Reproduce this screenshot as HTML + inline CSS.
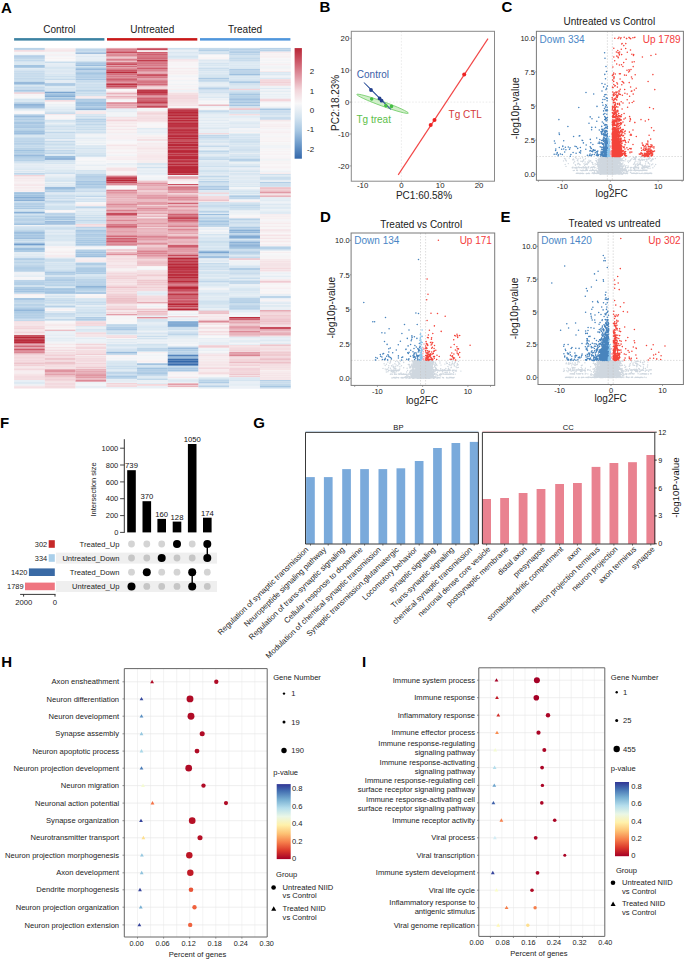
<!DOCTYPE html>
<html><head><meta charset="utf-8"><title>Figure</title>
<style>html,body{margin:0;padding:0;background:#fff;overflow:hidden;width:685px;height:960px;}svg{display:block;}text{font-family:"Liberation Sans",sans-serif;}</style></head><body>
<svg width="685" height="960" viewBox="0 0 685 960" font-family="Liberation Sans, sans-serif">
<rect width="685" height="960" fill="#fff"/>
<text x="1.00" y="12.90" font-size="15" text-anchor="start" fill="#000" font-weight="bold">A</text>
<text x="59.40" y="33.30" font-size="10" text-anchor="middle" fill="#1a1a1a">Control</text>
<text x="152.30" y="33.30" font-size="10" text-anchor="middle" fill="#1a1a1a">Untreated</text>
<text x="245.00" y="33.30" font-size="10" text-anchor="middle" fill="#1a1a1a">Treated</text>
<rect x="14.1" y="38.1" width="90.3" height="2.5" fill="#3c82a2"/>
<rect x="107" y="38.1" width="90.3" height="2.5" fill="#c81818"/>
<rect x="200" y="38.1" width="90.4" height="2.5" fill="#5096dc"/>
<style>.hm rect{width:30.78px}</style>
<g class="hm" transform="translate(14.10 0)"><rect y="47.9" height="2.1" fill="#bad3e8"/><rect y="49.9" height="0.5" fill="#e6edf4"/><rect y="50.3" height="1.4" fill="#f1d1d6"/><rect y="51.6" height="0.2" fill="#f2d4d9"/><rect y="51.7" height="1.1" fill="#f4f5f7"/><rect y="52.7" height="1.1" fill="#f4f5f7"/><rect y="53.7" height="1.6" fill="#f0f3f6"/><rect y="55.2" height="1.4" fill="#b3cee6"/><rect y="56.5" height="1.1" fill="#9abddd"/><rect y="57.5" height="1.4" fill="#b7d1e7"/><rect y="58.8" height="1.7" fill="#cde0ee"/><rect y="60.4" height="1.2" fill="#abcae4"/><rect y="61.5" height="1.1" fill="#dbe8f2"/><rect y="62.5" height="1.1" fill="#cee0ee"/><rect y="63.5" height="1.4" fill="#d6e5f0"/><rect y="64.8" height="0.3" fill="#e7eef4"/><rect y="65.0" height="2.1" fill="#a3c4e1"/><rect y="67.0" height="1.1" fill="#b1cde5"/><rect y="68.0" height="0.6" fill="#dbe8f2"/><rect y="68.5" height="2.1" fill="#dbe8f2"/><rect y="70.5" height="1.4" fill="#c2d8eb"/><rect y="71.8" height="1.1" fill="#cddfee"/><rect y="72.8" height="2.1" fill="#c6dbec"/><rect y="74.8" height="1.4" fill="#cadded"/><rect y="76.1" height="1.6" fill="#c3d9eb"/><rect y="77.6" height="1.4" fill="#c3d9eb"/><rect y="78.9" height="1.4" fill="#c9dded"/><rect y="80.2" height="2.1" fill="#c4daeb"/><rect y="82.2" height="1.7" fill="#83abd3"/><rect y="83.8" height="1.7" fill="#b5d0e7"/><rect y="85.4" height="1.4" fill="#d9e7f1"/><rect y="86.7" height="1.1" fill="#b2cee6"/><rect y="87.7" height="2.1" fill="#cadded"/><rect y="89.7" height="1.7" fill="#a9c8e3"/><rect y="91.3" height="1.1" fill="#afcce5"/><rect y="92.3" height="0.2" fill="#abc9e4"/><rect y="92.4" height="1.5" fill="#f0ced3"/><rect y="93.8" height="1.4" fill="#f5f5f7"/><rect y="95.1" height="1.4" fill="#f7f3f5"/><rect y="96.4" height="1.4" fill="#f4f5f7"/><rect y="97.7" height="1.1" fill="#f1f4f7"/><rect y="98.7" height="2.1" fill="#d5e5f0"/><rect y="100.7" height="1.1" fill="#d2e3f0"/><rect y="101.7" height="0.4" fill="#dee9f2"/><rect y="102.0" height="1.7" fill="#c2d8ea"/><rect y="103.6" height="2.1" fill="#8eb4d8"/><rect y="105.6" height="1.1" fill="#739fcd"/><rect y="106.6" height="1.1" fill="#a9c8e3"/><rect y="107.6" height="1.0" fill="#7ea7d1"/><rect y="108.5" height="2.1" fill="#dee9f2"/><rect y="110.5" height="0.9" fill="#e5edf4"/><rect y="111.3" height="1.4" fill="#f8f5f7"/><rect y="112.6" height="1.5" fill="#f7f6f8"/><rect y="114.0" height="1.4" fill="#c9dded"/><rect y="115.3" height="2.1" fill="#9bbddd"/><rect y="117.3" height="1.1" fill="#a5c5e2"/><rect y="118.3" height="2.1" fill="#b0cde5"/><rect y="120.3" height="1.4" fill="#b3cee6"/><rect y="121.6" height="1.7" fill="#a7c7e2"/><rect y="123.2" height="1.4" fill="#99bcdd"/><rect y="124.5" height="1.7" fill="#afcce5"/><rect y="126.1" height="1.1" fill="#a7c7e2"/><rect y="127.1" height="1.1" fill="#a2c3e0"/><rect y="128.1" height="2.1" fill="#bbd4e8"/><rect y="130.1" height="1.1" fill="#accae4"/><rect y="131.1" height="1.7" fill="#9abddd"/><rect y="132.7" height="2.1" fill="#9cbede"/><rect y="134.7" height="2.1" fill="#d8e6f1"/><rect y="136.7" height="1.1" fill="#c9dded"/><rect y="137.7" height="1.7" fill="#c0d7ea"/><rect y="139.3" height="1.4" fill="#b0cde5"/><rect y="140.6" height="2.1" fill="#bad3e8"/><rect y="142.6" height="1.7" fill="#b6d0e7"/><rect y="144.2" height="1.4" fill="#b0cce5"/><rect y="145.5" height="2.1" fill="#c3d9eb"/><rect y="147.5" height="2.1" fill="#b8d2e7"/><rect y="149.5" height="2.1" fill="#a0c2e0"/><rect y="151.5" height="1.4" fill="#a8c7e2"/><rect y="152.8" height="1.7" fill="#bbd4e8"/><rect y="154.4" height="1.7" fill="#97badc"/><rect y="156.0" height="1.1" fill="#abc9e3"/><rect y="157.0" height="1.4" fill="#b3cee6"/><rect y="158.3" height="1.4" fill="#a9c8e3"/><rect y="159.6" height="2.1" fill="#b6d1e7"/><rect y="161.6" height="1.5" fill="#d4e4f0"/><rect y="163.0" height="1.7" fill="#e0eaf3"/><rect y="164.6" height="1.7" fill="#e3ecf3"/><rect y="166.2" height="1.1" fill="#e0eaf3"/><rect y="167.2" height="1.4" fill="#dce8f2"/><rect y="168.5" height="1.4" fill="#d4e4f0"/><rect y="169.8" height="1.1" fill="#ecf0f5"/><rect y="170.8" height="1.7" fill="#d9e7f1"/><rect y="172.4" height="0.7" fill="#dce8f2"/><rect y="173.0" height="1.1" fill="#bfd6ea"/><rect y="174.0" height="1.1" fill="#cee0ee"/><rect y="175.0" height="1.7" fill="#f2d4d9"/><rect y="176.6" height="1.4" fill="#f6edef"/><rect y="177.9" height="1.4" fill="#f5e8eb"/><rect y="179.2" height="2.1" fill="#f6ecee"/><rect y="181.2" height="1.1" fill="#f6edef"/><rect y="182.2" height="1.7" fill="#f7f1f3"/><rect y="183.8" height="1.4" fill="#f6e9ec"/><rect y="185.1" height="1.1" fill="#f5e5e8"/><rect y="186.1" height="1.1" fill="#f7f1f3"/><rect y="187.1" height="1.7" fill="#f6e9eb"/><rect y="188.7" height="1.1" fill="#f7f0f2"/><rect y="189.7" height="2.1" fill="#f6edef"/><rect y="191.7" height="0.4" fill="#f7f2f3"/><rect y="192.0" height="1.1" fill="#abcae4"/><rect y="193.0" height="1.7" fill="#a2c3e0"/><rect y="194.6" height="2.1" fill="#a0c2e0"/><rect y="196.6" height="2.1" fill="#87aed5"/><rect y="198.6" height="1.1" fill="#98bbdc"/><rect y="199.6" height="1.7" fill="#8ab0d6"/><rect y="201.2" height="1.4" fill="#c7dbec"/><rect y="202.5" height="1.7" fill="#b5d0e7"/><rect y="204.1" height="1.4" fill="#aecbe4"/><rect y="205.4" height="1.7" fill="#aecbe5"/><rect y="207.0" height="1.1" fill="#bfd6ea"/><rect y="208.0" height="1.1" fill="#abc9e3"/><rect y="209.0" height="2.1" fill="#d4e4f0"/><rect y="211.0" height="1.1" fill="#c3d9eb"/><rect y="212.0" height="1.1" fill="#88afd6"/><rect y="213.0" height="1.1" fill="#b3cee6"/><rect y="214.0" height="1.4" fill="#d3e3f0"/><rect y="215.3" height="2.1" fill="#b6d1e7"/><rect y="217.3" height="2.1" fill="#bdd5e9"/><rect y="219.3" height="1.4" fill="#a4c5e1"/><rect y="220.6" height="1.1" fill="#b1cde5"/><rect y="221.6" height="1.7" fill="#bed5e9"/><rect y="223.2" height="1.9" fill="#a2c3e0"/><rect y="225.0" height="1.1" fill="#f0f3f6"/><rect y="226.0" height="0.6" fill="#eaf0f5"/><rect y="226.5" height="1.1" fill="#c2d8eb"/><rect y="227.5" height="1.4" fill="#cbdeed"/><rect y="228.8" height="1.4" fill="#ccdfed"/><rect y="230.1" height="1.4" fill="#bbd4e8"/><rect y="231.4" height="1.7" fill="#9dbfde"/><rect y="233.0" height="1.7" fill="#a2c3e0"/><rect y="234.6" height="1.4" fill="#a5c5e2"/><rect y="235.9" height="1.4" fill="#adcbe4"/><rect y="237.2" height="2.1" fill="#9ebfde"/><rect y="239.2" height="2.1" fill="#c4daeb"/><rect y="241.2" height="1.4" fill="#ccdfee"/><rect y="242.5" height="1.1" fill="#a4c4e1"/><rect y="243.5" height="1.7" fill="#719dcc"/><rect y="245.1" height="1.1" fill="#a9c8e3"/><rect y="246.1" height="1.7" fill="#c8dcec"/><rect y="247.7" height="1.4" fill="#9dbfde"/><rect y="249.0" height="1.1" fill="#9bbedd"/><rect y="250.0" height="2.1" fill="#adcbe4"/><rect y="252.0" height="1.4" fill="#e5edf4"/><rect y="253.3" height="1.7" fill="#dfeaf2"/><rect y="254.9" height="1.1" fill="#e6eef4"/><rect y="255.9" height="1.1" fill="#dce8f2"/><rect y="256.9" height="0.8" fill="#e9eff5"/><rect y="257.6" height="1.4" fill="#b9d3e8"/><rect y="258.9" height="1.1" fill="#aecbe5"/><rect y="259.9" height="2.1" fill="#c8dcec"/><rect y="261.9" height="1.4" fill="#bbd4e8"/><rect y="263.2" height="1.1" fill="#bfd6e9"/><rect y="264.2" height="2.1" fill="#bfd6e9"/><rect y="266.2" height="1.7" fill="#aecbe4"/><rect y="267.8" height="1.1" fill="#a9c8e3"/><rect y="268.8" height="2.1" fill="#b6d0e7"/><rect y="270.8" height="1.0" fill="#a6c6e2"/><rect y="271.7" height="2.1" fill="#eef1f6"/><rect y="273.7" height="1.7" fill="#edf1f6"/><rect y="275.3" height="1.7" fill="#e2ecf3"/><rect y="276.9" height="1.1" fill="#f8f5f7"/><rect y="277.9" height="1.7" fill="#f5f5f7"/><rect y="279.5" height="0.6" fill="#ebf0f5"/><rect y="280.0" height="2.1" fill="#bcd4e9"/><rect y="282.0" height="2.1" fill="#b5d0e7"/><rect y="284.0" height="1.1" fill="#b2cee6"/><rect y="285.0" height="2.1" fill="#d1e2ef"/><rect y="287.0" height="2.1" fill="#aecbe4"/><rect y="289.0" height="1.7" fill="#a1c2e0"/><rect y="290.6" height="2.1" fill="#a2c3e1"/><rect y="292.6" height="1.1" fill="#bdd5e9"/><rect y="293.6" height="0.5" fill="#c9dded"/><rect y="294.0" height="1.1" fill="#f7eef0"/><rect y="295.0" height="2.1" fill="#f8f6f7"/><rect y="297.0" height="1.1" fill="#f5f6f7"/><rect y="298.0" height="2.1" fill="#a7c6e2"/><rect y="300.0" height="2.1" fill="#bfd6ea"/><rect y="302.0" height="1.7" fill="#c5daeb"/><rect y="303.6" height="1.7" fill="#b8d2e7"/><rect y="305.2" height="1.1" fill="#aecbe4"/><rect y="306.2" height="1.1" fill="#bcd4e9"/><rect y="307.2" height="2.1" fill="#afcce5"/><rect y="309.2" height="2.1" fill="#92b7da"/><rect y="311.2" height="1.7" fill="#a4c5e1"/><rect y="312.8" height="2.1" fill="#b4cfe6"/><rect y="314.8" height="1.4" fill="#b3cfe6"/><rect y="316.1" height="2.1" fill="#b4cfe6"/><rect y="318.1" height="1.4" fill="#bbd4e9"/><rect y="319.4" height="1.9" fill="#c4d9eb"/><rect y="321.2" height="1.1" fill="#f3dadf"/><rect y="322.2" height="1.7" fill="#f4e0e4"/><rect y="323.8" height="2.1" fill="#f5e6e9"/><rect y="325.8" height="2.1" fill="#f3dade"/><rect y="327.8" height="1.4" fill="#f2d5da"/><rect y="329.1" height="1.4" fill="#f4e1e4"/><rect y="330.4" height="1.7" fill="#f4e1e5"/><rect y="332.0" height="1.7" fill="#f2d5da"/><rect y="333.6" height="1.4" fill="#f5e8eb"/><rect y="334.9" height="0.4" fill="#f2d7db"/><rect y="335.2" height="1.4" fill="#ba2c3c"/><rect y="336.5" height="2.1" fill="#b82636"/><rect y="338.5" height="1.4" fill="#bc3141"/><rect y="339.8" height="1.4" fill="#ba2c3c"/><rect y="341.1" height="2.0" fill="#ba2a3a"/><rect y="343.0" height="1.1" fill="#d77a88"/><rect y="344.0" height="1.4" fill="#e6abb5"/><rect y="345.3" height="2.1" fill="#d26a79"/><rect y="347.3" height="1.7" fill="#e29ca7"/><rect y="348.9" height="1.4" fill="#cc5868"/><rect y="350.2" height="1.1" fill="#d77a88"/><rect y="351.2" height="1.1" fill="#da8391"/><rect y="352.2" height="1.4" fill="#d57482"/><rect y="353.5" height="1.1" fill="#efcbd1"/><rect y="354.5" height="1.1" fill="#edc2c9"/><rect y="355.5" height="1.7" fill="#f4dde1"/><rect y="357.1" height="1.7" fill="#f2d4d9"/><rect y="358.7" height="1.1" fill="#f4dde1"/><rect y="359.7" height="1.7" fill="#f3d8dd"/><rect y="361.3" height="1.7" fill="#f2d5da"/><rect y="362.9" height="1.4" fill="#edc4cb"/><rect y="364.2" height="1.1" fill="#f1d2d7"/><rect y="365.2" height="0.9" fill="#efc9cf"/><rect y="366.0" height="1.7" fill="#f5e6e9"/><rect y="367.6" height="1.4" fill="#f4e2e5"/><rect y="368.9" height="1.7" fill="#f3d8dd"/><rect y="370.5" height="1.1" fill="#f6ebed"/><rect y="371.5" height="1.1" fill="#f5e8eb"/><rect y="372.5" height="1.1" fill="#f6ebee"/><rect y="373.5" height="1.1" fill="#f5e5e8"/><rect y="374.5" height="1.1" fill="#f3dce0"/><rect y="375.5" height="1.4" fill="#f3d9de"/><rect y="376.8" height="2.1" fill="#f3dce0"/><rect y="378.8" height="1.3" fill="#f4dde1"/><rect y="380.0" height="1.7" fill="#e9eff5"/><rect y="381.6" height="1.4" fill="#dde9f2"/><rect y="382.9" height="1.1" fill="#dee9f2"/><rect y="383.9" height="1.9" fill="#edf1f5"/><rect y="385.7" height="1.7" fill="#f5e5e8"/><rect y="387.3" height="1.1" fill="#f3d8dd"/><rect y="388.3" height="0.2" fill="#f6edef"/></g>
<g class="hm" transform="translate(44.83 0)"><rect y="47.9" height="1.1" fill="#f7f1f3"/><rect y="48.9" height="1.4" fill="#f6ebed"/><rect y="50.2" height="0.2" fill="#f6ecef"/><rect y="50.3" height="1.5" fill="#f4dfe3"/><rect y="51.7" height="1.1" fill="#f0f3f6"/><rect y="52.7" height="1.7" fill="#f4f5f7"/><rect y="54.3" height="1.4" fill="#f6edef"/><rect y="55.6" height="1.1" fill="#edf1f6"/><rect y="56.6" height="1.1" fill="#f8f6f7"/><rect y="57.6" height="1.7" fill="#f7f3f4"/><rect y="59.2" height="2.1" fill="#f8f7f8"/><rect y="61.2" height="0.4" fill="#f7f0f2"/><rect y="61.5" height="1.7" fill="#cadeed"/><rect y="63.1" height="2.1" fill="#e5edf4"/><rect y="65.1" height="2.1" fill="#e0eaf3"/><rect y="67.1" height="1.1" fill="#d2e3ef"/><rect y="68.1" height="1.1" fill="#d4e4f0"/><rect y="69.1" height="2.1" fill="#dde9f2"/><rect y="71.1" height="1.7" fill="#d7e5f1"/><rect y="72.7" height="1.4" fill="#e2ebf3"/><rect y="74.0" height="1.7" fill="#d8e6f1"/><rect y="75.6" height="2.1" fill="#cee0ee"/><rect y="77.6" height="1.4" fill="#d7e6f1"/><rect y="78.9" height="1.4" fill="#c6dbec"/><rect y="80.2" height="1.7" fill="#e3ecf3"/><rect y="81.8" height="1.4" fill="#e2ebf3"/><rect y="83.1" height="0.2" fill="#d5e5f0"/><rect y="83.2" height="1.7" fill="#a4c4e1"/><rect y="84.8" height="1.3" fill="#b4cfe6"/><rect y="86.0" height="1.7" fill="#dbe8f2"/><rect y="87.6" height="1.4" fill="#d6e5f0"/><rect y="88.9" height="2.1" fill="#d8e6f1"/><rect y="90.9" height="0.9" fill="#d2e3f0"/><rect y="91.7" height="1.7" fill="#7ba5d0"/><rect y="93.3" height="1.7" fill="#a1c2e0"/><rect y="94.9" height="1.1" fill="#9bbedd"/><rect y="95.9" height="1.1" fill="#81aad3"/><rect y="96.9" height="1.1" fill="#bdd5e9"/><rect y="97.9" height="2.1" fill="#a6c6e2"/><rect y="99.9" height="0.2" fill="#b1cde5"/><rect y="100.0" height="1.1" fill="#f3dce0"/><rect y="101.0" height="1.1" fill="#f5e5e8"/><rect y="102.0" height="2.1" fill="#f6f6f7"/><rect y="104.0" height="1.7" fill="#ecf1f5"/><rect y="105.6" height="1.1" fill="#edf1f6"/><rect y="106.6" height="1.1" fill="#dfeaf3"/><rect y="107.6" height="1.0" fill="#e2ecf3"/><rect y="108.5" height="2.1" fill="#dee9f2"/><rect y="110.5" height="1.1" fill="#d9e6f1"/><rect y="111.5" height="1.4" fill="#cee0ee"/><rect y="112.8" height="1.3" fill="#c8dcec"/><rect y="114.0" height="1.4" fill="#f5e7ea"/><rect y="115.3" height="2.1" fill="#f6f6f7"/><rect y="117.3" height="2.1" fill="#f8f4f6"/><rect y="119.3" height="0.5" fill="#f8f6f7"/><rect y="119.7" height="2.1" fill="#d0e2ef"/><rect y="121.7" height="1.1" fill="#d0e1ef"/><rect y="122.7" height="1.7" fill="#eaf0f5"/><rect y="124.3" height="1.1" fill="#d5e5f0"/><rect y="125.3" height="1.7" fill="#ccdeed"/><rect y="126.9" height="2.1" fill="#d9e6f1"/><rect y="128.9" height="1.7" fill="#d2e3ef"/><rect y="130.5" height="1.4" fill="#dde9f2"/><rect y="131.8" height="1.7" fill="#c0d7ea"/><rect y="133.4" height="1.4" fill="#d1e2ef"/><rect y="134.7" height="1.4" fill="#d5e4f0"/><rect y="136.0" height="1.4" fill="#d5e5f0"/><rect y="137.3" height="2.1" fill="#ccdfee"/><rect y="139.3" height="1.7" fill="#e5edf4"/><rect y="140.9" height="1.7" fill="#c5daeb"/><rect y="142.5" height="1.4" fill="#d4e4f0"/><rect y="143.8" height="1.1" fill="#c1d8ea"/><rect y="144.8" height="1.7" fill="#d3e3f0"/><rect y="146.4" height="1.1" fill="#d2e3ef"/><rect y="147.4" height="1.4" fill="#c1d8ea"/><rect y="148.7" height="1.4" fill="#dee9f2"/><rect y="150.0" height="1.1" fill="#c0d7ea"/><rect y="151.0" height="1.4" fill="#ccdfee"/><rect y="152.3" height="2.1" fill="#bdd5e9"/><rect y="154.3" height="1.1" fill="#dfeaf2"/><rect y="155.3" height="0.8" fill="#d2e3ef"/><rect y="156.0" height="2.1" fill="#9abddd"/><rect y="158.0" height="1.7" fill="#8db3d8"/><rect y="159.6" height="0.5" fill="#6c9aca"/><rect y="160.0" height="1.4" fill="#d2e2ef"/><rect y="161.3" height="1.1" fill="#cadded"/><rect y="162.3" height="2.1" fill="#d6e5f1"/><rect y="164.3" height="2.1" fill="#e7eef4"/><rect y="166.3" height="2.1" fill="#e4ecf4"/><rect y="168.3" height="1.1" fill="#e2ebf3"/><rect y="169.3" height="2.1" fill="#dbe8f1"/><rect y="171.3" height="1.1" fill="#d4e4f0"/><rect y="172.3" height="2.1" fill="#ccdfee"/><rect y="174.3" height="1.7" fill="#ebf0f5"/><rect y="175.9" height="1.4" fill="#e6eef4"/><rect y="177.2" height="2.1" fill="#dbe8f1"/><rect y="179.2" height="1.1" fill="#d4e4f0"/><rect y="180.2" height="1.7" fill="#cee0ee"/><rect y="181.8" height="1.1" fill="#f0f3f6"/><rect y="182.8" height="1.7" fill="#dde9f2"/><rect y="184.4" height="1.4" fill="#dfeaf2"/><rect y="185.7" height="1.1" fill="#cfe0ee"/><rect y="186.7" height="0.4" fill="#e0eaf3"/><rect y="187.0" height="2.1" fill="#9abddd"/><rect y="189.0" height="1.7" fill="#accae4"/><rect y="190.6" height="2.0" fill="#b2cee6"/><rect y="192.5" height="2.1" fill="#e0eaf3"/><rect y="194.5" height="1.4" fill="#c6dbec"/><rect y="195.8" height="1.7" fill="#cbdeed"/><rect y="197.4" height="2.1" fill="#c9dded"/><rect y="199.4" height="1.1" fill="#d9e6f1"/><rect y="200.4" height="1.7" fill="#bfd6e9"/><rect y="202.0" height="1.4" fill="#cadded"/><rect y="203.3" height="1.1" fill="#ccdfee"/><rect y="204.3" height="1.7" fill="#dbe8f2"/><rect y="205.9" height="2.1" fill="#d0e2ef"/><rect y="207.9" height="2.1" fill="#d0e1ef"/><rect y="209.9" height="0.2" fill="#d6e5f0"/><rect y="210.0" height="1.7" fill="#f8f5f6"/><rect y="211.6" height="1.3" fill="#f8f6f7"/><rect y="212.8" height="1.1" fill="#b9d2e8"/><rect y="213.8" height="1.7" fill="#bad3e8"/><rect y="215.4" height="1.4" fill="#b3cfe6"/><rect y="216.7" height="1.1" fill="#8fb4d8"/><rect y="217.7" height="1.1" fill="#abc9e3"/><rect y="218.7" height="1.7" fill="#a7c7e2"/><rect y="220.3" height="1.1" fill="#c1d8ea"/><rect y="221.3" height="1.4" fill="#7ba5d0"/><rect y="222.6" height="1.1" fill="#a9c8e3"/><rect y="223.6" height="1.1" fill="#74a0cd"/><rect y="224.6" height="0.9" fill="#dae7f1"/><rect y="225.4" height="1.1" fill="#dfeaf2"/><rect y="226.4" height="1.7" fill="#d0e1ef"/><rect y="228.0" height="1.1" fill="#cbdeed"/><rect y="229.0" height="1.4" fill="#d1e2ef"/><rect y="230.3" height="1.1" fill="#dde9f2"/><rect y="231.3" height="2.1" fill="#d9e6f1"/><rect y="233.3" height="1.4" fill="#dce8f2"/><rect y="234.6" height="2.1" fill="#d4e4f0"/><rect y="236.6" height="1.1" fill="#c7dcec"/><rect y="237.6" height="1.4" fill="#dce8f2"/><rect y="238.9" height="2.1" fill="#d7e6f1"/><rect y="240.9" height="1.7" fill="#e3ecf3"/><rect y="242.5" height="1.1" fill="#e4edf4"/><rect y="243.5" height="1.4" fill="#dee9f2"/><rect y="244.8" height="1.7" fill="#e3ecf3"/><rect y="246.4" height="1.7" fill="#f7f1f2"/><rect y="248.0" height="1.4" fill="#f8f6f7"/><rect y="249.3" height="2.1" fill="#f8f5f6"/><rect y="251.3" height="2.1" fill="#f6eef0"/><rect y="253.3" height="1.7" fill="#f7f4f5"/><rect y="254.9" height="1.1" fill="#f6edef"/><rect y="255.9" height="1.4" fill="#f6ecee"/><rect y="257.2" height="0.5" fill="#f6ebed"/><rect y="257.6" height="1.4" fill="#dce8f2"/><rect y="258.9" height="2.1" fill="#cadeed"/><rect y="260.9" height="1.1" fill="#ccdfee"/><rect y="261.9" height="1.4" fill="#dde9f2"/><rect y="263.2" height="1.4" fill="#ccdfee"/><rect y="264.5" height="1.4" fill="#cddfee"/><rect y="265.8" height="1.4" fill="#d6e5f0"/><rect y="267.1" height="1.1" fill="#d1e2ef"/><rect y="268.1" height="1.4" fill="#d6e5f1"/><rect y="269.4" height="1.4" fill="#c6dbec"/><rect y="270.7" height="1.1" fill="#c3d9eb"/><rect y="271.7" height="1.4" fill="#aac8e3"/><rect y="273.0" height="2.1" fill="#b7d1e7"/><rect y="275.0" height="2.1" fill="#d6e5f1"/><rect y="277.0" height="2.1" fill="#bcd4e9"/><rect y="279.0" height="1.1" fill="#b2cee6"/><rect y="280.0" height="1.7" fill="#adcae4"/><rect y="281.6" height="1.7" fill="#b9d2e8"/><rect y="283.2" height="1.4" fill="#b9d2e8"/><rect y="284.5" height="1.4" fill="#a8c8e3"/><rect y="285.8" height="1.4" fill="#d3e3f0"/><rect y="287.1" height="1.1" fill="#d7e6f1"/><rect y="288.1" height="2.1" fill="#a5c6e2"/><rect y="290.1" height="2.1" fill="#a8c7e3"/><rect y="292.1" height="1.1" fill="#9bbede"/><rect y="293.1" height="1.0" fill="#aac9e3"/><rect y="294.0" height="1.4" fill="#e8eef4"/><rect y="295.3" height="2.1" fill="#d7e5f1"/><rect y="297.3" height="0.8" fill="#deeaf2"/><rect y="298.0" height="2.1" fill="#cee0ee"/><rect y="300.0" height="1.7" fill="#c5daec"/><rect y="301.6" height="1.4" fill="#c8dcec"/><rect y="302.9" height="1.4" fill="#cfe1ee"/><rect y="304.2" height="1.4" fill="#d9e6f1"/><rect y="305.5" height="2.1" fill="#b7d1e7"/><rect y="307.5" height="0.6" fill="#d8e6f1"/><rect y="308.0" height="1.4" fill="#f2f4f7"/><rect y="309.3" height="1.1" fill="#f6ecee"/><rect y="310.3" height="0.8" fill="#f8f6f7"/><rect y="311.0" height="2.1" fill="#e0eaf3"/><rect y="313.0" height="2.1" fill="#c7dbec"/><rect y="315.0" height="2.1" fill="#cddfee"/><rect y="317.0" height="2.1" fill="#dde9f2"/><rect y="319.0" height="1.7" fill="#c2d8ea"/><rect y="320.6" height="0.7" fill="#d8e6f1"/><rect y="321.2" height="1.4" fill="#f7f6f8"/><rect y="322.5" height="1.7" fill="#f7f2f3"/><rect y="324.1" height="2.1" fill="#f6e9eb"/><rect y="326.1" height="2.1" fill="#f7f0f2"/><rect y="328.1" height="1.6" fill="#f8f5f6"/><rect y="329.6" height="1.5" fill="#ebbec5"/><rect y="331.0" height="1.7" fill="#e9eff5"/><rect y="332.6" height="1.7" fill="#ecf1f5"/><rect y="334.2" height="2.1" fill="#e6edf4"/><rect y="336.2" height="1.7" fill="#ebf0f5"/><rect y="337.8" height="1.4" fill="#e2ecf3"/><rect y="339.1" height="2.1" fill="#e6eef4"/><rect y="341.1" height="1.1" fill="#ebf0f5"/><rect y="342.1" height="1.7" fill="#f1f3f6"/><rect y="343.7" height="1.4" fill="#f6e9eb"/><rect y="345.0" height="2.1" fill="#f7f2f4"/><rect y="347.0" height="1.4" fill="#f5e3e6"/><rect y="348.3" height="1.7" fill="#f6eaec"/><rect y="349.9" height="1.1" fill="#f3dadf"/><rect y="350.9" height="1.1" fill="#f6eaec"/><rect y="351.9" height="0.2" fill="#f5e7ea"/><rect y="352.0" height="1.7" fill="#f3dce0"/><rect y="353.6" height="1.1" fill="#f2d6db"/><rect y="354.6" height="2.1" fill="#f1cfd5"/><rect y="356.6" height="1.4" fill="#f4e1e5"/><rect y="357.9" height="2.1" fill="#eec6cc"/><rect y="359.9" height="2.1" fill="#f3dde1"/><rect y="361.9" height="2.1" fill="#edc3ca"/><rect y="363.9" height="1.7" fill="#f2d4d9"/><rect y="365.5" height="1.4" fill="#f3d8dc"/><rect y="366.8" height="1.1" fill="#f4e0e3"/><rect y="367.8" height="1.3" fill="#f4e2e5"/><rect y="369.0" height="1.1" fill="#e8b0b9"/><rect y="370.0" height="2.1" fill="#df939f"/><rect y="372.0" height="2.1" fill="#e9b4bd"/><rect y="374.0" height="1.7" fill="#e3a1ac"/><rect y="375.6" height="1.7" fill="#edc4cb"/><rect y="377.2" height="1.4" fill="#f0ccd2"/><rect y="378.5" height="1.4" fill="#f0ced3"/><rect y="379.8" height="0.3" fill="#efc9d0"/><rect y="380.0" height="1.7" fill="#f2d7db"/><rect y="381.6" height="1.1" fill="#f4e0e4"/><rect y="382.6" height="1.4" fill="#f3dade"/><rect y="383.9" height="1.7" fill="#f3dadf"/><rect y="385.5" height="1.4" fill="#f2d7db"/><rect y="386.8" height="1.1" fill="#f2d6db"/><rect y="387.8" height="0.7" fill="#f4e0e3"/></g>
<g class="hm" transform="translate(75.57 0)"><rect y="47.9" height="1.1" fill="#dbe8f2"/><rect y="48.9" height="2.1" fill="#bfd6ea"/><rect y="50.9" height="0.2" fill="#cddfee"/><rect y="51.0" height="1.7" fill="#cadded"/><rect y="52.6" height="1.3" fill="#83abd4"/><rect y="53.8" height="2.1" fill="#e9eff5"/><rect y="55.8" height="1.7" fill="#e0eaf3"/><rect y="57.4" height="1.4" fill="#e3ecf3"/><rect y="58.7" height="1.7" fill="#e7eef4"/><rect y="60.3" height="1.3" fill="#dfeaf2"/><rect y="61.5" height="1.4" fill="#b4cfe6"/><rect y="62.8" height="1.7" fill="#abc9e4"/><rect y="64.4" height="1.7" fill="#9abddd"/><rect y="66.0" height="1.4" fill="#d0e2ef"/><rect y="67.3" height="1.7" fill="#accae4"/><rect y="68.9" height="1.7" fill="#97badc"/><rect y="70.5" height="1.4" fill="#bdd5e9"/><rect y="71.8" height="1.1" fill="#abc9e3"/><rect y="72.8" height="2.1" fill="#a4c5e1"/><rect y="74.8" height="1.7" fill="#b8d2e8"/><rect y="76.4" height="1.4" fill="#9ec0df"/><rect y="77.7" height="1.1" fill="#bad3e8"/><rect y="78.7" height="1.4" fill="#a8c7e3"/><rect y="80.0" height="0.5" fill="#b4cfe6"/><rect y="80.4" height="1.7" fill="#c6dbec"/><rect y="82.0" height="1.4" fill="#cee0ee"/><rect y="83.3" height="1.7" fill="#cddfee"/><rect y="84.9" height="2.1" fill="#d0e1ef"/><rect y="86.9" height="1.1" fill="#c9dded"/><rect y="87.9" height="2.1" fill="#d0e1ef"/><rect y="89.9" height="1.1" fill="#b8d2e7"/><rect y="90.9" height="1.7" fill="#c4d9eb"/><rect y="92.5" height="1.7" fill="#c7dcec"/><rect y="94.1" height="1.9" fill="#d0e1ef"/><rect y="95.9" height="1.7" fill="#f5e8ea"/><rect y="97.5" height="1.3" fill="#f5e8eb"/><rect y="98.7" height="1.4" fill="#adcbe4"/><rect y="100.0" height="1.4" fill="#b3cfe6"/><rect y="101.3" height="1.7" fill="#a0c2e0"/><rect y="102.9" height="1.1" fill="#9cbfde"/><rect y="103.9" height="1.1" fill="#a7c7e2"/><rect y="104.9" height="1.4" fill="#a1c2e0"/><rect y="106.2" height="1.1" fill="#aecbe4"/><rect y="107.2" height="1.7" fill="#a0c2e0"/><rect y="108.8" height="1.2" fill="#86add4"/><rect y="109.9" height="1.4" fill="#e3ecf3"/><rect y="111.2" height="0.2" fill="#eaf0f5"/><rect y="111.3" height="1.4" fill="#f5e6e9"/><rect y="112.6" height="1.1" fill="#f5e5e8"/><rect y="113.6" height="0.5" fill="#f4e1e4"/><rect y="114.0" height="1.7" fill="#d9e7f1"/><rect y="115.6" height="2.1" fill="#cddfee"/><rect y="117.6" height="1.1" fill="#d6e5f0"/><rect y="118.6" height="2.1" fill="#b5d0e7"/><rect y="120.6" height="2.1" fill="#bdd5e9"/><rect y="122.6" height="1.1" fill="#c9dded"/><rect y="123.6" height="2.1" fill="#bfd7ea"/><rect y="125.6" height="1.1" fill="#cbdeed"/><rect y="126.6" height="2.1" fill="#cadeed"/><rect y="128.6" height="1.7" fill="#c7dcec"/><rect y="130.2" height="2.1" fill="#d6e5f0"/><rect y="132.2" height="1.5" fill="#c6dbec"/><rect y="133.6" height="1.4" fill="#eff2f6"/><rect y="134.9" height="1.7" fill="#f1f3f6"/><rect y="136.5" height="1.1" fill="#e8eff5"/><rect y="137.5" height="1.7" fill="#e3ecf3"/><rect y="139.1" height="2.1" fill="#ebf0f5"/><rect y="141.1" height="1.4" fill="#f0f3f6"/><rect y="142.4" height="2.1" fill="#eaf0f5"/><rect y="144.4" height="0.7" fill="#f2f4f7"/><rect y="145.0" height="1.1" fill="#dfeaf2"/><rect y="146.0" height="1.7" fill="#dbe8f2"/><rect y="147.6" height="1.7" fill="#d3e3f0"/><rect y="149.2" height="1.7" fill="#d9e7f1"/><rect y="150.8" height="2.1" fill="#dce8f2"/><rect y="152.8" height="2.1" fill="#d4e4f0"/><rect y="154.8" height="1.3" fill="#cee0ee"/><rect y="156.0" height="1.4" fill="#d8e6f1"/><rect y="157.3" height="2.1" fill="#f6f6f8"/><rect y="159.3" height="1.7" fill="#f7f6f8"/><rect y="160.9" height="1.4" fill="#f0f3f6"/><rect y="162.2" height="1.4" fill="#f3f4f7"/><rect y="163.5" height="1.1" fill="#edf1f6"/><rect y="164.5" height="1.7" fill="#e7eef4"/><rect y="166.1" height="1.4" fill="#f1f3f6"/><rect y="167.4" height="1.4" fill="#edf1f5"/><rect y="168.7" height="1.4" fill="#f0f3f6"/><rect y="170.0" height="1.1" fill="#d4e4f0"/><rect y="171.0" height="2.1" fill="#d9e7f1"/><rect y="173.0" height="1.1" fill="#d6e5f1"/><rect y="174.0" height="2.1" fill="#bed6e9"/><rect y="176.0" height="1.7" fill="#b3cee6"/><rect y="177.6" height="1.1" fill="#9dbfde"/><rect y="178.6" height="2.1" fill="#bbd4e9"/><rect y="180.6" height="1.4" fill="#a5c5e2"/><rect y="181.9" height="2.1" fill="#b1cde5"/><rect y="183.9" height="1.7" fill="#a3c4e1"/><rect y="185.5" height="1.4" fill="#abcae4"/><rect y="186.8" height="1.7" fill="#b1cde5"/><rect y="188.4" height="1.1" fill="#b8d2e8"/><rect y="189.4" height="1.1" fill="#cee0ee"/><rect y="190.4" height="1.4" fill="#c2d8ea"/><rect y="191.7" height="0.4" fill="#bdd5e9"/><rect y="192.0" height="1.7" fill="#dfeaf3"/><rect y="193.6" height="1.1" fill="#d2e3f0"/><rect y="194.6" height="1.1" fill="#d2e3ef"/><rect y="195.6" height="1.7" fill="#bfd6ea"/><rect y="197.2" height="1.1" fill="#e6eef4"/><rect y="198.2" height="2.1" fill="#d3e3f0"/><rect y="200.2" height="1.1" fill="#d5e4f0"/><rect y="201.2" height="0.9" fill="#cbdeed"/><rect y="202.0" height="1.4" fill="#f6f6f8"/><rect y="203.3" height="2.1" fill="#f7f1f3"/><rect y="205.3" height="0.8" fill="#f5e6e9"/><rect y="206.0" height="1.1" fill="#d1e2ef"/><rect y="207.0" height="1.7" fill="#bcd4e9"/><rect y="208.6" height="2.1" fill="#e5edf4"/><rect y="210.6" height="2.1" fill="#dbe8f2"/><rect y="212.6" height="1.5" fill="#dde9f2"/><rect y="214.0" height="1.1" fill="#dfeaf2"/><rect y="215.0" height="1.1" fill="#cfe1ee"/><rect y="216.0" height="1.1" fill="#dce8f2"/><rect y="217.0" height="1.1" fill="#c9dded"/><rect y="218.0" height="1.7" fill="#d5e5f0"/><rect y="219.6" height="2.1" fill="#c0d7ea"/><rect y="221.6" height="2.1" fill="#d0e2ef"/><rect y="223.6" height="0.5" fill="#d3e3f0"/><rect y="224.0" height="1.4" fill="#f3d9dd"/><rect y="225.3" height="1.4" fill="#f3dce0"/><rect y="226.6" height="0.3" fill="#f3d7dc"/><rect y="226.8" height="1.4" fill="#b9d2e8"/><rect y="228.1" height="2.1" fill="#c5dbec"/><rect y="230.1" height="1.1" fill="#9fc0df"/><rect y="231.1" height="1.1" fill="#a9c8e3"/><rect y="232.1" height="1.4" fill="#b0cde5"/><rect y="233.4" height="2.1" fill="#accae4"/><rect y="235.4" height="1.4" fill="#9ec0de"/><rect y="236.7" height="1.1" fill="#b9d3e8"/><rect y="237.7" height="1.7" fill="#b1cde5"/><rect y="239.3" height="2.1" fill="#a8c8e3"/><rect y="241.3" height="1.7" fill="#a7c7e2"/><rect y="242.9" height="1.1" fill="#bcd4e9"/><rect y="243.9" height="1.7" fill="#a7c7e2"/><rect y="245.5" height="1.0" fill="#b2cee6"/><rect y="246.4" height="1.7" fill="#f3f4f7"/><rect y="248.0" height="1.3" fill="#f7f7f8"/><rect y="249.2" height="1.1" fill="#cbdeed"/><rect y="250.2" height="1.4" fill="#a6c6e2"/><rect y="251.5" height="1.7" fill="#a1c2e0"/><rect y="253.1" height="1.1" fill="#b4cfe6"/><rect y="254.1" height="1.7" fill="#a0c1df"/><rect y="255.7" height="1.7" fill="#9cbfde"/><rect y="257.3" height="0.4" fill="#bad3e8"/><rect y="257.6" height="1.1" fill="#f7eff1"/><rect y="258.6" height="1.1" fill="#f6ecee"/><rect y="259.6" height="1.7" fill="#f6edef"/><rect y="261.2" height="0.9" fill="#f5e8eb"/><rect y="262.0" height="1.1" fill="#d7e5f1"/><rect y="263.0" height="2.1" fill="#b0cde5"/><rect y="265.0" height="1.7" fill="#c4daeb"/><rect y="266.6" height="1.4" fill="#bad3e8"/><rect y="267.9" height="2.1" fill="#adcbe4"/><rect y="269.9" height="1.1" fill="#afcce5"/><rect y="270.9" height="1.4" fill="#accae4"/><rect y="272.2" height="2.1" fill="#b0cde5"/><rect y="274.2" height="1.1" fill="#d3e4f0"/><rect y="275.2" height="1.7" fill="#d2e3ef"/><rect y="276.8" height="1.1" fill="#c6dbec"/><rect y="277.8" height="1.1" fill="#ccdfee"/><rect y="278.8" height="2.1" fill="#bbd4e8"/><rect y="280.8" height="1.1" fill="#b5d0e7"/><rect y="281.8" height="2.1" fill="#b8d2e8"/><rect y="283.8" height="2.1" fill="#bad3e8"/><rect y="285.8" height="2.1" fill="#8fb5d8"/><rect y="287.8" height="2.1" fill="#adcbe4"/><rect y="289.8" height="1.4" fill="#bbd4e8"/><rect y="291.1" height="1.1" fill="#c2d8eb"/><rect y="292.1" height="1.7" fill="#a5c5e2"/><rect y="293.7" height="0.4" fill="#97badc"/><rect y="294.0" height="2.1" fill="#f8f6f7"/><rect y="296.0" height="2.1" fill="#f7f2f3"/><rect y="298.0" height="1.1" fill="#d9e7f1"/><rect y="299.0" height="1.7" fill="#d5e4f0"/><rect y="300.6" height="1.1" fill="#ccdfee"/><rect y="301.6" height="1.7" fill="#c6dbec"/><rect y="303.2" height="2.1" fill="#cddfee"/><rect y="305.2" height="1.4" fill="#e5edf4"/><rect y="306.5" height="2.1" fill="#d4e4f0"/><rect y="308.5" height="1.4" fill="#d1e2ef"/><rect y="309.8" height="1.7" fill="#d3e3f0"/><rect y="311.4" height="1.7" fill="#c9dded"/><rect y="313.0" height="1.7" fill="#cfe1ee"/><rect y="314.6" height="1.7" fill="#d5e4f0"/><rect y="316.2" height="0.9" fill="#d8e6f1"/><rect y="317.0" height="1.7" fill="#b0cce5"/><rect y="318.6" height="1.4" fill="#adcae4"/><rect y="319.9" height="0.2" fill="#b7d1e7"/><rect y="320.0" height="1.3" fill="#c2d8eb"/><rect y="321.2" height="1.7" fill="#f3d9de"/><rect y="322.8" height="1.4" fill="#f2d6da"/><rect y="324.1" height="1.7" fill="#f3d8dd"/><rect y="325.7" height="0.4" fill="#f1cfd5"/><rect y="326.0" height="1.7" fill="#dfeaf3"/><rect y="327.6" height="1.4" fill="#ebf0f5"/><rect y="328.9" height="1.4" fill="#d7e5f1"/><rect y="330.2" height="1.4" fill="#d5e5f0"/><rect y="331.5" height="1.0" fill="#dae7f1"/><rect y="332.4" height="1.7" fill="#f3dade"/><rect y="334.0" height="2.1" fill="#f5e6e9"/><rect y="336.0" height="0.7" fill="#f2d3d8"/><rect y="336.6" height="1.7" fill="#edf1f6"/><rect y="338.2" height="1.1" fill="#dce8f2"/><rect y="339.2" height="1.1" fill="#ecf1f5"/><rect y="340.2" height="1.1" fill="#ecf1f5"/><rect y="341.2" height="1.7" fill="#e9eff5"/><rect y="342.8" height="1.0" fill="#eff2f6"/><rect y="343.7" height="1.4" fill="#f2d5d9"/><rect y="345.0" height="1.1" fill="#f6e9ec"/><rect y="346.0" height="1.1" fill="#f5e3e6"/><rect y="347.0" height="2.1" fill="#f3d7dc"/><rect y="349.0" height="1.1" fill="#f6eaed"/><rect y="350.0" height="1.1" fill="#f4dfe2"/><rect y="351.0" height="1.1" fill="#f4dee2"/><rect y="352.0" height="1.7" fill="#f4dde1"/><rect y="353.6" height="1.4" fill="#f0ccd2"/><rect y="354.9" height="0.2" fill="#f3dade"/><rect y="355.0" height="1.1" fill="#f6edef"/><rect y="356.0" height="1.7" fill="#f4dfe3"/><rect y="357.6" height="1.4" fill="#f3dbdf"/><rect y="358.9" height="1.1" fill="#f4dde1"/><rect y="359.9" height="1.1" fill="#f3d9de"/><rect y="360.9" height="1.4" fill="#f3dce0"/><rect y="362.2" height="1.1" fill="#f4dfe3"/><rect y="363.2" height="1.4" fill="#f0ced4"/><rect y="364.5" height="2.1" fill="#f4dfe3"/><rect y="366.5" height="2.1" fill="#efcad0"/><rect y="368.5" height="0.6" fill="#f2d5da"/><rect y="369.0" height="1.7" fill="#e8b2bb"/><rect y="370.6" height="1.4" fill="#e5a8b2"/><rect y="371.9" height="1.4" fill="#e8b3bc"/><rect y="373.2" height="2.1" fill="#e29eaa"/><rect y="375.2" height="1.4" fill="#da8390"/><rect y="376.5" height="1.7" fill="#e29da8"/><rect y="378.1" height="1.1" fill="#ebbbc2"/><rect y="379.1" height="1.0" fill="#e8b2bb"/><rect y="380.0" height="1.4" fill="#dc8996"/><rect y="381.3" height="0.8" fill="#e29da8"/><rect y="382.0" height="1.4" fill="#eef2f6"/><rect y="383.3" height="1.4" fill="#ecf1f5"/><rect y="384.6" height="1.1" fill="#f7f6f8"/><rect y="385.6" height="1.4" fill="#e8eef4"/><rect y="386.9" height="1.4" fill="#e9eff5"/><rect y="388.2" height="0.3" fill="#f6f6f8"/></g>
<g class="hm" transform="translate(106.30 0)"><rect y="47.9" height="1.1" fill="#e7adb6"/><rect y="48.9" height="1.1" fill="#d87e8b"/><rect y="49.9" height="1.1" fill="#dc8a97"/><rect y="50.9" height="1.1" fill="#d77b89"/><rect y="51.9" height="1.4" fill="#c84d5d"/><rect y="53.2" height="1.4" fill="#dc8895"/><rect y="54.5" height="1.1" fill="#d06574"/><rect y="55.5" height="1.2" fill="#d46f7d"/><rect y="56.6" height="2.1" fill="#eec7ce"/><rect y="58.6" height="1.7" fill="#d97f8d"/><rect y="60.2" height="1.4" fill="#da8592"/><rect y="61.5" height="0.8" fill="#eec7ce"/><rect y="62.2" height="1.1" fill="#d06473"/><rect y="63.2" height="2.1" fill="#c95060"/><rect y="65.2" height="1.1" fill="#df94a0"/><rect y="66.2" height="1.1" fill="#ca5464"/><rect y="67.2" height="1.4" fill="#e097a3"/><rect y="68.5" height="1.1" fill="#cf6271"/><rect y="69.5" height="2.1" fill="#cb5464"/><rect y="71.5" height="2.1" fill="#ba2c3c"/><rect y="73.5" height="2.1" fill="#d36e7d"/><rect y="75.5" height="2.1" fill="#d87d8b"/><rect y="77.5" height="1.1" fill="#d57482"/><rect y="78.5" height="1.4" fill="#c64959"/><rect y="79.8" height="2.1" fill="#d57381"/><rect y="81.8" height="1.1" fill="#e29da8"/><rect y="82.8" height="1.1" fill="#d06373"/><rect y="83.8" height="1.7" fill="#be3444"/><rect y="85.4" height="1.7" fill="#c84e5e"/><rect y="87.0" height="1.7" fill="#db8794"/><rect y="88.6" height="0.3" fill="#d47180"/><rect y="88.8" height="1.7" fill="#f8f7f8"/><rect y="90.4" height="1.4" fill="#f7f3f4"/><rect y="91.7" height="1.4" fill="#f3d8dd"/><rect y="93.0" height="1.7" fill="#e8b2bb"/><rect y="94.6" height="1.7" fill="#f3dbdf"/><rect y="96.2" height="1.4" fill="#e4a4ae"/><rect y="97.5" height="1.1" fill="#efc9cf"/><rect y="98.5" height="1.0" fill="#eec5cb"/><rect y="99.4" height="2.1" fill="#f4f5f7"/><rect y="101.4" height="0.9" fill="#f7f6f8"/><rect y="102.2" height="2.1" fill="#dd8d9a"/><rect y="104.2" height="2.1" fill="#e4a4ae"/><rect y="106.2" height="1.1" fill="#e7adb6"/><rect y="107.2" height="1.1" fill="#e19aa6"/><rect y="108.2" height="0.4" fill="#e5a6b0"/><rect y="108.5" height="1.1" fill="#e4ecf3"/><rect y="109.5" height="1.1" fill="#e0eaf3"/><rect y="110.5" height="1.7" fill="#e5edf4"/><rect y="112.1" height="1.7" fill="#eff2f6"/><rect y="113.7" height="2.1" fill="#f2f4f7"/><rect y="115.7" height="1.3" fill="#ecf1f5"/><rect y="116.9" height="1.7" fill="#f5e4e7"/><rect y="118.5" height="1.4" fill="#f5e3e7"/><rect y="119.8" height="1.4" fill="#f2d3d8"/><rect y="121.1" height="1.5" fill="#f5e6e9"/><rect y="122.5" height="2.1" fill="#f6eaec"/><rect y="124.5" height="1.1" fill="#f7eff1"/><rect y="125.5" height="1.7" fill="#f5e6e9"/><rect y="127.1" height="1.7" fill="#f7f2f3"/><rect y="128.7" height="1.7" fill="#f5e8eb"/><rect y="130.3" height="1.4" fill="#f7f2f3"/><rect y="131.6" height="2.1" fill="#f6edef"/><rect y="133.6" height="1.1" fill="#eef2f6"/><rect y="134.6" height="2.1" fill="#f7f1f3"/><rect y="136.6" height="1.1" fill="#f6ecef"/><rect y="137.6" height="1.4" fill="#f7f0f2"/><rect y="138.9" height="1.1" fill="#f7f2f4"/><rect y="139.9" height="1.7" fill="#f3f4f7"/><rect y="141.5" height="1.1" fill="#f8f6f7"/><rect y="142.5" height="1.1" fill="#f5f6f7"/><rect y="143.5" height="1.1" fill="#f7f3f4"/><rect y="144.5" height="1.7" fill="#f5e5e8"/><rect y="146.1" height="1.7" fill="#f7eff1"/><rect y="147.7" height="2.1" fill="#f7eff1"/><rect y="149.7" height="1.1" fill="#f4f5f7"/><rect y="150.7" height="1.4" fill="#f8f4f6"/><rect y="152.0" height="1.7" fill="#f7eff1"/><rect y="153.6" height="1.1" fill="#f7f6f8"/><rect y="154.6" height="1.7" fill="#f1f3f6"/><rect y="156.2" height="2.1" fill="#f7eff1"/><rect y="158.2" height="2.1" fill="#f6edef"/><rect y="160.2" height="2.1" fill="#f5f5f7"/><rect y="162.2" height="0.9" fill="#f8f6f7"/><rect y="163.0" height="1.1" fill="#eaeff5"/><rect y="164.0" height="1.1" fill="#eaf0f5"/><rect y="165.0" height="1.7" fill="#f0f3f6"/><rect y="166.6" height="0.5" fill="#eff2f6"/><rect y="167.0" height="1.1" fill="#f6edef"/><rect y="168.0" height="2.1" fill="#f5e3e6"/><rect y="170.0" height="1.4" fill="#f5e4e7"/><rect y="171.3" height="1.1" fill="#f7f0f2"/><rect y="172.3" height="2.1" fill="#f7f1f2"/><rect y="174.3" height="1.4" fill="#f6eaec"/><rect y="175.6" height="1.4" fill="#d9818e"/><rect y="176.9" height="1.2" fill="#c84e5e"/><rect y="178.0" height="1.4" fill="#bf3747"/><rect y="179.3" height="2.1" fill="#b82636"/><rect y="181.3" height="1.8" fill="#c54757"/><rect y="183.0" height="1.4" fill="#dd8d99"/><rect y="184.3" height="1.3" fill="#d57281"/><rect y="185.5" height="1.1" fill="#f7f7f8"/><rect y="186.5" height="2.1" fill="#f7f6f8"/><rect y="188.5" height="1.3" fill="#f7f7f8"/><rect y="189.7" height="1.7" fill="#d9818f"/><rect y="191.3" height="2.1" fill="#e096a2"/><rect y="193.3" height="1.4" fill="#de909c"/><rect y="194.6" height="1.7" fill="#e9b3bc"/><rect y="196.2" height="2.1" fill="#e7b0b9"/><rect y="198.2" height="2.1" fill="#eabac2"/><rect y="200.2" height="2.1" fill="#e9b5be"/><rect y="202.2" height="1.4" fill="#e6aab4"/><rect y="203.5" height="2.1" fill="#dc8a97"/><rect y="205.5" height="1.4" fill="#e096a2"/><rect y="206.8" height="1.7" fill="#e7afb8"/><rect y="208.4" height="1.7" fill="#e7afb8"/><rect y="210.0" height="1.1" fill="#d9818e"/><rect y="211.0" height="2.1" fill="#e4a5af"/><rect y="213.0" height="2.1" fill="#c74c5c"/><rect y="215.0" height="1.4" fill="#d9808e"/><rect y="216.3" height="1.7" fill="#e5a7b1"/><rect y="217.9" height="1.7" fill="#e9b4bc"/><rect y="219.5" height="2.1" fill="#db8794"/><rect y="221.5" height="1.4" fill="#e5a6b0"/><rect y="222.8" height="1.1" fill="#e9b5be"/><rect y="223.8" height="2.1" fill="#d87b89"/><rect y="225.8" height="2.1" fill="#d06373"/><rect y="227.8" height="2.1" fill="#e4a5b0"/><rect y="229.8" height="1.1" fill="#e5a7b1"/><rect y="230.8" height="2.1" fill="#e39faa"/><rect y="232.8" height="1.7" fill="#e7afb8"/><rect y="234.4" height="1.1" fill="#df929f"/><rect y="235.4" height="1.7" fill="#d26877"/><rect y="237.0" height="1.1" fill="#e39faa"/><rect y="238.0" height="1.1" fill="#ce5e6d"/><rect y="239.0" height="2.1" fill="#d67785"/><rect y="241.0" height="1.4" fill="#ce5e6e"/><rect y="242.3" height="1.1" fill="#d46f7e"/><rect y="243.3" height="1.4" fill="#d77b89"/><rect y="244.6" height="1.1" fill="#cb5666"/><rect y="245.6" height="0.2" fill="#db8794"/><rect y="245.7" height="1.7" fill="#f0f3f6"/><rect y="247.3" height="1.4" fill="#f7f2f4"/><rect y="248.6" height="0.7" fill="#ecf1f5"/><rect y="249.2" height="1.7" fill="#edc4cb"/><rect y="250.8" height="1.4" fill="#f4dfe2"/><rect y="252.1" height="1.7" fill="#e8b1ba"/><rect y="253.7" height="1.7" fill="#de8f9b"/><rect y="255.3" height="1.4" fill="#f2d3d8"/><rect y="256.6" height="1.1" fill="#f4e0e4"/><rect y="257.6" height="1.7" fill="#f4dde1"/><rect y="259.2" height="1.4" fill="#f3d9de"/><rect y="260.5" height="2.1" fill="#f4e1e4"/><rect y="262.5" height="1.1" fill="#f4e1e5"/><rect y="263.5" height="1.1" fill="#f5e6e9"/><rect y="264.5" height="1.7" fill="#f4dfe3"/><rect y="266.1" height="2.0" fill="#f5e3e7"/><rect y="268.0" height="1.1" fill="#f6eef0"/><rect y="269.0" height="1.7" fill="#f7f2f3"/><rect y="270.6" height="0.5" fill="#f6ebed"/><rect y="271.0" height="1.4" fill="#f6e9ec"/><rect y="272.3" height="0.8" fill="#f3dbdf"/><rect y="273.0" height="1.7" fill="#f3d8dd"/><rect y="274.6" height="1.7" fill="#f3dade"/><rect y="276.2" height="1.4" fill="#efcad0"/><rect y="277.5" height="2.1" fill="#f1d1d6"/><rect y="279.5" height="2.1" fill="#f4dee2"/><rect y="281.5" height="2.1" fill="#f4dde1"/><rect y="283.5" height="1.7" fill="#f5e4e7"/><rect y="285.1" height="1.4" fill="#f3d8dc"/><rect y="286.4" height="2.1" fill="#edc1c8"/><rect y="288.4" height="2.1" fill="#f2d7dc"/><rect y="290.4" height="2.1" fill="#f3d8dc"/><rect y="292.4" height="2.1" fill="#f3dce0"/><rect y="294.4" height="1.4" fill="#ecbec6"/><rect y="295.7" height="0.4" fill="#f4e1e5"/><rect y="296.0" height="1.7" fill="#efc9cf"/><rect y="297.6" height="1.7" fill="#ecc0c7"/><rect y="299.2" height="1.7" fill="#ebbcc3"/><rect y="300.8" height="1.1" fill="#ebbdc5"/><rect y="301.8" height="2.1" fill="#eec6cc"/><rect y="303.8" height="2.1" fill="#f5e5e8"/><rect y="305.8" height="2.1" fill="#f3d8dd"/><rect y="307.8" height="1.1" fill="#f2d3d8"/><rect y="308.8" height="1.3" fill="#eec8ce"/><rect y="310.0" height="2.1" fill="#f5e7ea"/><rect y="312.0" height="1.7" fill="#f2d6db"/><rect y="313.6" height="0.5" fill="#f4dee2"/><rect y="314.0" height="1.4" fill="#e29ea9"/><rect y="315.3" height="0.4" fill="#e8b2bb"/><rect y="315.6" height="1.1" fill="#f2f4f7"/><rect y="316.6" height="1.4" fill="#f5f6f7"/><rect y="317.9" height="1.4" fill="#f5f5f7"/><rect y="319.2" height="1.4" fill="#f3f5f7"/><rect y="320.5" height="1.4" fill="#f8f5f6"/><rect y="321.8" height="1.7" fill="#f7f7f8"/><rect y="323.4" height="0.7" fill="#f2f4f7"/><rect y="324.0" height="1.1" fill="#c8dcec"/><rect y="325.0" height="1.7" fill="#bfd7ea"/><rect y="326.6" height="1.7" fill="#b3cee6"/><rect y="328.2" height="2.1" fill="#a8c7e3"/><rect y="330.2" height="1.4" fill="#c4d9eb"/><rect y="331.5" height="1.4" fill="#cee0ee"/><rect y="332.8" height="1.4" fill="#cbdeed"/><rect y="334.1" height="1.1" fill="#dfeaf3"/><rect y="335.1" height="0.2" fill="#d4e4f0"/><rect y="335.2" height="1.1" fill="#f3dce0"/><rect y="336.2" height="1.9" fill="#f3dce0"/><rect y="338.0" height="1.1" fill="#f7f4f5"/><rect y="339.0" height="1.7" fill="#e1ebf3"/><rect y="340.6" height="1.4" fill="#ebf0f5"/><rect y="341.9" height="1.4" fill="#e1ebf3"/><rect y="343.2" height="0.6" fill="#f5f6f7"/><rect y="343.7" height="1.1" fill="#d2e2ef"/><rect y="344.7" height="1.4" fill="#d4e4f0"/><rect y="346.0" height="1.4" fill="#dde9f2"/><rect y="347.3" height="1.1" fill="#dee9f2"/><rect y="348.3" height="1.7" fill="#d3e3f0"/><rect y="349.9" height="1.1" fill="#d3e3f0"/><rect y="350.9" height="1.2" fill="#c9dded"/><rect y="352.0" height="1.7" fill="#99bcdd"/><rect y="353.6" height="1.1" fill="#c0d7ea"/><rect y="354.6" height="0.5" fill="#b7d1e7"/><rect y="355.0" height="1.4" fill="#f7f1f3"/><rect y="356.3" height="1.1" fill="#f7f4f5"/><rect y="357.3" height="2.1" fill="#f2f4f7"/><rect y="359.3" height="1.1" fill="#f2f4f7"/><rect y="360.3" height="0.3" fill="#f8f6f7"/><rect y="360.5" height="1.7" fill="#dbe8f2"/><rect y="362.1" height="2.1" fill="#d6e5f0"/><rect y="364.1" height="1.4" fill="#d5e5f0"/><rect y="365.4" height="1.7" fill="#cadded"/><rect y="367.0" height="1.1" fill="#d5e5f0"/><rect y="368.0" height="1.4" fill="#ccdfee"/><rect y="369.3" height="1.4" fill="#d7e5f1"/><rect y="370.6" height="1.2" fill="#dfeaf2"/><rect y="371.7" height="1.1" fill="#aecbe4"/><rect y="372.7" height="1.7" fill="#bfd6ea"/><rect y="374.3" height="1.7" fill="#c6dbec"/><rect y="375.9" height="1.7" fill="#abc9e4"/><rect y="377.5" height="1.3" fill="#a4c5e1"/><rect y="378.7" height="1.1" fill="#e1ebf3"/><rect y="379.7" height="1.4" fill="#e4ecf3"/><rect y="381.0" height="1.4" fill="#e5edf4"/><rect y="382.3" height="0.8" fill="#e5edf4"/><rect y="383.0" height="1.4" fill="#f2d3d8"/><rect y="384.3" height="2.1" fill="#f3dce0"/><rect y="386.3" height="0.8" fill="#f1cfd4"/><rect y="387.0" height="1.5" fill="#eaf0f5"/></g>
<g class="hm" transform="translate(137.03 0)"><rect y="47.9" height="1.1" fill="#d47180"/><rect y="48.9" height="1.4" fill="#c74c5c"/><rect y="50.2" height="0.2" fill="#d16877"/><rect y="50.3" height="1.8" fill="#f6eaec"/><rect y="52.0" height="1.4" fill="#cf5f6f"/><rect y="53.3" height="2.0" fill="#cf5f6f"/><rect y="55.2" height="1.4" fill="#d06473"/><rect y="56.5" height="1.1" fill="#ca5262"/><rect y="57.5" height="1.4" fill="#c95060"/><rect y="58.8" height="1.1" fill="#db8794"/><rect y="59.8" height="1.4" fill="#c13c4c"/><rect y="61.1" height="1.7" fill="#d06372"/><rect y="62.7" height="1.7" fill="#d57281"/><rect y="64.3" height="1.1" fill="#d26a79"/><rect y="65.3" height="1.2" fill="#cd5b6b"/><rect y="66.4" height="1.7" fill="#da8390"/><rect y="68.0" height="1.7" fill="#cd5a6a"/><rect y="69.6" height="1.7" fill="#da8390"/><rect y="71.2" height="1.4" fill="#dd8d9a"/><rect y="72.5" height="1.7" fill="#e4a3ae"/><rect y="74.1" height="2.1" fill="#c95060"/><rect y="76.1" height="2.1" fill="#d67785"/><rect y="78.1" height="1.4" fill="#e29ca7"/><rect y="79.4" height="1.4" fill="#da8492"/><rect y="80.7" height="1.1" fill="#cc5868"/><rect y="81.7" height="1.7" fill="#d67583"/><rect y="83.3" height="2.1" fill="#d26978"/><rect y="85.3" height="0.8" fill="#dd8c99"/><rect y="86.0" height="1.7" fill="#efc9cf"/><rect y="87.6" height="2.0" fill="#f2d6db"/><rect y="89.5" height="1.4" fill="#ba2a3a"/><rect y="90.8" height="1.1" fill="#bb2d3d"/><rect y="91.8" height="1.3" fill="#bd3242"/><rect y="93.0" height="1.1" fill="#c84e5e"/><rect y="94.0" height="1.4" fill="#ca5262"/><rect y="95.3" height="1.1" fill="#d67684"/><rect y="96.3" height="1.7" fill="#dc8996"/><rect y="97.9" height="1.1" fill="#cf6070"/><rect y="98.9" height="1.4" fill="#d36c7a"/><rect y="100.2" height="1.1" fill="#c54757"/><rect y="101.2" height="2.1" fill="#c23e4e"/><rect y="103.2" height="1.4" fill="#c95161"/><rect y="104.5" height="1.4" fill="#d87c8a"/><rect y="105.8" height="2.1" fill="#c64a5a"/><rect y="107.8" height="1.1" fill="#f8f5f7"/><rect y="108.8" height="2.1" fill="#f4f5f7"/><rect y="110.8" height="0.6" fill="#f1f3f6"/><rect y="111.3" height="1.1" fill="#f4dde1"/><rect y="112.3" height="1.7" fill="#f2d4d9"/><rect y="113.9" height="1.7" fill="#f3dbdf"/><rect y="115.5" height="1.7" fill="#f4e0e3"/><rect y="117.1" height="2.1" fill="#f3dce0"/><rect y="119.1" height="1.4" fill="#f4dde1"/><rect y="120.4" height="1.1" fill="#f2d6db"/><rect y="121.4" height="1.2" fill="#f5e3e6"/><rect y="122.5" height="1.7" fill="#f8f5f6"/><rect y="124.1" height="1.4" fill="#f6f6f8"/><rect y="125.4" height="1.4" fill="#f7f3f5"/><rect y="126.7" height="1.4" fill="#f7f3f4"/><rect y="128.0" height="1.7" fill="#dfeaf2"/><rect y="129.6" height="1.1" fill="#e6edf4"/><rect y="130.6" height="1.7" fill="#eaeff5"/><rect y="132.2" height="1.4" fill="#e2ebf3"/><rect y="133.5" height="1.1" fill="#f0f3f6"/><rect y="134.5" height="0.6" fill="#e7eef4"/><rect y="135.0" height="1.7" fill="#f7f3f4"/><rect y="136.6" height="1.4" fill="#f6eaec"/><rect y="137.9" height="1.1" fill="#f7f2f3"/><rect y="138.9" height="2.1" fill="#f4e0e3"/><rect y="140.9" height="1.7" fill="#f4f5f7"/><rect y="142.5" height="1.7" fill="#f6ecee"/><rect y="144.1" height="1.7" fill="#f6edef"/><rect y="145.7" height="1.7" fill="#f6ecee"/><rect y="147.3" height="2.1" fill="#f5e4e7"/><rect y="149.3" height="1.1" fill="#f5e5e8"/><rect y="150.3" height="2.1" fill="#f6ebed"/><rect y="152.3" height="2.1" fill="#f6ecee"/><rect y="154.3" height="1.4" fill="#f5e5e8"/><rect y="155.6" height="1.1" fill="#f4e2e5"/><rect y="156.6" height="1.1" fill="#f5e3e6"/><rect y="157.6" height="1.1" fill="#f5e3e7"/><rect y="158.6" height="1.7" fill="#f6e9ec"/><rect y="160.2" height="1.7" fill="#f6ebed"/><rect y="161.8" height="1.1" fill="#f6eef0"/><rect y="162.8" height="0.3" fill="#f5e5e8"/><rect y="163.0" height="2.1" fill="#d9e7f1"/><rect y="165.0" height="2.1" fill="#e7eef4"/><rect y="167.0" height="1.1" fill="#d1e2ef"/><rect y="168.0" height="1.7" fill="#e7eef4"/><rect y="169.6" height="1.4" fill="#e6eef4"/><rect y="170.9" height="1.7" fill="#e7eef4"/><rect y="172.5" height="2.1" fill="#e2ebf3"/><rect y="174.5" height="1.1" fill="#e1ebf3"/><rect y="175.5" height="0.2" fill="#f3f4f7"/><rect y="175.6" height="1.4" fill="#f7f6f8"/><rect y="176.9" height="1.4" fill="#f2f4f7"/><rect y="178.2" height="1.1" fill="#eef2f6"/><rect y="179.2" height="1.4" fill="#edf1f6"/><rect y="180.5" height="0.2" fill="#edf1f6"/><rect y="180.6" height="2.1" fill="#eec7cd"/><rect y="182.6" height="2.1" fill="#df919e"/><rect y="184.6" height="2.1" fill="#e4a5af"/><rect y="186.6" height="1.1" fill="#e9b5bd"/><rect y="187.6" height="1.1" fill="#e3a2ad"/><rect y="188.6" height="1.4" fill="#e6aab4"/><rect y="189.9" height="1.7" fill="#f0ced4"/><rect y="191.5" height="1.7" fill="#ecbfc6"/><rect y="193.1" height="2.1" fill="#ebbac2"/><rect y="195.1" height="1.7" fill="#df93a0"/><rect y="196.7" height="1.4" fill="#e199a5"/><rect y="198.0" height="1.7" fill="#e29ea9"/><rect y="199.6" height="2.1" fill="#ebbcc4"/><rect y="201.6" height="1.7" fill="#e29ca7"/><rect y="203.2" height="1.7" fill="#dc8a96"/><rect y="204.8" height="1.1" fill="#f2d7db"/><rect y="205.8" height="2.1" fill="#e8b0b9"/><rect y="207.8" height="1.7" fill="#dd8c99"/><rect y="209.4" height="0.7" fill="#de909c"/><rect y="210.0" height="1.1" fill="#e3a0ab"/><rect y="211.0" height="1.9" fill="#ebbbc3"/><rect y="212.8" height="1.7" fill="#e3a2ac"/><rect y="214.4" height="1.1" fill="#f2d4d9"/><rect y="215.4" height="1.7" fill="#e9b4bd"/><rect y="217.0" height="1.7" fill="#f4e2e5"/><rect y="218.6" height="1.1" fill="#da8491"/><rect y="219.6" height="1.4" fill="#e8b0b9"/><rect y="220.9" height="2.1" fill="#e9b5bd"/><rect y="222.9" height="1.7" fill="#e19aa5"/><rect y="224.5" height="1.0" fill="#e5a8b2"/><rect y="225.4" height="1.7" fill="#e5a7b1"/><rect y="227.0" height="1.1" fill="#f1d1d6"/><rect y="228.0" height="1.1" fill="#e8b2bb"/><rect y="229.0" height="1.7" fill="#eab8c0"/><rect y="230.6" height="1.1" fill="#e4a4ae"/><rect y="231.6" height="1.7" fill="#e9b4bd"/><rect y="233.2" height="1.7" fill="#e7adb7"/><rect y="234.8" height="1.1" fill="#e5a8b2"/><rect y="235.8" height="2.1" fill="#da8492"/><rect y="237.8" height="1.1" fill="#e4a2ad"/><rect y="238.8" height="1.1" fill="#de909d"/><rect y="239.8" height="1.1" fill="#e5a8b2"/><rect y="240.8" height="1.1" fill="#eabac2"/><rect y="241.8" height="1.1" fill="#e9b3bc"/><rect y="242.8" height="2.1" fill="#dd8e9a"/><rect y="244.8" height="1.7" fill="#f0ccd2"/><rect y="246.4" height="1.4" fill="#eabac2"/><rect y="247.7" height="1.1" fill="#e3a1ab"/><rect y="248.7" height="1.1" fill="#e8b1ba"/><rect y="249.7" height="1.1" fill="#e19aa6"/><rect y="250.7" height="1.7" fill="#da828f"/><rect y="252.3" height="2.1" fill="#db8592"/><rect y="254.3" height="2.1" fill="#e095a1"/><rect y="256.3" height="1.4" fill="#e095a1"/><rect y="257.6" height="1.7" fill="#edc1c8"/><rect y="259.2" height="2.1" fill="#f1d1d6"/><rect y="261.2" height="1.1" fill="#ebbbc3"/><rect y="262.2" height="1.7" fill="#eab8c0"/><rect y="263.8" height="2.1" fill="#efc8ce"/><rect y="265.8" height="0.3" fill="#eab7bf"/><rect y="266.0" height="1.1" fill="#f7f2f4"/><rect y="267.0" height="2.1" fill="#f7f7f8"/><rect y="269.0" height="1.4" fill="#f2f4f7"/><rect y="270.3" height="1.4" fill="#f3dade"/><rect y="271.6" height="2.1" fill="#f4dee1"/><rect y="273.6" height="1.7" fill="#f2d5da"/><rect y="275.2" height="1.1" fill="#edc2c9"/><rect y="276.2" height="1.1" fill="#f3d9de"/><rect y="277.2" height="1.1" fill="#f4dee2"/><rect y="278.2" height="1.7" fill="#f4dee2"/><rect y="279.8" height="1.7" fill="#eec7cd"/><rect y="281.4" height="2.1" fill="#efc8ce"/><rect y="283.4" height="1.7" fill="#efcbd1"/><rect y="285.0" height="1.7" fill="#f3d9dd"/><rect y="286.6" height="1.7" fill="#f1d0d5"/><rect y="288.2" height="1.4" fill="#f3d8dd"/><rect y="289.5" height="1.1" fill="#efcbd1"/><rect y="290.5" height="0.9" fill="#f3d9dd"/><rect y="291.3" height="1.1" fill="#e2ebf3"/><rect y="292.3" height="2.1" fill="#e0eaf3"/><rect y="294.3" height="1.3" fill="#dde9f2"/><rect y="295.5" height="1.7" fill="#f3dde1"/><rect y="297.1" height="1.0" fill="#f3dadf"/><rect y="298.0" height="2.1" fill="#f3d9dd"/><rect y="300.0" height="2.1" fill="#f4dde1"/><rect y="302.0" height="1.1" fill="#e6abb4"/><rect y="303.0" height="1.4" fill="#f2d6db"/><rect y="304.3" height="0.2" fill="#f3d8dd"/><rect y="304.4" height="1.4" fill="#f7f6f8"/><rect y="305.7" height="1.4" fill="#eef2f6"/><rect y="307.0" height="1.7" fill="#f7f3f4"/><rect y="308.6" height="1.7" fill="#efc8cf"/><rect y="310.2" height="1.1" fill="#f2d7dc"/><rect y="311.2" height="1.1" fill="#e6abb5"/><rect y="312.2" height="2.1" fill="#eec5cc"/><rect y="314.2" height="1.4" fill="#ecbfc6"/><rect y="315.5" height="0.2" fill="#e5a8b2"/><rect y="315.6" height="1.5" fill="#e9eff5"/><rect y="317.0" height="1.4" fill="#de909d"/><rect y="318.3" height="0.8" fill="#eec7ce"/><rect y="319.0" height="2.1" fill="#d4e4f0"/><rect y="321.0" height="1.7" fill="#d8e6f1"/><rect y="322.6" height="1.7" fill="#e7eef4"/><rect y="324.2" height="1.1" fill="#dee9f2"/><rect y="325.2" height="1.1" fill="#dae7f1"/><rect y="326.2" height="1.7" fill="#d3e3f0"/><rect y="327.8" height="1.4" fill="#dde9f2"/><rect y="329.1" height="1.7" fill="#d7e6f1"/><rect y="330.7" height="1.7" fill="#edf1f6"/><rect y="332.3" height="1.7" fill="#d7e5f1"/><rect y="333.9" height="2.1" fill="#e3ecf3"/><rect y="335.9" height="1.4" fill="#cadded"/><rect y="337.2" height="0.9" fill="#e2ebf3"/><rect y="338.0" height="1.1" fill="#d2e3ef"/><rect y="339.0" height="1.4" fill="#e6edf4"/><rect y="340.3" height="2.1" fill="#e8eff5"/><rect y="342.3" height="1.5" fill="#ecf0f5"/><rect y="343.7" height="2.1" fill="#d0e2ef"/><rect y="345.7" height="1.1" fill="#d2e3ef"/><rect y="346.7" height="1.7" fill="#d8e6f1"/><rect y="348.3" height="1.4" fill="#aac9e3"/><rect y="349.6" height="1.7" fill="#bdd5e9"/><rect y="351.2" height="0.9" fill="#d8e6f1"/><rect y="352.0" height="1.4" fill="#f6eef0"/><rect y="353.3" height="1.1" fill="#f5f5f7"/><rect y="354.3" height="2.1" fill="#f1f4f7"/><rect y="356.3" height="2.1" fill="#f6f6f8"/><rect y="358.3" height="1.1" fill="#f3f4f7"/><rect y="359.3" height="1.1" fill="#f7f4f5"/><rect y="360.3" height="2.1" fill="#f7eff1"/><rect y="362.3" height="1.1" fill="#f7f3f5"/><rect y="363.3" height="1.7" fill="#9dbfde"/><rect y="364.9" height="1.7" fill="#d4e4f0"/><rect y="366.5" height="1.7" fill="#c3d9eb"/><rect y="368.1" height="1.1" fill="#9abddd"/><rect y="369.1" height="2.1" fill="#b2cee6"/><rect y="371.1" height="1.1" fill="#b4cfe6"/><rect y="372.1" height="2.1" fill="#aac9e3"/><rect y="374.1" height="1.4" fill="#b7d1e7"/><rect y="375.4" height="1.1" fill="#b8d2e8"/><rect y="376.4" height="2.1" fill="#dfeaf2"/><rect y="378.4" height="1.7" fill="#c1d8ea"/><rect y="380.0" height="2.1" fill="#eaf0f5"/><rect y="382.0" height="1.1" fill="#edf1f6"/><rect y="383.0" height="1.1" fill="#dfeaf2"/><rect y="384.0" height="1.4" fill="#f3d8dc"/><rect y="385.3" height="0.8" fill="#f2d6db"/><rect y="386.0" height="2.1" fill="#e9eff5"/><rect y="388.0" height="0.5" fill="#eaf0f5"/></g>
<g class="hm" transform="translate(167.77 0)"><rect y="47.9" height="1.1" fill="#cddfee"/><rect y="48.9" height="1.1" fill="#d8e6f1"/><rect y="49.9" height="2.1" fill="#e8eff5"/><rect y="51.9" height="1.4" fill="#dae7f1"/><rect y="53.2" height="1.1" fill="#dce8f2"/><rect y="54.2" height="1.7" fill="#dfeaf3"/><rect y="55.8" height="2.1" fill="#d4e4f0"/><rect y="57.8" height="1.7" fill="#e1ebf3"/><rect y="59.4" height="1.2" fill="#f3dbdf"/><rect y="60.5" height="1.4" fill="#f6ecee"/><rect y="61.8" height="1.4" fill="#f8f5f6"/><rect y="63.1" height="1.7" fill="#f7f3f5"/><rect y="64.7" height="1.1" fill="#f7f1f3"/><rect y="65.7" height="2.1" fill="#f7f7f8"/><rect y="67.7" height="1.4" fill="#f6ecee"/><rect y="69.0" height="1.4" fill="#f7f4f5"/><rect y="70.3" height="2.1" fill="#f7eef0"/><rect y="72.3" height="2.1" fill="#f7eef0"/><rect y="74.3" height="1.1" fill="#f7f2f3"/><rect y="75.3" height="1.7" fill="#f1f3f6"/><rect y="76.9" height="1.4" fill="#f7f6f8"/><rect y="78.2" height="2.1" fill="#f8f4f6"/><rect y="80.2" height="1.4" fill="#eff2f6"/><rect y="81.5" height="2.1" fill="#f8f6f7"/><rect y="83.5" height="2.1" fill="#f1f3f6"/><rect y="85.5" height="1.4" fill="#f7f1f3"/><rect y="86.8" height="2.1" fill="#f4f5f7"/><rect y="88.8" height="1.4" fill="#f7eff1"/><rect y="90.1" height="1.7" fill="#edf1f6"/><rect y="91.7" height="1.4" fill="#f6eef0"/><rect y="93.0" height="1.4" fill="#f4e0e3"/><rect y="94.3" height="1.7" fill="#f3d8dc"/><rect y="95.9" height="2.1" fill="#f3d9de"/><rect y="97.9" height="1.1" fill="#f2d6db"/><rect y="98.9" height="2.1" fill="#f4dee2"/><rect y="100.9" height="1.1" fill="#f4dee2"/><rect y="101.9" height="1.1" fill="#f4e2e5"/><rect y="102.9" height="1.4" fill="#f5e4e7"/><rect y="104.2" height="2.1" fill="#f5e3e7"/><rect y="106.2" height="1.1" fill="#f7f3f4"/><rect y="107.2" height="1.4" fill="#f6eef0"/><rect y="108.5" height="1.1" fill="#bd3141"/><rect y="109.5" height="1.4" fill="#b92939"/><rect y="110.8" height="1.1" fill="#ba2c3c"/><rect y="111.8" height="2.1" fill="#b92737"/><rect y="113.8" height="1.1" fill="#bc3040"/><rect y="114.8" height="1.7" fill="#b92939"/><rect y="116.4" height="1.4" fill="#b92838"/><rect y="117.7" height="1.7" fill="#ba2b3b"/><rect y="119.3" height="0.8" fill="#bc3141"/><rect y="120.0" height="1.7" fill="#b92838"/><rect y="121.6" height="1.1" fill="#b82636"/><rect y="122.6" height="1.4" fill="#ba2b3b"/><rect y="123.9" height="2.1" fill="#be3444"/><rect y="125.9" height="1.4" fill="#bd3242"/><rect y="127.2" height="1.4" fill="#bb2e3e"/><rect y="128.5" height="1.4" fill="#b82737"/><rect y="129.8" height="1.4" fill="#bb2e3e"/><rect y="131.1" height="2.1" fill="#bd3141"/><rect y="133.1" height="1.7" fill="#bd3242"/><rect y="134.7" height="1.4" fill="#bc3040"/><rect y="136.0" height="1.7" fill="#b92939"/><rect y="137.6" height="2.1" fill="#ba2a3a"/><rect y="139.6" height="1.1" fill="#b82636"/><rect y="140.6" height="1.1" fill="#bd3242"/><rect y="141.6" height="2.1" fill="#bc3040"/><rect y="143.6" height="1.4" fill="#ba2a3a"/><rect y="144.9" height="1.7" fill="#b82737"/><rect y="146.5" height="1.7" fill="#bc3040"/><rect y="148.1" height="1.4" fill="#bc3040"/><rect y="149.4" height="1.7" fill="#ba2c3c"/><rect y="151.0" height="1.1" fill="#b82636"/><rect y="152.0" height="1.4" fill="#bc2f3f"/><rect y="153.3" height="2.1" fill="#bd3242"/><rect y="155.3" height="1.7" fill="#bb2d3d"/><rect y="156.9" height="1.1" fill="#ba2b3b"/><rect y="157.9" height="1.7" fill="#b92838"/><rect y="159.5" height="1.4" fill="#ba2b3b"/><rect y="160.8" height="1.7" fill="#bc2f3f"/><rect y="162.4" height="1.1" fill="#b92939"/><rect y="163.4" height="2.1" fill="#b92939"/><rect y="165.4" height="1.7" fill="#bb2e3e"/><rect y="167.0" height="2.1" fill="#b82737"/><rect y="169.0" height="2.1" fill="#ba2b3b"/><rect y="171.0" height="1.1" fill="#b92939"/><rect y="172.0" height="1.7" fill="#b82737"/><rect y="173.6" height="1.5" fill="#be3444"/><rect y="175.0" height="1.5" fill="#f2f4f7"/><rect y="176.4" height="1.4" fill="#de8f9c"/><rect y="177.7" height="1.7" fill="#e9b4bd"/><rect y="179.3" height="0.8" fill="#f4e2e5"/><rect y="180.0" height="1.7" fill="#f6e9ec"/><rect y="181.6" height="2.1" fill="#f7f3f4"/><rect y="183.6" height="0.5" fill="#f1f4f7"/><rect y="184.0" height="1.4" fill="#ca5363"/><rect y="185.3" height="1.1" fill="#f0ced4"/><rect y="186.3" height="1.7" fill="#d67684"/><rect y="187.9" height="2.1" fill="#d9808d"/><rect y="189.9" height="1.4" fill="#e29ea9"/><rect y="191.2" height="2.1" fill="#e29ba7"/><rect y="193.2" height="1.4" fill="#f2d3d8"/><rect y="194.5" height="1.4" fill="#e7b0b9"/><rect y="195.8" height="1.1" fill="#e6abb5"/><rect y="196.8" height="1.4" fill="#dc8895"/><rect y="198.1" height="2.1" fill="#df939f"/><rect y="200.1" height="1.1" fill="#e4a3ae"/><rect y="201.1" height="1.7" fill="#ecc0c7"/><rect y="202.7" height="1.4" fill="#d06473"/><rect y="204.0" height="1.7" fill="#ebbbc3"/><rect y="205.6" height="1.7" fill="#de8e9b"/><rect y="207.2" height="1.4" fill="#e6aab4"/><rect y="208.5" height="1.1" fill="#ebbdc4"/><rect y="209.5" height="0.6" fill="#df94a0"/><rect y="210.0" height="1.1" fill="#e4a2ad"/><rect y="211.0" height="2.1" fill="#e7afb9"/><rect y="213.0" height="0.6" fill="#edc2c9"/><rect y="213.5" height="2.1" fill="#d06272"/><rect y="215.5" height="1.1" fill="#cd5b6b"/><rect y="216.5" height="1.4" fill="#c54757"/><rect y="217.8" height="1.7" fill="#c44353"/><rect y="219.4" height="2.1" fill="#cf6070"/><rect y="221.4" height="1.3" fill="#cd5b6a"/><rect y="222.6" height="1.7" fill="#e6abb5"/><rect y="224.2" height="1.7" fill="#e097a3"/><rect y="225.8" height="1.7" fill="#d9808d"/><rect y="227.4" height="1.4" fill="#e9b6be"/><rect y="228.7" height="2.1" fill="#db8693"/><rect y="230.7" height="2.1" fill="#e7aeb7"/><rect y="232.7" height="1.7" fill="#e5a7b1"/><rect y="234.3" height="2.1" fill="#eec5cb"/><rect y="236.3" height="1.8" fill="#db8592"/><rect y="238.0" height="1.7" fill="#df94a0"/><rect y="239.6" height="1.1" fill="#edc1c9"/><rect y="240.6" height="1.1" fill="#e095a1"/><rect y="241.6" height="1.7" fill="#e7b0b9"/><rect y="243.2" height="1.9" fill="#e9b5bd"/><rect y="245.0" height="2.1" fill="#ce5d6d"/><rect y="247.0" height="1.4" fill="#d77a88"/><rect y="248.3" height="1.4" fill="#dc8996"/><rect y="249.6" height="1.1" fill="#d77987"/><rect y="250.6" height="2.1" fill="#e29ca7"/><rect y="252.6" height="2.1" fill="#e29da8"/><rect y="254.6" height="1.7" fill="#c64959"/><rect y="256.2" height="1.4" fill="#d9808e"/><rect y="257.5" height="0.2" fill="#d16776"/><rect y="257.6" height="2.1" fill="#b82636"/><rect y="259.6" height="1.1" fill="#ba2b3b"/><rect y="260.6" height="1.7" fill="#be3646"/><rect y="262.2" height="1.1" fill="#be3545"/><rect y="263.2" height="2.1" fill="#ba2a3a"/><rect y="265.2" height="1.7" fill="#ba2b3b"/><rect y="266.8" height="2.1" fill="#b92838"/><rect y="268.8" height="1.4" fill="#bd3343"/><rect y="270.1" height="1.1" fill="#bf3747"/><rect y="271.1" height="1.1" fill="#b92939"/><rect y="272.1" height="1.4" fill="#b82636"/><rect y="273.4" height="1.7" fill="#bb2c3c"/><rect y="275.0" height="1.4" fill="#bd3141"/><rect y="276.3" height="2.1" fill="#b82737"/><rect y="278.3" height="1.1" fill="#b92939"/><rect y="279.3" height="1.1" fill="#bd3242"/><rect y="280.3" height="2.1" fill="#ba2c3c"/><rect y="282.3" height="0.8" fill="#bb2e3e"/><rect y="283.0" height="1.7" fill="#d26a79"/><rect y="284.6" height="1.1" fill="#d06272"/><rect y="285.6" height="1.4" fill="#cb5565"/><rect y="286.9" height="2.1" fill="#b82636"/><rect y="288.9" height="2.1" fill="#c74c5c"/><rect y="290.9" height="1.7" fill="#d16675"/><rect y="292.5" height="1.7" fill="#cf5f6f"/><rect y="294.1" height="1.4" fill="#b82636"/><rect y="295.4" height="1.4" fill="#c24050"/><rect y="296.7" height="1.4" fill="#d06473"/><rect y="298.0" height="1.7" fill="#cd5a6a"/><rect y="299.6" height="1.4" fill="#d06272"/><rect y="300.9" height="1.7" fill="#cb5464"/><rect y="302.5" height="1.4" fill="#c13d4d"/><rect y="303.8" height="1.7" fill="#b82636"/><rect y="305.4" height="2.1" fill="#c23f4f"/><rect y="307.4" height="1.1" fill="#d16776"/><rect y="308.4" height="1.7" fill="#b82636"/><rect y="310.0" height="0.8" fill="#cc5868"/><rect y="310.7" height="1.1" fill="#eef2f6"/><rect y="311.7" height="1.7" fill="#f8f5f6"/><rect y="313.3" height="2.1" fill="#edf1f6"/><rect y="315.3" height="0.8" fill="#f7f7f8"/><rect y="316.0" height="1.6" fill="#f0cdd2"/><rect y="317.5" height="1.1" fill="#e7eef4"/><rect y="318.5" height="2.1" fill="#e6edf4"/><rect y="320.5" height="0.8" fill="#ebf0f5"/><rect y="321.2" height="2.1" fill="#84acd4"/><rect y="323.2" height="1.7" fill="#76a1ce"/><rect y="324.8" height="1.4" fill="#81aad3"/><rect y="326.1" height="0.8" fill="#6997c8"/><rect y="326.8" height="2.1" fill="#cddfee"/><rect y="328.8" height="1.7" fill="#cee0ee"/><rect y="330.4" height="1.1" fill="#e2ebf3"/><rect y="331.4" height="1.1" fill="#c9dded"/><rect y="332.4" height="1.4" fill="#c4d9eb"/><rect y="333.7" height="1.7" fill="#bdd5e9"/><rect y="335.3" height="1.4" fill="#cfe1ee"/><rect y="336.6" height="1.4" fill="#e4ecf3"/><rect y="337.9" height="1.1" fill="#e6eef4"/><rect y="338.9" height="2.1" fill="#edf1f5"/><rect y="340.9" height="1.7" fill="#ebf0f5"/><rect y="342.5" height="2.1" fill="#eef2f6"/><rect y="344.5" height="1.1" fill="#f6f6f7"/><rect y="345.5" height="1.1" fill="#ebf0f5"/><rect y="346.5" height="1.1" fill="#c2d8ea"/><rect y="347.5" height="2.1" fill="#9bbddd"/><rect y="349.5" height="2.1" fill="#b0cde5"/><rect y="351.5" height="2.1" fill="#bcd4e9"/><rect y="353.5" height="1.1" fill="#a8c8e3"/><rect y="354.5" height="0.6" fill="#75a0cd"/><rect y="355.0" height="1.7" fill="#5383bc"/><rect y="356.6" height="2.1" fill="#9bbddd"/><rect y="358.6" height="2.1" fill="#3b6eae"/><rect y="360.6" height="1.7" fill="#3468aa"/><rect y="362.2" height="1.4" fill="#3b6eae"/><rect y="363.5" height="2.1" fill="#3a6dae"/><rect y="365.5" height="0.6" fill="#6594c6"/><rect y="366.0" height="1.4" fill="#c9dded"/><rect y="367.3" height="2.1" fill="#abc9e3"/><rect y="369.3" height="2.1" fill="#a8c7e3"/><rect y="371.3" height="0.5" fill="#a7c7e2"/><rect y="371.7" height="2.1" fill="#f7f1f3"/><rect y="373.7" height="2.1" fill="#f7f4f5"/><rect y="375.7" height="1.1" fill="#f7f6f8"/><rect y="376.7" height="1.4" fill="#f6e9ec"/><rect y="378.0" height="0.8" fill="#f6f6f8"/><rect y="378.7" height="1.1" fill="#dfeaf2"/><rect y="379.7" height="1.7" fill="#dde9f2"/><rect y="381.3" height="1.1" fill="#d9e6f1"/><rect y="382.3" height="0.8" fill="#e6eef4"/><rect y="383.0" height="1.1" fill="#ecbfc6"/><rect y="384.0" height="1.1" fill="#e29da8"/><rect y="385.0" height="1.1" fill="#f0ccd2"/><rect y="386.0" height="1.1" fill="#e9b5bd"/><rect y="387.0" height="1.4" fill="#f7f3f4"/><rect y="388.3" height="0.2" fill="#ecf1f5"/></g>
<g class="hm" transform="translate(198.50 0)"><rect y="47.9" height="2.1" fill="#c4daeb"/><rect y="49.9" height="1.7" fill="#b3cfe6"/><rect y="51.5" height="1.4" fill="#d5e4f0"/><rect y="52.8" height="1.8" fill="#cfe1ee"/><rect y="54.5" height="1.1" fill="#f7f1f3"/><rect y="55.5" height="1.1" fill="#f8f7f8"/><rect y="56.5" height="2.1" fill="#f8f5f6"/><rect y="58.5" height="1.0" fill="#f7f0f2"/><rect y="59.4" height="1.7" fill="#dee9f2"/><rect y="61.0" height="1.7" fill="#e5edf4"/><rect y="62.6" height="1.7" fill="#d5e4f0"/><rect y="64.2" height="2.1" fill="#d9e7f1"/><rect y="66.2" height="1.4" fill="#e0ebf3"/><rect y="67.5" height="2.1" fill="#cbdeed"/><rect y="69.5" height="1.7" fill="#d4e4f0"/><rect y="71.1" height="1.1" fill="#dee9f2"/><rect y="72.1" height="1.4" fill="#d8e6f1"/><rect y="73.4" height="1.7" fill="#dae7f1"/><rect y="75.0" height="2.1" fill="#d5e5f0"/><rect y="77.0" height="0.7" fill="#e5edf4"/><rect y="77.6" height="1.4" fill="#a7c7e2"/><rect y="78.9" height="1.1" fill="#c9dded"/><rect y="79.9" height="1.1" fill="#c2d8eb"/><rect y="80.9" height="1.0" fill="#c0d7ea"/><rect y="81.8" height="2.1" fill="#e2ecf3"/><rect y="83.8" height="1.7" fill="#e8eff4"/><rect y="85.4" height="1.7" fill="#dee9f2"/><rect y="87.0" height="0.5" fill="#d8e6f1"/><rect y="87.4" height="1.7" fill="#b6d0e7"/><rect y="89.0" height="1.4" fill="#cadded"/><rect y="90.3" height="1.4" fill="#cddfee"/><rect y="91.6" height="2.1" fill="#d1e2ef"/><rect y="93.6" height="2.1" fill="#e3ecf3"/><rect y="95.6" height="1.1" fill="#e2ebf3"/><rect y="96.6" height="1.7" fill="#dce8f2"/><rect y="98.2" height="0.6" fill="#ebf0f5"/><rect y="98.7" height="2.1" fill="#ebf0f5"/><rect y="100.7" height="1.7" fill="#f8f6f7"/><rect y="102.3" height="1.1" fill="#f1f3f7"/><rect y="103.3" height="1.1" fill="#f5f6f7"/><rect y="104.3" height="0.3" fill="#f0f3f6"/><rect y="104.5" height="1.4" fill="#eab8c0"/><rect y="105.8" height="0.3" fill="#e7afb8"/><rect y="106.0" height="1.1" fill="#eef2f6"/><rect y="107.0" height="1.4" fill="#f3f4f7"/><rect y="108.3" height="1.7" fill="#f8f5f6"/><rect y="109.9" height="1.1" fill="#d2e3ef"/><rect y="110.9" height="1.1" fill="#c3d9eb"/><rect y="111.9" height="1.4" fill="#d5e5f0"/><rect y="113.2" height="0.9" fill="#d7e6f1"/><rect y="114.0" height="1.4" fill="#e6edf4"/><rect y="115.3" height="1.1" fill="#e1ebf3"/><rect y="116.3" height="1.1" fill="#e2ecf3"/><rect y="117.3" height="1.1" fill="#d9e7f1"/><rect y="118.3" height="1.4" fill="#e7eef4"/><rect y="119.6" height="1.7" fill="#e2ebf3"/><rect y="121.2" height="1.4" fill="#eaf0f5"/><rect y="122.5" height="2.1" fill="#e1ebf3"/><rect y="124.5" height="2.1" fill="#e5edf4"/><rect y="126.5" height="1.1" fill="#e3ecf3"/><rect y="127.5" height="1.4" fill="#d5e5f0"/><rect y="128.8" height="2.1" fill="#e9eff5"/><rect y="130.8" height="2.1" fill="#e8eff4"/><rect y="132.8" height="0.3" fill="#e2ecf3"/><rect y="133.0" height="1.4" fill="#f3dade"/><rect y="134.3" height="0.3" fill="#f3dce0"/><rect y="134.5" height="0.6" fill="#d6e5f0"/><rect y="135.0" height="1.7" fill="#c0d7ea"/><rect y="136.6" height="1.4" fill="#c4daeb"/><rect y="137.9" height="0.7" fill="#bcd4e9"/><rect y="138.5" height="1.4" fill="#cee0ee"/><rect y="139.8" height="1.1" fill="#dee9f2"/><rect y="140.8" height="1.4" fill="#d7e6f1"/><rect y="142.1" height="1.4" fill="#d5e4f0"/><rect y="143.4" height="2.1" fill="#e4ecf3"/><rect y="145.4" height="2.1" fill="#c5daeb"/><rect y="147.4" height="2.1" fill="#e5edf4"/><rect y="149.4" height="1.1" fill="#e5edf4"/><rect y="150.4" height="1.7" fill="#bed6e9"/><rect y="152.0" height="2.1" fill="#d3e3f0"/><rect y="154.0" height="1.7" fill="#e3ecf3"/><rect y="155.6" height="1.1" fill="#d8e6f1"/><rect y="156.6" height="1.7" fill="#cbdeed"/><rect y="158.2" height="2.1" fill="#c3d9eb"/><rect y="160.2" height="2.1" fill="#e1ebf3"/><rect y="162.2" height="1.7" fill="#d6e5f1"/><rect y="163.8" height="1.7" fill="#dae7f1"/><rect y="165.4" height="2.1" fill="#cee0ee"/><rect y="167.4" height="2.1" fill="#e0eaf3"/><rect y="169.4" height="1.7" fill="#d2e3ef"/><rect y="171.0" height="1.7" fill="#d0e2ef"/><rect y="172.6" height="1.4" fill="#dce8f2"/><rect y="173.9" height="1.8" fill="#e3ecf3"/><rect y="175.6" height="2.1" fill="#c1d8ea"/><rect y="177.6" height="1.1" fill="#e1ebf3"/><rect y="178.6" height="2.1" fill="#cee0ee"/><rect y="180.6" height="0.5" fill="#e1ebf3"/><rect y="181.0" height="1.4" fill="#b8d2e8"/><rect y="182.3" height="1.1" fill="#bfd6ea"/><rect y="183.3" height="1.4" fill="#c8dcec"/><rect y="184.6" height="1.7" fill="#ccdfee"/><rect y="186.2" height="1.4" fill="#9ec0df"/><rect y="187.5" height="1.1" fill="#b5d0e7"/><rect y="188.5" height="1.7" fill="#aac8e3"/><rect y="190.1" height="1.7" fill="#dee9f2"/><rect y="191.7" height="0.9" fill="#cee0ee"/><rect y="192.5" height="1.6" fill="#f2d6da"/><rect y="194.0" height="2.1" fill="#e6edf4"/><rect y="196.0" height="1.1" fill="#f3dbdf"/><rect y="197.0" height="1.7" fill="#f3dade"/><rect y="198.6" height="1.1" fill="#efc9d0"/><rect y="199.6" height="1.7" fill="#edc2c9"/><rect y="201.2" height="1.1" fill="#f5e5e8"/><rect y="202.2" height="0.2" fill="#f7f2f3"/><rect y="202.3" height="1.1" fill="#bcd4e9"/><rect y="203.3" height="1.1" fill="#ccdfee"/><rect y="204.3" height="1.7" fill="#c8dcec"/><rect y="205.9" height="1.1" fill="#c7dbec"/><rect y="206.9" height="1.7" fill="#d2e3ef"/><rect y="208.5" height="1.1" fill="#c9dded"/><rect y="209.5" height="1.4" fill="#d9e7f1"/><rect y="210.8" height="1.4" fill="#b8d2e7"/><rect y="212.1" height="1.4" fill="#c4d9eb"/><rect y="213.4" height="0.7" fill="#dce8f2"/><rect y="214.0" height="1.4" fill="#9bbede"/><rect y="215.3" height="1.1" fill="#cfe1ef"/><rect y="216.3" height="1.1" fill="#c6dbec"/><rect y="217.3" height="1.1" fill="#b0cce5"/><rect y="218.3" height="1.1" fill="#a9c8e3"/><rect y="219.3" height="1.1" fill="#bed6e9"/><rect y="220.3" height="1.7" fill="#a2c3e1"/><rect y="221.9" height="2.1" fill="#bad3e8"/><rect y="223.9" height="1.7" fill="#accae4"/><rect y="225.5" height="1.4" fill="#b1cde5"/><rect y="226.8" height="1.4" fill="#f1f3f6"/><rect y="228.1" height="2.1" fill="#e9eff5"/><rect y="230.1" height="1.4" fill="#f4f5f7"/><rect y="231.4" height="1.7" fill="#e9eff5"/><rect y="233.0" height="0.9" fill="#f3f5f7"/><rect y="233.8" height="1.7" fill="#d4e4f0"/><rect y="235.4" height="1.1" fill="#dae7f1"/><rect y="236.4" height="1.1" fill="#dfeaf2"/><rect y="237.4" height="1.4" fill="#cee0ee"/><rect y="238.7" height="1.1" fill="#d4e4f0"/><rect y="239.7" height="1.7" fill="#d8e6f1"/><rect y="241.3" height="1.4" fill="#bbd4e8"/><rect y="242.6" height="1.1" fill="#c7dcec"/><rect y="243.6" height="1.4" fill="#d5e5f0"/><rect y="244.9" height="1.7" fill="#d4e4f0"/><rect y="246.5" height="1.4" fill="#d7e6f1"/><rect y="247.8" height="1.7" fill="#d3e3f0"/><rect y="249.4" height="1.3" fill="#d0e1ef"/><rect y="250.6" height="1.4" fill="#9cbede"/><rect y="251.9" height="1.7" fill="#7aa5d0"/><rect y="253.5" height="1.4" fill="#b7d1e7"/><rect y="254.8" height="1.1" fill="#ccdfee"/><rect y="255.8" height="1.4" fill="#a2c3e1"/><rect y="257.1" height="1.1" fill="#98bbdc"/><rect y="258.1" height="0.4" fill="#a6c6e2"/><rect y="258.4" height="1.7" fill="#e7eef4"/><rect y="260.0" height="2.1" fill="#e0eaf3"/><rect y="262.0" height="1.1" fill="#eaf0f5"/><rect y="263.0" height="1.4" fill="#c6dbec"/><rect y="264.3" height="1.1" fill="#c9dded"/><rect y="265.3" height="2.1" fill="#cbdeed"/><rect y="267.3" height="1.1" fill="#c8dcec"/><rect y="268.3" height="1.7" fill="#ccdfee"/><rect y="269.9" height="1.4" fill="#e4ecf3"/><rect y="271.2" height="1.7" fill="#cfe1ef"/><rect y="272.8" height="1.7" fill="#d2e3ef"/><rect y="274.4" height="1.7" fill="#dae7f1"/><rect y="276.0" height="1.4" fill="#d9e7f1"/><rect y="277.3" height="1.7" fill="#dfeaf2"/><rect y="278.9" height="2.1" fill="#d3e4f0"/><rect y="280.9" height="1.7" fill="#bfd6ea"/><rect y="282.5" height="1.1" fill="#d4e4f0"/><rect y="283.5" height="1.7" fill="#d9e7f1"/><rect y="285.1" height="0.7" fill="#c8dcec"/><rect y="285.7" height="1.7" fill="#e4edf4"/><rect y="287.3" height="1.1" fill="#e4edf4"/><rect y="288.3" height="2.1" fill="#f1f3f6"/><rect y="290.3" height="1.1" fill="#dde9f2"/><rect y="291.3" height="2.1" fill="#e0eaf3"/><rect y="293.3" height="1.4" fill="#c9dded"/><rect y="294.6" height="2.1" fill="#dfeaf3"/><rect y="296.6" height="1.5" fill="#e0eaf3"/><rect y="298.0" height="1.4" fill="#e2ebf3"/><rect y="299.3" height="1.1" fill="#d9e7f1"/><rect y="300.3" height="1.7" fill="#cfe1ef"/><rect y="301.9" height="2.1" fill="#d1e2ef"/><rect y="303.9" height="1.1" fill="#d5e5f0"/><rect y="304.9" height="2.1" fill="#dee9f2"/><rect y="306.9" height="1.7" fill="#d8e6f1"/><rect y="308.5" height="1.4" fill="#e8eff5"/><rect y="309.8" height="1.0" fill="#d9e7f1"/><rect y="310.7" height="1.1" fill="#e9b7bf"/><rect y="311.7" height="1.7" fill="#eec5cc"/><rect y="313.3" height="1.0" fill="#e8b2ba"/><rect y="314.2" height="2.1" fill="#f6edef"/><rect y="316.2" height="1.1" fill="#f5e3e7"/><rect y="317.2" height="1.7" fill="#f6eaed"/><rect y="318.8" height="1.4" fill="#f5e5e8"/><rect y="320.1" height="0.5" fill="#f6edef"/><rect y="320.5" height="1.7" fill="#dc8a97"/><rect y="322.1" height="0.6" fill="#ce5c6c"/><rect y="322.6" height="1.7" fill="#f6e9eb"/><rect y="324.2" height="1.1" fill="#f4dee2"/><rect y="325.2" height="1.7" fill="#f8f4f6"/><rect y="326.8" height="1.1" fill="#f4dfe3"/><rect y="327.8" height="1.4" fill="#f4e2e6"/><rect y="329.1" height="2.1" fill="#f7f0f2"/><rect y="331.1" height="1.7" fill="#f3d9dd"/><rect y="332.7" height="1.4" fill="#f7eef0"/><rect y="334.0" height="1.1" fill="#f4e2e6"/><rect y="335.0" height="0.3" fill="#f5e4e8"/><rect y="335.2" height="1.1" fill="#eff2f6"/><rect y="336.2" height="2.1" fill="#f7f7f8"/><rect y="338.2" height="1.4" fill="#e3ecf3"/><rect y="339.5" height="2.1" fill="#edf1f6"/><rect y="341.5" height="1.4" fill="#e5edf4"/><rect y="342.8" height="1.1" fill="#e7eef4"/><rect y="343.8" height="1.1" fill="#e1ebf3"/><rect y="344.8" height="0.3" fill="#f2f4f7"/><rect y="345.0" height="1.4" fill="#f3d7dc"/><rect y="346.3" height="1.1" fill="#ecbfc6"/><rect y="347.3" height="0.8" fill="#f2d6db"/><rect y="348.0" height="1.4" fill="#f0f3f6"/><rect y="349.3" height="2.1" fill="#eaf0f5"/><rect y="351.3" height="1.7" fill="#f4f5f7"/><rect y="352.9" height="0.7" fill="#e2ecf3"/><rect y="353.5" height="1.1" fill="#f4e2e6"/><rect y="354.5" height="2.1" fill="#f4e2e5"/><rect y="356.5" height="2.1" fill="#f6ecef"/><rect y="358.5" height="1.7" fill="#f6eaec"/><rect y="360.1" height="1.4" fill="#f6edef"/><rect y="361.4" height="1.1" fill="#f4e2e5"/><rect y="362.4" height="1.1" fill="#f4e1e4"/><rect y="363.4" height="1.7" fill="#f5e5e8"/><rect y="365.0" height="1.4" fill="#f5e7e9"/><rect y="366.3" height="1.1" fill="#f6e9eb"/><rect y="367.3" height="2.1" fill="#f3d8dd"/><rect y="369.3" height="2.1" fill="#f6ebee"/><rect y="371.3" height="1.1" fill="#f5e4e7"/><rect y="372.3" height="1.4" fill="#f3d8dc"/><rect y="373.6" height="1.0" fill="#f2d3d8"/><rect y="374.5" height="1.7" fill="#f8f4f6"/><rect y="376.1" height="1.3" fill="#f5f5f7"/><rect y="377.3" height="1.4" fill="#dae7f1"/><rect y="378.6" height="1.1" fill="#c8dcec"/><rect y="379.6" height="2.1" fill="#bbd4e9"/><rect y="381.6" height="2.1" fill="#afcce5"/><rect y="383.6" height="1.1" fill="#e3ecf3"/><rect y="384.6" height="1.1" fill="#c6dbec"/><rect y="385.6" height="1.7" fill="#b9d2e8"/><rect y="387.2" height="1.3" fill="#dde9f2"/></g>
<g class="hm" transform="translate(229.23 0)"><rect y="47.9" height="1.1" fill="#c8dcec"/><rect y="48.9" height="1.7" fill="#b6d1e7"/><rect y="50.5" height="1.4" fill="#b6d0e7"/><rect y="51.8" height="1.7" fill="#b1cde5"/><rect y="53.4" height="2.1" fill="#bfd6ea"/><rect y="55.4" height="1.4" fill="#cbdeed"/><rect y="56.7" height="1.7" fill="#cfe0ee"/><rect y="58.3" height="1.1" fill="#b4cfe6"/><rect y="59.3" height="2.1" fill="#c8dcec"/><rect y="61.3" height="1.0" fill="#d1e2ef"/><rect y="62.2" height="1.1" fill="#d9e6f1"/><rect y="63.2" height="1.4" fill="#d8e6f1"/><rect y="64.5" height="2.1" fill="#dbe8f2"/><rect y="66.5" height="0.7" fill="#d6e5f1"/><rect y="67.1" height="2.1" fill="#d9e7f1"/><rect y="69.1" height="1.4" fill="#a8c7e3"/><rect y="70.4" height="1.4" fill="#b1cde5"/><rect y="71.7" height="2.1" fill="#bcd5e9"/><rect y="73.7" height="1.4" fill="#9ec0df"/><rect y="75.0" height="1.3" fill="#c7dcec"/><rect y="76.2" height="2.1" fill="#d9e7f1"/><rect y="78.2" height="2.1" fill="#d7e6f1"/><rect y="80.2" height="1.1" fill="#ccdfee"/><rect y="81.2" height="2.1" fill="#accae4"/><rect y="83.2" height="1.7" fill="#ccdfee"/><rect y="84.8" height="2.1" fill="#dae7f1"/><rect y="86.8" height="1.4" fill="#dee9f2"/><rect y="88.1" height="0.8" fill="#d0e1ef"/><rect y="88.8" height="1.6" fill="#f2d4d9"/><rect y="90.3" height="1.1" fill="#cde0ee"/><rect y="91.3" height="1.1" fill="#c6dbec"/><rect y="92.3" height="1.4" fill="#bad3e8"/><rect y="93.6" height="2.1" fill="#a7c7e2"/><rect y="95.6" height="1.7" fill="#b8d2e7"/><rect y="97.2" height="1.7" fill="#adcbe4"/><rect y="98.8" height="1.1" fill="#97badc"/><rect y="99.8" height="1.7" fill="#b2cee6"/><rect y="101.4" height="1.7" fill="#a5c5e1"/><rect y="103.0" height="1.7" fill="#c0d7ea"/><rect y="104.6" height="1.4" fill="#a1c2e0"/><rect y="105.9" height="2.0" fill="#d4e4f0"/><rect y="107.8" height="2.1" fill="#f0cfd4"/><rect y="109.8" height="0.2" fill="#df94a0"/><rect y="109.9" height="2.1" fill="#d8e6f1"/><rect y="111.9" height="1.1" fill="#d1e2ef"/><rect y="112.9" height="1.2" fill="#d9e6f1"/><rect y="114.0" height="1.6" fill="#f4dde1"/><rect y="115.5" height="2.1" fill="#e2ecf3"/><rect y="117.5" height="1.1" fill="#dae7f1"/><rect y="118.5" height="2.1" fill="#edf1f6"/><rect y="120.5" height="1.1" fill="#e8eff4"/><rect y="121.5" height="1.1" fill="#dce8f2"/><rect y="122.5" height="1.4" fill="#d7e6f1"/><rect y="123.8" height="2.1" fill="#e4edf4"/><rect y="125.8" height="1.7" fill="#e3ecf3"/><rect y="127.4" height="0.7" fill="#d2e2ef"/><rect y="128.0" height="2.1" fill="#f3f4f7"/><rect y="130.0" height="2.1" fill="#eff2f6"/><rect y="132.0" height="1.1" fill="#f7f2f3"/><rect y="133.0" height="0.7" fill="#edf1f6"/><rect y="133.6" height="1.4" fill="#d5e5f0"/><rect y="134.9" height="1.7" fill="#d6e5f1"/><rect y="136.5" height="2.1" fill="#d6e5f1"/><rect y="138.5" height="1.7" fill="#d2e2ef"/><rect y="140.1" height="1.1" fill="#d0e1ef"/><rect y="141.1" height="1.4" fill="#c8dcec"/><rect y="142.4" height="1.1" fill="#c5daec"/><rect y="143.4" height="2.1" fill="#d7e6f1"/><rect y="145.4" height="1.7" fill="#dae7f1"/><rect y="147.0" height="2.1" fill="#d5e4f0"/><rect y="149.0" height="2.1" fill="#cfe0ee"/><rect y="151.0" height="1.1" fill="#d8e6f1"/><rect y="152.0" height="1.1" fill="#dae7f1"/><rect y="153.0" height="1.1" fill="#e7eef4"/><rect y="154.0" height="2.1" fill="#d9e6f1"/><rect y="156.0" height="1.7" fill="#d0e2ef"/><rect y="157.6" height="1.4" fill="#d1e2ef"/><rect y="158.9" height="2.1" fill="#b5d0e7"/><rect y="160.9" height="1.1" fill="#d1e2ef"/><rect y="161.9" height="1.7" fill="#ecf1f5"/><rect y="163.5" height="2.1" fill="#dde9f2"/><rect y="165.5" height="2.1" fill="#cbdeed"/><rect y="167.5" height="1.1" fill="#e3ecf3"/><rect y="168.5" height="1.4" fill="#e4ecf3"/><rect y="169.8" height="1.1" fill="#dfeaf2"/><rect y="170.8" height="1.1" fill="#cbdeed"/><rect y="171.8" height="1.1" fill="#e7eef4"/><rect y="172.8" height="2.1" fill="#d9e6f1"/><rect y="174.8" height="0.9" fill="#d2e3ef"/><rect y="175.6" height="1.4" fill="#e7eef4"/><rect y="176.9" height="2.1" fill="#dfeaf2"/><rect y="178.9" height="1.7" fill="#e4edf4"/><rect y="180.5" height="1.1" fill="#cfe1ef"/><rect y="181.5" height="2.1" fill="#dce8f2"/><rect y="183.5" height="2.1" fill="#dfeaf2"/><rect y="185.5" height="1.7" fill="#d9e7f1"/><rect y="187.1" height="1.4" fill="#f2f4f7"/><rect y="188.4" height="1.1" fill="#eef2f6"/><rect y="189.4" height="1.4" fill="#d9e7f1"/><rect y="190.7" height="1.7" fill="#d4e4f0"/><rect y="192.3" height="2.1" fill="#d5e5f0"/><rect y="194.3" height="0.8" fill="#e1ebf3"/><rect y="195.0" height="1.1" fill="#c3d9eb"/><rect y="196.0" height="1.7" fill="#aecbe4"/><rect y="197.6" height="1.4" fill="#bfd6ea"/><rect y="198.9" height="0.7" fill="#bfd7ea"/><rect y="199.5" height="1.4" fill="#f5f6f7"/><rect y="200.8" height="1.6" fill="#f6edf0"/><rect y="202.3" height="2.1" fill="#d1e2ef"/><rect y="204.3" height="2.1" fill="#bed6e9"/><rect y="206.3" height="1.7" fill="#c5daeb"/><rect y="207.9" height="1.1" fill="#cfe1ee"/><rect y="208.9" height="1.1" fill="#cee0ee"/><rect y="209.9" height="0.2" fill="#dee9f2"/><rect y="210.0" height="1.7" fill="#e7eef4"/><rect y="211.6" height="1.7" fill="#ebf0f5"/><rect y="213.2" height="0.4" fill="#d5e5f0"/><rect y="213.5" height="2.1" fill="#f1f3f6"/><rect y="215.5" height="1.7" fill="#f8f6f7"/><rect y="217.1" height="1.4" fill="#f7f0f2"/><rect y="218.4" height="1.7" fill="#b7d1e7"/><rect y="220.0" height="1.7" fill="#cee0ee"/><rect y="221.6" height="2.1" fill="#c7dbec"/><rect y="223.6" height="1.1" fill="#c3d9eb"/><rect y="224.6" height="1.4" fill="#d8e6f1"/><rect y="225.9" height="1.0" fill="#d0e1ef"/><rect y="226.8" height="1.7" fill="#adcae4"/><rect y="228.4" height="1.7" fill="#accae4"/><rect y="230.0" height="1.4" fill="#89b0d6"/><rect y="231.3" height="2.1" fill="#94b8da"/><rect y="233.3" height="2.1" fill="#bfd6ea"/><rect y="235.3" height="1.7" fill="#82aad3"/><rect y="236.9" height="1.4" fill="#83abd3"/><rect y="238.2" height="1.1" fill="#9ec0df"/><rect y="239.2" height="1.1" fill="#d6e5f0"/><rect y="240.2" height="1.4" fill="#bbd4e9"/><rect y="241.5" height="2.1" fill="#8cb2d7"/><rect y="243.5" height="1.4" fill="#95b9db"/><rect y="244.8" height="2.1" fill="#8fb4d8"/><rect y="246.8" height="1.1" fill="#98bbdc"/><rect y="247.8" height="1.1" fill="#a6c6e2"/><rect y="248.8" height="0.5" fill="#a7c7e2"/><rect y="249.2" height="1.4" fill="#c6dbec"/><rect y="250.5" height="1.4" fill="#bcd4e9"/><rect y="251.8" height="2.1" fill="#b4cfe6"/><rect y="253.8" height="1.4" fill="#cadeed"/><rect y="255.1" height="1.4" fill="#dce8f2"/><rect y="256.4" height="2.1" fill="#c5daeb"/><rect y="258.4" height="1.5" fill="#ebbcc3"/><rect y="259.8" height="1.1" fill="#f4f5f7"/><rect y="260.8" height="1.1" fill="#edf1f6"/><rect y="261.8" height="1.4" fill="#eef2f6"/><rect y="263.1" height="2.1" fill="#edf1f5"/><rect y="265.1" height="1.0" fill="#dfeaf3"/><rect y="266.0" height="2.1" fill="#d7e5f1"/><rect y="268.0" height="2.1" fill="#b1cde5"/><rect y="270.0" height="2.1" fill="#d1e2ef"/><rect y="272.0" height="1.1" fill="#cee0ee"/><rect y="273.0" height="1.6" fill="#c7dbec"/><rect y="274.5" height="1.1" fill="#c7dbec"/><rect y="275.5" height="1.1" fill="#dce8f2"/><rect y="276.5" height="1.7" fill="#d6e5f0"/><rect y="278.1" height="1.4" fill="#c4daeb"/><rect y="279.4" height="1.1" fill="#e1ebf3"/><rect y="280.4" height="1.7" fill="#bed6e9"/><rect y="282.0" height="2.1" fill="#c4d9eb"/><rect y="284.0" height="1.4" fill="#e9eff5"/><rect y="285.3" height="2.1" fill="#e6eef4"/><rect y="287.3" height="1.7" fill="#dbe8f2"/><rect y="288.9" height="2.1" fill="#d7e6f1"/><rect y="290.9" height="1.7" fill="#e2ebf3"/><rect y="292.5" height="1.1" fill="#cee0ee"/><rect y="293.5" height="2.1" fill="#e4edf4"/><rect y="295.5" height="1.4" fill="#e0eaf3"/><rect y="296.8" height="1.3" fill="#d5e5f0"/><rect y="298.0" height="2.1" fill="#bcd4e9"/><rect y="300.0" height="2.1" fill="#bad3e8"/><rect y="302.0" height="1.7" fill="#b3cfe6"/><rect y="303.6" height="1.7" fill="#cbdeed"/><rect y="305.2" height="1.7" fill="#b6d0e7"/><rect y="306.8" height="1.1" fill="#b8d2e7"/><rect y="307.8" height="1.4" fill="#b8d2e8"/><rect y="309.1" height="1.0" fill="#c3d9eb"/><rect y="310.0" height="2.1" fill="#e1ebf3"/><rect y="312.0" height="1.4" fill="#ebf0f5"/><rect y="313.3" height="2.1" fill="#eff2f6"/><rect y="315.3" height="1.1" fill="#f8f7f8"/><rect y="316.3" height="0.8" fill="#ecf1f5"/><rect y="317.0" height="1.7" fill="#bb2f3f"/><rect y="318.6" height="2.0" fill="#cf6170"/><rect y="320.5" height="1.1" fill="#eab8c0"/><rect y="321.5" height="1.4" fill="#e097a3"/><rect y="322.8" height="1.4" fill="#ebbcc4"/><rect y="324.1" height="1.1" fill="#efc8cf"/><rect y="325.1" height="1.1" fill="#ecbfc6"/><rect y="326.1" height="2.1" fill="#e29ba7"/><rect y="328.1" height="1.7" fill="#e4a3ae"/><rect y="329.7" height="1.4" fill="#ebbcc4"/><rect y="331.0" height="1.4" fill="#dc8996"/><rect y="332.3" height="1.4" fill="#e19aa5"/><rect y="333.6" height="1.4" fill="#e8b1ba"/><rect y="334.9" height="1.7" fill="#edc1c9"/><rect y="336.5" height="0.2" fill="#dc8a97"/><rect y="336.6" height="2.1" fill="#e3ecf3"/><rect y="338.6" height="1.7" fill="#eef1f6"/><rect y="340.2" height="1.7" fill="#dee9f2"/><rect y="341.8" height="1.7" fill="#eaeff5"/><rect y="343.4" height="1.1" fill="#f2f4f7"/><rect y="344.4" height="0.7" fill="#dbe8f2"/><rect y="345.0" height="1.7" fill="#f4dee2"/><rect y="346.6" height="1.4" fill="#f4dfe2"/><rect y="347.9" height="2.1" fill="#f3dade"/><rect y="349.9" height="1.1" fill="#f2d4d9"/><rect y="350.9" height="1.2" fill="#f3dbdf"/><rect y="352.0" height="1.7" fill="#e29ba7"/><rect y="353.6" height="1.1" fill="#dc8b97"/><rect y="354.6" height="1.7" fill="#da8491"/><rect y="356.2" height="0.2" fill="#df939f"/><rect y="356.3" height="1.4" fill="#f0cdd3"/><rect y="357.6" height="1.4" fill="#f4dfe3"/><rect y="358.9" height="1.1" fill="#f2d6da"/><rect y="359.9" height="2.1" fill="#f2d5da"/><rect y="361.9" height="1.4" fill="#ebbcc4"/><rect y="363.2" height="1.1" fill="#f3d9dd"/><rect y="364.2" height="2.1" fill="#f2d2d8"/><rect y="366.2" height="1.7" fill="#f5e4e7"/><rect y="367.8" height="1.4" fill="#f2d2d8"/><rect y="369.1" height="1.1" fill="#f1cfd5"/><rect y="370.1" height="1.7" fill="#f2d3d8"/><rect y="371.7" height="2.1" fill="#f2d5da"/><rect y="373.7" height="1.4" fill="#eec6cd"/><rect y="375.0" height="1.1" fill="#f4e2e5"/><rect y="376.0" height="1.4" fill="#f0cfd4"/><rect y="377.3" height="2.1" fill="#dde9f2"/><rect y="379.3" height="2.1" fill="#d5e4f0"/><rect y="381.3" height="1.4" fill="#e6edf4"/><rect y="382.6" height="1.1" fill="#e4ecf4"/><rect y="383.6" height="1.7" fill="#e4edf4"/><rect y="385.2" height="1.4" fill="#e1ebf3"/><rect y="386.5" height="1.7" fill="#edf1f6"/><rect y="388.1" height="0.4" fill="#dee9f2"/></g>
<g class="hm" transform="translate(259.97 0)"><rect y="47.9" height="1.7" fill="#b9d2e8"/><rect y="49.5" height="2.1" fill="#b7d1e7"/><rect y="51.5" height="0.3" fill="#d6e5f1"/><rect y="51.7" height="1.7" fill="#f6e9ec"/><rect y="53.3" height="2.1" fill="#f7f2f3"/><rect y="55.3" height="1.7" fill="#f7f0f1"/><rect y="56.9" height="1.4" fill="#f7f1f3"/><rect y="58.2" height="1.7" fill="#f5f5f7"/><rect y="59.8" height="1.7" fill="#f4f5f7"/><rect y="61.4" height="0.9" fill="#f8f5f6"/><rect y="62.2" height="1.4" fill="#f1f3f6"/><rect y="63.5" height="2.1" fill="#f7eff1"/><rect y="65.5" height="1.4" fill="#f2f4f7"/><rect y="66.8" height="2.1" fill="#f1f3f6"/><rect y="68.8" height="1.1" fill="#f8f5f6"/><rect y="69.8" height="1.4" fill="#f8f6f7"/><rect y="71.1" height="1.0" fill="#f5e8ea"/><rect y="72.0" height="1.4" fill="#dbe8f2"/><rect y="73.3" height="2.1" fill="#dbe8f2"/><rect y="75.3" height="1.1" fill="#e6eef4"/><rect y="76.3" height="1.7" fill="#edf1f6"/><rect y="77.9" height="1.2" fill="#dbe8f2"/><rect y="79.0" height="1.1" fill="#f3dde1"/><rect y="80.0" height="1.4" fill="#f3d7dc"/><rect y="81.3" height="2.1" fill="#f1d0d5"/><rect y="83.3" height="1.7" fill="#f3d8dd"/><rect y="84.9" height="1.1" fill="#f4e1e4"/><rect y="85.9" height="0.2" fill="#f4dde1"/><rect y="86.0" height="2.1" fill="#eef2f6"/><rect y="88.0" height="1.4" fill="#dee9f2"/><rect y="89.3" height="1.7" fill="#eff2f6"/><rect y="90.9" height="1.1" fill="#e3ecf3"/><rect y="91.9" height="1.7" fill="#f1f3f6"/><rect y="93.5" height="2.1" fill="#e8eff5"/><rect y="95.5" height="2.1" fill="#ecf1f5"/><rect y="97.5" height="1.3" fill="#e9eff5"/><rect y="98.7" height="1.7" fill="#f3d7dc"/><rect y="100.3" height="1.3" fill="#efcbd1"/><rect y="101.5" height="2.1" fill="#f3f4f7"/><rect y="103.5" height="2.1" fill="#f7f7f8"/><rect y="105.5" height="1.4" fill="#f3f5f7"/><rect y="106.8" height="1.1" fill="#e9eff5"/><rect y="107.8" height="0.8" fill="#dae7f1"/><rect y="108.5" height="1.7" fill="#a7c7e2"/><rect y="110.1" height="1.4" fill="#cadded"/><rect y="111.4" height="1.4" fill="#b8d2e8"/><rect y="112.7" height="1.4" fill="#d3e3f0"/><rect y="114.0" height="1.1" fill="#d0e1ef"/><rect y="115.0" height="2.1" fill="#dbe8f2"/><rect y="117.0" height="1.4" fill="#c9dded"/><rect y="118.3" height="1.5" fill="#bad3e8"/><rect y="119.7" height="2.1" fill="#f5e8ea"/><rect y="121.7" height="1.1" fill="#f7f3f4"/><rect y="122.7" height="1.1" fill="#f7f3f4"/><rect y="123.7" height="1.7" fill="#f7eff1"/><rect y="125.3" height="2.1" fill="#f6edef"/><rect y="127.3" height="1.7" fill="#f7f1f3"/><rect y="128.9" height="1.4" fill="#f6f6f8"/><rect y="130.2" height="1.7" fill="#f7f2f4"/><rect y="131.8" height="1.4" fill="#f7eff1"/><rect y="133.1" height="1.1" fill="#f7f3f5"/><rect y="134.1" height="1.7" fill="#f7f4f5"/><rect y="135.7" height="1.4" fill="#f5f5f7"/><rect y="137.0" height="1.7" fill="#f7f4f5"/><rect y="138.6" height="1.1" fill="#f7eff1"/><rect y="139.6" height="1.1" fill="#f8f5f6"/><rect y="140.6" height="1.7" fill="#f7f1f2"/><rect y="142.2" height="1.7" fill="#f5f6f7"/><rect y="143.8" height="1.1" fill="#f8f4f5"/><rect y="144.8" height="1.7" fill="#f1f3f6"/><rect y="146.4" height="1.4" fill="#ebf0f5"/><rect y="147.7" height="1.4" fill="#f5f5f7"/><rect y="149.0" height="1.1" fill="#f7f4f5"/><rect y="150.0" height="1.1" fill="#f7f7f8"/><rect y="151.0" height="1.4" fill="#f7f3f5"/><rect y="152.3" height="1.1" fill="#f8f4f5"/><rect y="153.3" height="1.7" fill="#f7f1f3"/><rect y="154.9" height="1.4" fill="#f8f7f8"/><rect y="156.2" height="1.1" fill="#f7f3f5"/><rect y="157.2" height="1.7" fill="#f7f2f4"/><rect y="158.8" height="2.1" fill="#f0f3f6"/><rect y="160.8" height="2.1" fill="#f7f3f4"/><rect y="162.8" height="1.4" fill="#f7f2f3"/><rect y="164.1" height="1.7" fill="#f8f6f7"/><rect y="165.7" height="1.4" fill="#f7f3f4"/><rect y="167.0" height="1.7" fill="#f7f1f3"/><rect y="168.6" height="2.1" fill="#f7f6f8"/><rect y="170.6" height="2.1" fill="#eef2f6"/><rect y="172.6" height="1.4" fill="#f6ebed"/><rect y="173.9" height="0.2" fill="#f2f4f7"/><rect y="174.0" height="1.4" fill="#cee0ee"/><rect y="175.3" height="1.7" fill="#dde9f2"/><rect y="176.9" height="2.1" fill="#cbdeed"/><rect y="178.9" height="1.7" fill="#cfe1ef"/><rect y="180.5" height="1.6" fill="#e7eef4"/><rect y="182.0" height="1.4" fill="#b2cee6"/><rect y="183.3" height="0.8" fill="#c7dcec"/><rect y="184.0" height="2.1" fill="#cddfee"/><rect y="186.0" height="1.1" fill="#d3e4f0"/><rect y="187.0" height="1.4" fill="#efc9cf"/><rect y="188.3" height="1.1" fill="#e8b1ba"/><rect y="189.3" height="1.7" fill="#efc9cf"/><rect y="190.9" height="0.7" fill="#f1d1d6"/><rect y="191.5" height="1.4" fill="#df939f"/><rect y="192.8" height="0.8" fill="#dd8e9a"/><rect y="193.5" height="2.1" fill="#f4e2e5"/><rect y="195.5" height="1.4" fill="#e3a1ac"/><rect y="196.8" height="0.7" fill="#f2d5da"/><rect y="197.4" height="1.4" fill="#e2ebf3"/><rect y="198.7" height="1.1" fill="#e1ebf3"/><rect y="199.7" height="1.7" fill="#e1ebf3"/><rect y="201.3" height="1.1" fill="#e7eef4"/><rect y="202.3" height="1.4" fill="#ebf0f5"/><rect y="203.6" height="2.1" fill="#dce8f2"/><rect y="205.6" height="1.7" fill="#e6eef4"/><rect y="207.2" height="1.1" fill="#d8e6f1"/><rect y="208.2" height="1.1" fill="#dbe8f2"/><rect y="209.2" height="2.1" fill="#eaf0f5"/><rect y="211.2" height="2.1" fill="#dfeaf3"/><rect y="213.2" height="0.9" fill="#dce8f2"/><rect y="214.0" height="1.7" fill="#f6edef"/><rect y="215.6" height="2.1" fill="#f6eef0"/><rect y="217.6" height="2.1" fill="#f7eff1"/><rect y="219.6" height="1.1" fill="#f2f4f7"/><rect y="220.6" height="2.1" fill="#f7f2f4"/><rect y="222.6" height="1.4" fill="#f6eaec"/><rect y="223.9" height="1.7" fill="#f7f4f5"/><rect y="225.5" height="2.1" fill="#f6edef"/><rect y="227.5" height="1.7" fill="#f8f5f6"/><rect y="229.1" height="2.1" fill="#f5e6e9"/><rect y="231.1" height="1.1" fill="#f6ebee"/><rect y="232.1" height="1.1" fill="#f7eff1"/><rect y="233.1" height="1.4" fill="#f8f6f7"/><rect y="234.4" height="2.1" fill="#f5e3e6"/><rect y="236.4" height="1.4" fill="#f7eff1"/><rect y="237.7" height="1.7" fill="#f5e4e7"/><rect y="239.3" height="1.4" fill="#f7f2f4"/><rect y="240.6" height="2.1" fill="#f6eaec"/><rect y="242.6" height="1.4" fill="#f8f7f8"/><rect y="243.9" height="2.1" fill="#f7eff1"/><rect y="245.9" height="0.6" fill="#f7f4f5"/><rect y="246.4" height="1.7" fill="#b8d2e7"/><rect y="248.0" height="1.1" fill="#b8d2e8"/><rect y="249.0" height="1.4" fill="#cde0ee"/><rect y="250.3" height="0.4" fill="#b3cee6"/><rect y="250.6" height="1.7" fill="#f8f6f7"/><rect y="252.2" height="1.1" fill="#f6ecee"/><rect y="253.2" height="1.7" fill="#f7f7f8"/><rect y="254.8" height="1.1" fill="#f3f4f7"/><rect y="255.8" height="2.1" fill="#f7f3f5"/><rect y="257.8" height="1.1" fill="#f8f5f6"/><rect y="258.8" height="0.3" fill="#f7f1f3"/><rect y="259.0" height="1.7" fill="#f6e9eb"/><rect y="260.6" height="2.1" fill="#f5e3e6"/><rect y="262.6" height="1.4" fill="#f5e4e7"/><rect y="263.9" height="2.1" fill="#f4e3e6"/><rect y="265.9" height="1.7" fill="#f5e5e8"/><rect y="267.5" height="1.7" fill="#f3dade"/><rect y="269.1" height="1.1" fill="#f5e4e7"/><rect y="270.1" height="1.1" fill="#f3dbe0"/><rect y="271.1" height="0.7" fill="#f5e4e7"/><rect y="271.7" height="1.7" fill="#eff2f6"/><rect y="273.3" height="1.1" fill="#e6edf4"/><rect y="274.3" height="1.4" fill="#f1f3f6"/><rect y="275.6" height="1.7" fill="#e4edf4"/><rect y="277.2" height="1.4" fill="#eff2f6"/><rect y="278.5" height="1.0" fill="#ebf0f5"/><rect y="279.4" height="1.7" fill="#f5e5e8"/><rect y="281.0" height="1.4" fill="#efcad1"/><rect y="282.3" height="0.8" fill="#f1d1d7"/><rect y="283.0" height="2.1" fill="#f7f4f5"/><rect y="285.0" height="1.4" fill="#f8f7f8"/><rect y="286.3" height="1.1" fill="#f7f3f5"/><rect y="287.3" height="1.7" fill="#f7eff1"/><rect y="288.9" height="2.1" fill="#f7f6f8"/><rect y="290.9" height="1.7" fill="#f8f4f5"/><rect y="292.5" height="1.6" fill="#f7f3f4"/><rect y="294.0" height="2.1" fill="#e9eff5"/><rect y="296.0" height="2.1" fill="#bdd5e9"/><rect y="298.0" height="1.7" fill="#eaeff5"/><rect y="299.6" height="2.1" fill="#f7f3f4"/><rect y="301.6" height="1.1" fill="#dee9f2"/><rect y="302.6" height="1.4" fill="#dde9f2"/><rect y="303.9" height="1.1" fill="#eff2f6"/><rect y="304.9" height="2.1" fill="#dfeaf2"/><rect y="306.9" height="2.1" fill="#ebf0f5"/><rect y="308.9" height="1.2" fill="#e8eef4"/><rect y="310.0" height="1.7" fill="#e6abb4"/><rect y="311.6" height="1.1" fill="#ecbec5"/><rect y="312.6" height="2.1" fill="#f3d8dc"/><rect y="314.6" height="2.1" fill="#efcad0"/><rect y="316.6" height="1.1" fill="#edc2c9"/><rect y="317.6" height="1.4" fill="#f1cfd5"/><rect y="318.9" height="1.1" fill="#eec7cd"/><rect y="319.9" height="1.4" fill="#eec7ce"/><rect y="321.2" height="1.1" fill="#e9b6be"/><rect y="322.2" height="1.9" fill="#efcad0"/><rect y="324.0" height="1.4" fill="#f2d5da"/><rect y="325.3" height="1.8" fill="#f3dce0"/><rect y="327.0" height="1.1" fill="#c74c5c"/><rect y="328.0" height="1.1" fill="#c74c5c"/><rect y="329.0" height="1.4" fill="#e4a4ae"/><rect y="330.3" height="1.1" fill="#e29faa"/><rect y="331.3" height="1.4" fill="#ecc1c8"/><rect y="332.6" height="1.1" fill="#df929e"/><rect y="333.6" height="2.1" fill="#e6abb5"/><rect y="335.6" height="1.1" fill="#f3d9dd"/><rect y="336.6" height="1.7" fill="#e2ecf3"/><rect y="338.2" height="1.7" fill="#e5edf4"/><rect y="339.8" height="1.4" fill="#dee9f2"/><rect y="341.1" height="1.1" fill="#e7eef4"/><rect y="342.1" height="1.1" fill="#ebf0f5"/><rect y="343.1" height="1.4" fill="#dee9f2"/><rect y="344.4" height="1.7" fill="#eec5cc"/><rect y="346.0" height="2.1" fill="#f4e2e5"/><rect y="348.0" height="2.1" fill="#f4dde1"/><rect y="350.0" height="1.7" fill="#f5e4e8"/><rect y="351.6" height="1.1" fill="#ebbcc4"/><rect y="352.6" height="1.1" fill="#edc3ca"/><rect y="353.6" height="1.4" fill="#efcad0"/><rect y="354.9" height="1.7" fill="#efcad0"/><rect y="356.5" height="1.1" fill="#f2d6db"/><rect y="357.5" height="0.3" fill="#f0ccd2"/><rect y="357.7" height="1.4" fill="#efc8cf"/><rect y="359.0" height="1.7" fill="#ecbfc7"/><rect y="360.6" height="1.1" fill="#f3d8dd"/><rect y="361.6" height="1.7" fill="#edc1c8"/><rect y="363.2" height="1.4" fill="#efcad1"/><rect y="364.5" height="1.7" fill="#f4dee2"/><rect y="366.1" height="2.1" fill="#f4dfe3"/><rect y="368.1" height="1.7" fill="#f4e1e4"/><rect y="369.7" height="0.7" fill="#f3dade"/><rect y="370.3" height="1.1" fill="#f7eff1"/><rect y="371.3" height="1.1" fill="#f5e5e8"/><rect y="372.3" height="2.1" fill="#f5e6e9"/><rect y="374.3" height="2.1" fill="#f5e5e8"/><rect y="376.3" height="2.1" fill="#f5e5e8"/><rect y="378.3" height="1.1" fill="#f4e1e5"/><rect y="379.3" height="0.8" fill="#f4e0e4"/><rect y="380.0" height="1.4" fill="#b6d0e7"/><rect y="381.3" height="1.7" fill="#c8dcec"/><rect y="382.9" height="1.1" fill="#d2e3ef"/><rect y="383.9" height="1.7" fill="#c3d9eb"/><rect y="385.5" height="1.7" fill="#a7c7e2"/><rect y="387.1" height="1.4" fill="#c4daeb"/></g>
<defs><linearGradient id="hmg" x1="0" y1="0" x2="0" y2="1"><stop offset="0" stop-color="#b82636"/><stop offset="0.125" stop-color="#cd5a6a"/><stop offset="0.25" stop-color="#e096a2"/><stop offset="0.375" stop-color="#f2d4d9"/><stop offset="0.5" stop-color="#f8f7f8"/><stop offset="0.625" stop-color="#d4e4f0"/><stop offset="0.75" stop-color="#a6c6e2"/><stop offset="0.875" stop-color="#6a98c9"/><stop offset="1" stop-color="#3468aa"/></linearGradient></defs>
<rect x="294.6" y="48.1" width="7.3" height="110.6" fill="url(#hmg)"/>
<text x="314.20" y="74.00" font-size="8" text-anchor="end" fill="#1a1a1a">2</text>
<text x="314.20" y="93.60" font-size="8" text-anchor="end" fill="#1a1a1a">1</text>
<text x="314.20" y="113.10" font-size="8" text-anchor="end" fill="#1a1a1a">0</text>
<text x="314.20" y="132.00" font-size="8" text-anchor="end" fill="#1a1a1a">-1</text>
<text x="314.20" y="151.90" font-size="8" text-anchor="end" fill="#1a1a1a">-2</text>
<text x="319.50" y="12.40" font-size="15" text-anchor="start" fill="#000" font-weight="bold">B</text>
<line x1="401.4" y1="31.3" x2="401.4" y2="181.2" stroke="#dedede" stroke-width="0.6" stroke-dasharray="1.6,1.6"/>
<line x1="351.3" y1="102.1" x2="494.5" y2="102.1" stroke="#dedede" stroke-width="0.6" stroke-dasharray="1.6,1.6"/>
<rect x="351.3" y="31.3" width="143.2" height="149.89999999999998" fill="none" stroke="#8a8a8a" stroke-width="1"/>
<line x1="349.7" y1="38.3" x2="351.3" y2="38.3" stroke="#8a8a8a" stroke-width="0.8"/>
<text x="349.30" y="41.10" font-size="7.8" text-anchor="end" fill="#222">20</text>
<line x1="349.7" y1="70.2" x2="351.3" y2="70.2" stroke="#8a8a8a" stroke-width="0.8"/>
<text x="349.30" y="73.00" font-size="7.8" text-anchor="end" fill="#222">10</text>
<line x1="349.7" y1="102.1" x2="351.3" y2="102.1" stroke="#8a8a8a" stroke-width="0.8"/>
<text x="349.30" y="104.90" font-size="7.8" text-anchor="end" fill="#222">0</text>
<line x1="349.7" y1="134.0" x2="351.3" y2="134.0" stroke="#8a8a8a" stroke-width="0.8"/>
<text x="349.30" y="136.80" font-size="7.8" text-anchor="end" fill="#222">-10</text>
<line x1="349.7" y1="165.9" x2="351.3" y2="165.9" stroke="#8a8a8a" stroke-width="0.8"/>
<text x="349.30" y="168.70" font-size="7.8" text-anchor="end" fill="#222">-20</text>
<line x1="362.6" y1="181.2" x2="362.6" y2="182.79999999999998" stroke="#8a8a8a" stroke-width="0.8"/>
<text x="362.60" y="188.10" font-size="7.8" text-anchor="middle" fill="#222">-10</text>
<line x1="401.4" y1="181.2" x2="401.4" y2="182.79999999999998" stroke="#8a8a8a" stroke-width="0.8"/>
<text x="401.40" y="188.10" font-size="7.8" text-anchor="middle" fill="#222">0</text>
<line x1="440.2" y1="181.2" x2="440.2" y2="182.79999999999998" stroke="#8a8a8a" stroke-width="0.8"/>
<text x="440.20" y="188.10" font-size="7.8" text-anchor="middle" fill="#222">10</text>
<line x1="479.0" y1="181.2" x2="479.0" y2="182.79999999999998" stroke="#8a8a8a" stroke-width="0.8"/>
<text x="479.00" y="188.10" font-size="7.8" text-anchor="middle" fill="#222">20</text>
<text x="424.00" y="198.60" font-size="10" text-anchor="middle" fill="#222">PC1:60.58%</text>
<text x="338.60" y="102.80" font-size="10" text-anchor="middle" fill="#222" transform="rotate(-90 338.60 102.80)">PC2:18.23%</text>
<line x1="398.2" y1="174.9" x2="488" y2="38.6" stroke="#f24646" stroke-width="1.15"/>
<circle cx="464.2" cy="74.6" r="2.0" fill="#ee2222"/>
<circle cx="434.5" cy="120.0" r="2.0" fill="#ee2222"/>
<circle cx="430.7" cy="125.0" r="2.0" fill="#ee2222"/>
<ellipse cx="382.6" cy="103.8" rx="27.4" ry="2.3" transform="rotate(20.0 382.6 103.8)" fill="#c2eab8" fill-opacity="0.75" stroke="#66c95c" stroke-width="0.7"/>
<ellipse cx="377.4" cy="96.0" rx="19" ry="0.4" transform="rotate(45.0 377.4 96.0)" fill="#35579f" stroke="#35579f" stroke-width="0.6"/>
<circle cx="371" cy="90" r="1.9" fill="#233f8c"/>
<circle cx="379.6" cy="98.4" r="1.9" fill="#233f8c"/>
<circle cx="381.6" cy="100.7" r="1.9" fill="#233f8c"/>
<circle cx="371.7" cy="99" r="1.8" fill="#44bd44"/>
<circle cx="385.8" cy="105.6" r="1.8" fill="#44bd44"/>
<circle cx="391.5" cy="106.4" r="1.8" fill="#44bd44"/>
<text x="356.80" y="78.30" font-size="10" text-anchor="start" fill="#3a60a8">Control</text>
<text x="356.50" y="123.20" font-size="10" text-anchor="start" fill="#5cc04a">Tg treat</text>
<text x="448.60" y="117.80" font-size="10" text-anchor="start" fill="#d43a3a">Tg CTL</text>
<text x="501.40" y="11.60" font-size="15" text-anchor="start" fill="#000" font-weight="bold">C</text>
<text x="609.30" y="24.60" font-size="10" text-anchor="middle" fill="#1a1a1a">Untreated vs Control</text>
<path d="M563.5 160.9h0m1-2.4h0m.7 5.9h0m.4-5.4h0m.2 1.2h0m.2 6.2h0m.4-5.5h0m1.9 2.7h0m1-5.5h0m2.9 9.6h0m.2-.3h0m.3-7.6h0m.3 7.3h0m.1 .6h0m.1 2.9h0m.1-11.7h0m.3 4.1h0m.4-3.1h0m.3 10.5h0m.4-8.7h0m0 6h0m.6-3h0m.1-7.4h0m.1 8h0m.1 2.3h0m0 .5h0m.2-.7h0m.4-9.2h0m.1 9.4h0m-0 5.8h0m.3-3.1h0m.1-.1h0m.1-3h0m-0 1h0m.2 5h0m-0 .1h0m.2-5.6h0m.1-7.5h0m-0 10.3h0m-0 2.7h0m-0 .1h0m.1-9.2h0m-0 9.3h0m.2-3.2h0m.3-9.3h0m.2-1.9h0m.1 4.3h0m.2 9.9h0m.1-6.2h0m.2 .3h0m.1 .1h0m.1-3.7h0m.3 4h0m.2-3.2h0m.2 2.9h0m.1 6.1h0m.2-.2h0m.2-8.6h0m.1 5.4h0m.1-11.9h0m.5 9.4h0m-0 5.9h0m.1-12.3h0m.1 12.1h0m.2 .1h0m.1-5.7h0m-0 2.9h0m.3-2.9h0m.6-6.1h0m-0 8.9h0m.1-8.7h0m-0 8.4h0m.1 3h0m-0 .4h0m.1-3h0m.1-12.8h0m-0 9.8h0m-0 2.9h0m.3-9.5h0m.1 6.7h0m.1 2.8h0m-0 2.9h0m.1-6.6h0m.1 .9h0m.2 2.5h0m.1-9.4h0m.2-1.4h0m-0 14.2h0m.2-9.9h0m.2 4.2h0m.1 2.7h0m.1-3h0m.2-2.3h0m.2 2.1h0m.3-5.4h0m.3-5.4h0m.1 2.1h0m-0 8.3h0m.1-2.8h0m-0 6.3h0m.1-2.7h0m.1-.1h0m.2 1.4h0m.2 1h0m-0 3.4h0m.2-5.8h0m-0 1.4h0m-0 1h0m.2-6.1h0m-0 3.5h0m-0 2.8h0m.2-0h0m-0-0h0m.1 3.2h0m.1-6.2h0m-0 1.7h0m.3-4.5h0m-0 5.7h0m.2 .2h0m.3-7.4h0m.2-1.2h0m.1 11.7h0m.1-16.7h0m.2 10.9h0m.3-5h0m-0 4h0m-0 6.4h0m.3-12.8h0m.3 13.1h0m.2-2.8h0m.1 3h0m.2-12.1h0m.5 6.4h0m.4-7.2h0m-0 9.6h0m.1 .3h0m.5-3.3h0m.5-5h0m-0 8.3h0m.1-.2h0m.1-3h0m.1 5.9h0m.2-5.8h0m-0 2.8h0m.2-7.2h0m-0 6h0m.1-6.3h0m.2 1.5h0m.1 2.9h0m-0 5.4h0m.2-8h0m-0 5.7h0m.1-.2h0m.2 3.1h0m.1-6.6h0m-0 7h0m.1-.1h0m.2-3.1h0m.2 .2h0m.1-3.8h0m.2 6.8h0m.1-6.2h0m.1 .4h0m-0 2.7h0m-0 1.5h0m-0 .7h0m.3 .7h0m.3-8.5h0m.1-1.3h0m-0 4h0m.6-7h0m-0 9.6h0m.1 3.2h0m.1-.2h0m.1-14.6h0m-0 11.7h0m-0 .3h0m.1-.2h0m.1 3.1h0m.2-12.8h0m.2 3.7h0m-0 9h0m-0-0h0m.1-11.6h0m-0 9.1h0m.1-.5h0m.1-2.3h0m.3-5.1h0m-0 9h0m.1-9.7h0m.1 8.9h0m-0 1.6h0m.1-6.8h0m-0 5.7h0m.2-7.9h0m-0 .7h0m.1-4.7h0m-0 3h0m-0 9.3h0m.1 1.4h0m.1-13.4h0m-0 3.5h0m-0 8.2h0m-0 1.1h0m-0 .5h0m.1-16.5h0m-0 9.7h0m-0 2h0m-0-0h0m.1-4.4h0m-0 9.2h0m.1-13.9h0m-0 2.8h0m-0 3.1h0m-0 7.5h0m.1-.3h0m.1-11.6h0m-0 6.7h0m-0 5.6h0m.1-12.1h0m-0 8.7h0m.1-11h0m-0 10.1h0m-0 4.3h0m.1-3.1h0m-0 .3h0m.1-6.1h0m-0 1.6h0m-0 .8h0m-0 3.4h0m-0 2.1h0m.1-3.2h0m-0 1.3h0m.1-8.6h0m-0 3.1h0m-0 5.3h0m-0 1.5h0m-0 1.9h0m.1-13.6h0m-0 2.3h0m-0 1.4h0m.1 5.6h0m.1-7.2h0m.1-2.6h0m-0 5.7h0m.1 3.6h0m.1-10.4h0m-0 7.1h0m-0 4.9h0m-0 3h0m-0 .6h0m.1-11.3h0m-0 1.1h0m-0 3h0m-0 .6h0m.2-1.2h0m-0 3h0m-0 1.5h0m-0 1h0m.1-13.7h0m-0 2.2h0m-0 .7h0m-0 .2h0m-0 3.9h0m-0 1.4h0m-0 4h0m-0 3.8h0m.1-11.1h0m-0 9.7h0m.1-12.8h0m-0 1.1h0m-0 2.3h0m-0 9h0m.1-2.2h0m-0-0h0m-0 2.5h0m-0 .7h0m.1-16.6h0m-0 2.4h0m-0 9h0m-0 .8h0m-0 .9h0m.1-8h0m-0 .8h0m-0 7.5h0m.1-10.7h0m-0 .6h0m-0 6.6h0m-0 3.9h0m-0 2.6h0m.1-8.4h0m-0 1.7h0m-0 .3h0m-0 6.3h0m.1-13.6h0m-0-0h0m-0 .7h0m-0 8.5h0m-0 .4h0m-0 3.1h0m.1-11h0m-0 6.5h0m-0 1.1h0m-0 .1h0m-0 2.9h0m-0 .9h0m.1-10.2h0m-0 .3h0m-0 .1h0m-0 2.9h0m-0 2.8h0m-0 1.6h0m-0 1h0m-0 .5h0m-0 1h0m-0 1.5h0m.1-17.3h0m-0 13.5h0m-0 .5h0m-0 2.5h0m.1-14.7h0m-0 .4h0m-0 1.1h0m-0 .1h0m-0 1.1h0m-0 1.2h0m-0 5h0m-0-0h0m-0 .6h0m-0 .6h0m-0 3.2h0m-0 2h0m.1-16h0m-0 .2h0m-0 .9h0m-0 3.5h0m-0 4.4h0m-0 .2h0m-0 3.7h0m-0 2.7h0m.1-11.6h0m-0 3.7h0m-0 1.6h0m-0 .2h0m-0 1.1h0m-0 .5h0m-0 .3h0m-0 1.3h0m-0 .1h0m-0 1.2h0m.1-14.9h0m-0 3.1h0m-0 .9h0m-0 4.4h0m-0 1.6h0m-0 1.7h0m-0 .7h0m-0 1.1h0m-0 1.2h0m-0 1h0m-0 .5h0m-0 .1h0m.1-11.6h0m-0 2.2h0m-0 2.4h0m-0 1.1h0m-0 3.3h0m-0 1h0m-0 .1h0m.1-14h0m-0 4.2h0m-0 2.6h0m-0 3.2h0m-0 5.6h0m-0 .2h0m-0 .2h0m.1-17h0m-0 4.3h0m-0 3h0m-0 4.1h0m-0 1.8h0m-0 1.2h0m.1-13.6h0m-0 2.1h0m-0 2h0m-0 3.3h0m-0 1.9h0m-0 3.9h0m-0 2.2h0m.1-15.7h0m-0 4h0m-0 9h0m-0 0h0m-0 .2h0m.1-12.2h0m-0 .5h0m-0 1.8h0m-0 .2h0m-0 .4h0m-0 1.8h0m-0 .9h0m-0 1.7h0m-0 3h0m-0 1.2h0m-0 1.6h0m.1-8.6h0m-0 .7h0m-0 .3h0m-0 2.2h0m-0 .7h0m.1-6.5h0m-0 .1h0m-0 6.4h0m-0 .3h0m-0 3.1h0m-0 .2h0m-0 .7h0m-0 .5h0m-0 2.4h0m.1-15.7h0m-0 4.9h0m-0 1.5h0m-0 3.3h0m-0 .4h0m-0 .6h0m-0 2.9h0m-0 .2h0m-0 .8h0m.1-16.1h0m-0 .6h0m-0 1.9h0m-0 .2h0m-0 2.1h0m-0 .1h0m-0 .8h0m-0 3.2h0m-0 .6h0m-0 .7h0m-0 .2h0m-0 1.9h0m-0 1.3h0m.1-13.4h0m-0 6.2h0m-0 1.1h0m-0 4.2h0m-0 .5h0m-0 2.3h0m-0 2.1h0m.1-15h0m-0 6.2h0m-0 1.2h0m-0 .6h0m-0 1.5h0m-0 0h0m.1-4.5h0m-0 .4h0m-0 3.5h0m-0 .4h0m-0 .4h0m-0 1.8h0m-0 .6h0m-0 .9h0m-0 1.3h0m-0 .6h0m.1-16.4h0m-0 2.2h0m-0 4.6h0m-0 3.6h0m-0 .6h0m-0 1.8h0m-0 2.4h0m-0 .4h0m-0 .8h0m.1-15h0m-0 .6h0m-0 .6h0m-0 1.2h0m-0 1.9h0m-0 .3h0m-0 .9h0m-0 2.5h0m-0 .2h0m-0 2.4h0m-0 0h0m-0 .5h0m-0 .4h0m-0 .4h0m-0 .2h0m-0 1.1h0m-0 2.6h0m.1-15.7h0m-0 1.2h0m-0 .4h0m-0 .9h0m-0 .3h0m-0 4.9h0m-0 .8h0m-0 1.6h0m-0 4.8h0m.1-15.2h0m-0 1h0m-0 4h0m-0 1h0m-0 1.1h0m-0 3.5h0m-0 .3h0m-0 1.1h0m-0 .5h0m-0 .3h0m-0 .5h0m-0 .2h0m.1-13.7h0m-0 1.6h0m-0 3.4h0m-0 2.2h0m-0 3.3h0m-0 .2h0m-0 1.8h0m-0 2.5h0m-0 .3h0m.1-14.6h0m-0 .3h0m-0 2.8h0m-0-0h0m-0 2.2h0m-0 .5h0m-0 3h0m-0 .9h0m-0 .4h0m-0 5.3h0m.1-16.7h0m-0 1.5h0m-0 1.1h0m-0 .5h0m-0 4.4h0m-0 .7h0m-0 1.2h0m-0 .9h0m-0 .4h0m-0 .3h0m-0 1.2h0m-0 .7h0m-0 .1h0m-0 .4h0m-0 .3h0m-0 .8h0m-0 .7h0m.1-15.8h0m-0 2.2h0m-0 0h0m-0 .2h0m-0 1.6h0m-0 .2h0m-0 .4h0m-0 1.5h0m-0 1.7h0m-0 .8h0m-0 2.3h0m-0 3h0m-0 .1h0m-0 .9h0m-0 1.6h0m-0 .1h0m-0 .3h0m.1-16.4h0m-0 2.4h0m-0 2.5h0m-0 .8h0m-0 .8h0m-0 1.6h0m-0 .4h0m-0 .2h0m-0 1.1h0m-0 3.4h0m-0 1.8h0m-0 1h0m.1-16h0m-0 .6h0m-0 4.8h0m-0 .2h0m-0 0h0m-0 .1h0m-0 .6h0m-0 2h0m-0 .7h0m-0 1.9h0m-0 1.2h0m-0 0h0m-0 .1h0m-0 1.5h0m-0 1.6h0m-0 1.3h0m-0 .2h0m.1-16.9h0m-0 2.4h0m-0 3.3h0m-0 1.1h0m-0 .7h0m-0 1.3h0m-0 1.4h0m-0 2.1h0m-0 2.4h0m-0 1h0m-0 .1h0m-0 0h0m.1-10.8h0m-0 1.7h0m-0 2.1h0m-0 2.6h0m-0 2.2h0m-0 .6h0m-0 2.1h0m.1-8.4h0m-0 3h0m-0 1.2h0m-0 .5h0m-0 .8h0m-0 .1h0m.1-12.9h0m-0 0h0m-0 2.2h0m-0 2.4h0m-0 1.1h0m-0 1.9h0m-0 .7h0m-0 .3h0m-0 .3h0m-0 1.1h0m-0 2.2h0m-0 .7h0m-0 2.9h0m-0 0h0m-0 .3h0m.1-12.3h0m-0 1.1h0m-0 .1h0m-0 .3h0m-0 1.1h0m-0 .3h0m-0 .4h0m-0 .5h0m-0 3h0m-0 .2h0m-0 3.8h0m-0 .8h0m-0 1h0m.1-14.8h0m-0 1h0m-0 4.5h0m-0 3.5h0m-0 .3h0m-0 .1h0m-0 .7h0m-0 1.3h0m-0 .8h0m.1-12.9h0m-0 4.8h0m-0 2.5h0m-0 0h0m-0 1.3h0m-0 2h0m-0 .8h0m-0 3.1h0m-0 .5h0m.1-14.4h0m-0 .3h0m-0 1h0m-0 1.1h0m-0 1.3h0m-0 .4h0m-0 3.1h0m-0 .5h0m-0 1.2h0m-0 1.1h0m-0 .1h0m-0 1h0m-0 2.2h0m.1-15.8h0m-0 2.4h0m-0 .6h0m-0 .1h0m-0 .2h0m-0 .7h0m-0 .2h0m-0 .1h0m-0 5.6h0m-0 .1h0m-0 .4h0m-0 2.5h0m-0 2.4h0m-0 .6h0m.1-15.8h0m-0 1.2h0m-0 .1h0m-0 .3h0m-0 0h0m-0 1.3h0m-0 2.2h0m-0 .9h0m-0 .3h0m-0 0h0m-0 5.3h0m-0 .1h0m-0 .4h0m-0 .1h0m-0 .2h0m-0 .8h0m-0 3.1h0m-0 .9h0m.1-16.4h0m-0 .2h0m-0 2.2h0m-0 2.8h0m-0 .4h0m-0 .4h0m-0 1.5h0m-0 1.8h0m-0 .8h0m-0 1h0m-0 .3h0m-0 .7h0m-0 0h0m-0 3.3h0m.1-12.7h0m-0 .1h0m-0 1.7h0m-0 .1h0m-0 .6h0m-0 .8h0m-0 .2h0m-0 1.7h0m-0 0h0m-0 1h0m-0 .2h0m-0 .6h0m-0 .4h0m-0 0h0m-0 1h0m-0 1h0m-0 1.6h0m-0 .8h0m-0 1.5h0m.1-15.9h0m-0 .1h0m-0 .4h0m-0 .5h0m-0 .7h0m-0 .7h0m-0 1.4h0m-0 1.1h0m-0 1.6h0m-0 .5h0m-0 .4h0m-0 .6h0m-0 .4h0m-0 1.6h0m-0 1.5h0m-0 0h0m-0 .1h0m-0 0h0m-0 .7h0m-0 1.8h0m-0 1.2h0m.1-16h0m-0 1.7h0m-0 .5h0m-0 .4h0m-0 2.3h0m-0 3.2h0m-0 .2h0m-0 .1h0m-0 .2h0m-0 .2h0m-0 1h0m-0 1.1h0m-0 .6h0m-0 .1h0m-0 2.1h0m-0 1h0m-0 .7h0m.1-13.6h0m-0 1h0m-0 .5h0m-0 3.7h0m-0 1.3h0m-0 .5h0m-0 .5h0m-0 .3h0m-0 .9h0m-0 .6h0m-0 .3h0m-0 .4h0m-0 1.2h0m-0 .8h0m-0 1.5h0m-0 1.3h0m-0 .4h0m.1-16.6h0m-0 .7h0m-0 2.6h0m-0 .1h0m-0 1.5h0m-0 .5h0m-0 .4h0m-0 .2h0m-0 4h0m-0 1.4h0m-0 .1h0m-0 1.3h0m-0 1.4h0m-0 1.1h0m-0 .7h0m.1-15.1h0m-0 .4h0m-0 .3h0m-0 2.2h0m-0 1.1h0m-0 .4h0m-0 .9h0m-0 .2h0m-0 .2h0m-0 1.8h0m-0 1h0m-0 3.1h0m-0 0h0m-0 .6h0m-0 .5h0m-0 1.4h0m-0 .6h0m-0 .2h0m-0 .2h0m-0 0h0m-0 .1h0m-0 .6h0m.1-17.3h0m-0 .3h0m-0 .9h0m-0 .6h0m-0 .5h0m-0 1.5h0m-0 1.1h0m-0 .2h0m-0 .4h0m-0 2.3h0m-0 0h0m-0 .3h0m-0 .6h0m-0 0h0m-0 .3h0m-0 .7h0m-0 .1h0m-0 2h0m-0 1.3h0m-0 1.4h0m.1-12.9h0m-0 .2h0m-0 .8h0m-0 1h0m-0 .3h0m-0 .9h0m-0 2.7h0m-0 1h0m-0 1.3h0m-0 0h0m-0 .2h0m-0 1h0m-0 .3h0m-0 1.3h0m-0 2.2h0m-0 1.8h0m.1-16h0m-0 .8h0m-0 .2h0m-0 1h0m-0 1.6h0m-0 1.3h0m-0 1.6h0m-0 .6h0m-0 1.7h0m-0 2.8h0m-0 .2h0m-0 1.1h0m-0 3.7h0m.1-16.6h0m-0 .4h0m-0 .1h0m-0 1.8h0m-0 .1h0m-0 .1h0m-0 .5h0m-0 1.6h0m-0 .1h0m-0 1h0m-0 .4h0m-0 1.1h0m-0 .3h0m-0 .8h0m-0 .2h0m-0 3.7h0m-0 1.5h0m-0 1.5h0m.1-14.8h0m-0 1.5h0m-0 1h0m-0 0h0m-0 .5h0m-0 .1h0m-0 .5h0m-0 1.6h0m-0 .5h0m-0 0h0m-0 2.5h0m-0 .2h0m-0 .3h0m-0 .5h0m-0 .7h0m-0 .1h0m-0 .1h0m-0 .5h0m-0 .9h0m-0 .4h0m-0 .1h0m-0 1.5h0m-0 .3h0m-0 .6h0m-0 .5h0m-0 .5h0m-0 .3h0m.1-16.3h0m-0 1.2h0m-0 .1h0m-0 .2h0m-0 .2h0m-0 0h0m-0 1.3h0m-0 .3h0m-0 .5h0m-0 1.8h0m-0 1h0m-0 .8h0m-0 2.2h0m-0 .3h0m-0 .5h0m-0 .3h0m-0 .3h0m-0 1.7h0m-0 .4h0m-0 2.8h0m-0 .7h0m-0 .1h0m.1-16h0m-0 .2h0m-0 .2h0m-0 .1h0m-0 .1h0m-0 1h0m-0 0h0m-0 2.6h0m-0 .7h0m-0 1.3h0m-0 3.6h0m-0 2.2h0m-0 1.5h0m-0 1.2h0m.1-15.8h0m-0 .2h0m-0 1.8h0m-0 .3h0m-0 .4h0m-0 .3h0m-0 .6h0m-0 .5h0m-0 1.1h0m-0 1.3h0m-0 .2h0m-0 .1h0m-0 .1h0m-0 1.6h0m-0 .3h0m-0 .1h0m-0 .6h0m-0 .9h0m-0 2.8h0m-0 1h0m-0 .6h0m-0 .5h0m-0 .1h0m.1-15.1h0m-0 .3h0m-0 .3h0m-0 .8h0m-0 .4h0m-0 .4h0m-0 1.2h0m-0 .9h0m-0 1h0m-0 .8h0m-0 0h0m-0 .2h0m-0 .5h0m-0 1.3h0m-0 .5h0m-0 .8h0m-0 .9h0m-0 2h0m-0 .2h0m-0 .6h0m-0 .1h0m-0 .3h0m-0 .6h0m-0 .9h0m-0 .5h0m.1-14.8h0m-0 .4h0m-0 1.4h0m-0 1.6h0m-0 .1h0m-0 1.6h0m-0 1.7h0m-0 .5h0m-0 1h0m-0 .2h0m-0 1.2h0m-0 .6h0m-0 .7h0m-0 1.8h0m-0 .5h0m-0 1.2h0m-0 .8h0m-0 .1h0m-0 .3h0m.1-16.7h0m-0 .6h0m-0 1.2h0m-0 .3h0m-0 1h0m-0 .1h0m-0 1.3h0m-0 1.7h0m-0 1.1h0m-0 .7h0m-0 2.2h0m-0 .1h0m-0 .1h0m-0 .1h0m-0 .8h0m-0 2.6h0m-0 1.1h0m-0 .7h0m-0 .1h0m-0 .9h0m-0 .5h0m.1-17.1h0m-0 .1h0m-0 1.1h0m-0 .2h0m-0 .1h0m-0 .2h0m-0 .2h0m-0 1.3h0m-0 .8h0m-0 1.9h0m-0 .1h0m-0 .4h0m-0 1.6h0m-0 2.7h0m-0 .3h0m-0 .2h0m-0 3.2h0m-0 .6h0m-0 .4h0m-0 .6h0m-0 .8h0m-0 .1h0m-0 .2h0m-0 .1h0m.1-17.4h0m-0 1.5h0m-0 .3h0m-0 1h0m-0 .2h0m-0 .3h0m-0 .1h0m-0 2.6h0m-0 .3h0m-0 .9h0m-0 .1h0m-0 .3h0m-0 .8h0m-0 .2h0m-0 .4h0m-0 1h0m-0 1h0m-0 .2h0m-0 2.9h0m-0 .9h0m-0 2.3h0m.1-16.6h0m-0 1.8h0m-0 .1h0m-0 .6h0m-0 .5h0m-0 .6h0m-0 1.2h0m-0 .7h0m-0 .2h0m-0 2.2h0m-0 .9h0m-0 1.2h0m-0 .3h0m-0 2.6h0m-0 2.6h0m.1-16h0m-0 .4h0m-0 .8h0m-0 .1h0m-0 1.8h0m-0 .4h0m-0 .1h0m-0 .5h0m-0 1.1h0m-0 1h0m-0 .1h0m-0 .9h0m-0 .6h0m-0 .4h0m-0 .6h0m-0 2.7h0m-0 .6h0m-0 .3h0m-0 .2h0m-0 .2h0m-0 .7h0m-0 2h0m-0 .6h0m.1-16.4h0m-0 .3h0m-0 0h0m-0 .2h0m-0 .1h0m-0 .4h0m-0 .5h0m-0 .4h0m-0 .3h0m-0 .3h0m-0 3.1h0m-0 .6h0m-0 .4h0m-0 4.2h0m-0 .1h0m-0 1.9h0m-0 1.8h0m-0 1.4h0m-0 .8h0m.1-15.9h0m-0 1.4h0m-0 .7h0m-0 .2h0m-0 .2h0m-0 .4h0m-0 .5h0m-0 .5h0m-0 0h0m-0 4.7h0m-0 1.1h0m-0 .1h0m-0 .9h0m-0 1.3h0m-0 .4h0m.1-12.6h0m-0 .5h0m-0 .5h0m-0 3.1h0m-0 .3h0m-0 .9h0m-0 .9h0m-0 1.8h0m-0 .1h0m-0 1.4h0m-0 0h0m-0 .1h0m-0 .3h0m-0 .7h0m-0 2.5h0m-0 .5h0m-0 1.6h0m-0 .8h0m.1-16.5h0m-0 .1h0m-0 .5h0m-0 .7h0m-0 .8h0m-0 .5h0m-0 1.5h0m-0 .3h0m-0 .2h0m-0 1.9h0m-0 2.8h0m-0 .8h0m-0 .9h0m-0 .1h0m-0 1.3h0m-0 .2h0m-0 .3h0m-0 .2h0m-0 .5h0m-0 1.4h0m-0 1.4h0m.1-16.4h0m-0 .3h0m-0 .4h0m-0 .3h0m-0 .8h0m-0 .7h0m-0 .1h0m-0 .5h0m-0 .3h0m-0 .3h0m-0 .6h0m-0 2.8h0m-0 0h0m-0 .2h0m-0 .1h0m-0 1.7h0m-0 .2h0m-0 .7h0m-0 .8h0m-0 1h0m-0 1.6h0m-0 1h0m-0 .1h0m-0 0h0m-0 1h0m-0 .9h0m.1-14.9h0m-0 .2h0m-0 .7h0m-0 3.2h0m-0 .3h0m-0 1.3h0m-0 .2h0m-0 .2h0m-0 .3h0m-0 .3h0m-0 .8h0m-0 0h0m-0 .2h0m-0 .7h0m-0 .6h0m-0 .4h0m-0 2h0m-0 .5h0m-0 .9h0m-0 .1h0m-0 .8h0m.1-14.8h0m-0 .9h0m-0 1.2h0m-0 .2h0m-0 .7h0m-0 .5h0m-0 .2h0m-0 .2h0m-0 .4h0m-0 2.3h0m-0 1.6h0m-0 2.2h0m-0 .3h0m-0 1.8h0m-0 .1h0m-0 .2h0m-0 2.2h0m-0 0h0m-0 1.1h0m-0 .3h0m-0 .2h0m-0 .3h0m.1-16.8h0m-0 .4h0m-0 1.3h0m-0 1.2h0m-0 1h0m-0 .9h0m-0 1.1h0m-0 1.4h0m-0 .2h0m-0 1.2h0m-0 .5h0m-0 2.9h0m-0 .8h0m-0 .1h0m-0 .3h0m-0 .1h0m-0 .3h0m-0 .3h0m.1-14.6h0m-0 0h0m-0 .3h0m-0 .5h0m-0 .3h0m-0 .4h0m-0 .4h0m-0 .4h0m-0 .4h0m-0 1.7h0m-0 1.5h0m-0 1h0m-0 .2h0m-0 .1h0m-0 .7h0m-0 .6h0m-0 .3h0m-0 .9h0m-0 0h0m-0 .1h0m-0 .5h0m-0 .4h0m-0 .2h0m-0 .4h0m-0 1.1h0m-0 0h0m-0 .1h0m-0 .2h0m-0 .7h0m-0 .1h0m-0 .5h0m-0 .4h0m-0 1.2h0m-0 .8h0m-0 .2h0m-0 .4h0m.1-16.3h0m-0 .7h0m-0 .2h0m-0 0h0m-0 0h0m-0 0h0m-0 .3h0m-0 .1h0m-0 .4h0m-0 .7h0m-0 0h0m-0 .4h0m-0 .1h0m-0 1.2h0m-0 .2h0m-0 .3h0m-0 .5h0m-0 .2h0m-0 .9h0m-0 .2h0m-0 .6h0m-0 2h0m-0 0h0m-0 .4h0m-0 .1h0m-0 1.1h0m-0 0h0m-0 .1h0m-0 0h0m-0 .2h0m-0 .3h0m-0 .3h0m-0 .2h0m-0 1.9h0m-0 2.5h0m.1-16.7h0m-0 1.4h0m-0 1.4h0m-0 .1h0m-0 .7h0m-0 .1h0m-0 .5h0m-0 1h0m-0 0h0m-0 1.5h0m-0 .7h0m-0 .6h0m-0 .1h0m-0 .1h0m-0 .2h0m-0 .1h0m-0 .4h0m-0 .8h0m-0 .2h0m-0 1.6h0m-0 .3h0m-0 .3h0m-0 .4h0m-0 1.2h0m-0 .2h0m-0 .5h0m-0 2.3h0m-0 .1h0m.1-16.3h0m-0 1.1h0m-0 .4h0m-0 .1h0m-0 .1h0m-0 2h0m-0 .4h0m-0 .1h0m-0 2.5h0m-0 .3h0m-0 .2h0m-0 1.3h0m-0 0h0m-0 0h0m-0 .3h0m-0 .2h0m-0 .6h0m-0 .1h0m-0 .8h0m-0 .2h0m-0 1.9h0m-0 1h0m-0 .1h0m-0 .3h0m-0 1.3h0m.1-15.2h0m-0 .1h0m-0 4.2h0m-0 .1h0m-0 .3h0m-0 3.2h0m-0 .1h0m-0 .5h0m-0 .6h0m-0 .3h0m-0 .2h0m-0 .1h0m-0 .5h0m-0 2.5h0m-0 1h0m-0 .2h0m-0 .6h0m-0 .5h0m-0 1.3h0m.1-17h0m-0 1.2h0m-0 .5h0m-0 .8h0m-0 1h0m-0 .4h0m-0 .9h0m-0 .8h0m-0 .3h0m-0 .5h0m-0 .2h0m-0 1h0m-0 .5h0m-0 0h0m-0 .6h0m-0 .1h0m-0 1.8h0m-0 2.2h0m-0 1.7h0m-0 1.3h0m-0 .6h0m-0 1h0m.1-17.3h0m-0 .8h0m-0 .2h0m-0 .2h0m-0 .1h0m-0 0h0m-0 2h0m-0 .7h0m-0 .4h0m-0 2h0m-0 2.2h0m-0 .1h0m-0 .3h0m-0 .8h0m-0 2.4h0m-0 .3h0m-0 .3h0m-0 .2h0m-0 .5h0m-0 .5h0m-0 .9h0m-0 1.6h0m-0 .5h0m-0 .4h0m.1-17h0m-0 .1h0m-0 .3h0m-0 .2h0m-0 .1h0m-0 .1h0m-0 .1h0m-0 .4h0m-0 1.2h0m-0 .3h0m-0 1.4h0m-0 1.1h0m-0 .5h0m-0 .2h0m-0 .9h0m-0 .2h0m-0 1h0m-0 1.1h0m-0 .3h0m-0 .7h0m-0 3.3h0m-0 .1h0m-0 1.7h0m-0 1h0m-0 .6h0m.1-15.6h0m-0 .3h0m-0 2.3h0m-0 .3h0m-0 .8h0m-0 .4h0m-0 .1h0m-0 .1h0m-0 .4h0m-0 .4h0m-0 .2h0m-0 2.1h0m-0 0h0m-0 .7h0m-0 0h0m-0 .1h0m-0 1.5h0m-0 .4h0m-0 .8h0m-0 .9h0m-0 .7h0m-0 .3h0m-0 .5h0m-0 2.4h0m-0 0h0m.1-17h0m-0 3.9h0m-0 1.3h0m-0 .3h0m-0 .1h0m-0 1h0m-0 2.7h0m-0 0h0m-0 .1h0m-0 .2h0m-0 2.1h0m-0 .8h0m-0 .7h0m-0 0h0m-0 .4h0m-0 .4h0m-0 1.5h0m-0 .4h0m-0 0h0m-0 .8h0m.1-16.7h0m-0 0h0m-0 .6h0m-0 .4h0m-0 0h0m-0 7.1h0m-0 .5h0m-0 .1h0m-0 .4h0m-0 1.6h0m-0 .2h0m-0 1.5h0m-0 .3h0m-0 0h0m-0 .2h0m-0 .7h0m-0 1.1h0m-0 .7h0m-0 .2h0m-0 .3h0m.1-15.3h0m-0 1.1h0m-0 .8h0m-0 2h0m-0 0h0m-0 .4h0m-0 .2h0m-0 .8h0m-0 .9h0m-0 .4h0m-0 .4h0m-0 1.8h0m-0 .4h0m-0 .8h0m-0 .4h0m-0 1.7h0m-0 .2h0m-0 1.3h0m.1-14.7h0m-0 .1h0m-0 .1h0m-0 0h0m-0 .4h0m-0 .3h0m-0 1.8h0m-0 .4h0m-0 .4h0m-0 .8h0m-0 .5h0m-0 .3h0m-0 .3h0m-0 1.1h0m-0 1h0m-0 .1h0m-0 .9h0m-0 .2h0m-0 1h0m-0 .7h0m-0 .2h0m-0 1.1h0m-0 .4h0m-0 .3h0m-0 1.7h0m-0 .6h0m-0 .9h0m.1-14.6h0m-0 .2h0m-0 1.2h0m-0 .4h0m-0 .2h0m-0 1.3h0m-0 .1h0m-0 1.2h0m-0 0h0m-0 1.3h0m-0 .3h0m-0 .3h0m-0 .9h0m-0 .5h0m-0 .3h0m-0 .3h0m-0 .4h0m-0 .4h0m-0 .6h0m-0 .1h0m-0 .8h0m-0 1h0m-0 .5h0m-0 .4h0m-0 .8h0m-0 1.4h0m-0 .1h0m-0 .3h0m-0 .4h0m.1-16.2h0m-0 .1h0m-0 0h0m-0 .1h0m-0 1.1h0m-0 .2h0m-0 .4h0m-0 2.6h0m-0 .1h0m-0 .2h0m-0 .1h0m-0 0h0m-0 1.5h0m-0 .3h0m-0 .9h0m-0 .5h0m-0 1h0m-0 1.3h0m-0 .9h0m-0 .8h0m-0 .1h0m-0 .3h0m-0 2.6h0m-0 .3h0m.1-16h0m-0 .5h0m-0 .3h0m-0 .2h0m-0 0h0m-0 .2h0m-0 .6h0m-0 .1h0m-0 0h0m-0 .2h0m-0 .5h0m-0 1.6h0m-0 .1h0m-0 0h0m-0 1.7h0m-0 .2h0m-0 1.1h0m-0 .2h0m-0 .4h0m-0 .3h0m-0 1.1h0m-0 .3h0m-0 .2h0m-0 .2h0m-0 .7h0m-0 .7h0m-0 1.2h0m-0 .3h0m-0 1.2h0m-0 .8h0m-0 .5h0m-0 .3h0m-0 .5h0m-0 .2h0m-0 .1h0m-0 .1h0m.1-15.8h0m-0 .1h0m-0 .6h0m-0 .2h0m-0 .2h0m-0 1.7h0m-0 .4h0m-0 1h0m-0 .9h0m-0 .4h0m-0 .9h0m-0 .4h0m-0 .9h0m-0 .2h0m-0 .1h0m-0 .6h0m-0 .3h0m-0 .4h0m-0 .7h0m-0 .8h0m-0 .1h0m-0 1.4h0m-0 .7h0m-0 .6h0m-0 2.1h0m-0 .2h0m-0 .7h0m.1-16.9h0m-0 .1h0m-0 .5h0m-0 .2h0m-0 .5h0m-0 1h0m-0 .1h0m-0 1.5h0m-0 .9h0m-0 .4h0m-0 1.9h0m-0 0h0m-0 1.2h0m-0 1.1h0m-0 .8h0m-0 .5h0m-0 .3h0m-0 .7h0m-0 .8h0m-0 .2h0m-0 .9h0m-0 .6h0m-0 1.1h0m-0 0h0m-0 .9h0m-0 .1h0m.1-16.4h0m-0 0h0m-0 .6h0m-0 .3h0m-0 .4h0m-0 .4h0m-0 .3h0m-0 .1h0m-0 1.4h0m-0 .5h0m-0 .1h0m-0 .8h0m-0 0h0m-0 .7h0m-0 .1h0m-0 .4h0m-0 .8h0m-0 1h0m-0 0h0m-0 .1h0m-0 .4h0m-0 .9h0m-0 3.1h0m-0 .3h0m-0 .6h0m-0 .6h0m-0 0h0m-0 .7h0m-0 .4h0m-0 .6h0m-0 .5h0m-0 .5h0m-0 0h0m.1-16.5h0m-0 0h0m-0 .2h0m-0 .4h0m-0 1.4h0m-0 1.5h0m-0 .1h0m-0 .3h0m-0 .8h0m-0 .1h0m-0 1h0m-0 .5h0m-0 .6h0m-0 .2h0m-0 .4h0m-0 .7h0m-0 .1h0m-0 .2h0m-0 .9h0m-0 .3h0m-0 .2h0m-0 .2h0m-0 1.5h0m-0 .1h0m-0 .4h0m-0 .4h0m-0 .3h0m-0 .4h0m-0 .3h0m-0 .6h0m-0 .5h0m-0 .1h0m-0 0h0m-0 .2h0m-0 .7h0m-0 .6h0m.1-16.5h0m-0 .4h0m-0 2.6h0m-0 1.2h0m-0 .3h0m-0 .2h0m-0 .5h0m-0 .7h0m-0 2.2h0m-0 .3h0m-0 .1h0m-0 .7h0m-0 1.4h0m-0 .1h0m-0 3.3h0m-0 .1h0m-0 .2h0m-0 1.1h0m-0 .5h0m-0 .4h0m-0 .8h0m-0 .1h0m.1-15.9h0m-0 1h0m-0 .7h0m-0 .1h0m-0 1h0m-0 .9h0m-0 .2h0m-0 1.1h0m-0 .5h0m-0 1h0m-0 2.2h0m-0 1.7h0m-0 1.2h0m-0 1h0m-0 1.3h0m-0 .2h0m-0 .2h0m-0 .4h0m-0 0h0m-0 0h0m-0 .1h0m-0 .1h0m-0 .5h0m.1-15.6h0m-0 .5h0m-0 .1h0m-0 .7h0m-0 1.6h0m-0 .5h0m-0 1.2h0m-0 .5h0m-0 2.4h0m-0 1.5h0m-0 .5h0m-0 1.2h0m-0 .3h0m-0 1.1h0m-0 .6h0m-0 .5h0m-0 .4h0m-0 .4h0m-0 0h0m-0 .4h0m-0 .1h0m-0 .7h0m-0 .1h0m-0 .2h0m.1-16.6h0m-0 .5h0m-0 1.3h0m-0 .1h0m-0 .2h0m-0 .1h0m-0 0h0m-0 .3h0m-0 1.2h0m-0 .3h0m-0 .6h0m-0 0h0m-0 .1h0m-0 .2h0m-0 .2h0m-0 .4h0m-0 .1h0m-0 .5h0m-0 .5h0m-0 1.5h0m-0 1.7h0m-0 1h0m-0 .5h0m-0 1.9h0m-0 1.1h0m-0 1h0m-0 .4h0m-0 1.3h0m-0 0h0m-0 .3h0m-0 .1h0m.1-16.6h0m-0 3h0m-0 .2h0m-0 1.3h0m-0 .7h0m-0 .6h0m-0 0h0m-0 .9h0m-0 .2h0m-0 .4h0m-0 .1h0m-0 .3h0m-0 .5h0m-0 .2h0m-0 1h0m-0 .6h0m-0 .4h0m-0 1h0m-0 0h0m-0 1.6h0m-0 3.2h0m.1-17.1h0m-0 .5h0m-0 1.5h0m-0 .3h0m-0 .1h0m-0 .2h0m-0 .2h0m-0 1.3h0m-0 3.1h0m-0 .3h0m-0 .6h0m-0 .1h0m-0 .2h0m-0 .6h0m-0 .4h0m-0 .7h0m-0 .1h0m-0 1.4h0m-0 .9h0m-0 1.7h0m-0 0h0m-0 .8h0m-0 1.7h0m.1-16.6h0m-0 .2h0m-0 .2h0m-0 .2h0m-0 1.3h0m-0 2.2h0m-0 1.9h0m-0 1.2h0m-0 2.8h0m-0 .6h0m-0 2.1h0m-0 .3h0m-0 .4h0m-0 .1h0m-0 0h0m-0 .5h0m-0 2h0m-0 .5h0m-0 .5h0m.1-15.2h0m-0 .1h0m-0 .2h0m-0 1.2h0m-0 .2h0m-0 1.2h0m-0 .3h0m-0 1.7h0m-0 .4h0m-0 1.9h0m-0 .2h0m-0 .2h0m-0 1h0m-0 1.1h0m-0 .1h0m-0 .1h0m-0 .1h0m-0 .2h0m-0 .6h0m-0 .3h0m-0 .6h0m-0 2.5h0m-0 .4h0m-0 .3h0m-0 .3h0m.1-16.8h0m-0 .7h0m-0 .1h0m-0 .4h0m-0 .6h0m-0 .3h0m-0 0h0m-0 1h0m-0 .9h0m-0 .1h0m-0 .2h0m-0 0h0m-0 .3h0m-0 0h0m-0 .4h0m-0 .2h0m-0 .9h0m-0 2.2h0m-0 .8h0m-0 .5h0m-0 .1h0m-0 .4h0m-0 2.9h0m-0 .8h0m-0 .2h0m-0 .2h0m-0 .3h0m-0 .7h0m-0 0h0m-0 1.1h0m.1-16.1h0m-0 .4h0m-0 1.6h0m-0 .1h0m-0 3h0m-0 1h0m-0 1.8h0m-0 .3h0m-0 2.6h0m-0 .6h0m-0 .7h0m-0 1.3h0m-0 .8h0m-0 .1h0m-0 .2h0m-0 .1h0m-0 .2h0m-0 .2h0m-0 .3h0m-0 1.3h0m.1-16.5h0m-0 .6h0m-0 .1h0m-0 .4h0m-0 1.1h0m-0 0h0m-0 .1h0m-0 1h0m-0 0h0m-0 .3h0m-0 0h0m-0 .7h0m-0 1.2h0m-0 .4h0m-0 1.5h0m-0 .5h0m-0 1.1h0m-0 2.5h0m-0 0h0m-0 .5h0m-0 .3h0m-0 1.4h0m-0 1.5h0m-0 .5h0m-0 1h0m.1-17.2h0m-0 .2h0m-0 .9h0m-0 1.2h0m-0 2.2h0m-0 .4h0m-0 .6h0m-0 .6h0m-0 1.5h0m-0 .3h0m-0 .1h0m-0 .7h0m-0 .1h0m-0 0h0m-0 .1h0m-0 .2h0m-0 .4h0m-0 1.3h0m-0 .3h0m-0 .8h0m-0 0h0m-0 .7h0m-0 .2h0m-0 1.1h0m-0 .5h0m-0 .4h0m-0 .6h0m-0 .3h0m-0 1h0m-0 .2h0m-0 .3h0m.1-16.7h0m-0 .1h0m-0 .1h0m-0 0h0m-0 .9h0m-0 1h0m-0 2.6h0m-0 1.5h0m-0 1.2h0m-0 .1h0m-0 .8h0m-0 .9h0m-0 1h0m-0 .8h0m-0 .1h0m-0 .2h0m-0 .1h0m-0 .7h0m-0 .7h0m-0 .1h0m-0 3.9h0m.1-16.1h0m-0 .1h0m-0 1h0m-0 1.6h0m-0 .6h0m-0 .1h0m-0 2h0m-0 .1h0m-0 2.2h0m-0 2h0m-0 2.3h0m-0 1.4h0m-0 .1h0m-0 .2h0m-0 .2h0m-0 .5h0m-0 .2h0m-0 .2h0m-0 0h0m-0 1h0m-0 .1h0m.1-17.1h0m-0 1.4h0m-0 1.1h0m-0 .2h0m-0 .7h0m-0 1.5h0m-0 1.7h0m-0 .4h0m-0 0h0m-0 .6h0m-0 .2h0m-0 .1h0m-0 2.2h0m-0 .7h0m-0 .1h0m-0 1.2h0m-0 .7h0m-0 1.4h0m-0 .5h0m-0 .8h0m-0 1h0m.1-16.4h0m-0 .1h0m-0 .1h0m-0 1h0m-0 .3h0m-0 .5h0m-0 1.2h0m-0 .2h0m-0 .3h0m-0 1.9h0m-0 1.8h0m-0 1.2h0m-0 .5h0m-0 .1h0m-0 .8h0m-0 0h0m-0 1.4h0m-0 .3h0m-0 .2h0m-0 .2h0m-0 .1h0m-0 .2h0m-0 1.1h0m-0 1.7h0m-0 .5h0m.1-15.9h0m-0 1.7h0m-0 .2h0m-0 .1h0m-0 1.6h0m-0 2.4h0m-0 0h0m-0 .1h0m-0 .1h0m-0 .5h0m-0 .7h0m-0 0h0m-0 .7h0m-0 .2h0m-0 2.3h0m-0 .9h0m-0 .1h0m-0 .1h0m-0 .1h0m-0 .3h0m-0 1.1h0m-0 .2h0m-0 .3h0m-0 .7h0m.1-13.2h0m-0 .6h0m-0 .1h0m-0 .1h0m-0 1.2h0m-0 .7h0m-0 .2h0m-0 .3h0m-0 .2h0m-0 .5h0m-0 .3h0m-0 .7h0m-0 .6h0m-0 1.2h0m-0 .1h0m-0 1.3h0m-0 .1h0m-0 1.9h0m-0 .8h0m-0 .3h0m-0 0h0m-0 .2h0m-0 1.3h0m-0 1.4h0m-0 .8h0m-0 .5h0m.1-16.3h0m-0 .2h0m-0 0h0m-0 1.1h0m-0 .2h0m-0 .9h0m-0 .2h0m-0 .3h0m-0 .1h0m-0 .5h0m-0 1.3h0m-0 .6h0m-0 .1h0m-0 .1h0m-0 1h0m-0 .3h0m-0 2.7h0m-0 .3h0m-0 .7h0m-0 .4h0m-0 .9h0m-0 .5h0m-0 1.2h0m-0 0h0m-0 .3h0m-0 2.2h0m.1-16.1h0m-0 .5h0m-0 .6h0m-0 1.4h0m-0 .4h0m-0 .9h0m-0 .1h0m-0 .1h0m-0 .6h0m-0 .5h0m-0 1h0m-0 .9h0m-0 .1h0m-0 .1h0m-0 3h0m-0 .4h0m-0 .6h0m-0 .3h0m-0 .2h0m-0 2.9h0m-0 2.1h0m-0 .5h0m.1-17.5h0m-0 .6h0m-0 .4h0m-0 2.2h0m-0 1.1h0m-0 .1h0m-0 1h0m-0 .2h0m-0 1.6h0m-0 1.5h0m-0 2.6h0m-0 .2h0m-0 .4h0m-0 .1h0m-0 .5h0m-0 .4h0m-0 .8h0m-0 .2h0m-0 2h0m-0 .6h0m-0 1h0m.1-17.4h0m-0 .3h0m-0 .7h0m-0 .6h0m-0 .1h0m-0 .3h0m-0 .3h0m-0 1.1h0m-0 .1h0m-0 .7h0m-0 .7h0m-0 .1h0m-0 1.5h0m-0 1h0m-0 1h0m-0 .7h0m-0 .7h0m-0 .5h0m-0 .1h0m-0 .7h0m-0 1.6h0m-0 .7h0m-0 0h0m-0 .3h0m-0 .1h0m-0 1h0m-0 .9h0m-0 .3h0m-0 .3h0m-0 .1h0m.1-16.4h0m-0 0h0m-0 .9h0m-0 .7h0m-0 .1h0m-0 .4h0m-0 .8h0m-0 1h0m-0 .1h0m-0 .8h0m-0 0h0m-0 2.8h0m-0 .8h0m-0 0h0m-0 1.6h0m-0 .5h0m-0 .8h0m-0 .8h0m-0 .6h0m-0 .3h0m-0 .4h0m-0 1h0m-0 .7h0m-0 .5h0m-0 0h0m-0 1h0m-0 .1h0m.1-15.1h0m-0 .8h0m-0 .1h0m-0 .1h0m-0 .2h0m-0 .4h0m-0 .5h0m-0 1h0m-0 .2h0m-0 .6h0m-0 .4h0m-0 .3h0m-0 .3h0m-0 0h0m-0 1.8h0m-0 .7h0m-0 .1h0m-0 1.1h0m-0 2.2h0m-0 .2h0m-0 1.8h0m-0 1h0m-0 .5h0m-0 .3h0m-0 .1h0m.1-15.9h0m-0 1.4h0m-0 .2h0m-0 .2h0m-0 .1h0m-0 .3h0m-0 .7h0m-0 .7h0m-0 1h0m-0 .8h0m-0 .6h0m-0 .3h0m-0 2.9h0m-0 .1h0m-0 .4h0m-0 .7h0m-0 .3h0m-0 .3h0m-0 .1h0m-0 1.3h0m-0 1h0m-0 .2h0m-0 1.6h0m-0 .2h0m-0 .1h0m-0 .2h0m-0 .1h0m-0 .8h0m.1-16.7h0m-0 2.1h0m-0 .5h0m-0 1.2h0m-0 .6h0m-0 1.2h0m-0 1.1h0m-0 .2h0m-0 0h0m-0 1.3h0m-0 .5h0m-0 .4h0m-0 .4h0m-0 0h0m-0 .3h0m-0 .2h0m-0 .1h0m-0 .2h0m-0 .4h0m-0 4.3h0m-0 .3h0m-0 .7h0m-0 .3h0m.1-16.3h0m-0 1h0m-0 .4h0m-0 .3h0m-0 .6h0m-0 1.1h0m-0 .5h0m-0 .1h0m-0 .3h0m-0 .1h0m-0 .9h0m-0 .4h0m-0 .2h0m-0 1.3h0m-0 .2h0m-0 .1h0m-0 1h0m-0 1.3h0m-0 .7h0m-0 .7h0m-0 .2h0m-0 .2h0m-0 .1h0m-0 0h0m-0 .9h0m-0 0h0m-0 .1h0m-0 .6h0m-0 .4h0m-0 .2h0m-0 .1h0m-0 .4h0m-0 .4h0m-0 .2h0m-0 0h0m-0 .7h0m.1-16.2h0m-0 .2h0m-0 .9h0m-0 .2h0m-0 .2h0m-0 1h0m-0 1.8h0m-0 .3h0m-0 .6h0m-0 1.5h0m-0 3h0m-0 1.8h0m-0 .2h0m-0 .2h0m-0 .5h0m-0 1.7h0m-0 1.8h0m-0 0h0m-0 .1h0m-0 .1h0m-0 .5h0m-0 0h0m.1-16.2h0m-0 .2h0m-0 .4h0m-0 .2h0m-0 2.2h0m-0 .6h0m-0 .6h0m-0 .1h0m-0 2.8h0m-0 .7h0m-0 .7h0m-0 .3h0m-0 .3h0m-0 .6h0m-0 2.7h0m-0 .6h0m-0 .2h0m-0 2.2h0m-0 .8h0m-0 .6h0m.1-17h0m-0 .1h0m-0 .3h0m-0 .2h0m-0 1.5h0m-0 0h0m-0 .3h0m-0 .7h0m-0 .2h0m-0 .6h0m-0 1h0m-0 .2h0m-0 .6h0m-0 1.3h0m-0 1.6h0m-0 .2h0m-0 2.2h0m-0 .4h0m-0 .1h0m-0 .2h0m-0 .8h0m-0 .1h0m-0 1h0m-0 0h0m-0 .4h0m-0 .9h0m-0 1.7h0m-0 .7h0m.1-16.4h0m-0 0h0m-0 2.1h0m-0 1.8h0m-0 1.9h0m-0 1.6h0m-0 .8h0m-0 .2h0m-0 1h0m-0 .1h0m-0 .5h0m-0 .6h0m-0 .1h0m-0 .3h0m-0 .3h0m-0 .3h0m-0 .1h0m.1-12.8h0m-0 .7h0m-0 .4h0m-0 0h0m-0 .4h0m-0 .2h0m-0 .1h0m-0 .9h0m-0 .3h0m-0 .4h0m-0 .9h0m-0 .2h0m-0 2.4h0m-0 .8h0m-0 2h0m-0 .3h0m-0 .7h0m-0 .7h0m-0 1.1h0m-0 0h0m-0 0h0m-0 2.7h0m-0 .3h0m-0 1h0m.1-16.4h0m-0 .2h0m-0 1.5h0m-0 .4h0m-0 .1h0m-0 .1h0m-0 .8h0m-0 .5h0m-0 1.8h0m-0 .4h0m-0 .5h0m-0 1.6h0m-0 .4h0m-0 .4h0m-0 .8h0m-0 .4h0m-0 .1h0m-0 .6h0m-0 .8h0m-0 1h0m-0 1.5h0m-0 1h0m-0 1.9h0m-0 .4h0m-0 .2h0m.1-16.7h0m-0 .6h0m-0 1h0m-0 .4h0m-0 2.8h0m-0 .2h0m-0 .3h0m-0 1.2h0m-0 .2h0m-0 .1h0m-0 .3h0m-0 2.2h0m-0 .2h0m-0 .7h0m-0 1.2h0m-0 1.1h0m-0 2.2h0m-0 .5h0m-0 .1h0m-0 .3h0m-0 .5h0m-0 .1h0m.1-15.9h0m-0 .1h0m-0 .9h0m-0 .6h0m-0 1.1h0m-0 .5h0m-0 0h0m-0 .3h0m-0 .1h0m-0 .6h0m-0 .5h0m-0 .1h0m-0 .3h0m-0 .8h0m-0 .2h0m-0 .3h0m-0 .1h0m-0 .1h0m-0 .8h0m-0 .8h0m-0 1.2h0m-0 1.7h0m-0 .4h0m-0 .4h0m-0 .9h0m-0 .1h0m-0 .2h0m-0 .1h0m-0 1.1h0m-0 1.8h0m.1-16.9h0m-0 .1h0m-0 2.1h0m-0 2.2h0m-0 .4h0m-0 1.4h0m-0 1.1h0m-0 .7h0m-0 .1h0m-0 .1h0m-0 .9h0m-0 0h0m-0 .2h0m-0 .3h0m-0 .2h0m-0 .6h0m-0 1.7h0m-0 1.7h0m-0 1.2h0m-0 .7h0m-0 .1h0m-0 .4h0m-0 .1h0m.1-16.4h0m-0 .8h0m-0 2.1h0m-0 2.1h0m-0 2.4h0m-0 0h0m-0 1.6h0m-0 5.3h0m-0 .1h0m-0 1.4h0m-0 .3h0m-0 1.1h0m.1-16.9h0m-0 .3h0m-0 .5h0m-0 .1h0m-0 .3h0m-0 .8h0m-0 .5h0m-0 .4h0m-0 .8h0m-0 1.6h0m-0 1h0m-0 0h0m-0 .3h0m-0 .1h0m-0 0h0m-0 1h0m-0 .4h0m-0 .1h0m-0 2.2h0m-0 3h0m-0 .2h0m-0 .5h0m-0 1.7h0m-0 .5h0m-0 .5h0m-0 .1h0m.1-16.9h0m-0 .2h0m-0 .4h0m-0 1.3h0m-0 .2h0m-0 .4h0m-0 .9h0m-0 .9h0m-0 .8h0m-0 2.5h0m-0 .6h0m-0 1h0m-0 .4h0m-0 1.7h0m-0 1.3h0m-0 .4h0m-0 .1h0m-0 .4h0m-0 0h0m-0 .5h0m-0 .9h0m-0 .3h0m-0 .5h0m-0 .1h0m-0 1.1h0m.1-17.3h0m-0 1.1h0m-0 .3h0m-0 .8h0m-0 1.5h0m-0 1.1h0m-0 .3h0m-0 1.8h0m-0 .1h0m-0 .8h0m-0 .8h0m-0 0h0m-0 1h0m-0 1.2h0m-0 1.2h0m-0 .1h0m-0 2.3h0m-0 .1h0m-0 1.1h0m-0 .2h0m-0 1h0m-0 .4h0m.1-14.7h0m-0 1.3h0m-0 .4h0m-0 1.3h0m-0 1.6h0m-0 .8h0m-0 .5h0m-0 0h0m-0 .3h0m-0 1.5h0m-0 2.6h0m-0 .5h0m-0 .6h0m-0 2.7h0m.1-14.9h0m-0 0h0m-0 1.7h0m-0 .9h0m-0 .6h0m-0 .4h0m-0 7.1h0m-0 3.6h0m-0 1h0m.1-16.3h0m-0 .1h0m-0 1.2h0m-0 .1h0m-0 .4h0m-0 2.3h0m-0 .3h0m-0 .1h0m-0 .3h0m-0 0h0m-0 .3h0m-0 .3h0m-0 .5h0m-0 .9h0m-0 .9h0m-0 0h0m-0 .1h0m-0 1.1h0m-0 .3h0m-0 .7h0m-0 4h0m-0 1.8h0m.1-15.6h0m-0 .1h0m-0 .5h0m-0 .9h0m-0 .5h0m-0 .2h0m-0 3h0m-0 2h0m-0 0h0m-0 .2h0m-0 .7h0m-0 1.5h0m-0 .3h0m-0 1.3h0m-0 .7h0m-0 1.9h0m-0 2h0m-0 .2h0m.1-16.6h0m-0 1.4h0m-0 1.3h0m-0 .4h0m-0 .9h0m-0 .8h0m-0 .1h0m-0 .8h0m-0 1.4h0m-0 .3h0m-0 .1h0m-0 .4h0m-0 .6h0m-0 .5h0m-0 2.1h0m-0 .3h0m-0 .9h0m-0 .5h0m-0 .6h0m-0 .6h0m-0 .1h0m-0 .8h0m-0 1.3h0m-0 .6h0m.1-17.2h0m-0 1.7h0m-0 .1h0m-0 .6h0m-0 .4h0m-0 .8h0m-0 .2h0m-0 1.4h0m-0 .8h0m-0 .4h0m-0 .3h0m-0 .3h0m-0 .2h0m-0 .5h0m-0 .4h0m-0 .1h0m-0 .6h0m-0 1h0m-0 .5h0m-0 0h0m-0 .6h0m-0 1.4h0m-0 .4h0m-0 .5h0m-0 .5h0m-0 .1h0m-0 .6h0m-0 .5h0m-0 .1h0m-0 .9h0m-0 .2h0m-0 .6h0m-0 .2h0m-0 .6h0m.1-15.7h0m-0 .1h0m-0 .2h0m-0 .1h0m-0 .3h0m-0 2.4h0m-0 .3h0m-0 1.1h0m-0 1.3h0m-0 0h0m-0 2.6h0m-0 .8h0m-0 .1h0m-0 1.3h0m-0 .2h0m-0 .3h0m-0 .5h0m-0 .5h0m-0 .2h0m-0 .8h0m-0 0h0m-0 1h0m-0 .2h0m-0 .4h0m-0 .9h0m-0 .1h0m.1-16.6h0m-0 .5h0m-0 .4h0m-0 3.2h0m-0 .7h0m-0 0h0m-0 .1h0m-0 .4h0m-0 .3h0m-0 .2h0m-0 0h0m-0 .3h0m-0 1h0m-0 .8h0m-0 1.2h0m-0 1.8h0m-0 .3h0m-0 .5h0m-0 .5h0m-0 .2h0m-0 1.3h0m-0 2.9h0m.1-17.4h0m-0 .6h0m-0 .4h0m-0 1.7h0m-0 0h0m-0 2.3h0m-0 1.5h0m-0 .3h0m-0 .1h0m-0 .7h0m-0 1h0m-0 2.9h0m-0 .9h0m-0 .6h0m-0 .6h0m-0 .3h0m-0 1.3h0m-0 .2h0m-0 1.3h0m.1-16.7h0m-0 .7h0m-0 .1h0m-0 .4h0m-0 1.2h0m-0 .4h0m-0 1.2h0m-0 1.2h0m-0 5h0m-0 .1h0m-0 1.3h0m-0 .2h0m-0 .9h0m-0 .9h0m-0 .2h0m-0 .5h0m-0 1.3h0m.1-15.4h0m-0 0h0m-0 1.5h0m-0 .4h0m-0 .1h0m-0 .4h0m-0 .1h0m-0 .2h0m-0 .3h0m-0 .2h0m-0 .5h0m-0 1.1h0m-0 0h0m-0 .2h0m-0 .3h0m-0 2.5h0m-0 .3h0m-0 1.2h0m-0 1.1h0m-0 .3h0m-0 1h0m-0 .1h0m.1-9.7h0m-0 0h0m-0 2.1h0m-0 3.1h0m-0 .8h0m-0 4.6h0m-0 .1h0m-0 2.4h0m-0 .3h0m-0 1.2h0m-0 .3h0m.1-15.9h0m-0 2h0m-0 1.7h0m-0 1.8h0m-0 .6h0m-0 1.5h0m-0 .7h0m-0 .6h0m-0 .1h0m-0 3h0m-0 1h0m-0 1h0m-0 1h0m-0 .4h0m-0 .6h0m.1-17.2h0m-0 .5h0m-0 .4h0m-0 .1h0m-0 .5h0m-0 .1h0m-0 .9h0m-0 .5h0m-0 .1h0m-0 .5h0m-0 .9h0m-0 .4h0m-0 3.7h0m-0 .1h0m-0 3.2h0m-0 1.9h0m-0 .5h0m-0 .1h0m-0 1.4h0m-0 .2h0m-0 .5h0m-0 .1h0m.1-15.9h0m-0 0h0m-0 .1h0m-0 .4h0m-0 .8h0m-0 2.6h0m-0 2.4h0m-0 .7h0m-0 2.9h0m-0 .7h0m-0 0h0m-0 0h0m-0 .5h0m-0 .1h0m-0 .4h0m-0 2.5h0m-0 .6h0m-0 .7h0m-0 .1h0m-0 .3h0m.1-15h0m-0 1.4h0m-0 1h0m-0 0h0m-0 0h0m-0 .4h0m-0 1.8h0m-0 4.2h0m-0 .5h0m-0 0h0m-0 2.9h0m-0 0h0m-0 1.2h0m-0 2.1h0m-0 0h0m-0 .3h0m.1-16.7h0m-0 .4h0m-0 .3h0m-0 1.2h0m-0 1.3h0m-0 .5h0m-0 1.8h0m-0 1.2h0m-0 .6h0m-0 1.9h0m-0 1.2h0m-0 1.5h0m-0 .6h0m-0 .4h0m-0 .2h0m-0 .4h0m-0 1.8h0m-0 .6h0m-0 .1h0m-0 .5h0m.1-16.8h0m-0 3.2h0m-0 .6h0m-0 .4h0m-0 .2h0m-0 .5h0m-0 2.1h0m-0 .3h0m-0 .2h0m-0 .9h0m-0 2h0m-0 .1h0m-0 .5h0m-0 1.1h0m-0 .1h0m-0 .9h0m-0 1h0m-0 .4h0m-0 .4h0m-0 .1h0m-0 1.8h0m.1-13.1h0m-0 .7h0m-0 1.2h0m-0 1.3h0m-0 1.3h0m-0 3.2h0m-0 5.6h0m.1-14.3h0m-0 1.9h0m-0 1.3h0m-0 1.2h0m-0 2.1h0m-0 1.3h0m-0 .3h0m-0 .2h0m-0 1.5h0m-0 .6h0m-0 3.4h0m.1-16h0m-0 .9h0m-0 .2h0m-0 2.4h0m-0 .3h0m-0 .7h0m-0 .3h0m-0 1.9h0m-0 .1h0m-0 2.4h0m-0 .5h0m-0 5h0m-0 .5h0m.1-13h0m-0 1.8h0m-0 1.1h0m-0 .1h0m-0 .3h0m-0 .3h0m-0 .4h0m-0 3.6h0m-0 .1h0m-0 .6h0m-0 2.9h0m-0 .7h0m-0 2.2h0m.1-9.6h0m-0 3.6h0m-0 2.5h0m-0 .4h0m.1-13.8h0m-0 .7h0m-0 .6h0m-0 .5h0m-0 2.8h0m-0 1.4h0m-0 .6h0m-0 .6h0m-0 1.9h0m-0 1.9h0m-0 .1h0m-0 1.1h0m-0 .8h0m-0 3.3h0m.1-16.1h0m-0 0h0m-0 .4h0m-0 2h0m-0 1.8h0m-0 .4h0m-0 .2h0m-0 3.9h0m-0 1.5h0m-0 2.2h0m-0 2.2h0m.1-14.9h0m-0 .9h0m-0 1.8h0m-0 .8h0m-0 1.7h0m-0 1.9h0m-0 .3h0m-0 3.3h0m-0 .5h0m-0 1.7h0m.1-13.2h0m-0 .4h0m-0 2.7h0m-0 .3h0m-0 .3h0m-0 .7h0m-0 .9h0m-0 1.3h0m-0 1.4h0m-0 .1h0m-0 .8h0m-0 .2h0m-0 .1h0m-0 2.2h0m-0 .1h0m-0 1.2h0m-0 4.3h0m-0 .2h0m.1-15.7h0m-0 2.5h0m-0 2.1h0m-0 2h0m-0 1.2h0m-0 .2h0m-0 .3h0m-0 .4h0m-0 2.7h0m-0 1.5h0m-0 .8h0m-0 1.8h0m.1-15.4h0m-0 2.7h0m-0 0h0m-0 1.4h0m-0 .7h0m-0 .9h0m-0 2.5h0m-0 0h0m.1-9.7h0m-0 1h0m-0 .1h0m-0 3.3h0m-0 6h0m-0 .1h0m-0 .6h0m-0 1h0m-0 0h0m-0 .5h0m-0 1h0m-0 .7h0m-0 1.1h0m-0 .8h0m-0 .1h0m.1-12.3h0m-0 1.3h0m-0 .2h0m-0 .9h0m-0 .9h0m-0 .9h0m-0 0h0m-0 1.5h0m-0 1.2h0m-0 3.1h0m-0 .5h0m-0 1.9h0m-0 .1h0m.1-13.5h0m-0 3.4h0m-0 .3h0m-0 5.6h0m-0 .2h0m-0 .2h0m-0 1h0m-0 1.5h0m-0 .5h0m.1-15.3h0m-0 0h0m-0 .1h0m-0 2.2h0m-0 .1h0m-0 .1h0m-0 .1h0m-0 .2h0m-0 .5h0m-0 2.5h0m-0 .3h0m-0 .2h0m-0 2.6h0m-0 .9h0m-0 .5h0m-0 2.4h0m-0 1.7h0m-0 1h0m-0 .5h0m.1-16.3h0m-0 4.5h0m-0 1.2h0m-0 4.5h0m-0 2.1h0m-0 2.5h0m-0 2.1h0m-0 .1h0m.1-16h0m-0 2.7h0m-0 1.2h0m-0 4.1h0m-0 1.7h0m-0 1.1h0m-0 1.6h0m.1-13.5h0m-0 7.3h0m-0 1.1h0m-0 1.4h0m-0 1.1h0m-0 1.7h0m-0 1.2h0m-0 1h0m-0 .4h0m.1-15h0m-0 .6h0m-0 1.7h0m-0 .9h0m-0 .4h0m-0 .1h0m-0 3h0m-0 3.3h0m-0 .6h0m-0 2.9h0m-0 .3h0m-0 .4h0m-0 .1h0m-0 1h0m-0 .2h0m-0 1.2h0m.1-12.2h0m-0 3.7h0m-0 1.2h0m-0 1.4h0m-0 0h0m-0 1.2h0m-0 .2h0m-0 .5h0m-0 0h0m-0 .8h0m-0 1.1h0m.1-7.4h0m-0 3.8h0m-0 1.3h0m-0 .2h0m-0 2.3h0m-0 .3h0m.1-13.8h0m-0 2.1h0m-0 2.7h0m-0 3.3h0m-0 1.9h0m-0 2.4h0m-0 .1h0m-0 1.3h0m-0 .5h0m.1-14.7h0m-0 5.9h0m-0 2.8h0m-0 .2h0m-0 3.5h0m.1-12.2h0m-0 1.1h0m-0 3h0m-0 .8h0m-0 7.1h0m-0 .6h0m-0 .3h0m-0 2h0m-0 0h0m-0 .9h0m.1-11.3h0m-0 1h0m-0 5.7h0m.1-6.1h0m-0 0h0m-0 2h0m-0 3.6h0m-0 1.6h0m-0 1.7h0m-0 1.6h0m-0 0h0m.1-13h0m-0 1.5h0m-0 .8h0m-0 5.4h0m-0 .2h0m-0 3.3h0m-0 2.3h0m.1-14h0m-0 9.6h0m-0 .8h0m-0 .8h0m-0 .4h0m-0 1h0m-0 .9h0m-0 .1h0m.1-14.2h0m-0 .1h0m-0 .2h0m-0 2.1h0m-0 9.8h0m.1-5.7h0m-0 2.8h0m-0 2.1h0m-0 2.9h0m.1-14.7h0m-0 7.7h0m-0 .9h0m-0 2.2h0m-0 3.5h0m.1-16.5h0m-0 2.5h0m-0 11h0m-0 2.1h0m.1-15.5h0m-0 .7h0m-0 3.3h0m-0 2h0m.1-5.4h0m-0 6.1h0m-0 2.2h0m-0 2.5h0m-0 2.1h0m-0 1.9h0m.1-12h0m-0 6.1h0m-0 .1h0m-0 5.6h0m.1-12.1h0m-0 3.7h0m-0 4.1h0m-0 .5h0m-0 3.9h0m-0 1.3h0m-0 .6h0m.1-8.5h0m-0 .7h0m-0 2.5h0m-0 4.7h0m.1-15.5h0m-0 2.1h0m-0 1.9h0m-0 .9h0m-0 2.8h0m-0 .8h0m-0 .6h0m-0 .8h0m-0 5.6h0m-0 .4h0m.1-10.2h0m-0 3h0m-0 .6h0m.1-7.2h0m-0 3.3h0m-0 1.3h0m-0 1.3h0m-0 2h0m-0 3.1h0m-0 1.5h0m-0 .7h0m-0 .3h0m-0 .4h0m.1-15.8h0m-0 7.3h0m-0 2.2h0m-0 .5h0m-0 2.8h0m-0 .6h0m-0 .4h0m-0 1.3h0m.1-15.8h0m-0 1.3h0m-0 5.3h0m-0 0h0m-0 9.1h0m-0 .5h0m.1-16.7h0m-0 5.3h0m-0 6.7h0m-0 2.7h0m-0 .5h0m.1-4h0m-0 2.4h0m-0 .7h0m-0 1.2h0m.1-13.2h0m-0 .8h0m-0 5.2h0m-0 5.8h0m-0 .9h0m.1-11.2h0m-0 1.9h0m-0 4.1h0m-0 3.2h0m-0 3.1h0m.1-7.4h0m-0 .5h0m-0 3h0m.1 1.1h0m-0 .2h0m-0 .2h0m-0 .8h0m-0 1.3h0m-0 .9h0m.1-1.1h0m-0 1.1h0m.1-14.6h0m-0 4.8h0m-0 2.2h0m-0 4.2h0m-0 3.1h0m-0 .3h0m.1-15.3h0m-0 5h0m-0 .7h0m-0 8.5h0m.1-12.6h0m-0 8.9h0m-0 4.6h0m-0 .1h0m.1-13.2h0m-0 6h0m-0 7.7h0m.1-13.7h0m-0 11.7h0m-0 .8h0m.1-8.6h0m-0 .5h0m-0 1.1h0m.1-6.3h0m-0 5.2h0m-0 4.1h0m.2 3.5h0m.1-8.3h0m-0 3.9h0m-0 2.4h0m.1-6.6h0m-0 9.2h0m-0 1.1h0m.1-13.1h0m-0 8h0m-0 .5h0m-0 1.4h0m.1-.8h0m.1-10.2h0m-0 .7h0m-0 13h0m.1-7h0m-0 .5h0m.1-8.3h0m-0 9.9h0m.1-.7h0m.1 .9h0m-0 2.1h0m.1 3.2h0m.1-9.2h0m-0 6.5h0m-0 2.5h0m.1-7.5h0m-0 .4h0m-0 2.1h0m.1-6h0m-0 7.2h0m-0 .3h0m.4-9.8h0m-0 5.5h0m.1 0h0m-0 2.9h0m-0 .7h0m-0 .3h0m.1 .1h0m.1-9.6h0m-0 12.4h0m.1-2.7h0m-0 2.2h0m.2-14.8h0m.1 15.7h0m.1-3.7h0m-0 2.8h0m.1-1.9h0m.1-1.7h0m.1-3.9h0m.1 5.4h0m.4-1.9h0m.1-7.6h0m-0 10h0m.2-2.6h0m-0 1.2h0m.1-3h0m-0 4h0m-0 .1h0m-0 2.9h0m.3-6.1h0m-0 6.2h0m.1-14.3h0m-0 8.1h0m-0 5.9h0m.1-2.7h0m.2-1.5h0m-0 4.2h0m.1-7.7h0m.3 5.6h0m.1-.2h0m.1-.8h0m.1 1h0m.3 1h0m-0 1.4h0m.3-5.9h0m.2-6.6h0m-0 6.5h0m.1 6h0m.3-1.8h0m.2-5.9h0m.1 1.4h0m.3-4.7h0m-0 7.7h0m.4-9.4h0m.1-3.8h0m.8 4.1h0m.1 9h0m.5-9.8h0m-0 7.1h0m-0 .2h0m-0 4.6h0m.3-1.9h0m.1-10.6h0m.1 9.3h0m.3 1.1h0m-0 .2h0m.1 0h0m-0 2.7h0m.2-2.5h0m.1-3h0m.1-.1h0m.1 5.7h0m.1-14.5h0m-0 14.7h0m.1 0h0m1.1-3.1h0m-0 3h0m.2-5.8h0m-0 5.9h0m.1-16h0m.1 6.9h0m.1 4.1h0m.1 4.7h0m.1-13.7h0m.6-.6h0m-0 11.4h0m.1-12.3h0m-0 9.8h0m-0 5.5h0m.1-3.9h0m.1-7h0m-0 1.5h0m.2 2.5h0m-0 .9h0m-0 3.2h0m.2-3.4h0m.1 3.7h0m.1-11h0m-0 10.8h0m.1-2.7h0m.1-10.8h0m-0 .9h0m-0 15.6h0m.1-14.6h0m-0 7.1h0m.2-1.2h0m.1-3.5h0m-0 9.2h0m.1-3h0m-0 2.8h0m.2-12.9h0m.1-.8h0m-0 11h0m.3-.3h0m-0 5.9h0m-0 .3h0m.2-.2h0m.1-5.6h0m.1-.4h0m-0 2.9h0m.1-6.3h0m-0 3.6h0m-0 .2h0m.1-4h0m-0 4h0m.3 5.6h0m.1-7.8h0m-0 4.9h0m.4-8.5h0m.2 2.6h0m.1 .6h0m.1-5.4h0m-0 8h0m-0 2.9h0m.1-2.2h0m-0 .4h0m.2-9.3h0m-0 7.8h0m.3 5.9h0m.1-8.8h0m.1-.5h0m.2 6.6h0m.1-11.3h0m.3 1.6h0m.3 9.7h0m-0 3.1h0m.1-11.5h0m-0 .6h0m-0 .8h0m.3 1.1h0m.1-7.6h0m.1 7.4h0m-0 6h0m.1-9.9h0m.1-3.8h0m.1 13.6h0m.2-11.2h0m.2 14.3h0m.2-2.8h0m.2 0h0m.1-5.4h0m-0 2.5h0m-0 .7h0m.1-11.6h0m.1 2.3h0m-0 6.7h0m.1-6.3h0m.1 13.8h0m.1-13.1h0m.1 5.1h0m.1 4.9h0m-0 .4h0m.3-4h0m.1 1.1h0m-0 1.1h0m.2-1.4h0m.1 2.8h0m.4-13.3h0m-0 2.9h0m.1 13.8h0m.1-6.2h0m-0 2.9h0m.2-10.2h0m-0 5.8h0m.1 .9h0m-0 .3h0m-0 6.4h0m.1-3.3h0m-0 3.1h0m.1-5.9h0m-0 2.8h0m.2-12.6h0m-0 2.1h0m.1 7.9h0m-0 .4h0m.3 5.1h0m.1-7.5h0m-0 .1h0m.3 4.4h0m-0 .3h0m-0 2.8h0m.1-9.3h0m.2-2.1h0m.1 5.6h0m-0 6.1h0m.2-3.1h0m.1-11.3h0m-0 7.7h0m-0 6.4h0m-0 .2h0m.1-7.1h0m.4 1.1h0m.1-7.6h0m.1 7.8h0m.1 2.6h0m-0 .3h0m-0 2.8h0m.1-12.3h0m-0 9.2h0m.1-10.9h0m.2 6.8h0m-0 7.2h0m-0 .3h0m.2-6h0m.6 .6h0m.1-2h0m.1-3.8h0m-0 .8h0m.1-4.2h0m-0 7.7h0m-0 6.8h0m.3-15.5h0m-0 15.4h0m.3-14.3h0m.2 14.2h0m.3-6.9h0m.2-9.2h0m-0 6.8h0m.1 1.9h0m.1 7.5h0m-0 0h0m.1-5.1h0m.1-9.8h0m-0 14.8h0m.1-.1h0m.2-12.3h0m.1 12.4h0m-0 0h0m1-12.4h0m.1 12.2h0m.1-8.3h0m-0 8.8h0m.2-13.5h0m.1-.6h0m.8-.7h0m-0 5.1h0m.1 3.8h0m.3-8.5h0m1.2 6.9h0m1-7.6h0m.3 6h0" stroke="#cfd7df" stroke-width="1.4" stroke-linecap="round" fill="none"/>
<line x1="536.4" y1="156.5" x2="683.4" y2="156.5" stroke="#c4c4c4" stroke-width="0.6" stroke-dasharray="1.5,1.5"/>
<line x1="607.4" y1="31.3" x2="607.4" y2="180.3" stroke="#c4c4c4" stroke-width="0.6" stroke-dasharray="1.5,1.5"/>
<line x1="612.3" y1="31.3" x2="612.3" y2="180.3" stroke="#c4c4c4" stroke-width="0.6" stroke-dasharray="1.5,1.5"/>
<path d="M554.2 154.3h0m.2-13.4h0m.7 2.3h0m.5 7.2h0m.2-1.3h0m.4 5.2h0m1-1.8h0m.1 .6h0m.9 2.7h0m.1-1h0m.6-35.2h0m.2 13.4h0m.2 14.4h0m.1-13h0m1 19.5h0m1.3-4.7h0m.6 5.2h0m.5-8.3h0m-0 .3h0m.9-5.7h0m-0 8.3h0m1 3h0m.7-4.7h0m.5 2.4h0m2-23.2h0m.4 20.4h0m1.2 2.4h0m.6-1.5h0m.2 8.4h0m.6-1.6h0m2.2-2h0m.5-16h0m1.4 9.6h0m1.1 7.1h0m.3-6.6h0m1.3 1.7h0m1.1-40.9h0m.4 28.6h0m.3 16.2h0m.3-16.6h0m.6 11.9h0m.1 5.5h0m.2-2.2h0m1.4-10.6h0m.5 .2h0m.8 2.4h0m2.4 6.3h0m.2-56.7h0m.2 52.5h0m1.2 10.2h0m1.6-32h0m.4 32.2h0m.5-4.3h0m-0 4.5h0m.2-1.5h0m.1-37.2h0m-0 29.8h0m.1-7.3h0m-0 11.1h0m.5-7.7h0m-0 5.1h0m.6 .6h0m-0 7.2h0m.1-4.5h0m.1-21.5h0m.2-2.3h0m.2-8.6h0m-0 35.9h0m.2-.1h0m.4-2.8h0m.3-7.2h0m-0 6.3h0m.3-1h0m.2 0h0m.3-55.9h0m.6 60.6h0m.2-4.2h0m.7-.1h0m.1 2.4h0m.2-25.4h0m.9 24.5h0m-0 3.5h0m.3-17.2h0m.1-16.9h0m.2-14.8h0m.2 47h0m-0 1h0m.3-2.7h0m.3-.7h0m-0 4.8h0m.4-12.6h0m.1 12.2h0m.5-38.2h0m.1 37.3h0m.3-12.4h0m.1-12.1h0m.5 9.5h0m-0 3.9h0m.4 3.4h0m.4 7.7h0m.1 .1h0m-0 1.5h0m.2-24.3h0m.1 20.9h0m.1-1.4h0m.1-8.6h0m.1 11.8h0m.1 .2h0m.1-21.3h0m-0 7.2h0m-0 6.7h0m.1-14.2h0m-0 16.1h0m-0 4.9h0m.1-27.7h0m.1 2.8h0m-0 14.1h0m.1-8.7h0m.1-51h0m-0 7.4h0m-0 40.4h0m-0 17.9h0m.1 3.3h0m.1 3h0m.1-33.6h0m-0 31.3h0m-0 .5h0m.1-51.3h0m-0 40.8h0m-0 9.4h0m-0 3.3h0m.1-4.7h0m-0 1.3h0m-0 .5h0m-0 1h0m-0 1.2h0m.1-23.6h0m-0 12.6h0m-0 7.7h0m.1-22.7h0m.2-29.7h0m-0 30.8h0m-0 10.1h0m-0 6.9h0m-0 7.6h0m.1-49.7h0m-0 33.9h0m-0 12.3h0m.2-17.6h0m-0 15.5h0m.1-19.4h0m-0 9.2h0m-0 4.7h0m.1 .1h0m-0 3.6h0m-0 2.4h0m-0 1.3h0m-0 1.3h0m-0 3.7h0m.1-9.3h0m-0 8.6h0m.1-68.7h0m-0 24h0m-0 3.5h0m-0 8.8h0m-0 14.5h0m-0 3.8h0m-0 7.2h0m-0 .3h0m-0 6h0m-0 1.1h0m.1-10.9h0m-0 6.8h0m.1-17.3h0m-0 9.4h0m.1-10h0m-0 1.7h0m-0 .1h0m-0 12.5h0m-0 4.4h0m.1-6.3h0m-0 6.7h0m.1-56.7h0m-0 37.4h0m.1 7.1h0m-0 6.1h0m-0 7.6h0m.1-22.7h0m-0 6h0m-0 0h0m-0 13.2h0m-0 1.5h0m.1-27.6h0m-0 3.7h0m-0 11.5h0m-0 8.9h0m-0 1.1h0m-0 4.3h0m.1-46h0m-0 46.1h0m-0 1.3h0m-0 .2h0m.1-103.4h0m-0 78.1h0m-0 7.2h0m-0 11.9h0m-0 .5h0m-0 3.2h0m-0 .7h0m-0 .4h0m.1-38.3h0m-0 3h0m-0 18.8h0m-0 2.5h0m-0 9.4h0m-0 3.9h0m.1-79.7h0m-0 20.4h0m-0 30.2h0m-0 6.1h0m-0 .6h0m-0 8.9h0m-0 1.9h0m-0 .2h0m-0 6.6h0m-0 .2h0m-0 2h0m.1-51.9h0m-0 14h0m-0 21.9h0m-0 20.6h0m.1-97.8h0m-0 25.9h0m-0 70.4h0m-0 1.1h0m-0 .3h0m.1-23.2h0m-0 2.2h0m-0 .2h0m-0 3.3h0m-0 9.2h0m-0 2.3h0m-0 .8h0m-0 1.1h0m-0 .4h0m-0 2h0m-0 1.1h0m.1-16.4h0m-0 9.2h0m-0 .1h0m-0 .3h0m-0 1.9h0m-0 1.2h0m-0 .4h0m-0 .2h0m-0 .1h0m-0 .7h0m-0 2.3h0m-0 1h0m.1-28.4h0m-0 4.4h0m-0 0h0m-0 1.9h0m-0 1.6h0m-0 6.5h0m-0 3.3h0m-0 1.7h0m-0 5.8h0m.1-46.2h0m-0 10.6h0m-0 16.3h0m-0 10.2h0m-0 .2h0m-0 9.3h0m-0 1h0m-0 .3h0m.1-76.2h0m-0 28.2h0m-0 31.8h0m-0 1.8h0m-0 1.6h0m-0 2.4h0m-0 1.6h0m-0 6.3h0m-0 3.1h0m.1-35.7h0m-0 5.1h0m-0 2.4h0m-0 12.9h0m-0 2.6h0m-0 .5h0m-0 6.8h0m-0 .8h0m-0 1.3h0m-0 1.9h0m.1-35.1h0m-0 16.5h0m-0 5.7h0m-0 .1h0m-0 .2h0m-0 .5h0m-0 2.4h0m-0 2.6h0m-0 .9h0m-0 .2h0m-0 2.8h0m-0 2.5h0m-0 1.1h0m.1-49.8h0m-0 5.2h0m-0 .8h0m-0 13.7h0m-0 6.2h0m-0 3.9h0m-0 6.9h0m-0 4.6h0m-0 5.4h0m.1-19.3h0m-0 13.7h0m-0 3.1h0m-0 4.9h0m.1-87.4h0m-0 23.2h0m-0 4.8h0m-0 36h0m-0 1.5h0m-0 9.1h0m-0 9.9h0m-0 1.2h0m-0 .5h0m-0 2.2h0m.1-15.2h0m-0 1.2h0m-0 .5h0m-0 2h0m-0 5.7h0m-0 .2h0m-0 1.4h0m-0 1.8h0m-0 2.6h0m.1-57.2h0m-0 23.2h0m-0 3.8h0m-0 15.2h0m-0 5.9h0m-0 2.5h0m-0 3.9h0m-0 .1h0m-0 3.9h0m.1-18h0m-0 3.2h0m-0 2.1h0m-0 3.9h0m-0 2.5h0m-0 4.7h0m.1-49.1h0m-0 37.2h0m-0 1.7h0m-0 1.2h0m-0 2.8h0m-0 4.9h0m-0 1.7h0m-0 1.2h0m.1-84.8h0m-0 16.7h0m-0 30.1h0m-0 23.8h0m-0 2.1h0m-0 3.3h0m-0 5.5h0m.1-25.5h0m-0 7.3h0m-0 3.8h0m-0 3.6h0m-0 .7h0m-0 .8h0m-0 1.1h0m-0 2.7h0m-0 5.9h0m-0 0h0m-0 .3h0m-0 2.3h0m.1-25h0m-0 4.9h0m-0 2.2h0m-0 10.7h0m-0 1.3h0m-0 1.9h0m-0 1.2h0m-0 3.2h0m.1-45.6h0m-0 14.3h0m-0 16.2h0m-0 3.8h0m-0 .9h0m-0 3.5h0m-0 .5h0m-0 .1h0m-0 5.2h0m-0 .4h0m-0 .1h0m-0 .4h0m.1-42h0m-0 25.7h0m-0 7.7h0m-0 4.1h0m-0 .6h0m-0 2.8h0m-0 .1h0m-0 .4h0m.1-37.9h0m-0 16.9h0m-0 3.3h0m-0 2.4h0m-0 .8h0m-0 4.3h0m-0 .1h0m-0 4.4h0m-0 .5h0m-0 .4h0m-0 1h0m-0 .2h0m-0 .6h0m.1-51.9h0m-0 8.8h0m-0 29.1h0m-0 4.8h0m-0 2.7h0m-0 1.9h0m-0 1.2h0m-0 .7h0m-0 .1h0m-0 2h0m-0 1.6h0m-0 .6h0m-0 .7h0m.1-56.5h0m-0 8.8h0m-0 21h0m-0 .3h0m-0 2.8h0m-0 3.7h0m-0 11.1h0m-0 3h0m-0 1.6h0m-0 1.6h0m-0 3.5h0m-0 .6h0m.1-36.5h0m-0 21.2h0m-0 6.4h0m-0 1.2h0m-0 .3h0m-0 .9h0m-0 .3h0m-0 .3h0m-0 .2h0m-0 2.6h0m-0 .1h0m-0 1.2h0m-0 1.8h0m.1-70.5h0m-0 31.6h0m-0 9.1h0m-0 1.7h0m-0 4.9h0m-0 .2h0m-0 3.5h0m-0 4h0m-0 2h0m-0 7.8h0m-0 2.9h0m.1-42.9h0m-0 25.8h0m-0 4.6h0m-0 4.8h0m-0 .2h0m-0 2.6h0m-0 .5h0m-0 .3h0m-0 .3h0m-0 .8h0m.1-10.9h0m-0 .6h0m-0 .4h0m-0 2.7h0m-0 5.6h0m-0 1.5h0m-0 2.4h0m-0 .6h0m.1-14.7h0m-0 3.4h0m-0 2.7h0m-0 2.6h0m-0 .1h0m-0 3.4h0m-0 4.2h0m-0 .7h0" stroke="#4884bd" stroke-width="1.55" stroke-linecap="round" fill="none"/>
<path d="M607.5 151.8h0m0 1.7h0m0 2.6h0m.1-11.1h0m.1 1h0m0 3.8h0m0 6.6h0m.1-6.5h0m-0 5h0m-0 .6h0m-0 .6h0m.1-18.3h0m.1 1.3h0m-0 7.3h0m-0 7.9h0m-0 .8h0m.1-16.5h0m-0 1.1h0m.1 12.1h0m-0 4.3h0m.1-11.7h0m-0 6.9h0m-0 1.8h0m-0 1.5h0m.1-13.5h0m-0 9.5h0m-0 2.6h0m-0 .9h0m-0 1.5h0m.1-11h0m-0 1.2h0m-0 6.8h0m-0 1.5h0m-0 1.2h0m.1-6.4h0m-0 2.8h0m-0 4.5h0m.1-4.7h0m-0 2.8h0m-0 .9h0m.1-16.4h0m-0 7.8h0m-0 1.9h0m.1 2.3h0m.1 1.8h0m-0 .1h0m-0 .2h0m-0 2.1h0m.1-5.8h0m-0 .8h0m-0 1.1h0m-0 1.5h0m-0 1.2h0m.1 1h0m-0 .1h0m.1-12.6h0m-0 11.5h0m-0 .2h0m-0 .9h0m.1-9.2h0m-0 2.2h0m-0 3h0m-0 4.5h0m.1-19h0m-0 7.3h0m-0 2.2h0m-0 2.7h0m-0-0h0m-0 3.5h0m-0 .3h0m-0 .7h0m-0 .3h0m-0 2.7h0m.1-16.1h0m-0 9.8h0m-0 3.5h0m.1-1.6h0m-0 2.2h0m-0 .2h0m-0 1.1h0m.1-13.4h0m-0 8.5h0m-0 1.4h0m-0 4.4h0m.1-2.6h0" stroke="#8cc6ec" stroke-width="1.55" stroke-linecap="round" fill="none"/>
<path d="M610.3 153.5h0m0 1.1h0m.1-8.4h0m0 .9h0m0 4.3h0m.2-5.3h0m0 7h0m.1 .5h0m.1 .2h0m.3-.6h0m0 1.2h0m.1-.6h0m.1-.2h0m.1 .8h0m.1-3.2h0m-0 1h0m-0 4.2h0m.1-5.8h0m.1-10.5h0m-0 14.4h0m-0 .8h0m-0 1.1h0m.1-16.4h0m.1 12.8h0m-0 2.5h0" stroke="#f6a6b0" stroke-width="1.55" stroke-linecap="round" fill="none"/>
<path d="M612.2 97.6h0m0 35.9h0m0 1.3h0m0 .2h0m0 4.5h0m0 11.6h0m0 .6h0m0 2.8h0m.1-55.3h0m-0 10.7h0m-0 12.7h0m-0 10.4h0m-0 1.1h0m-0 .8h0m-0 .3h0m-0 4.1h0m-0 .2h0m-0 3h0m-0 0h0m-0 .5h0m-0 0h0m-0 .3h0m-0 2.7h0m-0 .6h0m-0 .2h0m-0 .9h0m-0 .5h0m-0 .1h0m-0 3.3h0m-0 .7h0m-0 .8h0m-0 .5h0m-0 .1h0m-0 .4h0m-0 1.2h0m-0 .1h0m-0 .5h0m-0 0h0m-0 .2h0m.1-80.6h0m-0 37.2h0m-0 8.2h0m-0 1.4h0m-0 .7h0m-0 1.4h0m-0 5.1h0m-0 0h0m-0 3.4h0m-0 2.1h0m-0 1.3h0m-0 1h0m-0 1.8h0m-0 1.6h0m-0 .4h0m-0 1.4h0m-0 .8h0m-0 .4h0m-0 1.1h0m-0 .1h0m-0 .5h0m-0 .3h0m-0 1.4h0m-0 .3h0m-0 .1h0m-0 .3h0m-0 .5h0m-0 .4h0m-0 1.8h0m-0 3.8h0m-0 .1h0m-0 .6h0m-0 .1h0m-0 .2h0m-0-0h0m-0-0h0m-0 .2h0m-0 .2h0m-0 .1h0m.1-68.5h0m-0 18.9h0m-0 1.8h0m-0 4.4h0m-0 4.1h0m-0 5.8h0m-0 .8h0m-0 5.7h0m-0 .7h0m-0 4.1h0m-0 5.5h0m-0 .9h0m-0 .1h0m-0 1.5h0m-0 1.6h0m-0 2.1h0m-0 1.4h0m-0 1.2h0m-0 2.7h0m-0 1.3h0m-0 .8h0m-0 .3h0m-0 .2h0m-0 .1h0m-0 0h0m-0 .1h0m-0 .3h0m-0 1.8h0m-0-0h0m-0 .7h0m-0-0h0m-0 .3h0m.1-76.5h0m-0 28.7h0m-0 16.9h0m-0 6.5h0m-0 2.5h0m-0 2.4h0m-0 .8h0m-0 .3h0m-0 1h0m-0 4.8h0m-0 3.4h0m-0 .3h0m-0-0h0m-0 1.6h0m-0 3.2h0m-0 .7h0m-0 .2h0m-0 1.7h0m-0-0h0m-0 .4h0m-0 1h0m.1-40.7h0m-0 1.7h0m-0 8.6h0m-0 2.3h0m-0 .4h0m-0 1.6h0m-0 2.7h0m-0 2.1h0m-0-0h0m-0 .2h0m-0 2.2h0m-0 .1h0m-0 .5h0m-0 1.3h0m-0 .6h0m-0 .1h0m-0 1.3h0m-0 .1h0m-0 0h0m-0 6.3h0m-0 1h0m-0 .1h0m-0 1.3h0m-0 .5h0m-0 .2h0m-0 2.5h0m-0 .2h0m-0 1.7h0m.1-63.4h0m-0 15.2h0m-0 15.4h0m-0 .8h0m-0 1.7h0m-0 4.1h0m-0 2.7h0m-0 2.2h0m-0 4h0m-0 .5h0m-0 .9h0m-0 1h0m-0 .8h0m-0 2.4h0m-0 3h0m-0 .8h0m-0 3.7h0m-0 3.5h0m-0 0h0m-0 .1h0m-0 .4h0m-0 .1h0m.1-88.3h0m-0 52.8h0m-0 2.2h0m-0 5h0m-0 1.6h0m-0 .9h0m-0 .2h0m-0 2.4h0m-0 .4h0m-0 2.2h0m-0 3.6h0m-0 .8h0m-0 .1h0m-0 2.4h0m-0 .4h0m-0 .9h0m-0 1.3h0m-0 1.9h0m-0 .1h0m-0 .2h0m-0 2.7h0m-0 .3h0m-0 .5h0m-0 3.9h0m-0 .2h0m-0 .2h0m-0 .2h0m-0 .3h0m-0 1.6h0m.1-30.3h0m-0 2h0m-0 3h0m-0 1.6h0m-0 3.1h0m-0 3.2h0m-0 2.9h0m-0 1.1h0m-0 3.9h0m-0 .4h0m-0 2h0m-0 2h0m-0 .5h0m-0 1.2h0m-0 .3h0m-0 .2h0m-0 .1h0m-0 .5h0m-0 1.2h0m-0 .4h0m-0 .3h0m-0 .6h0m.1-68.8h0m-0 26h0m-0 10.5h0m-0 .1h0m-0 4.4h0m-0 3h0m-0 12.5h0m-0 .2h0m-0 .9h0m-0 4.1h0m-0 0h0m-0 1.6h0m-0 1.3h0m-0 .5h0m-0 .1h0m-0 .1h0m-0 .9h0m.1-59.6h0m-0 8.5h0m-0 12.2h0m-0 1.2h0m-0 16.5h0m-0 2.2h0m-0 1.1h0m-0 1.7h0m-0 4.5h0m-0 1.8h0m-0 3.2h0m-0 .1h0m-0 .3h0m-0 .5h0m-0 1.6h0m-0 .9h0m-0 .6h0m-0 .9h0m-0 .3h0m-0 0h0m-0 .3h0m-0 1.1h0m-0 1.8h0m-0 .1h0m.1-81h0m-0 46.7h0m-0 1.7h0m-0 .7h0m-0 5.9h0m-0 2.1h0m-0 2.3h0m-0 1.3h0m-0 3.1h0m-0 4.4h0m-0 .3h0m-0 1.5h0m-0 1.5h0m-0 .5h0m-0 4.8h0m-0 .4h0m-0 1.6h0m-0 1.4h0m-0 1.1h0m.1-60.1h0m-0 4.9h0m-0 21.5h0m-0 2.7h0m-0 7h0m-0 6.7h0m-0 .8h0m-0 2.9h0m-0 3.7h0m-0 .6h0m-0 2.4h0m-0 .5h0m-0 .2h0m-0 1h0m-0 .2h0m-0 .5h0m-0 2.8h0m-0 .2h0m-0 1.4h0m-0 .1h0m.1-41.5h0m-0 13.1h0m-0 4h0m-0 3.5h0m-0 .2h0m-0 4.1h0m-0 4.1h0m-0 1.7h0m-0 .8h0m-0 2.2h0m-0 .1h0m-0 .5h0m-0 .2h0m-0 .9h0m-0 .6h0m-0 2.3h0m-0 1.6h0m-0 .4h0m.1-73.3h0m-0 35.9h0m-0 7.9h0m-0 4h0m-0 3.9h0m-0 1.5h0m-0 .2h0m-0 1.7h0m-0 1.9h0m-0 0h0m-0 .5h0m-0 .7h0m-0 .3h0m-0 1h0m-0 4.1h0m-0 .5h0m-0 3.6h0m-0 .6h0m-0 2.6h0m-0 .5h0m-0 .3h0m-0 .3h0m-0 1.6h0m-0 0h0m-0 .8h0m.1-82.9h0m-0 4.2h0m-0 16.9h0m-0 8.6h0m-0 7.8h0m-0 6.1h0m-0 11.4h0m-0 .2h0m-0 7.9h0m-0 .4h0m-0 .7h0m-0 1.1h0m-0 4.5h0m-0 1.1h0m-0 .2h0m-0 3.9h0m-0 1.1h0m-0 1.4h0m-0 .2h0m-0 .4h0m-0 .8h0m-0 .8h0m-0 .2h0m-0 .4h0m-0 1.6h0m-0 1.5h0m.1-108.1h0m-0 8.7h0m-0 24.4h0m-0 3.2h0m-0 29.4h0m-0 .4h0m-0 6.4h0m-0 2.9h0m-0 .3h0m-0 1.3h0m-0 3.5h0m-0 6.8h0m-0 .1h0m-0 3.5h0m-0 .6h0m-0 3h0m-0 .5h0m-0 1h0m-0 .3h0m-0 2h0m-0 .5h0m-0 2.1h0m-0 1.3h0m-0 .7h0m-0 .1h0m-0 0h0m-0 .1h0m-0 .5h0m-0 1h0m-0 0h0m-0 .3h0m-0 .2h0m-0 1.7h0m.1-76.4h0m-0 28.6h0m-0 4.1h0m-0 3.6h0m-0 2.4h0m-0 .3h0m-0 11.3h0m-0 2.7h0m-0 2.9h0m-0 .9h0m-0 8.6h0m-0 .7h0m-0 .3h0m-0 .8h0m-0 3h0m-0 .4h0m-0 .2h0m-0 2.8h0m-0 2.5h0m-0 0h0m-0 .3h0m-0 .5h0m-0 .2h0m-0 .1h0m.1-56.9h0m-0 13.2h0m-0 .1h0m-0 9.6h0m-0 .3h0m-0 3h0m-0 4.1h0m-0 2.5h0m-0 6.2h0m-0 3.4h0m-0 .1h0m-0 .6h0m-0 .7h0m-0 .2h0m-0 3.2h0m-0 .3h0m-0 .2h0m-0 0h0m-0 3.9h0m-0 .3h0m-0 .5h0m-0 4.1h0m-0 .1h0m.1-62.5h0m-0 6.6h0m-0 22.8h0m-0 11.1h0m-0 2.6h0m-0 .1h0m-0 .1h0m-0 .4h0m-0 8h0m-0 .5h0m-0 .4h0m-0 .4h0m-0 2.1h0m-0 .4h0m-0 1.7h0m-0 .4h0m-0 .5h0m-0 .5h0m-0 .1h0m-0 0h0m-0 0h0m-0 1.2h0m-0 0h0m-0 .1h0m-0 .5h0m-0 .6h0m-0 .7h0m-0 .9h0m-0 .3h0m.1-49.5h0m-0 1h0m-0 3h0m-0 1.2h0m-0 1.3h0m-0 1.8h0m-0 10.5h0m-0 15.1h0m-0 4.1h0m-0 .4h0m-0 2.1h0m-0 2.9h0m-0 .6h0m-0 0h0m-0 1.3h0m-0 1.9h0m-0 .1h0m-0 1.4h0m-0 .7h0m-0 .4h0m-0 .1h0m.1-79.3h0m-0 18h0m-0 9.8h0m-0 4.5h0m-0 22.3h0m-0 3.4h0m-0 1.6h0m-0 3.8h0m-0 1h0m-0 .4h0m-0 .1h0m-0 1.5h0m-0 0h0m-0 1h0m-0 .5h0m-0 2h0m-0 .5h0m-0 .1h0m-0 0h0m-0 1.9h0m-0 .3h0m-0 1.6h0m-0 2.3h0m-0 .6h0m-0 .1h0m-0 0h0m-0 .8h0m-0 1h0m-0 .2h0m-0 0h0m.1-63.5h0m-0 20.4h0m-0 .6h0m-0 2.9h0m-0 3.1h0m-0 10.9h0m-0 3.5h0m-0 .7h0m-0 3.4h0m-0 .9h0m-0 .7h0m-0 1h0m-0 2.9h0m-0 2.2h0m-0 2.3h0m-0 0h0m-0 2.8h0m-0 .5h0m-0 .2h0m-0 1.8h0m-0 .1h0m-0 .1h0m-0 .1h0m-0 1h0m-0 .2h0m-0 .1h0m-0 .6h0m-0 .2h0m-0 .2h0m.1-48.2h0m-0 4.2h0m-0 .7h0m-0 7.8h0m-0 1.7h0m-0 2h0m-0 4.2h0m-0 1h0m-0 4.9h0m-0 1.7h0m-0 5.4h0m-0 5h0m-0 .6h0m-0 1.9h0m-0 2.7h0m-0 .2h0m-0 .1h0m-0 2.5h0m-0 .9h0m.1-56h0m-0 13.6h0m-0 7.9h0m-0 2.4h0m-0 1.9h0m-0 4.4h0m-0 9.8h0m-0 3.9h0m-0 2.1h0m-0 1.8h0m-0 .1h0m-0 3.4h0m-0 .3h0m-0 .3h0m-0 .3h0m-0 .6h0m-0 1.8h0m-0 .1h0m-0 1.4h0m-0 .1h0m-0 .4h0m-0 .1h0m-0 .1h0m.1-95.7h0m-0 25.2h0m-0 46.9h0m-0 3.8h0m-0 2.1h0m-0 3h0m-0 .2h0m-0 .5h0m-0 3.3h0m-0 .4h0m-0 .8h0m-0 3.2h0m-0 .7h0m-0 .7h0m-0 .4h0m-0 .7h0m-0 2.9h0m-0 .4h0m-0 .4h0m.1-118h0m-0 64h0m-0 31.2h0m-0 3.2h0m-0 .7h0m-0 2.1h0m-0 1.4h0m-0 .2h0m-0 1.1h0m-0 .1h0m-0 .8h0m-0 .9h0m-0 .9h0m-0 .2h0m-0 2.6h0m-0 1.3h0m-0 .5h0m-0 1.7h0m-0 1h0m-0 .4h0m-0 .7h0m-0 .4h0m-0 .1h0m-0 .4h0m-0 .4h0m-0 1.2h0m.1-41.8h0m-0 13.5h0m-0 4.2h0m-0 4.7h0m-0 1.5h0m-0 5.7h0m-0 .7h0m-0 .1h0m-0 .9h0m-0 .3h0m-0 1.9h0m-0 1.8h0m-0 1.6h0m-0 1.3h0m-0 1h0m-0 1.2h0m-0 1.4h0m-0 .5h0m.1-53.5h0m-0 18.3h0m-0 10.7h0m-0 0h0m-0 4.6h0m-0 6.5h0m-0 .1h0m-0 3.5h0m-0 .8h0m-0 .1h0m-0 1.1h0m-0 1.8h0m-0 0h0m-0 4.2h0m-0 1.2h0m.1-53h0m-0 2.9h0m-0 11.4h0m-0 .6h0m-0 3.6h0m-0 7h0m-0 .2h0m-0 .3h0m-0 6.2h0m-0 .7h0m-0 0h0m-0 3.5h0m-0 1h0m-0 2.2h0m-0 3.6h0m-0 2.4h0m-0 .9h0m-0 2h0m-0 1.2h0m-0 .5h0m-0 1h0m-0 1.4h0m-0 .1h0m-0 .3h0m-0 .1h0m.1-57.5h0m-0 6.8h0m-0 4h0m-0 24.8h0m-0 3h0m-0 5.7h0m-0 1.6h0m-0 2.1h0m-0 2.7h0m-0 .5h0m-0 1.5h0m-0 .2h0m-0 .9h0m-0 .3h0m-0 3.2h0m-0 .8h0m.1-82.4h0m-0 11.7h0m-0 27.2h0m-0 16.9h0m-0 1.3h0m-0 2.1h0m-0 .7h0m-0 3.5h0m-0 2.3h0m-0 2.2h0m-0 .3h0m-0 .2h0m-0 .6h0m-0 1.9h0m-0 .8h0m-0 .1h0m-0 1.9h0m-0 .5h0m-0 1.6h0m-0 .5h0m-0 .8h0m-0 .3h0m-0 .7h0m-0 .8h0m-0 3h0m-0 .2h0m-0 .1h0m-0 .1h0m-0 .1h0m.1-53.2h0m-0 1.2h0m-0 .4h0m-0 34.1h0m-0 1.6h0m-0 1.7h0m-0 2.4h0m-0 .6h0m-0 .5h0m-0 .4h0m-0 .7h0m-0 .1h0m-0 1.7h0m-0 1h0m-0 .7h0m-0 .6h0m-0 .6h0m-0 2.2h0m-0 1.7h0m-0 .2h0m-0 .7h0m.1-46.6h0m-0 8.3h0m-0 1.9h0m-0 9.4h0m-0 8.5h0m-0 1h0m-0 1.4h0m-0 2.6h0m-0 1.2h0m-0 .3h0m-0 4.2h0m-0 1.3h0m-0 1h0m-0 .1h0m-0 1h0m-0 1.2h0m-0 .8h0m-0 1.7h0m-0 .2h0m.1-35.4h0m-0 11.6h0m-0 4.7h0m-0 .8h0m-0 .3h0m-0 .8h0m-0 1.7h0m-0 .9h0m-0 .5h0m-0 .4h0m-0 2h0m-0 2.7h0m-0 .4h0m-0 .9h0m-0 1.3h0m-0 1.3h0m-0 .4h0m-0 .9h0m-0 1.2h0m-0 .3h0m-0 .4h0m-0 1.6h0m-0 .8h0m.1-48.7h0m-0 5.8h0m-0 2.4h0m-0 9.5h0m-0 10.3h0m-0 7.5h0m-0 .8h0m-0 .7h0m-0 0h0m-0 .1h0m-0 2.7h0m-0 .1h0m-0 .9h0m-0 1.2h0m-0 1.1h0m-0 1h0m-0 2.2h0m-0 0h0m-0 1.1h0m.1-60.5h0m-0 17.1h0m-0 1.3h0m-0 7.2h0m-0 8h0m-0 6.6h0m-0 .4h0m-0 1.3h0m-0 6.5h0m-0 .7h0m-0 .8h0m-0 2.4h0m-0 2.1h0m-0 4.4h0m-0 2.3h0m-0 .5h0m-0 .1h0m.1-64.3h0m-0 32.9h0m-0 9.7h0m-0 1.8h0m-0 1.3h0m-0 .7h0m-0 .2h0m-0 3.4h0m-0 3.9h0m-0 4.8h0m-0 2.4h0m-0 1.1h0m-0 .3h0m-0 1.2h0m.1-63.2h0m-0 18.4h0m-0 30.1h0m-0 .5h0m-0 1.8h0m-0 .8h0m-0 2.5h0m-0 1.4h0m-0 .3h0m-0 1h0m-0 3.2h0m-0 .1h0m-0 .3h0m-0 1.1h0m-0 0h0m-0 1.2h0m-0 .5h0m-0 .1h0m.1-56.4h0m-0 22.7h0m-0 3.1h0m-0 5.9h0m-0 .9h0m-0 3.1h0m-0 .1h0m-0 1.5h0m-0 .9h0m-0 6.8h0m-0 2.2h0m-0 .3h0m-0 .8h0m-0 .1h0m-0 1.9h0m-0 1.3h0m-0 .2h0m-0 1.8h0m-0 .3h0m-0 2.2h0m-0 .8h0m.1-63.3h0m-0 20.9h0m-0 1.3h0m-0 14.4h0m-0 2.5h0m-0 3.2h0m-0 8.3h0m-0 .4h0m-0 1.1h0m-0 1.8h0m-0 .6h0m-0 1h0m-0 1.4h0m-0 1.8h0m-0 1.9h0m-0 1.4h0m-0 .8h0m-0 .6h0m.1-59.4h0m-0 23.8h0m-0 1.4h0m-0 7.4h0m-0 .2h0m-0 6.3h0m-0 3.3h0m-0 .8h0m-0 2.2h0m-0 .1h0m-0 .5h0m-0 1.3h0m-0 1h0m-0 1.6h0m-0 1.1h0m-0 .2h0m-0 .9h0m-0 .4h0m-0 1.2h0m-0 .3h0m-0 .1h0m-0 3.2h0m-0 .1h0m-0 1.7h0m.1-104h0m-0 54.6h0m-0 8.5h0m-0 6.5h0m-0 10.8h0m-0 3.2h0m-0 .3h0m-0 .7h0m-0 1.5h0m-0 .9h0m-0 .3h0m-0 1.1h0m-0 3.6h0m-0 2.8h0m-0 0h0m-0 1.1h0m-0 .6h0m-0 .8h0m-0 .3h0m-0 1.9h0m-0 .1h0m-0 .1h0m-0 3.2h0m-0 1.5h0m-0 0h0m.1-42.4h0m-0 3h0m-0 7.1h0m-0 1.5h0m-0 .6h0m-0 8.2h0m-0 2.9h0m-0 .2h0m-0 5.4h0m-0 1.8h0m-0 2.8h0m-0 .6h0m-0 .4h0m-0 .9h0m-0 .4h0m-0 1.6h0m-0 2.1h0m-0 1.6h0m.1-43.1h0m-0 3.9h0m-0 10.7h0m-0 16h0m-0 1.1h0m-0 2.2h0m-0 .6h0m-0 1.3h0m-0 1.7h0m-0 .5h0m-0 .4h0m-0 .5h0m-0 2.1h0m-0 .1h0m-0 .2h0m-0 0h0m-0 .9h0m-0 .2h0m.1-90.5h0m-0 31.6h0m-0 23.3h0m-0 1.4h0m-0 13.3h0m-0 2.1h0m-0 8.7h0m-0 .4h0m-0 1.4h0m-0 2.1h0m-0 .2h0m-0 0h0m-0 .9h0m-0 .8h0m-0 2.7h0m-0 1.2h0m.1-97.9h0m-0 40.3h0m-0 3.6h0m-0 35.8h0m-0 2.4h0m-0 3.8h0m-0 2.1h0m-0 .7h0m-0 2.4h0m-0 1.7h0m-0 2.3h0m-0 1h0m-0 1h0m-0 1.8h0m-0 1h0m.1-73.3h0m-0 31.7h0m-0 5.2h0m-0 8.2h0m-0 2.7h0m-0 3.4h0m-0 1.2h0m-0 4.2h0m-0 .7h0m-0 1.3h0m-0 2.6h0m-0 4.9h0m-0 .4h0m-0 3.7h0m-0 1.5h0m-0 2h0m.1-26.1h0m-0 .3h0m-0 5.8h0m-0 8.7h0m-0 .4h0m-0 2.2h0m-0 0h0m-0 1.2h0m-0 .4h0m-0 2.2h0m-0 2.2h0m-0 .9h0m-0 1.2h0m-0 .1h0m.1-39.7h0m-0 9.7h0m-0 5.8h0m-0 9.5h0m-0 .6h0m-0 4.1h0m-0 4.1h0m-0 3.3h0m.1-61.4h0m-0 4.8h0m-0 34.6h0m-0 2.3h0m-0 1.1h0m-0 1.8h0m-0 3.4h0m-0 3.6h0m-0 2.9h0m-0 2.6h0m-0 1.5h0m-0 4.4h0m-0 .2h0m-0 .1h0m-0 .8h0m.1-58.6h0m-0 33.4h0m-0 2h0m-0 3.5h0m-0 4.1h0m-0 1.9h0m-0 1.6h0m-0 3.9h0m-0 4.9h0m-0 1.4h0m-0 0h0m-0 .5h0m-0 1.4h0m-0 .2h0m-0 .2h0m.1-69.3h0m-0 16.5h0m-0 25.6h0m-0 6.8h0m-0 .7h0m-0 4.6h0m-0 9.1h0m-0 3.8h0m.1-70.2h0m-0 20.2h0m-0 6.4h0m-0 12.8h0m-0 .2h0m-0 .8h0m-0 4.8h0m-0 4.9h0m-0 10.9h0m-0 2.1h0m-0 3.6h0m-0 .1h0m-0 .8h0m-0 2h0m-0 2.5h0m.1-33.2h0m-0 1.7h0m-0 9.2h0m-0 10.9h0m-0 3.4h0m-0 .4h0m-0 .4h0m-0 2.3h0m-0 1.7h0m-0 2.7h0m.1-60.2h0m-0 14.8h0m-0 10.7h0m-0 13.1h0m-0 6.2h0m-0 2.7h0m-0 .1h0m-0 .2h0m-0 1.6h0m-0 5.1h0m-0 2.2h0m-0 .3h0m-0 1.3h0m-0 .1h0m-0 2h0m-0 .4h0m.1-105.8h0m-0 61.3h0m-0 12.1h0m-0 5.1h0m-0 2.5h0m-0 4.9h0m-0 2h0m-0 6.3h0m-0 2.3h0m-0 .4h0m-0 6.1h0m-0 1.4h0m.1-59.1h0m-0 11.4h0m-0 11.2h0m-0 9.7h0m-0 .4h0m-0 8.5h0m-0 2h0m-0 .7h0m-0 .9h0m-0 .4h0m-0 .4h0m-0 4.1h0m-0 2.3h0m-0 2.5h0m-0 1.7h0m-0 2.9h0m.1-97.8h0m-0 38h0m-0 16h0m-0 6.5h0m-0 6.9h0m-0 10.1h0m-0 3.8h0m-0 4.5h0m-0 1.6h0m-0 .2h0m-0 .6h0m-0 1.2h0m-0 3.6h0m-0 .5h0m-0 2h0m-0 .2h0m-0 1.2h0m-0 .8h0m.1-116.2h0m-0 14h0m-0 64h0m-0 15.6h0m-0 3.6h0m-0 1h0m-0 1.6h0m-0 9.8h0m-0 2h0m-0 3.7h0m-0 .9h0m-0 0h0m-0 1h0m.1-39.4h0m-0 3.1h0m-0 6.8h0m-0 2.4h0m-0 9.4h0m-0 .7h0m-0 .1h0m-0 2.5h0m-0 8.7h0m-0 1h0m-0 4.7h0m-0 .8h0m.1-103.6h0m-0 4.8h0m-0 75.2h0m-0 2.3h0m-0 3.3h0m-0 1.7h0m-0 5.8h0m-0 1.4h0m-0 1.2h0m-0 .2h0m-0 .5h0m-0 .5h0m-0 6.5h0m.1-24.7h0m-0 9.8h0m-0 8.2h0m-0 .3h0m-0 .9h0m-0 2.5h0m-0 .3h0m.1-30.2h0m-0 3.2h0m-0 13.8h0m-0 2h0m-0 7.8h0m-0 2.8h0m-0 2h0m.1-39.5h0m-0 8h0m-0 6.9h0m-0 1.5h0m-0 11.8h0m-0 3.9h0m-0 .9h0m-0 4h0m-0 .8h0m-0 .7h0m-0 .2h0m-0 0h0m-0 .8h0m-0 .1h0m.1-41.5h0m-0 6.2h0m-0 15.8h0m-0 4.5h0m-0 0h0m-0 3.5h0m-0 3.4h0m-0 .2h0m-0 .1h0m-0 .9h0m-0 .8h0m-0 .1h0m-0 2.5h0m-0 3.7h0m-0 .5h0m.1-64.8h0m-0 2.6h0m-0 27.3h0m-0 8.4h0m-0 7.4h0m-0 .8h0m-0 9.3h0m-0 .4h0m-0 2.2h0m-0 2.8h0m-0 1.8h0m-0 .2h0m-0 .3h0m-0 0h0m-0 .4h0m.1-62h0m-0 41.6h0m-0 4.5h0m-0 9.6h0m-0 5.1h0m-0 1.3h0m.1-117.8h0m-0 91.7h0m-0 6.2h0m-0 9.8h0m-0 7.9h0m-0 1.8h0m.1-21.4h0m-0 2.9h0m-0 3h0m-0 4.3h0m-0 2.8h0m-0 7.8h0m.1-50.8h0m-0 12.5h0m-0 2.6h0m-0 1.3h0m-0 19.1h0m-0 4.6h0m-0 1.9h0m-0 1.7h0m-0 1.8h0m-0 1.2h0m-0 4.2h0m-0 1.3h0m-0 1h0m.1-101.5h0m-0 49.6h0m-0 15.1h0m-0 13.5h0m-0 8.7h0m-0 1.8h0m-0 1h0m-0 .5h0m-0 4.2h0m-0 .2h0m-0 1.7h0m-0 .1h0m-0 .7h0m.1-87h0m-0 8.8h0m-0 30.1h0m-0 17h0m-0 12.4h0m-0 8h0m-0 7.4h0m-0 2.8h0m-0 0h0m-0 .7h0m-0 2.6h0m-0 1.1h0m.1-101.8h0m-0 40.2h0m-0 31.1h0m-0 10.5h0m-0 10.6h0m-0 2.3h0m.1-57.8h0m-0 54.7h0m-0 2.8h0m-0 .1h0m-0 1h0m-0 2.2h0m-0 1.3h0m-0 2h0m-0 1.3h0m.1-104.3h0m-0 52.9h0m-0 18.5h0m-0 11.7h0m-0 7.1h0m-0 2.3h0m-0 1.5h0m-0 1.9h0m-0 2.5h0m-0 3.3h0m.1-33.1h0m-0 11.1h0m-0 10.9h0m-0 1h0m-0 3h0m-0 3h0m-0 5.1h0m.1-38.4h0m-0 16.6h0m-0 13.1h0m-0 3.9h0m-0 1.8h0m-0 2.2h0m-0 1h0m.1-8.1h0m-0 2h0m-0 1.6h0m.1-71.6h0m-0 36.8h0m-0 12.7h0m-0 7.3h0m-0 16.4h0m-0 .4h0m-0 1.9h0m.1-65.1h0m-0 30.7h0m-0 7.6h0m-0 8.9h0m-0 3.5h0m-0 16.5h0m.1-39.8h0m-0 2.5h0m-0 12.8h0m-0 6.3h0m-0 3h0m-0 2.9h0m-0 2.4h0m-0 5.7h0m-0 .7h0m.1-79.2h0m-0 20.7h0m-0 28.2h0m-0 4.9h0m-0 12h0m-0 1.3h0m-0 1.7h0m-0 3.5h0m-0 10.2h0m.1-117.5h0m-0 103.2h0m-0 6.6h0m-0 1.2h0m-0 1.8h0m.1-32.2h0m-0 12.2h0m-0 3.3h0m-0 13.3h0m-0 4.4h0m-0 .5h0m-0 2.5h0m-0 .4h0m.1-25.4h0m-0 16.2h0m.1-22.2h0m-0 27.1h0m-0 .6h0m.1-6.7h0m-0 4.8h0m-0 5.7h0m.1-118.3h0m-0 86.4h0m-0 28.9h0m-0 .7h0m-0 .2h0m-0 1.5h0m-0 .3h0m.1-16.7h0m-0 1.2h0m-0 .8h0m-0 7.8h0m-0 1.8h0m-0 .7h0m-0 3.9h0m.1-53.5h0m-0 14.8h0m-0 21.6h0m-0 8.4h0m-0 3.7h0m-0 3.3h0m.1-104.4h0m-0 70.8h0m-0 21.8h0m-0 5.4h0m-0 2.5h0m-0 3.8h0m.1-21.9h0m-0 22h0m-0 2.2h0m.1-91.1h0m-0 84.1h0m-0 .5h0m-0 5.8h0m.1-40.3h0m-0 8.3h0m-0 20.7h0m-0 1.8h0m-0 6.5h0m-0 3.1h0m-0 .2h0m-0 .3h0m-0 0h0m.1-101.1h0m-0 80h0m-0 19.1h0m-0 1.5h0m.1-111.2h0m-0 40.7h0m-0 50.8h0m-0 15.3h0m-0 2.3h0m-0 2.3h0m.1-25.8h0m-0 12.4h0m.1-8.9h0m-0 10.3h0m.1-100h0m-0 65.5h0m.1-27.5h0m-0 49.8h0m.1 20.6h0m.1-56.6h0m-0 58.9h0m-0 1.1h0m.1-.4h0m.3-25.3h0m.1-63h0m-0 69.5h0m-0 4.6h0m-0 6.1h0m-0 3.9h0m-0 3.2h0m.1-50.9h0m-0 19h0m-0 10.5h0m.2-50.1h0m.1 47.3h0m.2 5.9h0m.1 5.3h0m.1-78.2h0m-0 88.5h0m.1-105.5h0m-0 37.3h0m-0 64.5h0m.1 5.5h0m.1-33.8h0m-0 34.7h0m.1-40.3h0m.1-76.2h0m.1 109.8h0m.2-72h0m.1 56.6h0m-0 6.1h0m-0 2.3h0m-0 11.8h0m-0 3.2h0m.1-65.6h0m-0 35.7h0m.2-31.9h0m-0 40.4h0m-0 15.3h0m.1-4.2h0m.1 9.1h0m.1-13.5h0m-0 12.8h0m-0 2.1h0m.1-24.4h0m.1-13h0m-0 23.8h0m.2 9.7h0m.1-103h0m-0 105.3h0m.1-110.1h0m-0 112.7h0m.1-13.9h0m.2-83.1h0m.2 16h0m.2-36.7h0m-0 117.1h0m.2-117.2h0m.2 109.2h0m.1-77.5h0m.2 23.8h0m-0 5.8h0m.1-47.5h0m.3 55h0m.5 42.3h0m.3-7.5h0m.2-70.2h0m.4-34.4h0m-0 32.2h0m.1-32.3h0m.1 45.2h0m.1 20.4h0m-0 36.7h0m.1-7.6h0m.2-61.2h0m-0 25.3h0m-0 20.4h0m.2 4.6h0m-0 27.3h0m.2-110.3h0m-0 114.6h0m.1-.7h0m.2-33.5h0m-0 16.5h0m.2-85.2h0m-0 69.9h0m.1-32.9h0m.1-48.2h0m.2 95.6h0m.1-64.9h0m-0 79.5h0m.1-.3h0m.2-57.3h0m.1 43.8h0m.1-58.1h0m.3 75.1h0m.1-97.9h0m-0 36.8h0m.3-28.9h0m-0 16.7h0m-0 23.6h0m.7-64.6h0m.1 92.1h0m-0 14.5h0m.2-77.8h0m-0 27.5h0m.3-38.7h0m.2-1h0m.1 46.9h0m.4-39.6h0m.2 28.3h0m.2-52.5h0m.2 84.9h0m.1-85.1h0m-0 85.3h0m.3-47.9h0m1 13.5h0m.1 48.3h0m3 17.6h0m1 .1h0m.6-1.2h0m.1-33.4h0m-0 33.2h0m.1 .9h0m.2-5.6h0m.1 4.8h0m.3-2.5h0m.3 5.6h0m.1-2.3h0m.1-10.6h0m-0 10.5h0m-0 2.2h0m.2-98.9h0m.2 88.2h0m.2 10.1h0m.1-.1h0m.4-5.5h0m.1-4.3h0m.2 4.6h0m.1 5.4h0m.3-7.4h0m.1 8.4h0m.1-9.9h0m.1 6.8h0m.3 1h0m-0 1.8h0m.3-5.5h0m-0 3.3h0m-0 2.3h0m.2 .1h0m-0 .2h0m.1-7.4h0m.1-28h0m-0 35.2h0m.2-.2h0m.1-10.2h0m.1 8.1h0m.1 1.3h0m.1-7h0m-0 5h0m.1-3.2h0m.1-3.1h0m.2-2.8h0m-0 10.3h0m.2-5.2h0m-0 4.3h0m.2-.4h0m.1-1.7h0m-0 1.9h0m.1 .4h0m-0 1.6h0m-0 .3h0m.1-.7h0m-0 1.5h0m.2-12.1h0m-0 7.4h0m.2 4.5h0m.1-3.7h0m-0 2h0m-0 .6h0m-0 .7h0m-0 .6h0m.2-4.9h0m-0 3.8h0m-0 .9h0m.1-15.2h0m-0 3h0m-0 .6h0m-0 5.3h0m.1-8h0m-0 9.4h0m.1 2.6h0m.1-72.5h0m-0 74h0m.1-7.1h0m-0 5.5h0m-0 .3h0m.1-7.9h0m-0 9.3h0m-0 .1h0m-0 .4h0m.1-6.3h0m.2-30.1h0m-0 30.4h0m.1 5.6h0m.1-3.4h0m-0 4h0m.1-9.8h0m.2-11.2h0m-0 16.3h0m-0 1.9h0m.1 1h0m.4-47h0m.2 46.6h0m-0 .1h0m.1-5.6h0m.1 1.2h0m.1 1.4h0m-0 2.7h0m.1-6.5h0m-0 5.6h0m.1-1.1h0m.1-5.3h0m.1 6.4h0m.2-13.8h0m-0 11.8h0m-0 .9h0m.1 1.4h0m.1-2.7h0m.1-95h0m-0 89.3h0m-0 9.1h0m.1-3.9h0m-0 2.4h0m-0 3.4h0m.1-2.9h0m-0 2.6h0m-0 .5h0m.2-9.4h0m.1-18.8h0m-0 24.5h0m-0 0h0m.2-1.8h0m.3 2.2h0m.1-7.5h0m-0 10.4h0m.1-8.6h0m-0 6.5h0m-0 1.6h0m.3-.2h0m.2-3.5h0m-0 2.5h0m.2-79.3h0m.5 34.1h0m-0 42.9h0m.5-21h0m-0 16.1h0m-0 1.3h0m.6 2.9h0m.3-61.3h0m1-35.4h0" stroke="#f4443b" stroke-width="1.55" stroke-linecap="round" fill="none"/>
<rect x="536.4" y="31.3" width="147.0" height="149.0" fill="none" stroke="#7a7a7a" stroke-width="1"/>
<line x1="535.1999999999999" y1="174.2" x2="536.4" y2="174.2" stroke="#7a7a7a" stroke-width="0.8"/>
<text x="535.00" y="176.90" font-size="7.5" text-anchor="end" fill="#222">0.0</text>
<line x1="535.1999999999999" y1="140.1" x2="536.4" y2="140.1" stroke="#7a7a7a" stroke-width="0.8"/>
<text x="535.00" y="142.80" font-size="7.5" text-anchor="end" fill="#222">2.5</text>
<line x1="535.1999999999999" y1="106.0" x2="536.4" y2="106.0" stroke="#7a7a7a" stroke-width="0.8"/>
<text x="535.00" y="108.70" font-size="7.5" text-anchor="end" fill="#222">5</text>
<line x1="535.1999999999999" y1="71.9" x2="536.4" y2="71.9" stroke="#7a7a7a" stroke-width="0.8"/>
<text x="535.00" y="74.60" font-size="7.5" text-anchor="end" fill="#222">7.5</text>
<line x1="535.1999999999999" y1="37.8" x2="536.4" y2="37.8" stroke="#7a7a7a" stroke-width="0.8"/>
<text x="535.00" y="40.50" font-size="7.5" text-anchor="end" fill="#222">10.0</text>
<line x1="538.4" y1="180.3" x2="538.4" y2="181.70000000000002" stroke="#7a7a7a" stroke-width="0.8"/>
<line x1="562.4" y1="180.3" x2="562.4" y2="181.70000000000002" stroke="#7a7a7a" stroke-width="0.8"/>
<text x="562.40" y="188.90" font-size="7.5" text-anchor="middle" fill="#222">-10</text>
<line x1="610.3" y1="180.3" x2="610.3" y2="181.70000000000002" stroke="#7a7a7a" stroke-width="0.8"/>
<text x="610.30" y="188.90" font-size="7.5" text-anchor="middle" fill="#222">0</text>
<line x1="658.2" y1="180.3" x2="658.2" y2="181.70000000000002" stroke="#7a7a7a" stroke-width="0.8"/>
<text x="658.20" y="188.90" font-size="7.5" text-anchor="middle" fill="#222">10</text>
<line x1="682.1" y1="180.3" x2="682.1" y2="181.70000000000002" stroke="#7a7a7a" stroke-width="0.8"/>
<text x="611.70" y="197.40" font-size="10" text-anchor="middle" fill="#222">log2FC</text>
<text x="519.50" y="108.30" font-size="10.2" text-anchor="middle" fill="#222" transform="rotate(-90 519.50 108.30)">-log10p-value</text>
<text x="539.60" y="42.70" font-size="10" text-anchor="start" fill="#4a86c6">Down 334</text>
<text x="680.60" y="42.70" font-size="10" text-anchor="end" fill="#f43c3c">Up 1789</text>
<text x="319.90" y="221.90" font-size="15" text-anchor="start" fill="#000" font-weight="bold">D</text>
<text x="421.20" y="228.40" font-size="10" text-anchor="middle" fill="#1a1a1a">Treated vs Control</text>
<path d="M383.0 368.4h0m1.1-4.7h0m1.1 1.8h0m-0 3.4h0m1 1.1h0m.1 2h0m.2-7.8h0m.5 4.9h0m.5 .1h0m.4-7.1h0m-0 9.7h0m.6-1.3h0m.1-2.7h0m-0 2.8h0m.2-4.8h0m-0 4.5h0m-0 0h0m-0 .2h0m.4-.1h0m.7-7.2h0m.5 11h0m.1-12.9h0m-0 .7h0m-0 6.3h0m.3 2h0m.2 0h0m.1 1.5h0m-0 2.2h0m.2-3.7h0m.2-4.6h0m-0 5.8h0m.3-5.4h0m-0 4.2h0m-0 7.6h0m.5-3.7h0m.2 3.7h0m.3-6.7h0m.1-6.3h0m-0 5.5h0m-0 0h0m-0 2.1h0m.1-1.9h0m-0 .6h0m.1-4.3h0m.1 3.3h0m-0 .3h0m.1-.2h0m.2 7.3h0m.1-7.1h0m-0 7h0m.1-7.2h0m.1-3.4h0m-0 1.1h0m.1-1.5h0m-0 5h0m.2 .3h0m.1 5.9h0m.1-3.8h0m.1-3.3h0m.1 6.8h0m.2-8.9h0m-0 5.9h0m.2-10.7h0m-0 5h0m-0 1.6h0m-0 2.5h0m.1 4.9h0m.2-7.4h0m.1-2.2h0m.1 2.3h0m.2-.1h0m-0 3.8h0m.1-12.6h0m-0 5.1h0m-0 3.4h0m-0 8h0m.1-9.6h0m.1 1.9h0m.1 7.2h0m-0 .1h0m.1-12.6h0m-0 12.5h0m.1-6.8h0m-0 1.1h0m.1-1.4h0m-0 .2h0m.1 3.7h0m.2-3.8h0m.1-.3h0m.1 7.3h0m.5-7.1h0m.5-8.8h0m-0 4.1h0m.1 .1h0m.1 4.3h0m-0 .8h0m.1 6.9h0m.2-7.6h0m-0 3.8h0m.2-3.8h0m.1-6.1h0m.1 13.5h0m-0 .2h0m.1-15.4h0m-0 8.1h0m.1 .1h0m.2 3.4h0m.1-10.5h0m-0 6.7h0m-0 .2h0m.1 3.8h0m-0-0h0m.3-0h0m.2-10.3h0m-0 5.1h0m-0 5h0m.1-7.3h0m.1 7.6h0m.4-13h0m-0 12.6h0m.6-1h0m-0 4.7h0m-0 .2h0m.4 .1h0m.1-12.1h0m-0 8.5h0m.4-.1h0m-0 3.3h0m.3 .3h0m.1-3.6h0m-0 .1h0m.3 3.7h0m.4-.5h0m-0 .3h0m.3-3.5h0m.1 3.6h0m.1-3.9h0m.2-11.7h0m-0 .3h0m-0 5.1h0m-0 6.2h0m.1 .4h0m.6 .1h0m.1 3h0m.2 .1h0m.5-3.2h0m.2 3.4h0m.1-0h0m.1-1h0m-0 .8h0m.5-3.3h0m.3 3.3h0m.2-5.5h0m-0 2.7h0m-0 3.4h0m.3-4h0m-0 1.6h0m-0 .4h0m.1 1.3h0m-0 .6h0m.1-9.7h0m-0 9.2h0m-0 .2h0m-0 .3h0m.2-.5h0m-0 .3h0m.1-.2h0m.2-7.1h0m.3 5.4h0m.2-1.7h0m.2-9.8h0m.3 9.5h0m.3 2.6h0m-0 1.2h0m-0 .6h0m.3-12.5h0m-0 8.3h0m.1-9.7h0m.2 13.1h0m.1-9.7h0m-0 4.6h0m-0 1.6h0m-0 3.2h0m.2-15.6h0m-0 10.7h0m.1 4.3h0m.1-5.7h0m-0 7.1h0m-0 .3h0m.1-11.6h0m-0 7.2h0m.1 3.8h0m-0 .2h0m.2-11.3h0m-0 .3h0m-0 6h0m.1-2.3h0m-0 4.2h0m.3-7.1h0m-0 3.5h0m.1-.8h0m-0 4.8h0m.1-8.9h0m-0 4h0m-0 3.3h0m-0 .7h0m.1 .5h0m.1 .5h0m-0 1h0m-0 1.3h0m.1-.3h0m.1-12.3h0m.2 .5h0m-0 5.3h0m.2 4.2h0m.1-9.2h0m-0 11.4h0m-0 .5h0m.1-13.7h0m-0 5.9h0m-0 2.3h0m-0 1.1h0m-0 3.9h0m.1-7h0m-0 4.9h0m.1-2.2h0m-0 4.2h0m-0 .8h0m.1-16.2h0m-0 7.8h0m-0 6h0m-0 1.8h0m.1-9.6h0m-0 6.4h0m-0 .8h0m-0 1.5h0m-0 1.4h0m.1-7h0m-0 3.5h0m.1-7.3h0m-0 4.2h0m.1-5.2h0m-0 6.9h0m-0 4.6h0m.1-8.8h0m-0 1.1h0m-0 8.6h0m.1-17.6h0m-0 12h0m-0 1.1h0m-0 1.2h0m.1-3.9h0m-0 2.2h0m-0 4.6h0m.1-13.2h0m-0 .6h0m-0 .6h0m-0 1.4h0m-0 2.5h0m.1-3.3h0m-0 4.3h0m-0 2.9h0m-0 3.3h0m.1-13.9h0m-0 3.9h0m-0 10.2h0m.1-12.5h0m-0 .5h0m-0 5.5h0m-0 1.8h0m-0 2h0m-0 .4h0m-0 .3h0m-0 2h0m.1-14.9h0m-0 3.9h0m-0 .2h0m-0 10.6h0m-0 .5h0m-0 .8h0m.1-16.6h0m-0 .3h0m-0 .4h0m-0 6.5h0m-0 .6h0m-0 4.7h0m-0 .7h0m-0 1.5h0m.1-13.7h0m-0 12.5h0m-0 1.9h0m.1-5.3h0m-0 5.7h0m.1-11.6h0m-0 2.4h0m-0-0h0m-0 5.6h0m.1-13h0m-0 2h0m-0 7.9h0m-0 1.6h0m-0 1.4h0m-0 .4h0m.1-9.4h0m-0 5.1h0m-0 .7h0m-0 1.8h0m-0 1.4h0m-0 4h0m.1-11.1h0m-0 .3h0m-0 .1h0m-0 3.2h0m-0 1.3h0m-0 .1h0m-0 3.4h0m-0 .3h0m-0 .9h0m-0 1.5h0m.1-16.6h0m-0 2.1h0m-0 .7h0m-0 11.6h0m.1-12.1h0m-0 2h0m-0 .4h0m-0 .1h0m-0 4.3h0m-0 .2h0m-0 .8h0m-0 .1h0m-0 3.8h0m.1-14.2h0m-0 10.5h0m-0 .8h0m-0 2.1h0m-0 2.2h0m.1-11.5h0m-0 7.3h0m-0 3.3h0m-0 2.2h0m.1-12.5h0m-0 .2h0m-0 1.5h0m-0 .2h0m-0 4.3h0m-0 4.3h0m.1-14.4h0m-0 2.6h0m-0 .5h0m-0 8.4h0m-0 .2h0m-0 3h0m-0 .5h0m-0 .9h0m.1-16.7h0m-0 12.1h0m.1-7.5h0m-0 .9h0m-0 3.1h0m.1-8.7h0m-0 1.7h0m-0 1h0m-0 1.8h0m-0 6.6h0m-0-0h0m-0 1.5h0m-0 .2h0m.1-9.9h0m-0 4h0m-0 2.1h0m-0 2.6h0m-0 1.3h0m-0 .8h0m-0 1h0m-0 .6h0m-0 .4h0m.1-11.5h0m-0 .8h0m-0 1.9h0m-0 3.3h0m-0 5h0m.1-12.6h0m-0 7.9h0m-0 .9h0m-0 2.1h0m-0 2.8h0m.1-15.4h0m-0 .2h0m-0 3.5h0m-0 .2h0m-0 1.1h0m-0 .7h0m-0 2.5h0m-0 1.8h0m-0 1.2h0m.1-9.8h0m-0 5h0m-0 1.5h0m-0 2.6h0m-0 4.2h0m-0 1.3h0m.1-14.9h0m-0 .2h0m-0 7.4h0m-0 1.5h0m-0 .6h0m-0 .6h0m-0 2.5h0m-0 .2h0m-0-0h0m-0 .8h0m.1-10.7h0m-0 1.1h0m-0 1.7h0m-0 4.2h0m-0 .8h0m-0 4h0m-0 .3h0m.1-14.6h0m-0 .3h0m-0 1.8h0m-0 2.4h0m-0 5.3h0m-0 3.2h0m.1-15.7h0m-0 7.4h0m-0 1.7h0m-0 2.3h0m-0 .7h0m-0 1.2h0m-0 1.3h0m-0-0h0m-0 1.1h0m-0 .4h0m-0 .6h0m.1-15.4h0m-0 1h0m-0 1.1h0m-0 2.7h0m-0 .6h0m-0 .3h0m-0 1.1h0m-0 2.1h0m-0 2.4h0m-0 1.2h0m.1-11.1h0m-0 9.8h0m-0 .5h0m.1-8.1h0m-0 .1h0m-0 2.1h0m-0 .6h0m-0 2.8h0m-0 1.9h0m-0 1h0m-0 .7h0m.1-12.5h0m-0 .5h0m-0 2.5h0m-0 2.1h0m-0 1.5h0m-0 .6h0m-0 1.6h0m-0 .5h0m-0 .7h0m-0 .4h0m-0 2h0m-0 1.8h0m-0 .3h0m-0 .9h0m.1-16.8h0m-0 2.3h0m-0 .9h0m-0 .3h0m-0 8h0m-0 .2h0m-0 .2h0m-0 .2h0m-0 .3h0m-0 .2h0m-0 .9h0m-0 .5h0m-0 1.9h0m-0 .7h0m-0-0h0m-0-0h0m-0 .2h0m.1-17.1h0m-0 5.5h0m-0 .3h0m-0-0h0m-0 .5h0m-0-0h0m-0 4.2h0m-0 2.2h0m-0 .9h0m-0 2.1h0m.1-12.8h0m-0 .5h0m-0 .2h0m-0-0h0m-0 .1h0m-0 .5h0m-0 2.1h0m-0 .2h0m-0 8h0m-0 .6h0m-0 .5h0m-0 1.6h0m.1-17.1h0m-0 .1h0m-0 .5h0m-0 .6h0m-0 .5h0m-0 2.9h0m-0 1.9h0m-0 1.7h0m-0 1.8h0m-0 2.6h0m-0 1.5h0m-0 3h0m.1-11.5h0m-0 .2h0m-0 2.2h0m-0 2.5h0m-0 .3h0m-0 1.1h0m-0 1.3h0m-0 1.4h0m.1-13.8h0m-0 2.5h0m-0 1.9h0m-0 4.7h0m-0 .5h0m-0 .6h0m-0 .2h0m-0 .2h0m-0 .7h0m-0 .2h0m-0 .8h0m-0 .5h0m-0 1.9h0m-0 1.9h0m.1-15.3h0m-0 .7h0m-0 1.5h0m-0 2.1h0m-0 2.6h0m-0 2.4h0m-0 .8h0m-0 3.4h0m-0 .9h0m-0 .3h0m-0 .6h0m.1-17.6h0m-0-0h0m-0 .8h0m-0 2h0m-0 4.3h0m-0 1h0m-0 .5h0m-0-0h0m-0 .2h0m-0 .4h0m-0 4.7h0m-0-0h0m-0 1.8h0m-0 1.6h0m.1-16.2h0m-0 .9h0m-0 1.7h0m-0 .5h0m-0 2h0m-0 1h0m-0 .3h0m-0-0h0m-0 .3h0m-0 1.7h0m-0 1.1h0m-0 4.1h0m-0 .4h0m.1-14.2h0m-0 1h0m-0 .4h0m-0 .1h0m-0 .5h0m-0 .3h0m-0 1.1h0m-0 .3h0m-0 1.9h0m-0 .5h0m-0 2h0m-0 .3h0m-0 1h0m-0 .2h0m-0 .8h0m-0 .1h0m-0 2.1h0m.1-13h0m-0 .8h0m-0-0h0m-0 .2h0m-0 1.9h0m-0 1.2h0m-0 .4h0m-0 3h0m-0 4.4h0m-0 1.5h0m-0 3.6h0m.1-17.4h0m-0 1.8h0m-0 2h0m-0 .4h0m-0 .6h0m-0 2.6h0m-0 1.1h0m-0 1.3h0m-0 .4h0m-0 2h0m-0 1.3h0m-0 .4h0m-0 2.4h0m-0 .6h0m.1-16.4h0m-0 .5h0m-0 2.4h0m-0 6.7h0m-0 .8h0m-0 4.7h0m.1-15.3h0m-0 1.5h0m-0 .6h0m-0 .4h0m-0-0h0m-0 1.8h0m-0 2.6h0m-0-0h0m-0 3.5h0m-0 .9h0m-0 1.5h0m-0 1.1h0m-0 1.9h0m-0 .8h0m-0 .6h0m.1-16.5h0m-0 2.7h0m-0 3.4h0m-0 1.6h0m-0 1.4h0m-0 .5h0m-0 2.3h0m-0 2.7h0m-0 .7h0m-0 .6h0m.1-16.6h0m-0 1.3h0m-0 .3h0m-0 .2h0m-0 .2h0m-0 1.3h0m-0 1.5h0m-0 .3h0m-0 .2h0m-0 .1h0m-0 1.4h0m-0 .1h0m-0 2.3h0m-0 .3h0m-0 1.9h0m-0-0h0m-0 .9h0m-0 .7h0m-0-0h0m-0 1.7h0m-0 2.1h0m-0 .1h0m.1-16.7h0m-0 1.4h0m-0 2h0m-0 .7h0m-0 .8h0m-0 .4h0m-0-0h0m-0 .1h0m-0 1.3h0m-0 .9h0m-0 4.1h0m-0 1.1h0m-0 .9h0m-0 .5h0m-0 1.2h0m-0 .2h0m.1-15.5h0m-0 .4h0m-0 1.1h0m-0 2.6h0m-0 .7h0m-0 .2h0m-0 1.2h0m-0 1.2h0m-0 1.6h0m-0 2.2h0m-0 1.2h0m-0 .2h0m-0 .4h0m-0 .7h0m-0 1.7h0m-0 .1h0m-0 .5h0m-0 .9h0m-0-0h0m.1-17.4h0m-0 .9h0m-0-0h0m-0 .3h0m-0 .2h0m-0 .2h0m-0 2.7h0m-0 .2h0m-0 1.5h0m-0 .4h0m-0 .2h0m-0 .8h0m-0 1.2h0m-0 2.5h0m-0 2.7h0m-0 .3h0m-0 .4h0m.1-14.4h0m-0 2.3h0m-0 .3h0m-0 5.1h0m-0 2.8h0m-0 3.5h0m-0 .5h0m-0 1.1h0m-0 1.2h0m.1-15.5h0m-0 .4h0m-0 2.3h0m-0 .5h0m-0 1h0m-0 .9h0m-0 .9h0m-0 5h0m-0 .5h0m-0-0h0m-0-0h0m-0 .8h0m-0 .9h0m-0 2.3h0m-0 .5h0m-0-0h0m.1-15.9h0m-0 .3h0m-0 1.2h0m-0 .7h0m-0-0h0m-0 1.3h0m-0-0h0m-0 .5h0m-0 3.4h0m-0 .7h0m-0 2h0m-0 .7h0m-0 .2h0m-0 .8h0m-0 .2h0m-0 1.6h0m-0 1.1h0m-0 .1h0m-0 .6h0m.1-16.9h0m-0 1.5h0m-0 .5h0m-0 1.2h0m-0 1.7h0m-0 .6h0m-0 1h0m-0 2.4h0m-0-0h0m-0 .6h0m-0 1.1h0m-0 2.5h0m-0 .3h0m-0 .3h0m-0 .5h0m-0 .7h0m-0 .3h0m-0 1h0m.1-16.4h0m-0 1.2h0m-0 .4h0m-0 3.2h0m-0 1.5h0m-0 1.5h0m-0 1.1h0m-0 .1h0m-0 1.3h0m-0 1.6h0m-0 1.4h0m-0 1.6h0m-0 .8h0m-0 1h0m.1-16h0m-0 .2h0m-0 1h0m-0 .1h0m-0 3.2h0m-0 .4h0m-0 .8h0m-0 .5h0m-0 .3h0m-0 1.6h0m-0 .3h0m-0 .6h0m-0 2h0m-0 .9h0m-0 .2h0m-0 3.3h0m.1-15.4h0m-0 1.1h0m-0 1.1h0m-0 1.1h0m-0 1.3h0m-0 .1h0m-0 .7h0m-0 .4h0m-0 1.5h0m-0 .1h0m-0 .8h0m-0 2.3h0m-0 2.5h0m-0-0h0m-0 1.1h0m.1-14.7h0m-0 .1h0m-0 .8h0m-0 2.3h0m-0 .4h0m-0 .6h0m-0 .5h0m-0 1.1h0m-0 .3h0m-0 .8h0m-0 .3h0m-0 2.4h0m-0 .6h0m-0 .8h0m-0 1.1h0m-0-0h0m-0 1.6h0m-0 .1h0m-0 .6h0m-0 1.6h0m-0 1.1h0m.1-15.5h0m-0 .4h0m-0 .6h0m-0 .1h0m-0 2h0m-0 1.1h0m-0 .1h0m-0 .7h0m-0 .3h0m-0 2.2h0m-0 1.2h0m-0 3.1h0m-0 1.7h0m-0 1.1h0m-0-0h0m-0 .8h0m.1-16.4h0m-0 .3h0m-0 .4h0m-0 .7h0m-0 1h0m-0 1.3h0m-0 1.2h0m-0 2.2h0m-0 .3h0m-0 .9h0m-0 4.3h0m-0 1.1h0m-0 .6h0m-0 .7h0m-0 .8h0m-0 .3h0m-0 .5h0m.1-14.2h0m-0 .5h0m-0-0h0m-0 .2h0m-0 3.9h0m-0 2.2h0m-0 .2h0m-0 2.1h0m-0 1.4h0m-0 .3h0m-0-0h0m-0 1.4h0m-0 1.8h0m-0 .4h0m.1-15.5h0m-0 7.3h0m-0 2.1h0m-0 .1h0m-0 1.1h0m-0 .3h0m-0 .1h0m-0 .1h0m-0-0h0m-0 .3h0m-0 .9h0m-0 2h0m-0 .2h0m-0 .3h0m.1-15h0m-0 .1h0m-0 .3h0m-0 1.9h0m-0 1.9h0m-0 .7h0m-0 .1h0m-0 .5h0m-0-0h0m-0 1.3h0m-0 .2h0m-0 .6h0m-0 1.3h0m-0 1.4h0m-0 1.2h0m-0 2.2h0m-0 2h0m.1-17.5h0m-0 2h0m-0 .1h0m-0 4h0m-0 1.7h0m-0 .2h0m-0 1.4h0m-0 2.1h0m-0 .4h0m-0 2.8h0m-0 3h0m.1-16.8h0m-0 1.1h0m-0 1h0m-0 1.5h0m-0 .5h0m-0 .8h0m-0 .9h0m-0 .2h0m-0 1.8h0m-0 .3h0m-0 1.9h0m-0 1.8h0m-0 .1h0m-0 .8h0m-0 3.8h0m.1-16.2h0m-0 .2h0m-0 1.6h0m-0 1.9h0m-0 .6h0m-0 .1h0m-0 1h0m-0 .9h0m-0 .8h0m-0 .9h0m-0 .1h0m-0 .2h0m-0 .8h0m-0 .9h0m-0 .8h0m-0 3.6h0m.1-13.9h0m-0 1.2h0m-0 .2h0m-0 .5h0m-0 .3h0m-0 1.6h0m-0 .2h0m-0 .1h0m-0-0h0m-0 1.7h0m-0 .3h0m-0-0h0m-0-0h0m-0 .5h0m-0 2h0m-0 1.2h0m-0-0h0m-0 3.5h0m-0 .7h0m-0 .3h0m.1-14.9h0m-0 .6h0m-0 1.1h0m-0 .6h0m-0 1.2h0m-0 1.2h0m-0 .3h0m-0 1.4h0m-0 1.2h0m-0 .7h0m-0 .5h0m-0 .2h0m-0 1.1h0m-0 .6h0m-0 2.3h0m-0 1.4h0m.1-14.9h0m-0 1.3h0m-0 .2h0m-0 .1h0m-0-0h0m-0 .8h0m-0 .7h0m-0-0h0m-0 1.9h0m-0 .4h0m-0 .9h0m-0 .1h0m-0 1.8h0m-0 1.1h0m-0 .1h0m-0 1.3h0m-0 .6h0m-0 .8h0m-0 5h0m.1-16.7h0m-0 1.1h0m-0 1.5h0m-0 3.9h0m-0 1.1h0m-0 .9h0m-0 2.9h0m-0 .3h0m-0 .1h0m-0 .6h0m-0-0h0m-0 .3h0m-0 .3h0m-0 .5h0m-0 .4h0m-0 .1h0m-0 .8h0m-0 .8h0m-0 .6h0m.1-13.3h0m-0 .3h0m-0 .1h0m-0 .2h0m-0 .6h0m-0 2.1h0m-0 .1h0m-0 2.4h0m-0 .2h0m-0 1.4h0m-0 1.9h0m-0 .4h0m-0 .3h0m-0 .5h0m-0 .1h0m-0 .3h0m-0 .8h0m-0 1.3h0m-0 .1h0m.1-17h0m-0 .8h0m-0 1h0m-0 1.1h0m-0 4h0m-0 1.7h0m-0 3.2h0m-0 1.3h0m-0 .5h0m-0 .6h0m-0 .9h0m-0 1.3h0m.1-15.6h0m-0-0h0m-0 .3h0m-0 .2h0m-0 1.2h0m-0 .8h0m-0 .9h0m-0 .1h0m-0 .5h0m-0 4.5h0m-0 .4h0m-0 1.7h0m-0 .6h0m-0 .1h0m-0 .8h0m-0 3.6h0m-0 .4h0m-0 .3h0m-0 .6h0m.1-17.4h0m-0 .3h0m-0 .8h0m-0 .3h0m-0 .5h0m-0 1.3h0m-0 .6h0m-0 1.6h0m-0 .7h0m-0 .4h0m-0 1h0m-0 1.9h0m-0 .7h0m-0 .4h0m-0 .5h0m-0 .7h0m-0 .9h0m-0 2.2h0m-0 .6h0m.1-15h0m-0 .4h0m-0 .1h0m-0 3h0m-0 1.4h0m-0 .6h0m-0 .4h0m-0 .9h0m-0 .6h0m-0 1.3h0m-0-0h0m-0 .7h0m-0 .5h0m-0 .1h0m-0 .1h0m-0 .6h0m-0-0h0m-0 .1h0m-0 .1h0m-0 1.5h0m-0-0h0m-0 1h0m.1-13.9h0m-0 .8h0m-0 .1h0m-0 2.7h0m-0 .3h0m-0 2.2h0m-0 .5h0m-0 1.2h0m-0 .3h0m-0 .5h0m-0 1.3h0m-0 2.4h0m-0 .2h0m-0 3.5h0m-0 .4h0m-0 .3h0m.1-16.8h0m-0 .4h0m-0 .4h0m-0 .1h0m-0 2.1h0m-0-0h0m-0 7.8h0m-0 .2h0m-0 4.8h0m-0 .5h0m.1-14.5h0m-0-0h0m-0 .1h0m-0-0h0m-0 .1h0m-0 .5h0m-0-0h0m-0 .2h0m-0 1.4h0m-0 .8h0m-0 .2h0m-0 .2h0m-0 .2h0m-0 1h0m-0 1.8h0m-0 .1h0m-0 .3h0m-0 .4h0m-0 .9h0m-0 .3h0m-0 .8h0m-0 .2h0m-0 .3h0m-0 4.2h0m-0 .2h0m-0 .4h0m.1-16.6h0m-0 .3h0m-0 .2h0m-0 .5h0m-0 .3h0m-0 1.1h0m-0 2.9h0m-0-0h0m-0 .1h0m-0 2.1h0m-0 .1h0m-0 .5h0m-0 .2h0m-0 .6h0m-0 .8h0m-0 3.9h0m-0 .1h0m-0 .2h0m-0 2.4h0m-0 1.1h0m-0 .3h0m.1-17.7h0m-0 1.1h0m-0 .2h0m-0 .6h0m-0 .1h0m-0 .1h0m-0 .4h0m-0 .3h0m-0 .2h0m-0 .3h0m-0 .9h0m-0 .5h0m-0 .2h0m-0 1h0m-0 3.9h0m-0 1.1h0m-0 .6h0m-0 3.3h0m-0 1.3h0m-0 .1h0m-0 .1h0m-0 1.1h0m.1-15.7h0m-0 .2h0m-0 1h0m-0 1.1h0m-0 .1h0m-0 .3h0m-0 .5h0m-0-0h0m-0 .1h0m-0 .4h0m-0 1.8h0m-0 .1h0m-0 .2h0m-0-0h0m-0 .6h0m-0 .2h0m-0 .6h0m-0 1h0m-0 .6h0m-0 .3h0m-0 1.1h0m-0 1.2h0m-0 .5h0m-0 .6h0m-0 1h0m.1-14.8h0m-0 .9h0m-0 .8h0m-0 1.7h0m-0 .3h0m-0 .4h0m-0 .3h0m-0 .1h0m-0-0h0m-0 .4h0m-0 .5h0m-0 1h0m-0 2.6h0m-0 .6h0m-0 1.4h0m-0 .8h0m-0 1.1h0m-0 .3h0m-0 1.1h0m-0 1.6h0m-0 .5h0m-0 .9h0m.1-16.9h0m-0 .3h0m-0 1.1h0m-0 2h0m-0 1.4h0m-0 .3h0m-0 1.5h0m-0 2.9h0m-0 .9h0m-0 .3h0m-0 4.2h0m-0 1.7h0m.1-17h0m-0 .6h0m-0 .3h0m-0 .2h0m-0 .3h0m-0 1.4h0m-0 1.1h0m-0 .4h0m-0 .2h0m-0 .7h0m-0 1.6h0m-0 .9h0m-0 .4h0m-0 .2h0m-0 .5h0m-0 .8h0m-0 .4h0m-0 1.8h0m-0 .2h0m-0 .3h0m-0 1.7h0m-0 .5h0m.1-9.9h0m-0 .4h0m-0 .2h0m-0 .3h0m-0 2.3h0m-0 .2h0m-0 .5h0m-0 .2h0m-0 .4h0m-0 .8h0m-0 1.4h0m-0 .3h0m-0 .3h0m-0 1h0m-0-0h0m-0 1.8h0m-0 .1h0m-0 2h0m.1-16.7h0m-0 .4h0m-0 .2h0m-0-0h0m-0 .5h0m-0 .4h0m-0 1h0m-0 .7h0m-0 .1h0m-0 .5h0m-0 .2h0m-0 .1h0m-0 .4h0m-0 .4h0m-0 .1h0m-0 1h0m-0 .1h0m-0 .3h0m-0-0h0m-0 .4h0m-0 .4h0m-0 1.3h0m-0 .6h0m-0 .3h0m-0-0h0m-0 1.1h0m-0 1.5h0m-0 .8h0m-0 1.2h0m-0 .7h0m-0 1.2h0m-0 .1h0m-0 1.1h0m.1-17.4h0m-0 .1h0m-0 2.5h0m-0 1.8h0m-0 .4h0m-0 .2h0m-0 4.3h0m-0 .4h0m-0 1.4h0m-0 1h0m-0 1h0m-0 .3h0m-0 .8h0m-0 2.4h0m-0 .1h0m.1-15.4h0m-0 .6h0m-0 .8h0m-0 .4h0m-0 .4h0m-0 .1h0m-0 .2h0m-0 .8h0m-0 .2h0m-0 1.7h0m-0 .2h0m-0 1.3h0m-0-0h0m-0-0h0m-0 1.7h0m-0 .4h0m-0 3.1h0m-0 .9h0m-0 .4h0m-0 2.2h0m.1-15.5h0m-0 .2h0m-0 .7h0m-0 .8h0m-0 2.8h0m-0 1.3h0m-0 .5h0m-0 .4h0m-0 .8h0m-0 2.7h0m-0 .7h0m-0 .3h0m-0 .1h0m-0 .1h0m-0 .6h0m-0 1.4h0m-0 1h0m-0 1.2h0m-0-0h0m-0 .4h0m.1-16.8h0m-0 .7h0m-0 .2h0m-0 .2h0m-0 .2h0m-0 .4h0m-0 .9h0m-0 1.7h0m-0 .8h0m-0 .4h0m-0 .2h0m-0 .6h0m-0-0h0m-0-0h0m-0 .1h0m-0 1.3h0m-0 .2h0m-0 1.2h0m-0 1.6h0m-0 .4h0m-0 .8h0m-0 1.7h0m-0 .6h0m-0 .7h0m.1-13.7h0m-0 .2h0m-0 .8h0m-0 .2h0m-0 1.2h0m-0 1.9h0m-0 .3h0m-0 .3h0m-0-0h0m-0 3h0m-0 .3h0m-0 .3h0m-0 1.7h0m-0 2.3h0m-0 2h0m-0 .9h0m.1-16.6h0m-0 .4h0m-0 .5h0m-0 2.8h0m-0 .1h0m-0 .5h0m-0 1.3h0m-0 .2h0m-0 .5h0m-0 .1h0m-0 1.1h0m-0 .3h0m-0 1h0m-0 1h0m-0 .2h0m-0 1.1h0m-0 .5h0m-0 .1h0m-0 .5h0m-0 .4h0m-0 .7h0m-0 .4h0m-0 2.6h0m-0-0h0m.1-15.6h0m-0 1h0m-0 1.3h0m-0 .8h0m-0 .1h0m-0-0h0m-0 .1h0m-0 3.1h0m-0 .7h0m-0 .7h0m-0 1.6h0m-0 .8h0m-0 .5h0m-0-0h0m-0 .4h0m-0 .7h0m-0 1h0m-0 .7h0m-0-0h0m-0 .2h0m-0 .5h0m-0 1.6h0m-0 .4h0m.1-16.2h0m-0 .6h0m-0-0h0m-0 .4h0m-0 .4h0m-0 1.2h0m-0 .2h0m-0 .9h0m-0 .3h0m-0 .3h0m-0 1.5h0m-0 .7h0m-0 .8h0m-0 .3h0m-0 .5h0m-0 .8h0m-0 .4h0m-0-0h0m-0 .1h0m-0 .4h0m-0 1.9h0m-0-0h0m-0 .7h0m-0 .9h0m-0 .2h0m-0 .9h0m-0 .5h0m.1-15.5h0m-0 .1h0m-0 1.5h0m-0 .9h0m-0 .7h0m-0 .8h0m-0 1.1h0m-0 .1h0m-0 .2h0m-0 .5h0m-0 .2h0m-0 3h0m-0 .2h0m-0 1.3h0m-0 .2h0m-0 .2h0m-0 1.2h0m-0 .4h0m-0 .3h0m-0 .5h0m-0 .4h0m-0 1.2h0m.1-14.9h0m-0 2.1h0m-0 2.4h0m-0 .7h0m-0 .1h0m-0 .6h0m-0 1.1h0m-0 1.6h0m-0 .9h0m-0 1.1h0m-0-0h0m-0 1.3h0m-0 .7h0m-0 .5h0m-0 .3h0m.1-13.9h0m-0 .2h0m-0 .1h0m-0 .4h0m-0 1.1h0m-0 .7h0m-0 .9h0m-0 2.4h0m-0 .6h0m-0 .3h0m-0 1.2h0m-0 .3h0m-0 .2h0m-0 1.5h0m-0 1.2h0m-0 .6h0m-0 .2h0m-0 .6h0m-0 .9h0m-0 .5h0m-0 1.4h0m-0 .3h0m.1-14.3h0m-0 .4h0m-0 1.1h0m-0 .9h0m-0 .4h0m-0 .5h0m-0-0h0m-0 1.4h0m-0 .6h0m-0 .1h0m-0 .4h0m-0 2.4h0m-0 3.5h0m-0 .6h0m-0 .4h0m-0-0h0m-0 .4h0m-0 .2h0m-0 .7h0m.1-15.1h0m-0 .9h0m-0 .2h0m-0 .7h0m-0 1.6h0m-0 .8h0m-0 .7h0m-0 .1h0m-0 1.1h0m-0 .3h0m-0 .3h0m-0 2h0m-0 1h0m-0 .7h0m-0 .6h0m-0 .3h0m-0 .1h0m-0 3h0m-0 .3h0m-0 .6h0m-0 .4h0m-0 1.5h0m-0 .1h0m.1-17.4h0m-0 .9h0m-0 2.1h0m-0 .2h0m-0 .9h0m-0 .3h0m-0 .7h0m-0-0h0m-0 .1h0m-0 1.6h0m-0-0h0m-0 2.8h0m-0 .2h0m-0 .2h0m-0 .5h0m-0 .1h0m-0 1.1h0m-0 1.1h0m-0 .7h0m-0 2.5h0m.1-15.8h0m-0 .1h0m-0 1.1h0m-0 .8h0m-0 1h0m-0 .8h0m-0 1.2h0m-0 2.2h0m-0 1.4h0m-0 1.8h0m-0 .1h0m-0 .6h0m-0 .2h0m-0-0h0m-0 .5h0m-0 .6h0m-0 .8h0m-0 1.3h0m-0-0h0m-0 1.4h0m-0 .1h0m-0 .5h0m-0 .3h0m-0 .3h0m.1-17.4h0m-0 .4h0m-0 .9h0m-0 1.2h0m-0 .1h0m-0 3.7h0m-0-0h0m-0 .1h0m-0 2.9h0m-0-0h0m-0 .1h0m-0 1.1h0m-0 .7h0m-0 .4h0m-0 .7h0m-0 3.2h0m.1-15.4h0m-0 .5h0m-0 .5h0m-0 .1h0m-0 1.7h0m-0 1.4h0m-0 4h0m-0 1h0m-0 1.2h0m-0 .8h0m-0-0h0m-0 .6h0m-0 .3h0m-0 .9h0m-0 1.4h0m-0 .3h0m-0 .2h0m-0 .5h0m-0 .2h0m-0 .6h0m-0 .4h0m-0 .6h0m.1-17.2h0m-0 .2h0m-0 .5h0m-0 2.5h0m-0 .8h0m-0 1.2h0m-0 1.1h0m-0 3.1h0m-0 1.9h0m-0-0h0m-0 .2h0m-0-0h0m-0 .3h0m-0 .6h0m-0 .9h0m-0 .1h0m-0 1h0m-0 1.9h0m-0 .7h0m-0 .1h0m.1-17.4h0m-0 .5h0m-0 .1h0m-0 .2h0m-0 .9h0m-0 1h0m-0 .2h0m-0 .2h0m-0 .5h0m-0 1.3h0m-0 .2h0m-0 1h0m-0 1h0m-0 1.1h0m-0 1h0m-0 .9h0m-0 1.3h0m-0 .2h0m-0 .6h0m-0 .3h0m-0 .7h0m-0 .2h0m-0 .1h0m-0 .7h0m-0 1.7h0m-0 .5h0m-0 1.3h0m.1-17.7h0m-0 .1h0m-0 .1h0m-0 .8h0m-0 .9h0m-0 .4h0m-0 .4h0m-0 1.6h0m-0 3.6h0m-0 .1h0m-0 .3h0m-0 1h0m-0 .3h0m-0 .1h0m-0 .2h0m-0 .2h0m-0 2.6h0m-0 1.3h0m-0 .3h0m-0 1h0m-0 .9h0m-0 .5h0m.1-16.6h0m-0 .4h0m-0 2.6h0m-0-0h0m-0 1.4h0m-0 .2h0m-0 1.8h0m-0 4.4h0m-0 .2h0m-0-0h0m-0 .5h0m-0 .3h0m-0 1h0m-0 2h0m-0 .7h0m.1-15.6h0m-0 .1h0m-0-0h0m-0 1.4h0m-0 .1h0m-0 .2h0m-0-0h0m-0 .1h0m-0 1.1h0m-0 3.6h0m-0 .9h0m-0 .6h0m-0 1.8h0m-0 .5h0m-0 1.6h0m-0 .2h0m-0 1.9h0m-0 .6h0m-0 2.1h0m-0 .8h0m.1-16.8h0m-0 1.1h0m-0 .2h0m-0 .2h0m-0 .4h0m-0 .1h0m-0 .2h0m-0 .8h0m-0 .4h0m-0 .2h0m-0 1.3h0m-0 .2h0m-0 1h0m-0 .5h0m-0 1.9h0m-0 .8h0m-0 2.3h0m-0 2h0m-0 .3h0m-0 1.5h0m-0 .2h0m.1-16.4h0m-0 1.3h0m-0 3.4h0m-0 1.3h0m-0 1h0m-0 .4h0m-0 4.8h0m-0 .3h0m-0 1.3h0m-0 .8h0m-0 .7h0m-0 .6h0m-0 1.5h0m.1-17.2h0m-0 2.4h0m-0 .5h0m-0 .5h0m-0 .9h0m-0 1.3h0m-0 .5h0m-0 .3h0m-0 .1h0m-0 .1h0m-0 .1h0m-0 1.4h0m-0 1h0m-0 2.5h0m-0 1.1h0m-0 1.8h0m-0 .4h0m-0 .4h0m-0 .5h0m-0 1.1h0m.1-17.1h0m-0 .3h0m-0 .4h0m-0 .8h0m-0 .7h0m-0 .8h0m-0 .1h0m-0 .3h0m-0 .5h0m-0 .5h0m-0 .6h0m-0 1.9h0m-0 .2h0m-0 2.3h0m-0 2.9h0m-0 .1h0m-0-0h0m-0 2.9h0m-0 .3h0m-0 .1h0m-0 1.5h0m.1-16h0m-0 .4h0m-0 2.1h0m-0 2.7h0m-0 .2h0m-0 .5h0m-0 .3h0m-0 3.4h0m-0 .3h0m-0 1.3h0m-0 .4h0m-0 2.1h0m-0 .1h0m-0 2.4h0m.1-16.6h0m-0 1h0m-0 .6h0m-0-0h0m-0 .8h0m-0 .2h0m-0 .8h0m-0 1.6h0m-0 .9h0m-0 1.4h0m-0 2h0m-0 1h0m-0 .1h0m-0 .1h0m-0 .3h0m-0 3h0m-0 .2h0m-0 .2h0m-0 .5h0m-0 .4h0m-0 .9h0m-0 .6h0m.1-17.5h0m-0 2.5h0m-0 2.1h0m-0 .4h0m-0 1.2h0m-0 .3h0m-0 3.1h0m-0 .4h0m-0 .9h0m-0 1.3h0m-0 1.1h0m-0 4h0m.1-17.3h0m-0 .3h0m-0 .6h0m-0-0h0m-0 .1h0m-0 .4h0m-0 .5h0m-0 1.1h0m-0 .3h0m-0 2.6h0m-0 .8h0m-0 1.4h0m-0 .7h0m-0 2.2h0m-0-0h0m-0 .6h0m-0 .6h0m-0 2.5h0m.1-14.5h0m-0 2.8h0m-0 1.1h0m-0 .6h0m-0 .7h0m-0 1.7h0m-0 .3h0m-0 4.1h0m-0 2.5h0m-0 2.7h0m-0-0h0m.1-16.6h0m-0 1.3h0m-0 1.5h0m-0-0h0m-0 .8h0m-0 .5h0m-0 .2h0m-0 .4h0m-0 1.9h0m-0 .6h0m-0 .1h0m-0 .4h0m-0 .8h0m-0 .2h0m-0 .2h0m-0-0h0m-0 .3h0m-0 .1h0m-0 .1h0m-0 .4h0m-0 4.2h0m-0 2.4h0m.1-14.9h0m-0 .8h0m-0 .3h0m-0-0h0m-0 .6h0m-0 .7h0m-0 .5h0m-0 1h0m-0 1.7h0m-0 1.8h0m-0-0h0m-0 1.1h0m-0 2h0m-0 .3h0m-0 1h0m-0 2h0m-0 .8h0m.1-16h0m-0 .5h0m-0-0h0m-0 .3h0m-0 .1h0m-0-0h0m-0 1h0m-0 1h0m-0 2h0m-0 1.1h0m-0 1.3h0m-0 .3h0m-0 .6h0m-0 .4h0m-0 1.4h0m-0 .6h0m-0 .4h0m-0 .6h0m-0 2h0m-0 .5h0m-0 .8h0m-0 .5h0m-0 1.7h0m.1-16.2h0m-0 .1h0m-0 .2h0m-0 1.5h0m-0 2.2h0m-0 .2h0m-0 2.6h0m-0 2h0m-0 1.8h0m-0 2.8h0m-0 .7h0m-0 .3h0m-0 1h0m.1-16.3h0m-0 3.4h0m-0 .5h0m-0 1.4h0m-0 1h0m-0 2.6h0m-0 2.1h0m-0 5.1h0m-0 .7h0m-0 .1h0m-0 .1h0m-0 .5h0m.1-14.4h0m-0 .1h0m-0 1.3h0m-0 1.9h0m-0 1.5h0m-0 3.1h0m-0 4.9h0m-0 1h0m.1-17.1h0m-0 1.1h0m-0 .4h0m-0 .9h0m-0 4.1h0m-0 2.8h0m-0 .3h0m-0 .6h0m-0 1h0m-0 .4h0m-0 .7h0m-0 1.4h0m.1-13.3h0m-0 .8h0m-0 .3h0m-0 .1h0m-0 .6h0m-0 .4h0m-0 2.1h0m-0 2.8h0m-0 2.4h0m-0 .7h0m-0 1.8h0m-0 .3h0m-0 .6h0m-0 1.9h0m-0 .8h0m-0 .1h0m.1-15.9h0m-0 .6h0m-0 .6h0m-0 2.4h0m-0 2.6h0m-0 .2h0m-0 2.1h0m-0 1.5h0m-0 .4h0m-0 .1h0m-0 1h0m-0 1h0m-0 1.5h0m-0 1.7h0m-0 .2h0m-0 1h0m.1-15.1h0m-0 .6h0m-0 .4h0m-0 .6h0m-0 .8h0m-0 1.7h0m-0 2h0m-0 .5h0m-0-0h0m-0 .3h0m-0 1h0m-0 2.3h0m-0 1.3h0m-0 .3h0m-0 1.5h0m-0 .7h0m.1-14.5h0m-0 2.1h0m-0 .4h0m-0 .1h0m-0 .5h0m-0 .1h0m-0 1.2h0m-0 1.2h0m-0 .9h0m-0 1.8h0m-0 .3h0m-0 1.1h0m-0 .2h0m-0 .8h0m-0 .2h0m-0 1.1h0m-0 .6h0m-0 1h0m-0 .6h0m-0 1.2h0m-0 .4h0m-0 .5h0m.1-15.7h0m-0 3.5h0m-0 .3h0m-0 .2h0m-0 .2h0m-0 3.7h0m-0 2.5h0m-0 .6h0m-0 4.1h0m.1-16.7h0m-0 .4h0m-0 2.7h0m-0-0h0m-0 .2h0m-0 .4h0m-0 .6h0m-0 1.1h0m-0 .5h0m-0 1.2h0m-0 7h0m-0 2.8h0m.1-17.1h0m-0 .9h0m-0 4.6h0m-0 1.2h0m-0 .5h0m-0 .5h0m-0 2.7h0m-0 2.6h0m-0 1.1h0m-0 1.5h0m-0 .6h0m-0 .3h0m.1-16.3h0m-0 .3h0m-0 2.3h0m-0 1.2h0m-0 .1h0m-0 .1h0m-0 1h0m-0 1.9h0m-0 .6h0m-0 2.2h0m-0 .9h0m-0 2.5h0m-0-0h0m-0 .1h0m-0 .4h0m-0-0h0m-0 .6h0m-0 .5h0m-0 .5h0m-0 .4h0m-0 .2h0m-0-0h0m-0 .1h0m-0 .9h0m.1-16.6h0m-0 .7h0m-0 6.2h0m-0 2.8h0m-0 1.9h0m-0 1.6h0m-0 .5h0m-0 .4h0m-0 .8h0m.1-13h0m-0 .6h0m-0 .6h0m-0 .4h0m-0 1h0m-0 .1h0m-0-0h0m-0 1.3h0m-0 1.2h0m-0 .8h0m-0 .9h0m-0 1.6h0m-0 .8h0m-0 1.1h0m-0 .5h0m-0 .7h0m.1-12.4h0m-0 5.3h0m-0 1.3h0m-0 1.9h0m-0 .1h0m-0 2.1h0m-0 .1h0m-0 .2h0m-0 .6h0m-0 3.1h0m-0 1.1h0m.1-16.4h0m-0 .9h0m-0 .2h0m-0 3.5h0m-0 7.8h0m-0 1.1h0m-0 1h0m-0 1.4h0m-0 .5h0m.1-17.6h0m-0 .7h0m-0 1.2h0m-0 .8h0m-0 1.3h0m-0 .4h0m-0 1.2h0m-0 .1h0m-0 .7h0m-0 4.1h0m-0 1.7h0m.1-11h0m-0 1h0m-0 .1h0m-0 .5h0m-0 1.4h0m-0 2h0m-0 .6h0m-0 .7h0m-0 .3h0m-0 .4h0m-0 5.2h0m-0 .6h0m-0 .2h0m-0 1h0m-0 1.7h0m-0 .3h0m-0 .1h0m-0 .1h0m.1-15.3h0m-0 1h0m-0 .4h0m-0 .8h0m-0 3.4h0m-0-0h0m-0 .3h0m-0 1.3h0m-0 1.2h0m-0 .7h0m-0 1.6h0m-0 .2h0m-0 .5h0m-0 1.1h0m-0 .4h0m-0 .8h0m-0 1.3h0m.1-17h0m-0 2.6h0m-0 1.3h0m-0 3.1h0m-0 .2h0m-0 2h0m-0 2.8h0m-0-0h0m-0 .1h0m-0 1.1h0m-0 .1h0m-0 .2h0m-0 1.7h0m-0 .2h0m-0 1.2h0m-0 .6h0m-0-0h0m-0 .4h0m.1-16.7h0m-0 6.3h0m-0 1h0m-0 .8h0m-0 2h0m-0 6.2h0m.1-16.6h0m-0 .2h0m-0 .4h0m-0 .6h0m-0 2.4h0m-0 .2h0m-0 .4h0m-0 1.6h0m-0 1.4h0m-0 1.3h0m-0 .2h0m-0 .6h0m-0 .8h0m-0 2.2h0m-0 .1h0m-0 .2h0m-0 3.5h0m.1-16.4h0m-0 1.1h0m-0 .2h0m-0 .4h0m-0 .3h0m-0 7.8h0m-0 .5h0m-0 .4h0m-0 1h0m-0 1.1h0m-0 .9h0m-0 .3h0m-0 1.4h0m.1-15.3h0m-0 .9h0m-0 1.5h0m-0 3.9h0m-0 .5h0m-0 .9h0m-0 3.3h0m-0 3.4h0m-0 2h0m-0 .1h0m-0 .5h0m.1-17.3h0m-0 .4h0m-0 .3h0m-0 .1h0m-0 .4h0m-0-0h0m-0 1.8h0m-0 1.4h0m-0 .7h0m-0 .3h0m-0 .7h0m-0 .1h0m-0 .1h0m-0 5.7h0m-0 .4h0m-0 .8h0m-0 .3h0m-0 1.1h0m-0-0h0m-0 1h0m.1-15.5h0m-0 .5h0m-0-0h0m-0 7h0m-0 1h0m-0 6.8h0m-0 .4h0m-0 .8h0m.1-16.6h0m-0 .3h0m-0-0h0m-0 .8h0m-0 .5h0m-0 1.7h0m-0-0h0m-0 .2h0m-0 1.9h0m-0 .9h0m-0 1h0m-0 .5h0m-0 2.8h0m-0 2.8h0m-0 .1h0m-0 .9h0m-0 .6h0m-0 .7h0m-0-0h0m-0 1.2h0m.1-11.7h0m-0 .3h0m-0 1.3h0m-0 1.8h0m-0 3.3h0m-0 4.3h0m.1-13.6h0m-0 2h0m-0 2.3h0m-0 .2h0m-0 1.3h0m-0 .2h0m-0 .6h0m-0 1h0m-0 .6h0m-0 .3h0m-0 2h0m-0 1.5h0m-0 1h0m-0 .2h0m-0 .8h0m.1-10.3h0m-0 .5h0m-0 2.6h0m-0 1.3h0m-0 .4h0m-0 1.1h0m-0 .7h0m-0 1.8h0m-0 1.9h0m-0 .5h0m.1-15.9h0m-0 .3h0m-0 .6h0m-0 1.6h0m-0 5h0m-0-0h0m-0 1.1h0m-0 .9h0m-0 3.1h0m-0 2.8h0m-0 .6h0m.1-17.3h0m-0 .6h0m-0 1.2h0m-0 1.4h0m-0 .4h0m-0 3.8h0m-0 1h0m-0 1.2h0m-0 .3h0m-0 1h0m-0 .5h0m.1-10.2h0m-0 2.2h0m-0 1.6h0m-0 3.1h0m-0 2.8h0m-0 1.6h0m-0 .2h0m-0 3.3h0m-0 1.7h0m.1-16.3h0m-0 .9h0m-0 3h0m-0 5.9h0m-0 .3h0m-0 .1h0m-0 1.3h0m-0 2.8h0m-0 .1h0m-0 .5h0m.1-16.3h0m-0 .7h0m-0 .8h0m-0 .2h0m-0 .6h0m-0 1.7h0m-0 .8h0m-0 .1h0m-0 3h0m-0 .4h0m-0 .6h0m-0 .4h0m-0 3.3h0m-0 .3h0m-0 .5h0m-0 .7h0m-0 .7h0m-0 2.2h0m.1-13.8h0m-0 1.2h0m-0 .1h0m-0 1.2h0m-0 .1h0m-0 1.7h0m-0 3.1h0m-0 .7h0m-0 .7h0m-0 2h0m.1-12.5h0m-0 3.3h0m-0 2.3h0m-0 1.4h0m-0 2.3h0m-0 .9h0m-0 .8h0m-0-0h0m-0 3.6h0m-0 .2h0m-0 .1h0m-0 .6h0m.1-15.1h0m-0 .1h0m-0 2h0m-0 6.2h0m-0 .9h0m-0 .4h0m-0 1.6h0m-0 2.1h0m-0 .1h0m-0 .7h0m-0 .1h0m-0 .5h0m.1-15.7h0m-0 1h0m-0 3.3h0m-0 1.8h0m-0 1.1h0m-0 2.4h0m-0 1.3h0m.1-11.5h0m-0 .9h0m-0 1.9h0m-0 1h0m-0 1h0m-0 1.1h0m-0 2.4h0m-0 2.2h0m-0-0h0m-0 1.7h0m-0 .6h0m-0 1.1h0m-0 1.8h0m.1-15.2h0m-0 .7h0m-0 .6h0m-0 .2h0m-0 .8h0m-0 2.3h0m-0 2.8h0m-0 7.2h0m-0 .9h0m.1-16.1h0m-0 .7h0m-0 .8h0m-0 1h0m-0 6.5h0m-0 2.3h0m-0 4.3h0m.1-15.9h0m-0 .8h0m-0 2.5h0m-0 1.5h0m-0 1.3h0m-0 .2h0m-0 4.9h0m-0 2.3h0m-0 1.7h0m-0 2.5h0m.1-17.1h0m-0 3.2h0m-0 .3h0m-0 3.2h0m-0 2.7h0m-0 1.6h0m-0 .1h0m-0 2.6h0m-0 .5h0m-0 .7h0m-0 1.5h0m.1-12h0m-0 3h0m-0 1.5h0m-0 1.3h0m-0 3h0m.1-13h0m-0 3.6h0m-0 .2h0m-0 4.2h0m-0-0h0m-0 .1h0m-0 1.5h0m-0 .7h0m-0 .8h0m-0 4.6h0m.1-12.7h0m-0 5.6h0m-0 2.8h0m-0 1.3h0m-0 .1h0m.1-13.3h0m-0 1h0m-0 5h0m-0 .5h0m-0 9.1h0m-0 1.1h0m.1-12h0m-0 3.1h0m-0 .1h0m-0 4.4h0m-0 4.4h0m-0 .1h0m-0 .2h0m-0 .1h0m.1-14.3h0m-0 6.5h0m-0 1.4h0m-0 .2h0m-0 1h0m-0 1.2h0m-0 1.7h0m-0 1.3h0m.1-14.9h0m-0 .8h0m-0 3.9h0m-0 .3h0m-0 1.4h0m-0 5.1h0m-0 1.7h0m-0 1.2h0m.1-12.5h0m-0 .5h0m-0 6.7h0m-0 1.3h0m-0 3.2h0m.1-12.9h0m-0 8h0m-0 .5h0m-0 1.1h0m-0 4.1h0m.1-12h0m-0 4.3h0m-0 .2h0m-0 4.1h0m-0 .9h0m-0 .2h0m-0 2.9h0m.1-9.7h0m-0 6.1h0m-0 1.3h0m-0 1.3h0m-0 .1h0m-0 .3h0m.1-15.9h0m-0 6.2h0m-0 1.6h0m-0 2.4h0m-0 3.2h0m-0-0h0m.1-10.5h0m-0 .2h0m-0 9.5h0m-0 4.8h0m.1-7.4h0m-0 4h0m-0 2.6h0m-0 .3h0m.1-.1h0m.1-12.5h0m-0 .2h0m-0 1.7h0m-0 2.6h0m-0 8.2h0m-0 .1h0m.1-11.1h0m-0 .4h0m-0 6.5h0m-0 2.1h0m-0 .2h0m-0 .1h0m.1-9.3h0m-0 6.1h0m.1-11.2h0m-0 3.3h0m-0 9h0m.1-10.9h0m-0 2.1h0m-0 5.3h0m-0 1.5h0m-0 2.4h0m-0 1.8h0m-0 .3h0m.1-15h0m-0 1.9h0m-0 9.2h0m-0 1.3h0m-0 .1h0m.1-6.5h0m.1-4.1h0m-0 2.6h0m-0 2.2h0m-0 5.1h0m-0 1.2h0m-0 3.2h0m.1-9.5h0m-0 .8h0m.1-0h0m-0 .6h0m-0 .9h0m.1-6.8h0m-0 1.8h0m-0 1h0m-0 .7h0m-0 3.1h0m-0 3.5h0m-0 1.7h0m-0 2.4h0m.1-16.9h0m-0 4.5h0m-0 2.6h0m-0 2h0m-0 1.7h0m.1-8.5h0m-0 2.1h0m-0 4.6h0m-0 5h0m.1-3.2h0m-0 .7h0m.1-11.4h0m-0 1.3h0m-0 2.1h0m-0 3.9h0m-0 6h0m-0 .4h0m-0 .7h0m-0 1.3h0m.1-8.6h0m-0 6.2h0m-0 2.3h0m.1-15.1h0m-0 15.8h0m.1-3.2h0m-0 2h0m.2-8.2h0m-0 5h0m-0 2.1h0m-0 .1h0m.1-5.2h0m-0 .4h0m-0 4.7h0m.1 2.3h0m.1-14.2h0m-0 6.6h0m-0 1.4h0m-0 3.4h0m-0 2.7h0m-0 .5h0m-0 .6h0m-0 .1h0m.1-16.6h0m-0 8.8h0m-0 .3h0m-0 1.5h0m-0 5.7h0m.1-2h0m.3-2.1h0m-0 .5h0m.1-9.9h0m-0 6.9h0m-0 5.3h0m-0 .9h0m.1-0h0m-0 .6h0m.2-1.4h0m.1-10.1h0m-0 10.9h0m.1-4.1h0m-0 3.5h0m.1-3.5h0m.1-3.9h0m-0 3.6h0m-0 1h0m.1-8.4h0m-0 4.4h0m.1 .5h0m.2-8.4h0m-0 .6h0m.2 4.5h0m-0 3.7h0m.2-7.7h0m-0 14.1h0m.1-12.5h0m-0 2.7h0m-0 1.1h0m.1 .9h0m-0 .6h0m-0 5.9h0m.1-.3h0m.1-1.8h0m-0 3h0m.1-2.9h0m.1-4.6h0m-0 .7h0m-0 3.6h0m-0-0h0m.1 4h0m-0 .1h0m.1-9.3h0m.1-4.3h0m.1 6h0m.4-4.8h0m.2 4h0m.1 5.4h0m.1-2.7h0m-0 .3h0m.2 4.9h0m.1-.3h0m-0 1h0m.2-7.7h0m.1 5.1h0m.3-5.4h0m.2 7.4h0m.2-7.1h0m.2-0h0m.4 7.2h0m.2-6.8h0m-0 3.5h0m.1 .7h0m.2 2.4h0m.1-16.4h0m-0 16.8h0m.1-14.9h0m.1 14.9h0m.1-7.3h0m-0 3.7h0m.1-4h0m.3 3.9h0m.1-5.5h0m-0 7.2h0m.1-5.4h0m-0 3.6h0m.1 .2h0m.1-9.2h0m.7 9.1h0m.1-.2h0m.1-3.8h0m.1-0h0m.2 3.7h0m.1-4.2h0m-0 .9h0m-0 1.1h0m.2 5.8h0m.1-7h0m.2 1.4h0m.1-1.8h0m.2 7.5h0m.1-7h0m-0 3.4h0m.1-0h0m-0 .1h0m.1 3.5h0m.2 .3h0m.1-7.6h0m.2-0h0m.1 .1h0m.1 3.7h0m.2-3.7h0m.3-.7h0m.3-5.6h0m-0 8.2h0m.3 1.9h0m.1-3.8h0m.1 .2h0m-0 3.6h0m.4-5.7h0m.1 .2h0m-0 1.7h0m.1 2.2h0m.2-10.6h0m-0 8.6h0m.2 .1h0m.1 7h0m.1-3.4h0m-0 3.2h0m-0 .4h0m.1-3.7h0m.1-10.7h0m.1 10.8h0m.2 .1h0m.2-3.8h0m-0 1.7h0m-0 1.6h0m.1-10.5h0m.2 14.5h0m.4-11.5h0m.1 2.8h0m.1 .9h0m.1 .1h0m.2 4.1h0m.1-6.1h0m.2 2.1h0m-0 7.6h0m.1-7.3h0m-0 3.5h0m.1-9.5h0m-0 5.8h0m.1-.4h0m-0 4.4h0m.3-4.7h0m.1-4.9h0m.1 7.4h0m.1-9.5h0m.1 7.4h0m-0 3.8h0m-0 3.6h0m.1-0h0m-0 .1h0m.1-7.1h0m-0 7.2h0m.2-7.5h0m.1 .1h0m-0 3.8h0m.1-.1h0m-0 .2h0m-0 3.3h0m.2-12.4h0m.4 2.7h0m.3-.6h0m-0 .3h0m-0 6.4h0m.2 3.5h0m.1-3.3h0m.1-9.3h0m-0 12.9h0m.3-3.8h0m.1-10.1h0m-0 13.9h0m.2-7.3h0m-0 .1h0m.1-9.3h0m-0 1.8h0m.3 8h0m.1-7.6h0m.1 6.8h0m-0 7.6h0m.3-3.6h0m.2-3.9h0m-0 7.4h0m.1-3.5h0m.1-1.8h0m.1 5.3h0m.2-13.1h0m.2 12.8h0m-0 .1h0m.1-12.6h0m.1 1.2h0m-0 4h0m.1-4.5h0m.1-2.3h0m.5-1.1h0m.2 8.9h0m.1-8.9h0m-0 11.9h0m.2-12.8h0m.2 9.4h0m-0 .2h0m.1-.4h0m.2-3.8h0m.1 3.6h0m.4 .8h0m.4-6h0m.1 2.6h0m.1-2.4h0m.2-1.9h0m.2 1.4h0m.7-.1h0m.1 2.7h0m.2-6h0m2.4 9.7h0" stroke="#cfd7df" stroke-width="1.4" stroke-linecap="round" fill="none"/>
<line x1="351.1" y1="360.4" x2="494.7" y2="360.4" stroke="#c4c4c4" stroke-width="0.6" stroke-dasharray="1.5,1.5"/>
<line x1="420.5" y1="233.0" x2="420.5" y2="385.4" stroke="#c4c4c4" stroke-width="0.6" stroke-dasharray="1.5,1.5"/>
<line x1="425.6" y1="233.0" x2="425.6" y2="385.4" stroke="#c4c4c4" stroke-width="0.6" stroke-dasharray="1.5,1.5"/>
<path d="M363.8 302.4h0m9 19.4h0m1.8 0h0m.8 38.3h0m.3-.1h0m.1-2.4h0m1.6 .7h0m2.9-3.8h0m.3 1.8h0m1.3-23.5h0m-0 24.1h0m.5 2.5h0m.4-5.5h0m.8-.4h0m.9-12h0m-0 17.9h0m-0 .4h0m.4-26.7h0m.1 26.3h0m.4-1.1h0m.1-40.7h0m1.2 38.7h0m.4-11.9h0m.5 15.5h0m.3-5.2h0m.4 .4h0m.5-6.3h0m0 3.3h0m0 4.3h0m.3-27.7h0m.2 28.4h0m1-9.1h0m.4 9.5h0m.7 1.4h0m1.3-6.1h0m3.6-2.7h0m2-5.4h0m.1 11.2h0m-0 2.2h0m2-16.8h0m1.2 18.8h0m.2-2.5h0m.1-24h0m.8 23.5h0m1.8-32.6h0m1.4 24.9h0m.2-.1h0m.6 9.9h0m.6-20.8h0m.4 14.3h0m.4-6.8h0m.3 7.7h0m-0 6.5h0m.1-.3h0m.4-.9h0m.1-28.8h0m.1 22.1h0m1.4 4h0m.1-11.7h0m.1 5.8h0m.5-9.6h0m.4-1.4h0m.3-3.4h0m.2 1.5h0m.9 14.4h0m.1 3.8h0m.2 1.5h0m.6 .5h0m.1-9.1h0m-0 6.1h0m.2-1.1h0m.2-16.8h0m-0 16.3h0m.1 3.3h0m.1 3.3h0m.3-14h0m.1 11.3h0m.7 1.4h0m.2-45.2h0m-0 39.6h0m.4-5.7h0m.1 7.1h0m.4 1.5h0m.1-17.2h0m.1 18.1h0m.2-32h0m.4 31h0m-0 2.5h0m-0 1.8h0m.1-1.5h0m.1-9.7h0m-0 7.9h0m.4-4.5h0m.1-2.4h0m.1 6h0m.1-96h0m-0 53.9h0m-0 42.5h0m.2-5.3h0m.3-1.3h0m-0 .7h0m.2 9.7h0m.2-16.3h0m.1 7.2h0m.1-3.2h0m.3-1.2h0m.1 9.2h0m.1-8.9h0m.1 12.9h0" stroke="#4884bd" stroke-width="1.55" stroke-linecap="round" fill="none"/>
<path d="M419.9 340.3h0m0 .3h0m0 14h0m.1 5.5h0m0 .3h0m.1-3.6h0m.1-18.1h0m-0 4.3h0m-0 9.6h0m-0 5.1h0m.1-23.3h0m-0 8.3h0m-0 14.4h0m-0 2.8h0m.1-22.7h0m-0 11.1h0m-0 7h0m-0 3.6h0m-0 1.4h0m.1-22.7h0m-0 4.9h0m.1-8.6h0m-0 9.6h0m.1 8.7h0m-0 8h0m.1-2.2h0m.1 .8h0m.1-18.8h0m-0 2.6h0m-0 5.9h0m-0 1.8h0m-0 4.3h0m-0 .7h0m.1-2.1h0m-0 3.8h0m-0 .5h0m-0 1.6h0m.1-17.2h0m-0 12.7h0m.1-.4h0m-0 3.4h0m-0 1.2h0m.1-6.6h0m.1-7.4h0m-0 6.2h0m-0 1.8h0m-0 5.5h0m.1-2.3h0m.1-19.7h0m-0 18.3h0m-0 2.2h0m.1-7.5h0m-0 .9h0m.2 .8h0m-0 5.4h0m-0 1.1h0m-0 .1h0m.1-27.5h0m-0 17.1h0m-0 8.5h0m-0 2h0m-0 1.5h0m.1-22.8h0m-0 14.3h0m.1-8.1h0m-0 7.5h0m-0 7.8h0" stroke="#8cc6ec" stroke-width="1.55" stroke-linecap="round" fill="none"/>
<path d="M422.9 353.8h0m.1 5.5h0m.1-11.3h0m.2 3.7h0m0 4.7h0m.3 3.4h0m.1-10.4h0m-0 9.4h0m.1 .2h0m.1-10.5h0m.1-4.4h0m.2 12.6h0m.7-8.3h0m.4 10.6h0m-0 .1h0" stroke="#f6a6b0" stroke-width="1.55" stroke-linecap="round" fill="none"/>
<path d="M425.6 346.0h0m0 4.5h0m.1-2.3h0m-0 3.7h0m-0 3.6h0m-0 3.5h0m-0 0h0m.1-8.4h0m-0 9.3h0m.1-2.1h0m-0 1.6h0m-0 .9h0m.2-18.7h0m-0 5.9h0m.1 1.1h0m.1 11.6h0m.1-16.6h0m.1 4.6h0m.1 4.8h0m-0 5.6h0m.1-58.9h0m-0 44h0m-0 12.6h0m-0 1.5h0m.3-9.6h0m-0 7.8h0m-0 1.6h0m-0 .5h0m.1-79.1h0m-0 41.4h0m-0 33.1h0m-0 1.4h0m-0 2.1h0m.1-12.2h0m-0 12.9h0m.3-20.3h0m.1 6.9h0m-0 6.5h0m-0 2h0m-0 5.4h0m-0 1.3h0m.2-13.9h0m-0 10.1h0m-0 1.9h0m-0 2h0m.1-4.5h0m-0 3.6h0m.1-64.5h0m-0 61.7h0m-0 2.1h0m.1-5h0m-0 7.4h0m.1-8.1h0m-0 6.6h0m.1-21.2h0m-0 18.7h0m-0 1.1h0m.1-22.5h0m-0 19.6h0m-0 2.4h0m.1 3h0m.1-.3h0m-0 .3h0m.1-2.9h0m.1 2.4h0m.3-3h0m.1-5.2h0m-0 8.7h0m.2-29.7h0m-0 23.9h0m.1-2.5h0m-0 4.9h0m-0 2.6h0m.2-4.8h0m-0 .8h0m-0 4.4h0m.1-3h0m.7-14h0m.1 13.4h0m.1-2.1h0m.1 3.8h0m.1-3.2h0m.1-41.2h0m-0 28.9h0m.1 2.9h0m-0 14.3h0m.3-20.2h0m-0 20.6h0m.1-1.8h0m.1-20.3h0m.1 10.6h0m-0 3.8h0m-0 6.9h0m.3-15.1h0m.4 3.3h0m-0 6.9h0m-0 4.9h0m-0 1h0m.3-17.5h0m.1-9h0m-0 26.1h0m.5-6.2h0m.2 3.2h0m.2 .2h0m.1-5.4h0m.3-2.9h0m.2 2.4h0m-0 7.3h0m.1-32.3h0m.1 19.7h0m-0 11h0m1.3-6.3h0m.9 9.3h0m.3-4.4h0m.5-41.7h0m.9-73.2h0m.8 116.2h0m2-25.1h0m4-15.1h0m5 42.9h0m.3-3.8h0m.4-8.1h0m.7 11.9h0m.2-6.1h0m.1 3.2h0m.6-.4h0m.4 1.3h0m.3 .3h0m.2 1.4h0m.1-.5h0m.2-18.6h0m.2 14.3h0m.3-9.6h0m.3 13.6h0m.2-22.5h0m.7 14.5h0m.2 10h0m.3-24h0m1 10.6h0m.1-12.5h0m-0 16.8h0m.1 2.1h0m.3-4.3h0m.3-12.9h0m-0 1.7h0m.5 16.3h0m.2 1h0m.1-6h0m1.2-13.3h0m-0 16.9h0m-0 4.8h0m10.4-12h0" stroke="#f4443b" stroke-width="1.55" stroke-linecap="round" fill="none"/>
<rect x="351.1" y="233.0" width="143.59999999999997" height="152.39999999999998" fill="none" stroke="#7a7a7a" stroke-width="1"/>
<line x1="349.90000000000003" y1="378.4" x2="351.1" y2="378.4" stroke="#7a7a7a" stroke-width="0.8"/>
<text x="349.70" y="381.10" font-size="7.5" text-anchor="end" fill="#222">0.0</text>
<line x1="349.90000000000003" y1="343.9" x2="351.1" y2="343.9" stroke="#7a7a7a" stroke-width="0.8"/>
<text x="349.70" y="346.57" font-size="7.5" text-anchor="end" fill="#222">2.5</text>
<line x1="349.90000000000003" y1="309.3" x2="351.1" y2="309.3" stroke="#7a7a7a" stroke-width="0.8"/>
<text x="349.70" y="312.05" font-size="7.5" text-anchor="end" fill="#222">5</text>
<line x1="349.90000000000003" y1="274.8" x2="351.1" y2="274.8" stroke="#7a7a7a" stroke-width="0.8"/>
<text x="349.70" y="277.52" font-size="7.5" text-anchor="end" fill="#222">7.5</text>
<line x1="349.90000000000003" y1="240.3" x2="351.1" y2="240.3" stroke="#7a7a7a" stroke-width="0.8"/>
<text x="349.70" y="243.00" font-size="7.5" text-anchor="end" fill="#222">10.0</text>
<line x1="354.7" y1="385.4" x2="354.7" y2="386.79999999999995" stroke="#7a7a7a" stroke-width="0.8"/>
<line x1="377.4" y1="385.4" x2="377.4" y2="386.79999999999995" stroke="#7a7a7a" stroke-width="0.8"/>
<text x="377.35" y="394.00" font-size="7.5" text-anchor="middle" fill="#222">-10</text>
<line x1="422.6" y1="385.4" x2="422.6" y2="386.79999999999995" stroke="#7a7a7a" stroke-width="0.8"/>
<text x="422.60" y="394.00" font-size="7.5" text-anchor="middle" fill="#222">0</text>
<line x1="467.9" y1="385.4" x2="467.9" y2="386.79999999999995" stroke="#7a7a7a" stroke-width="0.8"/>
<text x="467.85" y="394.00" font-size="7.5" text-anchor="middle" fill="#222">10</text>
<line x1="490.5" y1="385.4" x2="490.5" y2="386.79999999999995" stroke="#7a7a7a" stroke-width="0.8"/>
<text x="422.00" y="403.90" font-size="10" text-anchor="middle" fill="#222">log2FC</text>
<text x="335.20" y="307.70" font-size="10.2" text-anchor="middle" fill="#222" transform="rotate(-90 335.20 307.70)">-log10p-value</text>
<text x="354.30" y="244.40" font-size="10" text-anchor="start" fill="#4a86c6">Down 134</text>
<text x="491.90" y="244.40" font-size="10" text-anchor="end" fill="#f43c3c">Up 171</text>
<text x="500.50" y="222.20" font-size="15" text-anchor="start" fill="#000" font-weight="bold">E</text>
<text x="614.50" y="226.60" font-size="10" text-anchor="middle" fill="#1a1a1a">Treated vs untreated</text>
<path d="M563.5 371.2h0m.5-2.2h0m.5 1.7h0m1 6.8h0m.6-13.8h0m.3-.8h0m0 14.3h0m.4-6.5h0m.4-2.7h0m.1 9.3h0m.7-5.6h0m.2-7.7h0m.3 13.3h0m.1-8.5h0m.2-6.1h0m-0 .7h0m-0 6.8h0m.4-6.1h0m.1 13.2h0m.3 .3h0m.3-7.6h0m.1 7.3h0m.1-3.4h0m.2 3.7h0m.1-14.4h0m.1 5.8h0m.1 1h0m-0 7.5h0m.1-7.4h0m.2-6.5h0m.1 10.1h0m.2-2.5h0m.1 6.1h0m.3-12.2h0m.1 8.8h0m.2-6.8h0m.2 7h0m.1-.3h0m.2-10.9h0m-0 7.4h0m.1-1.7h0m-0 1.8h0m-0 .2h0m-0 3.3h0m.1-4h0m.3-2.3h0m-0 .3h0m-0 9.3h0m-0 .3h0m.2-13.2h0m-0 6.4h0m.1-3.2h0m-0 9.6h0m.1-3.5h0m.3-3.6h0m-0 4h0m.2-.1h0m.3-5.9h0m.3-3h0m-0 5h0m-0 4.1h0m.2-1.9h0m-0 1.6h0m-0 .1h0m-0 .2h0m.4-6.4h0m-0 2.3h0m.1-7.3h0m-0 2.5h0m.1-1.7h0m.4 14h0m.4-6.1h0m.1 .4h0m-0 5.6h0m.1-12.7h0m-0 5.4h0m.1 .1h0m.2-.2h0m.2-.1h0m-0 3.8h0m.2-3.8h0m.5-5.3h0m.1 5.4h0m.2-7.1h0m.2-1.2h0m.1 12.3h0m.1-4.1h0m.1 4.2h0m.2-5.1h0m.1-7.5h0m-0 16h0m-0 .1h0m.3-4h0m.2 3.8h0m.1-7.1h0m.1 7.2h0m.2-3.8h0m.1-11.6h0m.1 11.9h0m.1-4.2h0m.2-0h0m.3-.2h0m.1 .5h0m-0-0h0m.2 1.3h0m.1-1.3h0m.1 3.7h0m.1-3.9h0m.4-2.4h0m-0 2.4h0m.1 7.6h0m.1-12h0m.1 4.5h0m-0 .2h0m-0 7.3h0m.2-8h0m.1 2h0m-0 6.1h0m.1-7.8h0m.1 7.8h0m.1-9h0m-0 2.5h0m.2-1h0m-0 3.5h0m.1-8.5h0m.1 4.8h0m.1 3.9h0m-0 .2h0m.3-.1h0m.1 3.4h0m.8-7.1h0m.1 7.2h0m.3-7.4h0m.5 .2h0m.2-7.5h0m.2 7.2h0m-0 1.9h0m.1 2.2h0m.2-5.7h0m-0 1.9h0m.5 7.2h0m.1-3.8h0m.1 3.8h0m1 .1h0m.1-.1h0m.4-7.6h0m.2 .4h0m.1 3.7h0m.4-4.1h0m.1 7.2h0m.1 .5h0m.1 0h0m.8-.4h0m.5-6.8h0m.2-.3h0m-0 .3h0m.1 7h0m.4-10.6h0m.1 7.5h0m.4 1.2h0m.1-1.1h0m-0 3.1h0m.1-5.8h0m.1 2.3h0m-0 3.7h0m.8-.4h0m-0 .2h0m.6-2.7h0m.2 2.5h0m.1-8.3h0m.1 .5h0m.1-6h0m.2-1.6h0m.1 15.6h0m.1-5.1h0m.3 2.6h0m-0 .5h0m.1-4.1h0m-0 .2h0m-0 4.4h0m-0 1.7h0m.3-9.1h0m.2 5.2h0m-0 3.2h0m.1-12.7h0m-0 .5h0m-0 9.4h0m.1-4.8h0m-0 1.4h0m-0 5.3h0m-0 1.6h0m.2-14.1h0m-0 13.8h0m-0 .1h0m-0 .2h0m.1-.5h0m.1-12.8h0m-0 8.6h0m.1 4.5h0m.1-13.5h0m-0 1.3h0m-0 8.6h0m-0 1.3h0m.1-4h0m-0 4.1h0m-0 1.5h0m-0 .8h0m.2-10.1h0m-0 7.1h0m-0 2.6h0m.1-10.5h0m-0 .7h0m-0 6.9h0m-0 .9h0m-0 2.2h0m.1-13.5h0m-0 7.8h0m-0 2.4h0m-0 .4h0m.2-5.2h0m-0 2h0m-0 3.1h0m.1 .2h0m.1-6.5h0m-0 1.1h0m-0 3.3h0m-0 4.6h0m.1 .2h0m.1-3.3h0m.1-4.2h0m-0 5.3h0m-0 1.1h0m.1-11.3h0m-0 8.8h0m-0 .2h0m-0 3.8h0m.1-15.5h0m-0 7.7h0m-0 4.9h0m.1-5.4h0m-0 .8h0m-0 1.4h0m-0 2.4h0m-0 3.5h0m.1-8.7h0m-0 .1h0m-0 5h0m-0 2.3h0m.1-4.5h0m-0 3.8h0m.1-9.3h0m-0 .7h0m-0 1.2h0m.1 5.7h0m.1-12.6h0m-0 4.2h0m-0 .1h0m-0 2.7h0m-0 2.2h0m-0 .7h0m-0 2.7h0m-0 1.1h0m-0 .7h0m-0 1.6h0m.1-12.1h0m-0 .4h0m-0 1h0m-0 7.7h0m-0 1.8h0m-0 .7h0m.1-15.8h0m-0 2.5h0m-0 6.2h0m-0 2.4h0m-0 .5h0m.1-9.8h0m-0 4.5h0m.1-4.1h0m-0 5.5h0m-0 5.3h0m-0 2h0m-0 1.4h0m.1-12.5h0m-0 1.1h0m-0 3.3h0m-0 3.5h0m.1-9.1h0m-0 .4h0m-0 1.7h0m-0 4.1h0m-0 7.2h0m.1-15.7h0m-0 3.7h0m-0 8.2h0m-0 4.2h0m.1-4.9h0m-0 .3h0m-0 .6h0m-0 1h0m.1-13h0m-0 10.7h0m-0 2.7h0m.1-12.2h0m-0 .5h0m-0 10.7h0m-0 .3h0m-0 .4h0m-0 1.4h0m.1-15h0m-0 1.5h0m.1 2.2h0m-0 1.7h0m-0 3.2h0m-0 .8h0m-0 5.7h0m-0 .1h0m.1-14.2h0m-0 5.4h0m-0 .5h0m-0 4h0m-0 4.1h0m.2-9.4h0m-0 3.8h0m-0 1.3h0m-0 1.4h0m-0 2.3h0m-0 1h0m-0 .8h0m.1-16.1h0m-0 14.3h0m-0 .9h0m.1-7.5h0m-0 2.5h0m-0 1h0m-0 3.9h0m.1-13.9h0m-0 12.1h0m-0 1.3h0m.1-2h0m-0 2.8h0m-0 .7h0m.1-13.5h0m-0 10.2h0m-0 1.9h0m-0 .8h0m-0 .8h0m.1-2.6h0m-0 1.5h0m-0 .1h0m-0 1.1h0m.1-14.4h0m-0 7.3h0m-0 2.6h0m-0 .2h0m-0 0h0m-0 3.6h0m.1-8.7h0m-0 .4h0m-0 .3h0m-0 .2h0m-0 .2h0m-0 1.2h0m-0 3.2h0m-0 .6h0m-0 .6h0m-0 2.4h0m.1-14.9h0m-0 3.6h0m-0 4h0m-0 .9h0m-0 .3h0m-0 3.2h0m-0 1.7h0m-0 1.3h0m.1-14h0m-0 8.3h0m-0 6.2h0m.1-16.3h0m-0 4.3h0m-0 1.2h0m-0 .6h0m-0 1.6h0m-0 4.6h0m-0 .9h0m-0 .4h0m.1-14.3h0m-0 .6h0m-0 0h0m-0 .6h0m-0 2.8h0m-0 2.5h0m-0 2.2h0m-0 .9h0m-0 2.5h0m-0 .9h0m-0 3.6h0m.1-16h0m-0 .2h0m-0 5.5h0m-0 0h0m-0 1.5h0m-0 3.8h0m-0 .2h0m-0 4.5h0m-0 .2h0m.1-15.9h0m-0 1.3h0m-0 .4h0m-0 .4h0m-0 2.2h0m-0 1.4h0m-0 .7h0m-0 1.2h0m-0 1.2h0m-0 1.4h0m-0 .3h0m-0 5.6h0m.1-13.6h0m-0 7.2h0m-0 3.8h0m-0 1.7h0m-0 .9h0m-0 .2h0m.1-16.3h0m-0 .6h0m-0 2.6h0m-0 4.1h0m-0 .1h0m-0 1.8h0m-0 3.6h0m-0 1.1h0m-0 .5h0m-0 1.1h0m.1-7.6h0m-0 .3h0m-0 3.2h0m-0 3.1h0m-0 .2h0m.1-14.2h0m-0 .1h0m-0 7.5h0m-0 .6h0m-0 .3h0m.1-8h0m-0 1.6h0m-0 1.1h0m-0 5.9h0m-0 2.8h0m-0 1.3h0m.1-13.3h0m-0 .1h0m-0 2.9h0m-0 3h0m-0 .2h0m-0 1.4h0m-0 .5h0m-0 1.1h0m-0 .9h0m-0 .1h0m-0 .4h0m-0 4.4h0m-0 .1h0m-0 .2h0m.1-14.1h0m-0 .7h0m-0 1.9h0m-0 2.5h0m-0 .6h0m-0 4h0m-0 1.4h0m-0 1h0m-0 1.5h0m.1-14.1h0m-0 1.2h0m-0 1.7h0m-0 .2h0m-0 4.8h0m-0 .7h0m-0 4.6h0m-0 1h0m-0 .1h0m.1-15.4h0m-0 .7h0m-0 2.5h0m-0 .4h0m-0 1.4h0m-0 2.2h0m-0 .6h0m-0 3.1h0m-0 3.7h0m.1-7.6h0m-0 1.5h0m-0 5.5h0m-0 .5h0m-0 .4h0m.1-14.4h0m-0 .6h0m-0 2.2h0m-0 2.4h0m-0 1.8h0m-0 .3h0m-0 1.4h0m-0 .9h0m-0 2.6h0m-0 2h0m-0 1.1h0m-0 .5h0m.1-13.7h0m-0 2.6h0m-0 4h0m-0 .1h0m-0 .5h0m-0 .3h0m-0 2.7h0m-0 1.2h0m-0 .7h0m-0 .5h0m-0 .2h0m.1-12.6h0m-0 .7h0m-0 1.9h0m-0 1.8h0m-0 3.9h0m-0 1.6h0m-0 .5h0m-0 2.4h0m.1-12.1h0m-0 1.9h0m-0 .9h0m-0 2h0m-0 2h0m-0 .9h0m-0 .5h0m-0 1.9h0m.1-14h0m-0 1.2h0m-0 6.1h0m-0 .1h0m-0 .7h0m-0 2.9h0m-0 4.5h0m-0 .8h0m.1-15.7h0m-0 2.4h0m-0 7.1h0m-0 0h0m-0 6.2h0m.1-15.7h0m-0 2.8h0m-0 .4h0m-0 2.8h0m-0 .1h0m-0 4.3h0m-0 .4h0m-0 3.3h0m-0 1.8h0m-0 .1h0m.1-12.2h0m-0 .3h0m-0 .4h0m-0 6.4h0m-0 4h0m-0 0h0m-0 .1h0m.1-14.3h0m-0 1.5h0m-0 1.3h0m-0 1.3h0m-0 3.6h0m-0 .1h0m-0 1.2h0m-0 .4h0m-0 .4h0m-0 1.6h0m-0 .4h0m-0 .8h0m-0 .3h0m-0 .5h0m-0 .1h0m-0 1.8h0m.1-16.8h0m-0 .1h0m-0 2.1h0m-0 .2h0m-0 2.7h0m-0 7.6h0m-0 1.2h0m.1-12h0m-0 1.8h0m-0 .1h0m-0 .3h0m-0 .5h0m-0 2.6h0m-0 .9h0m-0 .2h0m-0 0h0m-0 .4h0m-0 4.4h0m-0 .1h0m-0 1.1h0m-0 2.2h0m-0 .4h0m.1-10h0m-0 .8h0m-0 2.3h0m-0 .3h0m-0 2.4h0m-0 3.3h0m.1-15.9h0m-0 2.2h0m-0 .6h0m-0 1.6h0m-0 1.5h0m-0 1.2h0m-0 .4h0m-0 .7h0m-0 1.5h0m-0 .7h0m-0 .1h0m-0 .3h0m-0 1.4h0m-0 .4h0m-0 2.7h0m-0 0h0m-0 .5h0m-0 .2h0m.1-15h0m-0 3.6h0m-0 .4h0m-0 0h0m-0 3.9h0m-0 1h0m-0 3.9h0m-0 0h0m-0 2.3h0m.1-11.9h0m-0 0h0m-0 1h0m-0 1.2h0m-0 .8h0m-0 1.5h0m-0 6.6h0m.1-14.8h0m-0 .8h0m-0 1.2h0m-0 3h0m-0 1h0m-0 0h0m-0 .4h0m-0 0h0m-0 .3h0m-0 1.6h0m-0 .1h0m-0 1.1h0m-0 1.8h0m-0 1.6h0m-0 1.2h0m-0 1.5h0m.1-16h0m-0 4.3h0m-0 .1h0m-0 1.3h0m-0 1.6h0m-0 2.8h0m-0 .1h0m-0 .8h0m-0 .6h0m-0 4.5h0m.1-15.7h0m-0 .1h0m-0 8.4h0m-0 .1h0m-0 .1h0m-0 .6h0m-0 1.6h0m-0 2.2h0m-0 2.8h0m-0 .2h0m.1-15.8h0m-0 1.4h0m-0 .5h0m-0 .3h0m-0 1.2h0m-0 0h0m-0 2.4h0m-0 .7h0m-0 .9h0m-0 2.1h0m-0 2.6h0m-0 .7h0m-0 1.6h0m-0 .7h0m-0 .2h0m-0 .5h0m-0 .3h0m.1-17h0m-0 .5h0m-0 4.7h0m-0 1.7h0m-0 .9h0m-0 4.2h0m-0 2.7h0m.1-13h0m-0 .1h0m-0 .4h0m-0 .1h0m-0 1.9h0m-0 1.6h0m-0 1.5h0m-0 1h0m-0 2.8h0m-0 .5h0m-0 .4h0m-0 2.2h0m-0 .7h0m.1-13.8h0m-0 2h0m-0 3.5h0m-0 .1h0m-0 2.8h0m-0 0h0m-0 1h0m-0 .3h0m-0 1.9h0m-0 .2h0m-0 1.4h0m-0 1.2h0m.1-15.1h0m-0 3.9h0m-0 2.8h0m-0 .4h0m-0 1h0m-0 1.5h0m-0 1.6h0m-0 .8h0m-0 1.4h0m.1-13.4h0m-0 .1h0m-0 .4h0m-0 .7h0m-0 .3h0m-0 .3h0m-0 1.2h0m-0 .7h0m-0 .4h0m-0 .5h0m-0 1.2h0m-0 2.5h0m-0 4.2h0m-0 .1h0m-0 .8h0m-0 .1h0m-0 .8h0m.1-12.3h0m-0 .1h0m-0 3.2h0m-0 .3h0m-0 .3h0m-0 .8h0m-0 .1h0m-0 2.8h0m-0 .4h0m-0 2.2h0m-0 .4h0m-0 .3h0m-0 1.7h0m.1-14.3h0m-0 1.3h0m-0 1.2h0m-0 .8h0m-0 1.4h0m-0 0h0m-0 .1h0m-0 .4h0m-0 2.9h0m-0 .4h0m-0 3.1h0m-0 .9h0m-0 .8h0m-0 2.2h0m.1-15.4h0m-0 .6h0m-0 1.2h0m-0 2.3h0m-0 11.6h0m.1-15.2h0m-0 .2h0m-0 .2h0m-0 2.4h0m-0 .2h0m-0 0h0m-0 1h0m-0 1.7h0m-0 1.4h0m-0 .9h0m-0 1.1h0m-0 1h0m-0 2.6h0m-0 .2h0m.1-14.2h0m-0 1.9h0m-0 .1h0m-0 .4h0m-0 3.2h0m-0 1.1h0m-0 3.1h0m-0 .2h0m-0 .8h0m-0 2.5h0m-0 .2h0m-0 .5h0m-0 1.5h0m-0 .1h0m-0 .2h0m-0 .5h0m-0 .1h0m-0 .1h0m-0 .3h0m.1-16.3h0m-0 1h0m-0 .1h0m-0 1.4h0m-0 .1h0m-0 .4h0m-0 .6h0m-0 .7h0m-0 1.8h0m-0 .4h0m-0 4.2h0m-0 1.3h0m-0 1h0m-0 .6h0m-0 .3h0m-0 .5h0m-0 .3h0m-0 1h0m.1-15h0m-0 .1h0m-0 .5h0m-0 3.4h0m-0 2h0m-0 1.5h0m-0 .4h0m-0 1.2h0m.1-9.5h0m-0 3.8h0m-0 2.1h0m-0 .7h0m-0 2.1h0m-0 0h0m-0 .6h0m-0 1.7h0m-0 1.6h0m-0 2h0m-0 .3h0m-0 0h0m-0 .6h0m.1-14.7h0m-0 2.1h0m-0 2.1h0m-0 3.1h0m-0-0h0m-0 .8h0m-0 1h0m-0 3.1h0m-0 .2h0m-0 1.4h0m-0 1.1h0m.1-16h0m-0-0h0m-0 .1h0m-0 .2h0m-0 .1h0m-0 1.1h0m-0 1.5h0m-0 .1h0m-0 1.9h0m-0 .8h0m-0 1h0m-0 1.6h0m-0 .4h0m-0 .7h0m-0 .4h0m-0 2.6h0m-0 .8h0m-0 2.3h0m.1-14.3h0m-0 .2h0m-0 .2h0m-0 .6h0m-0 1.5h0m-0 .4h0m-0 2.6h0m-0-0h0m-0 .9h0m-0 1.7h0m-0 1h0m-0 .6h0m-0 4h0m.1-10.6h0m-0 1.7h0m-0 1.1h0m-0 .3h0m-0 .3h0m-0 1.8h0m-0 .4h0m-0 1.4h0m-0 .1h0m-0 .5h0m-0 .8h0m-0 .5h0m-0 .6h0m-0 .1h0m-0-0h0m-0 .3h0m-0 1.6h0m.1-14.3h0m-0 .7h0m-0 .5h0m-0 1.2h0m-0 2h0m-0 .7h0m-0 .9h0m-0 6.5h0m-0 1.4h0m.1-14.3h0m-0 2.4h0m-0 .4h0m-0 1.5h0m-0 .6h0m-0 1.1h0m-0 3.2h0m-0 1.1h0m-0 1.4h0m-0 1.9h0m-0 .7h0m.1-15.8h0m-0 .4h0m-0 .2h0m-0 .1h0m-0 3h0m-0 .3h0m-0 1.7h0m-0 .1h0m-0 .3h0m-0 3.2h0m-0 1.8h0m-0 2.4h0m-0 .5h0m-0 .3h0m-0 .8h0m.1-14.1h0m-0 .1h0m-0 .6h0m-0 1.1h0m-0 1.1h0m-0 .1h0m-0 .7h0m-0 .1h0m-0 1.3h0m-0 2.4h0m-0 .5h0m-0 2h0m-0 1.5h0m-0 .1h0m-0 2.6h0m-0 .4h0m-0 .8h0m-0 .3h0m.1-16.1h0m-0 .9h0m-0 .3h0m-0-0h0m-0 2.3h0m-0 1.8h0m-0 .7h0m-0 .1h0m-0 6.5h0m-0 .3h0m-0 .2h0m-0 .5h0m.1-14.1h0m-0-0h0m-0 3.3h0m-0 .9h0m-0 .3h0m-0 2h0m-0 1h0m-0 2.6h0m-0 2.2h0m-0 1.1h0m-0 .9h0m-0 1h0m.1-13.8h0m-0 .8h0m-0 .5h0m-0 .3h0m-0 .5h0m-0 .9h0m-0 .8h0m-0 1.9h0m-0-0h0m-0 .1h0m-0 .7h0m-0 .1h0m-0 .9h0m-0 .7h0m-0 .1h0m-0 2.2h0m-0 1h0m-0 .9h0m-0 .9h0m-0 .4h0m.1-15.2h0m-0 1.1h0m-0 .1h0m-0-0h0m-0 .4h0m-0 .7h0m-0 .6h0m-0 .3h0m-0 .3h0m-0 .9h0m-0 .2h0m-0 .5h0m-0 .7h0m-0 1.3h0m-0 2.6h0m-0 .5h0m-0 1h0m-0 .3h0m-0 .2h0m-0 1h0m-0 1.2h0m-0 1.1h0m.1-15.2h0m-0-0h0m-0 .6h0m-0 1.2h0m-0-0h0m-0 1h0m-0 1h0m-0 1.1h0m-0 .1h0m-0 .4h0m-0 .3h0m-0 .1h0m-0 1h0m-0 .4h0m-0 2h0m-0 1.2h0m-0 2.3h0m-0 .5h0m-0 1.3h0m-0 .6h0m-0 1.1h0m.1-15.5h0m-0 .4h0m-0 .4h0m-0 .1h0m-0 .5h0m-0 1.4h0m-0 .8h0m-0 .1h0m-0 1.8h0m-0 .8h0m-0 1.3h0m-0 .7h0m-0 .5h0m-0 1.3h0m-0 3.2h0m-0 .1h0m-0 .2h0m-0 1.4h0m-0 .2h0m-0 .6h0m.1-15.5h0m-0 .2h0m-0 .7h0m-0-0h0m-0 1h0m-0 5h0m-0 .6h0m-0-0h0m-0 2.5h0m-0 2h0m-0-0h0m-0 .2h0m-0 .9h0m.1-13.1h0m-0 5.7h0m-0 .5h0m-0 .3h0m-0 .7h0m-0 .8h0m-0 .3h0m-0 .2h0m-0 .2h0m-0 .2h0m-0 .4h0m-0 1.6h0m-0 .5h0m-0 1.2h0m-0 .4h0m-0 2h0m.1-15.7h0m-0 .8h0m-0 1.1h0m-0 .4h0m-0 .1h0m-0-0h0m-0 .4h0m-0 2h0m-0 .3h0m-0 1.3h0m-0 .4h0m-0 2.5h0m-0 .4h0m-0 2.9h0m-0 1.5h0m-0 .3h0m-0 .7h0m.1-14.7h0m-0 2.1h0m-0 .9h0m-0 .4h0m-0 .2h0m-0 4h0m-0 .8h0m-0 .6h0m-0 2.9h0m-0 1.1h0m-0 .4h0m-0 .8h0m-0 .4h0m-0 .7h0m.1-13.8h0m-0 .2h0m-0 1.3h0m-0 .1h0m-0 1.5h0m-0 4h0m-0 1.1h0m-0 2.7h0m-0 2.2h0m-0 1.2h0m-0 .2h0m.1-16.2h0m-0 .5h0m-0 .1h0m-0 2.1h0m-0 1.2h0m-0 1.8h0m-0 1.2h0m-0 .3h0m-0 .2h0m-0 3.2h0m-0 .8h0m-0 .3h0m-0 .3h0m-0 1.2h0m-0 .4h0m-0 2.6h0m.1-15.2h0m-0 .4h0m-0 .1h0m-0 .7h0m-0 .2h0m-0 .1h0m-0 .5h0m-0 .8h0m-0 .9h0m-0 2.6h0m-0 2.5h0m-0 1.2h0m-0 .1h0m-0 .5h0m-0 .3h0m-0 .5h0m-0 .9h0m-0 .5h0m-0 .5h0m-0 1.2h0m-0 .3h0m-0 .1h0m.1-16.4h0m-0 .9h0m-0 .4h0m-0 .9h0m-0 .6h0m-0 .9h0m-0 .2h0m-0 1.4h0m-0 1.1h0m-0-0h0m-0 1h0m-0 .6h0m-0 .8h0m-0 .1h0m-0 1.1h0m-0 3.5h0m-0 .1h0m-0 1.6h0m-0 .7h0m-0 .6h0m.1-16.5h0m-0 1.7h0m-0 .7h0m-0 .5h0m-0 .8h0m-0 2.5h0m-0 3.5h0m-0 .7h0m-0 .8h0m-0 .5h0m-0 .7h0m-0-0h0m-0 .4h0m-0 1.3h0m-0 1h0m-0 .6h0m-0 .5h0m.1-15.2h0m-0 .7h0m-0 .3h0m-0 1h0m-0 .8h0m-0 .8h0m-0 1.1h0m-0 2.1h0m-0 2.3h0m-0 1h0m-0-0h0m-0 2.2h0m-0 1h0m-0 1.1h0m.1-15.2h0m-0 2.6h0m-0 .9h0m-0 1h0m-0 2.8h0m-0 3h0m-0 .3h0m-0 .2h0m-0 .2h0m-0 .2h0m-0 3.3h0m-0 .8h0m-0 1.2h0m-0-0h0m.1-15.9h0m-0 .9h0m-0 .4h0m-0 2.7h0m-0 .4h0m-0 .3h0m-0 .9h0m-0 .8h0m-0 .3h0m-0 .6h0m-0 .1h0m-0 .3h0m-0 .3h0m-0 .4h0m-0 2.3h0m-0 1.6h0m-0 .7h0m-0 .5h0m-0 .1h0m-0 .4h0m-0-0h0m-0 .4h0m.1-14.2h0m-0 .8h0m-0 .6h0m-0 .5h0m-0 .1h0m-0 .6h0m-0 1.5h0m-0 1.1h0m-0 .3h0m-0 .1h0m-0 .7h0m-0 .1h0m-0 .2h0m-0 1.5h0m-0 .6h0m-0 .7h0m-0 .1h0m-0 3.2h0m.1-13.3h0m-0 .9h0m-0 2h0m-0 1.5h0m-0 1.8h0m-0 1.3h0m-0 .8h0m-0 2.6h0m-0 1.1h0m-0 .4h0m-0 1.2h0m-0 .8h0m.1-14.4h0m-0 2.1h0m-0 2h0m-0 .1h0m-0 .9h0m-0 .1h0m-0 1.9h0m-0 1.4h0m-0 .9h0m-0 .1h0m-0 .9h0m-0 .8h0m-0-0h0m.1-10.9h0m-0 .6h0m-0 1.8h0m-0 .6h0m-0 .4h0m-0 1.8h0m-0 .3h0m-0 .3h0m-0 .2h0m-0 .1h0m-0 .7h0m-0 .9h0m-0 .6h0m-0 .8h0m-0 1.5h0m-0 .2h0m-0 1.2h0m-0 .5h0m-0 .5h0m-0 2h0m-0 .3h0m.1-15.7h0m-0 2.1h0m-0 1.1h0m-0 .8h0m-0-0h0m-0 .7h0m-0 .8h0m-0-0h0m-0 .3h0m-0-0h0m-0 1h0m-0 5.3h0m-0 .2h0m-0 3.6h0m.1-16h0m-0 .7h0m-0 1.2h0m-0 .8h0m-0 .5h0m-0 .7h0m-0 .6h0m-0 .2h0m-0 1.2h0m-0 .4h0m-0 .4h0m-0 1.3h0m-0 .4h0m-0 .5h0m-0 .9h0m-0 .6h0m-0 .1h0m-0 .1h0m-0 .8h0m-0 .9h0m-0 .4h0m-0 1.3h0m-0 .5h0m-0 .4h0m-0 1.7h0m.1-16.2h0m-0 .1h0m-0 1h0m-0 .1h0m-0 1.5h0m-0 .6h0m-0 2.2h0m-0 .4h0m-0 .2h0m-0 .4h0m-0 .5h0m-0 .5h0m-0 2.7h0m-0 1.4h0m-0 .2h0m-0 .4h0m-0 1.7h0m-0 1.4h0m-0 .3h0m.1-16h0m-0 .2h0m-0 1.7h0m-0 .2h0m-0 .4h0m-0 .9h0m-0 .4h0m-0 .3h0m-0 .7h0m-0-0h0m-0 1.4h0m-0 1.2h0m-0 .3h0m-0 .8h0m-0 1.7h0m-0 1.7h0m-0 2.5h0m-0 .3h0m-0 .2h0m-0 .6h0m-0 .9h0m.1-16.6h0m-0 .4h0m-0 .3h0m-0 3.5h0m-0-0h0m-0 .6h0m-0 2.1h0m-0 .3h0m-0 2.2h0m-0 1h0m-0 1.6h0m-0 .7h0m-0 1.7h0m-0 .5h0m-0 .1h0m-0 .9h0m-0 .1h0m-0 .2h0m-0 .3h0m.1-16.4h0m-0 .4h0m-0 .6h0m-0 .7h0m-0 .8h0m-0 1h0m-0 .9h0m-0 .4h0m-0 .8h0m-0 .5h0m-0 .3h0m-0 .8h0m-0 .2h0m-0 .5h0m-0 .7h0m-0 2.9h0m-0 .8h0m-0 .4h0m-0-0h0m-0 .2h0m-0 .2h0m-0 2h0m.1-15h0m-0 .1h0m-0 .7h0m-0 .4h0m-0 2.3h0m-0 .3h0m-0 4.2h0m-0 .1h0m-0 .3h0m-0 .2h0m-0 1.3h0m-0 .3h0m-0 1.3h0m-0 .3h0m-0 .2h0m-0 .9h0m-0 1.8h0m-0 .5h0m.1-15.1h0m-0-0h0m-0 .3h0m-0 .2h0m-0 1.2h0m-0 .5h0m-0 .4h0m-0-0h0m-0 .3h0m-0 1.4h0m-0-0h0m-0 .1h0m-0 .4h0m-0 .7h0m-0 .4h0m-0 .7h0m-0 .6h0m-0 .4h0m-0 .6h0m-0 1.7h0m-0 .4h0m-0 2.7h0m.1-12.6h0m-0 1.3h0m-0 1.9h0m-0 .9h0m-0 .8h0m-0-0h0m-0 2.2h0m-0 1.8h0m-0 .5h0m-0 .5h0m-0 .1h0m-0 1.8h0m-0 .4h0m-0 1h0m.1-13.3h0m-0 1.1h0m-0 .3h0m-0 2.1h0m-0 .7h0m-0 3.3h0m-0-0h0m-0 .2h0m-0 .3h0m-0 .2h0m-0 .4h0m-0 .1h0m-0 .8h0m-0 .1h0m-0 .4h0m-0 .4h0m-0 .8h0m-0 .1h0m-0 .9h0m-0 .1h0m-0 .5h0m-0 3.2h0m.1-12.7h0m-0 2.6h0m-0 1.2h0m-0 2.2h0m-0-0h0m-0 .3h0m-0-0h0m-0 .2h0m-0 .8h0m-0 2.4h0m-0 2.8h0m-0 .4h0m.1-15.6h0m-0 .2h0m-0 .4h0m-0 .8h0m-0-0h0m-0 1h0m-0 .3h0m-0 .8h0m-0-0h0m-0 4.1h0m-0 .9h0m-0 1.3h0m-0 .6h0m-0 .3h0m-0 .2h0m-0 1.6h0m-0 .2h0m-0 .3h0m.1-14.2h0m-0-0h0m-0 .1h0m-0-0h0m-0 .3h0m-0 .1h0m-0 .4h0m-0 .4h0m-0 .1h0m-0 .4h0m-0 2.7h0m-0 2.1h0m-0-0h0m-0 1.1h0m-0 2.3h0m-0-0h0m-0 .1h0m-0 2.2h0m-0 .2h0m-0 .7h0m-0 1.2h0m-0 2.2h0m.1-15.1h0m-0 .3h0m-0 1h0m-0 .7h0m-0 1.9h0m-0 .5h0m-0 .8h0m-0 1.1h0m-0 .2h0m-0 3.3h0m-0 .9h0m-0-0h0m-0 .5h0m-0 .1h0m.1-12.6h0m-0 .4h0m-0 .1h0m-0 .9h0m-0 .4h0m-0 .4h0m-0 3.3h0m-0 .6h0m-0 .5h0m-0 2.6h0m-0 .2h0m-0 .9h0m-0 1h0m-0 .7h0m-0 .9h0m-0 .4h0m.1-12.2h0m-0 2.8h0m-0 .9h0m-0 .4h0m-0 .3h0m-0 .2h0m-0 .6h0m-0 .3h0m-0 4.4h0m-0 2h0m-0 1h0m-0 .1h0m-0 .4h0m-0 1.5h0m.1-15.9h0m-0-0h0m-0 .2h0m-0 2.4h0m-0 .3h0m-0 .4h0m-0 .1h0m-0 1.5h0m-0 .9h0m-0 .7h0m-0 1h0m-0 1.1h0m-0 .8h0m-0 1.8h0m-0 .8h0m-0 .5h0m-0 1.9h0m-0 .6h0m.1-12.6h0m-0 1.1h0m-0-0h0m-0 .8h0m-0 1.7h0m-0 .2h0m-0 .3h0m-0 3h0m-0 1.3h0m-0 .9h0m-0 1.5h0m-0 .7h0m-0-0h0m-0 .8h0m-0 .5h0m-0 1.1h0m.1-16h0m-0 1h0m-0 .2h0m-0 .3h0m-0 .6h0m-0-0h0m-0 .1h0m-0 1.8h0m-0 .1h0m-0 .3h0m-0 2.4h0m-0 .3h0m-0 1h0m-0 .1h0m-0 .4h0m-0 .1h0m-0 .8h0m-0 .8h0m-0 .4h0m-0 2.8h0m-0 2.2h0m.1-12.1h0m-0 1.2h0m-0 1.7h0m-0 .3h0m-0 .4h0m-0 3.7h0m-0 .2h0m-0 2.8h0m-0 .2h0m-0 1.8h0m-0-0h0m.1-14.1h0m-0 .9h0m-0 .7h0m-0 1.7h0m-0 .3h0m-0 .1h0m-0 1h0m-0 .4h0m-0 .6h0m-0 1.3h0m-0 1h0m-0 1.3h0m-0 .8h0m-0 1.5h0m-0 .1h0m-0-0h0m-0 .4h0m-0 2.3h0m.1-15h0m-0 .6h0m-0 1.3h0m-0 1h0m-0 1.1h0m-0 .4h0m-0 .8h0m-0 .1h0m-0 .5h0m-0 .1h0m-0 .2h0m-0 .1h0m-0 1.2h0m-0 .7h0m-0 .1h0m-0-0h0m-0 .4h0m-0 .2h0m-0 .6h0m-0 .3h0m-0 1.7h0m-0 .7h0m-0 .9h0m-0 1.3h0m.1-15.7h0m-0 .2h0m-0 .2h0m-0 1.6h0m-0 .2h0m-0 .6h0m-0 .7h0m-0-0h0m-0 .1h0m-0 1.4h0m-0 6.2h0m-0 .3h0m-0 1.3h0m-0 .4h0m-0 2h0m-0 .9h0m.1-16.4h0m-0 1.1h0m-0 .1h0m-0 .5h0m-0 2.9h0m-0 .6h0m-0 .4h0m-0 1.7h0m-0 2.1h0m-0 2.1h0m-0 .3h0m-0 1.7h0m-0 .3h0m-0 1.8h0m-0 .8h0m-0 .2h0m-0-0h0m.1-16.4h0m-0 .1h0m-0 1.9h0m-0 1.5h0m-0 .1h0m-0 .8h0m-0-0h0m-0 1.9h0m-0 .7h0m-0 1.4h0m-0 .1h0m-0 1.1h0m-0 .3h0m-0 .3h0m-0 1.5h0m-0 .9h0m-0 .4h0m-0 1.8h0m-0 .6h0m-0 .1h0m.1-15.5h0m-0 .5h0m-0 .1h0m-0 .5h0m-0 .3h0m-0 .6h0m-0 .4h0m-0 1.6h0m-0 .5h0m-0 .2h0m-0 .1h0m-0 1.3h0m-0 .5h0m-0 1.4h0m-0 .2h0m-0 .1h0m-0 .3h0m-0 .9h0m-0 .1h0m-0 .4h0m-0-0h0m-0 .2h0m-0 .4h0m-0 .8h0m-0 .6h0m-0 .3h0m-0 .4h0m-0 2.4h0m.1-15.2h0m-0 .8h0m-0 .8h0m-0 6.6h0m-0 .6h0m-0 .1h0m-0 1.6h0m-0 .7h0m-0 1h0m-0 1.2h0m-0 2.3h0m-0 .6h0m-0 .3h0m.1-16.4h0m-0 .1h0m-0 .1h0m-0 3.4h0m-0 .2h0m-0 .5h0m-0 .6h0m-0 .7h0m-0 .1h0m-0 1.3h0m-0 .3h0m-0 .9h0m-0 1.2h0m-0 1.7h0m-0 1h0m-0 1.5h0m-0 .4h0m-0 .1h0m-0 .3h0m.1-14.1h0m-0 .5h0m-0 .9h0m-0 .3h0m-0 .7h0m-0 .1h0m-0 3.3h0m-0 .7h0m-0 .2h0m-0 1.1h0m-0 1.6h0m-0 .6h0m-0 1.2h0m-0 .3h0m-0-0h0m-0 1.1h0m.1-12h0m-0 .6h0m-0 .8h0m-0 2h0m-0 .3h0m-0 1h0m-0 .1h0m-0 1h0m-0 1.2h0m-0 .7h0m-0 1.3h0m-0 .4h0m-0 .1h0m-0 1.5h0m-0 2.2h0m-0 .4h0m-0 1.3h0m.1-15.6h0m-0 1.2h0m-0 .1h0m-0 2.2h0m-0 .5h0m-0 2.2h0m-0 3.8h0m-0 1.5h0m-0 1.4h0m-0 .1h0m-0 2h0m-0 1.1h0m.1-16.7h0m-0 2.8h0m-0 .7h0m-0 .3h0m-0 2.7h0m-0 1.8h0m-0 2h0m-0 .1h0m-0 1h0m-0 2.1h0m.1-12.4h0m-0 .8h0m-0 3h0m-0 2.7h0m-0 2h0m-0 .6h0m-0 1h0m-0-0h0m-0 .2h0m-0 .6h0m-0 .2h0m-0 4.2h0m.1-16.1h0m-0 1.9h0m-0 .2h0m-0 1h0m-0 .4h0m-0 1.6h0m-0 .9h0m-0 3.7h0m-0 2.5h0m-0 .1h0m-0 .2h0m-0 .7h0m-0 .4h0m-0 1.5h0m-0 .2h0m-0 .5h0m.1-16.2h0m-0 .3h0m-0 2.2h0m-0 1.1h0m-0 1.5h0m-0 .4h0m-0 .7h0m-0 4.5h0m-0 2h0m-0 .7h0m-0 1.4h0m-0 .5h0m-0 1.1h0m.1-15.9h0m-0 .5h0m-0 2.5h0m-0 3.5h0m-0-0h0m-0 .4h0m-0 .3h0m-0 .1h0m-0 1h0m-0 1.7h0m-0 2.8h0m-0 .2h0m-0-0h0m-0 .2h0m-0 2.1h0m-0 .8h0m.1-15.6h0m-0 1h0m-0 1h0m-0-0h0m-0 .3h0m-0 1.6h0m-0 1.9h0m-0 .1h0m-0 .8h0m-0 .1h0m-0 2.3h0m-0 .9h0m-0 .2h0m-0 1.1h0m-0 1.1h0m-0 1.7h0m-0 .7h0m-0 .1h0m-0 .9h0m-0 .2h0m.1-16.7h0m-0 .3h0m-0 1.2h0m-0 5.1h0m-0 .3h0m-0 1.8h0m-0 1.4h0m-0 .8h0m-0 2h0m-0 .6h0m-0 .2h0m-0 .1h0m-0 .2h0m-0-0h0m-0 1.1h0m-0 1.1h0m-0 .4h0m.1-16.1h0m-0 .5h0m-0 1.8h0m-0 .5h0m-0 .2h0m-0 1.2h0m-0 .2h0m-0 2.7h0m-0 .8h0m-0 3.5h0m-0 .8h0m-0 .5h0m-0 2.2h0m-0-0h0m.1-15h0m-0 .5h0m-0 .4h0m-0 2.1h0m-0 3.3h0m-0 .2h0m-0 .6h0m-0 1.3h0m-0 .9h0m-0 1.3h0m-0 .6h0m-0 .5h0m-0-0h0m-0 .6h0m-0 .2h0m-0 .6h0m-0 1.7h0m.1-14.2h0m-0 .1h0m-0 .6h0m-0 .8h0m-0 .7h0m-0 .2h0m-0-0h0m-0 .7h0m-0 1.3h0m-0 .5h0m-0 1.5h0m-0 2h0m-0 1.4h0m-0 1.6h0m-0 .1h0m-0 1.4h0m-0-0h0m-0 .7h0m-0 .5h0m-0 .1h0m.1-14.6h0m-0 .6h0m-0 .8h0m-0 1.9h0m-0 3.2h0m-0 1.5h0m-0 .8h0m-0 .6h0m-0 .4h0m-0 2.5h0m-0 .5h0m-0 1h0m-0 .6h0m-0 1.1h0m-0 .3h0m.1-15.7h0m-0 .1h0m-0 1.8h0m-0 3h0m-0 1.2h0m-0 .6h0m-0 1.3h0m-0 .7h0m-0 .6h0m-0 .7h0m-0 1h0m-0 .9h0m-0 1.1h0m-0 .1h0m-0 .2h0m-0 1.4h0m-0 .2h0m.1-15.6h0m-0 .3h0m-0 3.5h0m-0 .1h0m-0 .7h0m-0 1.2h0m-0 3.8h0m-0 1.5h0m-0 .4h0m-0 .2h0m-0 .2h0m-0 4.5h0m.1-16.2h0m-0 .9h0m-0 .5h0m-0 3.7h0m-0 .1h0m-0 .6h0m-0 1.8h0m-0 .5h0m-0 .3h0m-0 .2h0m-0 .2h0m-0 1h0m-0 .3h0m-0 2.7h0m-0 .1h0m-0 2.3h0m-0-0h0m-0 .3h0m-0 .1h0m.1-15.7h0m-0 .6h0m-0 2h0m-0 .2h0m-0 .7h0m-0 2h0m-0 .6h0m-0 .6h0m-0 2.1h0m-0 .3h0m-0 1.4h0m-0 .1h0m-0 1.6h0m-0 1.6h0m-0 .1h0m-0 .9h0m-0 1.6h0m.1-13.9h0m-0 .5h0m-0 2.6h0m-0 .4h0m-0 1.1h0m-0 7.2h0m.1-13.8h0m-0 .4h0m-0 1.7h0m-0-0h0m-0 1.1h0m-0 .9h0m-0-0h0m-0 2.2h0m-0 .1h0m-0 1.1h0m-0 1.7h0m-0 .9h0m-0 2h0m-0 1.3h0m-0 1.7h0m-0 .9h0m.1-16.6h0m-0 .2h0m-0 .7h0m-0 .1h0m-0 .1h0m-0 .7h0m-0 1.7h0m-0 1.3h0m-0 3.4h0m-0 .7h0m-0 .4h0m-0 3.3h0m-0 .2h0m-0 1.7h0m-0 .8h0m-0 .7h0m-0 .7h0m.1-16.1h0m-0 3h0m-0 .7h0m-0 .6h0m-0 .8h0m-0 .2h0m-0 1.8h0m-0 1.8h0m-0 .6h0m-0 .5h0m-0 .1h0m-0 .4h0m.1-10.6h0m-0 .8h0m-0 .9h0m-0 1.3h0m-0 .4h0m-0 2.3h0m-0 1.4h0m-0 1.9h0m-0 .3h0m-0 .1h0m-0 .6h0m-0 .3h0m-0 1.2h0m-0 .2h0m-0 .2h0m-0-0h0m-0 .9h0m-0 .7h0m-0 1.1h0m-0 .6h0m.1-13.5h0m-0 1.1h0m-0 .1h0m-0 .8h0m-0 .5h0m-0 2.6h0m-0 .3h0m-0 1.9h0m-0 .2h0m-0 .4h0m-0 2.4h0m-0 1.2h0m-0 2.1h0m-0 .4h0m.1-13.6h0m-0 .8h0m-0 .5h0m-0 3.1h0m-0 2.6h0m-0 2.4h0m-0 .7h0m-0 .1h0m-0 2.4h0m-0 1.1h0m-0 .1h0m.1-14.7h0m-0 .2h0m-0 .9h0m-0 2.1h0m-0 1.6h0m-0 .9h0m-0 .1h0m-0 .8h0m-0 .1h0m-0 3.7h0m-0 .8h0m-0-0h0m.1-9.4h0m-0 1.5h0m-0 .1h0m-0 .8h0m-0 .2h0m-0-0h0m-0 .6h0m-0 2.4h0m-0 1h0m-0 1.5h0m-0 1.6h0m-0-0h0m-0 .3h0m-0 2.9h0m.1-16.6h0m-0 .1h0m-0 .9h0m-0 .6h0m-0 .3h0m-0 2.8h0m-0 .8h0m-0 1.6h0m-0 .4h0m-0 .8h0m-0 .6h0m-0 .1h0m-0 3.3h0m-0 .4h0m-0 .2h0m-0 1.2h0m-0 2h0m-0 .6h0m.1-16.8h0m-0 .4h0m-0 .6h0m-0 .1h0m-0 1.1h0m-0 2.6h0m-0 .6h0m-0 2h0m-0 1h0m-0 .8h0m-0 2.2h0m-0 .3h0m-0 3.3h0m-0 .2h0m-0 .6h0m-0 .7h0m.1-16.3h0m-0 .6h0m-0 .6h0m-0 1.2h0m-0 4.2h0m-0 .5h0m-0 2.5h0m-0 1.8h0m-0 1h0m-0 1.1h0m-0 2.2h0m-0 .5h0m.1-14.4h0m-0 1.6h0m-0 .5h0m-0 1.5h0m-0 3.3h0m-0 .4h0m-0 3.9h0m-0 .8h0m-0 .3h0m-0 2.7h0m.1-16.1h0m-0-0h0m-0 .5h0m-0 1.3h0m-0 .4h0m-0 1.4h0m-0 3.8h0m-0 7.9h0m.1-16.1h0m-0 1.9h0m-0 .4h0m-0 2.2h0m-0 1.1h0m-0 .8h0m-0 .4h0m-0 2.5h0m-0 3.5h0m-0 2.3h0m.1-14.1h0m-0 .7h0m-0 .2h0m-0-0h0m-0 .7h0m-0 .3h0m-0 .7h0m-0 .6h0m-0 2.3h0m-0 4.1h0m-0 .2h0m-0 2.6h0m.1-12.3h0m-0 1.3h0m-0 .1h0m-0 3.4h0m-0 4.4h0m-0 1.1h0m-0 .3h0m-0 1.2h0m-0-0h0m-0 .2h0m-0 .6h0m-0 .2h0m-0 2h0m-0 .6h0m.1-11.9h0m-0-0h0m-0 .3h0m-0-0h0m-0 1.8h0m-0 .4h0m-0 1.8h0m-0 2.7h0m-0 2.3h0m-0 .3h0m.1-13.8h0m-0 1.1h0m-0 .1h0m-0 1.3h0m-0 .1h0m-0 .1h0m-0 1.9h0m-0 .6h0m-0 .5h0m-0 .5h0m-0 3.1h0m-0 .5h0m-0 2.5h0m-0 2.2h0m-0 .4h0m-0 .2h0m-0 .1h0m.1-12.9h0m-0 .9h0m-0-0h0m-0 3.7h0m-0 .9h0m-0 .6h0m-0 2.1h0m-0 2.1h0m-0 2.1h0m-0 1.6h0m.1-16.4h0m-0 4.8h0m-0 3.4h0m-0 .2h0m-0 1.3h0m-0 1.7h0m-0 1.6h0m-0 .1h0m-0 1.8h0m.1-14.5h0m-0 .2h0m-0 1h0m-0 1h0m-0 .7h0m-0 .7h0m-0 1.6h0m-0 .5h0m-0 1.7h0m-0 3.6h0m-0 .2h0m-0 .1h0m-0 .2h0m-0 .2h0m-0 .4h0m-0 .5h0m-0 .5h0m-0 .3h0m-0 .7h0m.1-14.2h0m-0 1.3h0m-0 1.7h0m-0 3.2h0m-0 3.1h0m-0 1.8h0m-0 .2h0m-0 .4h0m-0 .6h0m-0 .2h0m-0-0h0m-0 .5h0m-0 .4h0m-0 .1h0m.1-14.1h0m-0 .6h0m-0 1h0m-0 1.7h0m-0 2.7h0m-0 6.9h0m-0 1.9h0m-0 .5h0m-0 .3h0m-0 .4h0m.1-14.5h0m-0 2.5h0m-0-0h0m-0 4.2h0m-0 .7h0m-0 .3h0m-0 1.4h0m-0 3h0m-0 1.1h0m-0 .4h0m.1-11.9h0m-0 1.9h0m-0 .9h0m-0 .1h0m-0 2.2h0m-0 2.6h0m-0 .3h0m-0-0h0m-0 1.1h0m-0 .8h0m-0 1.4h0m.1-13.9h0m-0 4h0m-0-0h0m-0 1.6h0m-0 .6h0m-0 1.4h0m-0 1.5h0m-0 .5h0m-0 2.7h0m-0 2.1h0m-0 .3h0m-0 1.1h0m.1-15h0m-0 2.5h0m-0 .1h0m-0 6.7h0m-0 1h0m-0 .8h0m-0 3.1h0m.1-13.9h0m-0 9.6h0m-0-0h0m-0 1.6h0m-0 .3h0m-0 .7h0m-0 1.5h0m.1-14.9h0m-0 .9h0m-0 3.9h0m-0 1.7h0m-0 .8h0m-0 5.6h0m-0 .7h0m-0 .8h0m-0 1.6h0m-0 .2h0m.1-14.7h0m-0 .3h0m-0 5.1h0m-0 1.4h0m-0 .2h0m-0 1.9h0m-0 1h0m-0 .1h0m-0 .2h0m-0 1.6h0m-0 .4h0m-0 2.2h0m.1-15.6h0m-0 4.2h0m-0 1h0m-0 1h0m-0-0h0m-0 2.3h0m-0 7.1h0m.1-16h0m-0 2.9h0m-0 1.2h0m-0 1.8h0m-0 1.2h0m-0 .1h0m-0 5.1h0m-0 3.8h0m.1-15.1h0m-0 1.6h0m-0 .5h0m-0 1.4h0m-0-0h0m-0 .3h0m-0 3.6h0m-0 .5h0m-0 1.8h0m-0 .8h0m-0 .4h0m-0 2.1h0m.1-11.2h0m-0 .3h0m-0 2.2h0m-0 .5h0m-0 4.5h0m-0 .4h0m-0 2.8h0m-0-0h0m-0 .4h0m.1-12.4h0m-0 1.6h0m-0 1h0m-0 1.1h0m-0 .2h0m-0 .9h0m-0 .6h0m-0 1.8h0m-0 .1h0m-0 2.7h0m-0 1.4h0m-0 1h0m-0 2.6h0m.1-14.1h0m-0 3h0m-0 2.5h0m-0-0h0m-0 3.4h0m.1-8h0m-0 5.5h0m.1-7.9h0m-0 1.6h0m-0-0h0m-0 5.2h0m-0 .3h0m-0 1.6h0m-0 .1h0m-0 2.5h0m-0 4.3h0m.1-14.9h0m-0 .8h0m-0 1.7h0m-0 2.9h0m-0 1h0m-0 .6h0m-0 6.4h0m-0 .8h0m.1-13.6h0m-0 2h0m-0 6.5h0m-0 3.3h0m.1-14h0m-0 2.5h0m-0 1.6h0m-0 1.5h0m-0 1.9h0m-0 4.7h0m-0 .9h0m-0 .8h0m-0 .8h0m.1-10.9h0m-0 2h0m-0 .8h0m-0 1h0m-0 1.2h0m-0 7.6h0m.1-10.7h0m-0 6.9h0m-0 .7h0m-0 .6h0m-0 1.2h0m-0 .8h0m-0 .3h0m-0 .2h0m.1-15.7h0m-0 .5h0m-0 3h0m-0 6.2h0m-0 .1h0m-0 3.7h0m-0 1.6h0m-0 .3h0m.1-15.6h0m-0 1.5h0m-0 .8h0m-0 5.3h0m-0 2.4h0m-0 4h0m-0 .2h0m.1-14.2h0m-0 .8h0m-0 .2h0m-0 1.5h0m-0 1.9h0m-0 4.4h0m-0 .7h0m-0 4.9h0m.1-14.2h0m-0 5h0m-0 6.8h0m.1-12.7h0m-0 7.9h0m-0 2.2h0m-0 2.8h0m.1-13.2h0m-0 4.3h0m-0 1.4h0m-0 3.1h0m-0 4.6h0m-0 .8h0m.1-2.5h0m-0 .6h0m-0 1.5h0m-0 .1h0m-0 .3h0m-0 1.1h0m-0 1.4h0m.1-13.8h0m-0 .7h0m-0 1.8h0m-0 4.3h0m-0-0h0m-0 3h0m-0 2h0m-0 2h0m.1-9.5h0m-0 .7h0m-0 1.2h0m-0 1.2h0m-0 4.4h0m-0 1h0m.1-13.9h0m-0 2.8h0m-0 6.4h0m-0 4.7h0m.1-13.6h0m-0 7.5h0m.1-7.7h0m-0 1.4h0m-0 2h0m-0 3.5h0m-0 1.9h0m-0-0h0m-0 .8h0m-0 2.5h0m-0 1.3h0m-0 1h0m.1-15.8h0m-0 3.3h0m-0 .2h0m-0 .4h0m-0 2.8h0m-0 2.2h0m-0 3.5h0m-0 2.4h0m.1-13.7h0m-0 3.2h0m-0 1h0m-0 1.3h0m-0 1.2h0m-0 1.9h0m.1-9.4h0m-0 .8h0m-0 .7h0m-0 4h0m-0 .7h0m-0 6h0m-0 3.8h0m.1-14.2h0m-0 .9h0m-0 .1h0m-0 7.2h0m-0 .3h0m-0 4.3h0m-0 1.6h0m.1-12.1h0m-0 .2h0m-0 .8h0m-0 1h0m-0 4.1h0m-0 4h0m.1-9.7h0m-0 .2h0m-0 6.2h0m.1-9.8h0m-0 3.2h0m-0 3.4h0m-0 1.2h0m-0 1.9h0m.1-2.5h0m-0 7h0m.1-11.1h0m-0 6.7h0m-0 .7h0m-0 1.4h0m-0 .6h0m.1-8.2h0m-0 1h0m.1 9.1h0m.1-13.8h0m-0 .9h0m-0 7.8h0m-0 1.5h0m-0-0h0m-0 2.9h0m-0 .5h0m.1-14.2h0m-0 .8h0m-0 10.4h0m-0 3.3h0m.1-14.5h0m-0 1.1h0m-0 4.4h0m-0 5h0m.1-12h0m.1 6.4h0m-0-0h0m.1 6.4h0m-0 1.3h0m.1-9.4h0m.1 3.4h0m-0 4.2h0m-0 2.2h0m-0 .3h0m.1-13h0m-0 2.4h0m-0 .2h0m-0 2.9h0m-0 1.1h0m-0 2.8h0m.1-8.7h0m-0 2.2h0m-0 2.3h0m.1-3.7h0m-0 8.4h0m-0 1.9h0m-0 2.3h0m.1-1.8h0m-0 1.9h0m-0 .6h0m.1-14.7h0m.1-1.1h0m-0 7.4h0m.1-7.5h0m-0 12.1h0m.1-12h0m.1 .5h0m-0 7h0m-0 7.7h0m.1-13.8h0m-0 11.3h0m-0 1.6h0m.2-7.4h0m-0 1.2h0m.1-4.3h0m-0 .1h0m-0 6.8h0m.1 4.7h0m-0 .1h0m.2-13.6h0m.2-2.8h0m-0 10.2h0m.1 .8h0m-0 2.6h0m.1-5.2h0m-0 .9h0m-0 6.9h0m.1-8.4h0m-0 8.8h0m.2-12.1h0m.1 3.4h0m-0 3.5h0m.1-3.8h0m-0 1.3h0m.1 7.1h0m.2-3.2h0m-0 3.5h0m.1-12h0m.1 5.1h0m-0 5.3h0m.1-3.9h0m.1-10.3h0m.1 11.4h0m-0 2.8h0m.3-4.6h0m.2 2.9h0m.3 .1h0m-0 1.1h0m.1 1.9h0m.1 .6h0m.1-6.7h0m.1 .1h0m-0 3.8h0m.6-9.6h0m.3 2.3h0m.4 6.5h0m.1-4.6h0m.1 4.6h0m.2-7.3h0m.1 4.8h0m.2-1.5h0m-0 4h0m.1 3.2h0m.1-0h0m.1-.5h0m.2-6.4h0m-0 4.3h0m.1 1.8h0m.2-6.3h0m-0 3.5h0m-0 .4h0m.1-4.7h0m-0 .7h0m-0 7.2h0m1.2-5.9h0m-0 6.1h0m.3-7.3h0m-0 .1h0m.2 7.4h0m.1-3.6h0m.4-7.6h0m-0 10.8h0m.1-11.1h0m-0 7.4h0m.3-4.7h0m.2 5h0m.1-9.2h0m.1 1h0m.3-2.2h0m-0 6.6h0m.1 .2h0m.5 2.8h0m-0 .9h0m.3 3.3h0m.1-7.4h0m-0 .1h0m.2-8.1h0m-0 10.4h0m.1-2h0m.4-.3h0m-0 .8h0m-0 6.5h0m.2 .2h0m.1-3.8h0m.1 .1h0m.1 3.5h0m.2-0h0m.1-7.3h0m.1 3.9h0m.1-10.6h0m-0 1.5h0m.2 .6h0m-0 4.1h0m-0 4.6h0m.9-.2h0m.1-11.7h0m.1 7.5h0m.1 .7h0m.2-4.9h0m.3 3.7h0m-0 8.5h0m.2-7.7h0m.2 .3h0m.1 7h0m.2-7.2h0m.1-6.7h0m-0 8.2h0m.1-9.7h0m.1 8.7h0m.5 6.9h0m.1-16.2h0m.1 2.2h0m-0 1.5h0m-0 4.3h0m.2-2.4h0m-0 3.4h0m-0 1.4h0m.1-5.7h0m-0 4.1h0m-0 .8h0m-0 6.4h0m.1-15.7h0m.1 9.1h0m-0 6.6h0m.3-6h0m-0 .5h0m.2-7.8h0m.4 .9h0m-0 5.2h0m-0 .1h0m.1 3.6h0m-0 3.6h0m.1-15.9h0m.1 16h0m.5-9h0m.4 3.4h0m.1 5.8h0m.3-8.4h0m.1-3.8h0m-0 5.8h0m.3 2.9h0m.2-12.6h0m-0 15.7h0m-0 .3h0m.1-3.5h0m.1 3.4h0m.1-15h0m.1 8.6h0m.1-4.8h0m.4 3.7h0m.5 .3h0m-0-0h0m-0 7.1h0m.1-3.2h0m.2-.5h0m.6-3.8h0m-0 4h0m.1-11.3h0m-0 7.5h0m.3 .2h0m-0 7.3h0m.1-13.4h0m.1 9.7h0m.3-6.8h0m.1 1.5h0m.1 1.7h0m.1-5.6h0m.2-0h0m-0 9.3h0m.1-11.8h0m.4 11.9h0m.1-12.2h0m-0 15.3h0m.3-3.5h0m.4 .4h0m.1-2.8h0m.1-2.8h0m.1 5.5h0m.5-3.9h0m.1 7.5h0m.1-3.5h0m.2-3.7h0m.3 3.6h0m.6-3.8h0m.1-3.1h0m.3-2h0m.2-2.9h0m.5 11.9h0m.2-2.7h0m.4-1.3h0m1.1-.2h0m.5 4h0m.6-4h0m-0 .1h0m-0 3.8h0" stroke="#cfd7df" stroke-width="1.4" stroke-linecap="round" fill="none"/>
<line x1="538.0" y1="360.4" x2="683.4" y2="360.4" stroke="#c4c4c4" stroke-width="0.6" stroke-dasharray="1.5,1.5"/>
<line x1="608.2" y1="232.4" x2="608.2" y2="384.5" stroke="#c4c4c4" stroke-width="0.6" stroke-dasharray="1.5,1.5"/>
<line x1="613.2" y1="232.4" x2="613.2" y2="384.5" stroke="#c4c4c4" stroke-width="0.6" stroke-dasharray="1.5,1.5"/>
<path d="M551.8 283.0h0m8.8 47.3h0m3.1 16h0m.2 7.5h0m.3-9.2h0m.5-78.6h0m0 90.9h0m.1-.8h0m.5-6.8h0m.4 1.3h0m1.1-26.9h0m0 35h0m.2-1.2h0m.4-4.5h0m.4 7h0m.2-1h0m.1-14.4h0m0 9.6h0m.5-26.3h0m.1 25.5h0m0 6.5h0m1.4-7.7h0m.2 2.6h0m-0 .3h0m.3 4.5h0m.3 .8h0m.2-1.2h0m0 .4h0m.1-11.1h0m.4 10.5h0m.2-2.8h0m.2-8.7h0m1.2 12.9h0m1.3-1.2h0m.4-6.1h0m.1 3h0m.2-.2h0m-0 1.3h0m.4-34.1h0m.2 25.2h0m-0 7h0m.2-20.2h0m-0 25.1h0m.7-4.4h0m1.2 4h0m.4-2h0m.2-27.5h0m.6 18.1h0m.2 8.6h0m.6 .9h0m1.4-.8h0m.5-1.7h0m.2-11.8h0m.1 10.4h0m3.2-57.8h0m.1 50.5h0m.2-34.5h0m-0 18.8h0m-0 28.9h0m.1-26.5h0m-0 22.2h0m.4-6.6h0m.1 8.1h0m.1-13h0m.1-55.5h0m-0 71h0m.1 .7h0m.1-11.4h0m.3-10.1h0m.1 1.8h0m-0 7.5h0m-0 0h0m.1-6h0m-0 7.7h0m.2-58.9h0m-0 42.5h0m-0 5.3h0m-0 4.4h0m-0 11.2h0m-0 .1h0m.1-3.8h0m.1-.4h0m-0 8.6h0m.1-18.6h0m-0 14.6h0m.2-8.5h0m-0 12.1h0m.1-1.9h0m.1-26h0m.1-2.9h0m.2 16.3h0m.5-7.3h0m-0 9.4h0m-0 7h0m-0 .5h0m.3-12.5h0m-0 17.7h0m.3-2.7h0m.1-1.6h0m.1-1h0m-0 6h0m.4-23h0m.3 8.1h0m.1 13.8h0m-0 .8h0m.1-1.1h0m.3-44.1h0m.2 13.8h0m.2-11.4h0m-0 35.7h0m.1-5.5h0m.1-59.5h0m-0 60.7h0m.1-29.7h0m-0 36.7h0m.1 5.3h0m.2-50.7h0m-0 46.7h0m.2-5.1h0m.2-30.9h0m.1 23.2h0m.1 9.7h0m.2-51.1h0m.2 53.5h0m-0 5.1h0m-0-0h0m.1-53.1h0m-0 40.3h0m.6 8.1h0m-0 4.6h0m.1-7.7h0m-0 6.2h0m.1-1.5h0m.3-29.1h0m.2 15.6h0m.1 16.6h0m.1-11.8h0m.1-74.7h0m-0 64.6h0m-0 7.8h0m-0 11h0m.1-6.4h0m-0 6.2h0m.1-37.1h0m.3-5h0m-0 42.7h0m.1-35.2h0m-0 36.8h0m.1-.1h0m.1-6.2h0m.3 1.9h0m-0 3.1h0m.2-11.8h0m-0 9.5h0m-0 2.9h0m.1-14.8h0m.1 8.5h0m-0 7.2h0m.2-9.8h0m-0-0h0m.1 .6h0m-0 9.9h0m.1-15.9h0m-0 5.4h0m-0 6.9h0m-0 1.3h0m.1-77.6h0m-0 60.3h0m.1 10.7h0m.3-1.6h0m-0 7h0m.1 2.2h0m-0 .4h0m.2-10.8h0m.2 .1h0m-0 1.4h0m.2-48.6h0m-0 58.2h0m.1-13.7h0m-0 4h0m.1-4.7h0m.1-13.2h0m-0 23h0m-0 .9h0m-0 2.5h0m.2-87.2h0m-0 31.4h0m.1 44.8h0m-0 12.9h0m.3-7.2h0m.1-11.5h0m-0 14.4h0m.1-43.4h0m-0 42.8h0m.2-3.6h0m.1 4.4h0m.1-32h0m-0 19.9h0m-0 .4h0m.1-12.5h0m.1-2.4h0m-0 14.2h0m-0 15.9h0m.1-1.9h0m.1-7.7h0m-0 5.2h0m.1-22.7h0m-0 7.3h0m-0 6.5h0m-0 4.9h0m-0 1h0m-0 2.5h0m-0 3.7h0m-0 .7h0m-0 .3h0m.2-2.4h0m.1-1.2h0m.1-3.6h0m-0 6.9h0m.1-36.7h0m-0 28.2h0m-0 6h0m.1-4.9h0m-0 5.3h0m-0 1h0m-0 1.3h0m.1-9.5h0m.1-10.4h0m-0 3.7h0m-0 11.8h0m-0 .3h0m.1-11.3h0m-0 13.3h0m-0 2h0m-0 .2h0m.1-3h0m-0 .7h0m.1-16.7h0m-0 12.8h0m-0 1.4h0m-0 4.2h0m-0 1.3h0m.1-15.8h0m-0 13.6h0m-0 2.2h0m.1-31.1h0m-0 22h0m-0 3.8h0m-0 1.9h0m-0 2.1h0m-0 .8h0m.1-45.2h0m-0 14.1h0m-0 1.8h0m-0 10.3h0m-0 17.4h0m.1-1.9h0m-0 1.4h0m.1-13.1h0m-0 .2h0m-0 4.3h0m-0 .8h0m-0 7.8h0m-0 2.6h0m.1-21.4h0m-0 16.7h0m-0 2h0m.1-26h0m-0 24.9h0m.1-17.1h0m-0 10.6h0m-0 .1h0m-0 2.3h0m-0 5.5h0m-0 1.9h0m.1-10.7h0m-0 .2h0m-0 3.4h0m-0 1.2h0m-0 5.8h0m.1-52.5h0m-0 30.7h0m-0 4.4h0m-0 12.3h0m-0 .1h0m-0 .6h0m-0 3.7h0m-0 .5h0m.1-8.4h0m.1-6.6h0m-0 1.6h0m-0 3h0m-0 2.5h0m-0 2.3h0m-0 .9h0m.1-20.3h0m-0 4.3h0m-0 9.9h0m-0 2.5h0m-0 9h0m.1-39.5h0m-0 14.9h0m-0 .2h0m-0 8.2h0m-0 1h0m-0 2h0m.1-19.6h0m-0 21.1h0m.1-28.7h0m-0 28.8h0m-0 8.7h0m-0 1.6h0m.1-32.8h0m-0 17.2h0m-0 10.2h0m-0 .6h0m-0 1.5h0m.1-8.3h0m-0 1.1h0m-0 1.3h0m-0 .5h0m-0 .3h0m-0 4.3h0m-0 .3h0m-0 .9h0m-0 1.8h0m.1-6.8h0m-0 .5h0m-0 .6h0m-0 6.7h0m-0 .2h0m-0 .2h0m-0 1.3h0m.1-27.6h0m-0 3.4h0m-0 4.6h0m-0 5.9h0m-0 1.7h0m-0 8.5h0m-0 2.1h0m-0 1h0m.1-26.5h0m-0 .1h0m-0 2.2h0m-0 6.2h0m-0 11.1h0m-0 .7h0m-0 .2h0m-0 3.2h0m-0 1h0m-0 1.3h0m.1-30.5h0m-0 .6h0m-0 14.5h0m-0 3.3h0m-0 8.3h0m-0 .3h0m-0 .1h0m-0 1.7h0m-0 .7h0m.1-18.8h0m-0 3.1h0m-0 .5h0m-0 8.7h0m-0 8.4h0m.1-50.5h0m-0 32.5h0m-0 4.4h0m-0 9.2h0m-0 2.1h0m-0 .7h0m.1-8.6h0m-0 3.5h0m-0 3.6h0m.1-101.8h0m-0 24.3h0m-0 49.1h0m-0 2.2h0m-0 8.3h0m-0 13h0m-0 2.9h0m-0 2.2h0m-0 1.2h0m-0 .7h0m-0 .2h0m.1-14.8h0m-0 .1h0m-0 .8h0m-0 5.9h0m-0 6.4h0m-0 1.6h0m.1-78.3h0m-0 21.5h0m-0 45.8h0m-0 7.8h0m-0 .5h0m-0 1.3h0m-0 1.8h0m.1-20.7h0m-0 8.8h0m-0 .9h0m-0 8.8h0m-0 .5h0m.1-16.5h0m-0 .1h0m-0 5.6h0m-0 7h0m-0 .8h0m-0 .6h0m-0 .9h0m-0 .1h0m-0 2.6h0m-0 .4h0m.1-99.2h0m-0 87.2h0m-0 2.4h0m-0 2.5h0m-0 2h0m.1-20.3h0m-0 .2h0m-0 5.8h0m-0 11h0m-0 .4h0m-0 4h0m-0 .6h0m-0 .3h0m-0 3.1h0m.1-35.1h0m-0 13.5h0m-0 1h0m-0 2.5h0m-0 2.3h0m-0 5.3h0m-0 .1h0m-0 4.4h0m-0 2h0m-0 .7h0m-0 2.7h0m.1-42.8h0m-0 21.5h0m-0 7.1h0m-0 2.2h0m-0 4.8h0m-0 1.1h0m-0 .8h0m-0 3.6h0m-0 .1h0m-0 .1h0m-0 .9h0m-0 1.4h0m.1-30h0m-0 10.5h0m-0 3.9h0m-0 1.6h0m-0 1.1h0m-0 1.5h0m-0 1.5h0m-0 1h0m-0 4.9h0m-0 4h0m-0 .3h0m.1-35.3h0m-0 11.6h0m-0 14.5h0m-0 .5h0m-0 1.9h0m-0 .2h0m-0 .3h0m-0 .1h0m-0 .3h0m-0 2.5h0m-0 1.2h0m-0 .9h0m.1-23.1h0m-0 4.4h0m-0 .3h0m-0 1.3h0m-0 11.1h0m-0 .9h0m-0 1.4h0m-0 .4h0m-0 4.6h0m.1-17.8h0m-0 5.4h0m-0 4.6h0m-0 5h0m-0 0h0m-0 1.2h0m.1-16.4h0m-0 3.3h0m-0 3h0m-0 3.7h0m-0 .6h0m-0 1.5h0m-0 1.5h0m-0 1.4h0m-0 .3h0m-0 .5h0m.1-31.6h0m-0 14.6h0m-0 .4h0m-0 3h0m-0 3.5h0m-0 2.6h0m-0 .7h0m-0 2.2h0m-0 0h0m-0 .1h0m-0 .9h0m-0 .1h0m-0 1.3h0m-0 2.9h0m-0 .7h0m-0 .5h0m.1-102h0m-0 68h0m-0 20.2h0m-0 2.9h0m-0 1.3h0m-0 .1h0m-0 2.2h0m-0 .3h0m-0 .2h0m-0 1.2h0m-0 .3h0m-0 1.5h0m-0 .3h0m-0 .3h0m-0 1.8h0m-0 .9h0m.1-25.9h0m-0 4.2h0m-0 2.2h0m-0 5.2h0m-0 4.6h0m-0 1.2h0m-0 2.4h0m-0 .2h0m-0 1.3h0m-0 .2h0m-0 .4h0m.1-18.5h0m-0 1.2h0m-0 6.4h0m-0 4.9h0m-0 1.1h0m-0 .2h0m-0 5.8h0m-0 .1h0m-0 .6h0m-0 1.6h0m.1-45.3h0m-0 27.3h0m-0 6.7h0m-0 1.4h0m-0 .7h0m-0 1h0m-0 2.6h0m-0 2.8h0m-0 2.6h0m-0 .6h0m-0 .2h0m.1-45.4h0m-0 5.4h0m-0 12.4h0m-0 1.2h0m-0 .7h0m-0 5.9h0m-0 1h0m-0 6.5h0m-0 .9h0m-0 .3h0m-0 1.4h0m-0 2.9h0m-0 1.4h0m-0 2.7h0m-0 .8h0m-0 .8h0m-0 .6h0m-0 .5h0m.1-98.9h0m-0 38.5h0m-0 41.4h0m-0 .6h0m-0 4.5h0m-0 .7h0m-0 4.9h0m-0 5.3h0m.1-61.7h0m-0 32.5h0m-0 13.6h0m-0 10.6h0m-0 1.8h0m-0 1.3h0m-0 .5h0m-0 .3h0m-0 2.2h0m-0 .1h0m-0 1.4h0m.1-9.2h0m-0 7.6h0m-0 1.7h0m-0 .6h0m.1-36.2h0m-0 2.3h0m-0 2h0m-0 10h0m-0 .1h0m-0 5.4h0m-0 .9h0m-0 3.2h0m-0 .3h0m-0 3h0m-0 2.7h0m-0 2.2h0m-0 1.1h0m-0 .4h0m-0 .1h0m-0 2.1h0m.1-44.7h0m-0 18.9h0m-0 1.6h0m-0 2h0m-0 4.2h0m-0 9.5h0m-0 .3h0m-0 3.5h0m-0 1.8h0m-0 1.1h0m-0 .5h0m-0 .5h0m-0 .7h0m-0 .2h0m-0 .3h0m-0 .1h0m-0 .3h0m-0-0h0m.1-21.4h0m-0 13h0m-0 2.7h0m-0 1.5h0m-0 1.1h0m-0 1.9h0m.1-66.8h0m-0 11.9h0m-0 10.6h0m-0 4.9h0m-0 2.9h0m-0 .5h0m-0 12.2h0m-0 14.1h0m-0 1h0m-0 1.2h0m-0 2.5h0m-0 .6h0m-0 1.8h0m-0 1.6h0m-0 .4h0m-0 .6h0m-0 .8h0m.1-62.2h0m-0 25.7h0m-0 9.3h0m-0 9.8h0m-0 3.6h0m-0 .9h0m-0 .1h0m-0 1.1h0m-0 1h0m-0 .7h0m-0 .6h0m-0 .6h0m-0 .3h0m-0 3.3h0m-0 2.9h0m-0 .1h0m-0 2.6h0m.1-37.6h0m-0 18.3h0m-0 2.1h0m-0 6.4h0m-0 4.1h0m-0 2h0m-0 .6h0m-0 1.6h0m-0 .4h0m-0 1.6h0m-0 .1h0m-0 .5h0m-0-0h0m.1-37.2h0m-0 .9h0m-0 12.6h0m-0 1.5h0m-0 3.9h0m-0 5.3h0m-0 .6h0m-0 1.9h0m-0 2.5h0m-0 1.5h0m-0 4.1h0m.1-18.6h0m-0 2.7h0m-0 8.2h0m-0 1.6h0m-0 1.1h0m-0 3h0m-0 .4h0m-0 2.7h0m.1-46h0m-0 17.4h0m-0 4.3h0m-0 3.5h0m-0 .6h0m-0 2.9h0m-0 5.1h0m-0 1.4h0m-0 2.1h0m-0 2.4h0m-0 .9h0m-0 .2h0m-0 .4h0m-0 3.6h0m-0 .4h0m-0 .9h0m-0 .9h0m.1-50.7h0m-0 20h0m-0 10.1h0m-0 .2h0m-0 .6h0m-0 .9h0m-0 2.9h0m-0 3.8h0m-0 .6h0m-0 1.2h0m-0 .9h0m-0 .1h0m-0 1.4h0m-0 3h0m-0 1.7h0m-0 1.9h0m-0 .1h0m-0 .5h0m-0-0h0m.1-34.2h0m-0 6.1h0m-0 3.5h0m-0 1h0m-0 3.7h0m-0 1.4h0m-0 .9h0m-0 1.8h0m-0 6.2h0m-0 .3h0m-0 2.2h0m-0 .1h0m-0 1h0m-0 .6h0m-0 .3h0m-0 1.4h0m-0 3.7h0m-0 .1h0m-0 .5h0m.1-60.5h0m-0 28.6h0m-0 6.7h0m-0 6.6h0m-0 .6h0m-0 7h0m-0 .5h0m-0 .7h0m-0 .4h0m-0 .9h0m-0 2.2h0m-0 .7h0m-0 1.1h0m-0 .2h0m-0 .4h0m-0 .7h0m-0 1.7h0m.1-19.5h0m-0 7.7h0m-0 2.7h0m-0 .2h0m-0 3.6h0m-0 .4h0m-0 2.9h0m-0 2.5h0m-0 .1h0m-0 .4h0m-0 .1h0m-0 .4h0m-0 .1h0m-0-0h0m.1-53.1h0m-0 14.3h0m-0 7.9h0m-0 5.3h0m-0 12.3h0m-0 2.4h0m-0 2.4h0m-0 .2h0m-0 .4h0m-0 .5h0m-0 .6h0m-0 1.3h0m-0 3.3h0m-0-0h0m-0 .7h0m-0 .1h0m-0 .3h0m-0 .4h0m-0 .2h0m.1-31.9h0m-0 9.3h0m-0 8.2h0m-0 .6h0m-0 2.6h0m-0 2.1h0m-0 .3h0m-0 1.3h0m-0-0h0m-0 1.4h0m-0 .1h0m-0 1.8h0m-0 .2h0m-0 1.3h0m-0 .3h0m-0 .2h0m-0 .8h0m-0-0h0m-0 .1h0m-0 .1h0m-0 .9h0m-0 .4h0m-0 .7h0m.1-28.1h0m-0 10.1h0m-0 7.2h0m-0 .8h0m-0 .2h0m-0 .6h0m-0 .7h0m-0 .3h0m-0 .7h0m-0 1.4h0m-0 .7h0m-0 1.4h0m-0 .3h0m-0 .4h0m-0 1.5h0m.1-37.8h0m-0 2.2h0m-0 1.8h0m-0 .5h0m-0 5.9h0m-0 3.8h0m-0 2.2h0m-0 .1h0m-0 .3h0m-0 5.4h0m-0 1.2h0m-0 2.9h0m-0 .4h0m-0 2.8h0m-0 8.6h0m-0 .4h0m-0 .4h0m.1-92.1h0m-0 35.3h0m-0 14.4h0m-0 24.9h0m-0 .1h0m-0 1.9h0m-0 2.9h0m-0 1.3h0m-0 9.5h0m-0 1.2h0m-0 .2h0m-0 .7h0m.1-40.3h0m-0 20.1h0m-0 .9h0m-0 1.1h0m-0 1.9h0m-0 3.1h0m-0-0h0m-0 .6h0m-0 2h0m-0 .6h0m-0 .3h0m-0 .8h0m-0 1.1h0m-0 1.5h0m-0 3.3h0m-0-0h0m-0 1.1h0m-0 1.5h0m-0 .6h0m.1-47.9h0m-0 12.6h0m-0 9.4h0m-0 1.2h0m-0 7h0m-0 1.8h0m-0 2.3h0m-0 .8h0m-0 .1h0m-0 3.6h0m-0 .9h0m-0 .5h0m-0 .2h0m-0 1.8h0m-0 4.4h0m-0 .1h0m-0 .9h0m-0-0h0m.1-28.8h0m-0 5h0m-0 5.2h0m-0 .2h0m-0 1.1h0m-0 .8h0m-0 .3h0m-0 .1h0m-0 .3h0m-0 3.4h0m-0 1.1h0m-0 3.8h0m-0 2.3h0m-0 .7h0m-0 .5h0m-0 2.9h0m-0 .2h0m-0 .2h0m-0 .8h0m-0 .2h0m.1-39.1h0m-0 15.4h0m-0 3.9h0m-0 2h0m-0 1.2h0m-0 2.2h0m-0 2.9h0m-0 .1h0m-0 3.3h0m-0 .1h0m-0 .1h0m-0 1.3h0m-0 2.1h0m-0 1h0m-0 3h0m-0 .3h0m.1-48.7h0m-0 23.4h0m-0 2.8h0m-0 .7h0m-0 5.1h0m-0 1.8h0m-0 .1h0m-0 2.8h0m-0 3.9h0m-0-0h0m-0 .7h0m-0 .6h0m-0 .8h0m-0 1.9h0m-0 2h0m-0 .4h0m-0 1.1h0m-0-0h0m-0 .1h0m-0 1h0m.1-49.2h0m-0 18.9h0m-0 2.2h0m-0 2.7h0m-0 2.1h0m-0 2.5h0m-0 .3h0m-0 1.9h0m-0 3.2h0m-0 5.9h0m-0 .1h0m-0 .8h0m-0 1.5h0m-0 2.3h0m-0 1.1h0m-0 .7h0m-0 .1h0m-0 .3h0m-0 .1h0m-0 2h0m.1-60.2h0m-0 20.1h0m-0 6h0m-0 11.3h0m-0-0h0m-0 1.9h0m-0 3.4h0m-0 .8h0m-0 .4h0m-0 2.7h0m-0 3.5h0m-0 3.9h0m-0 .1h0m-0 3.7h0m-0 1.6h0m-0 .3h0m-0 .2h0m-0-0h0m.1-29.3h0m-0 9.1h0m-0 2.5h0m-0 1.5h0m-0 1.3h0m-0 .9h0m-0 1.1h0m-0 .3h0m-0 1.7h0m-0 5h0m-0 .4h0m-0 .7h0m-0 3.1h0m-0 .9h0m-0 .1h0m-0 .1h0m-0 1.3h0m-0 .1h0m.1-62h0m-0 36.4h0m-0 1.4h0m-0 2.3h0m-0 .1h0m-0 1h0m-0-0h0m-0 .5h0m-0 4h0m-0 2h0m-0 2.1h0m-0 .2h0m-0 1.4h0m-0 1.4h0m-0 .1h0m-0 2.4h0m-0 .3h0m-0 1.9h0m-0-0h0m-0 1.1h0m-0 1.4h0m-0 .2h0m-0 1.1h0m-0 .2h0m-0 .1h0m-0 .1h0m-0 .2h0m.1-37.8h0m-0 5.8h0m-0 2.5h0m-0 1.5h0m-0 11.2h0m-0 .4h0m-0 2.1h0m-0 5.3h0m-0 1.7h0m-0 .9h0m-0 .2h0m-0-0h0m-0 .6h0m-0 .2h0m-0 .1h0m-0 .1h0m-0 1.3h0m-0 1.7h0m-0 .5h0m-0 1.6h0m.1-35.6h0m-0 7h0m-0 5.3h0m-0 1.8h0m-0 3.9h0m-0 4h0m-0 1.4h0m-0 1h0m-0 2.2h0m-0 .6h0m-0 .2h0m-0 4.4h0m-0 .1h0m-0 .3h0m-0 .8h0m-0 .3h0m-0 .3h0m-0 .5h0m-0 .6h0m-0 1.1h0m.1-45.1h0m-0 21.9h0m-0 1h0m-0 6.7h0m-0 2h0m-0 1.9h0m-0 1.1h0m-0 1.6h0m-0-0h0m-0 2h0m-0 .3h0m-0 .4h0m-0 .1h0m-0 .6h0m-0 .5h0m-0 1.2h0m-0 1.5h0m-0 .3h0m-0 1.1h0m.1-36h0m-0 2.9h0m-0 12.5h0m-0 3.5h0m-0 2.7h0m-0 4.8h0m-0 2.8h0m-0-0h0m-0 2.6h0m-0 .2h0m-0 .2h0m-0 1h0m-0 .5h0m-0 .5h0m-0 .2h0m-0 1.2h0m-0 .1h0m.1-30.4h0m-0 .9h0m-0 1h0m-0 3.3h0m-0 7.1h0m-0 10.2h0m-0 3.9h0m-0 .5h0m-0 3.8h0m-0 .1h0" stroke="#4884bd" stroke-width="1.55" stroke-linecap="round" fill="none"/>
<path d="M608.2 359.1h0m.1-8.9h0m-0 10h0m.1-.8h0m.1-18.2h0m-0 16h0m-0 .4h0m-0 1.6h0m.1-13.4h0m-0 12.7h0m-0 1.7h0m.1-2.3h0m-0 .6h0m-0 1h0m.2 .2h0m-0 .5h0m.1-5.7h0m-0 5.4h0m.1-20.2h0m-0 9.6h0m-0 3.6h0m-0 5.1h0m-0 2.1h0m.1-14.9h0m-0 .8h0m-0 10.9h0m-0 3.1h0m.2-11.5h0m-0 9.6h0m.1-18.7h0m-0 13.9h0m-0 2.9h0m-0 2.2h0m.1-1.6h0m.1-6.7h0m-0 7.2h0m.1 2.1h0m-0 .5h0m.1-12.8h0m-0 12.2h0m.1-9h0m.1 1.1h0m-0 2.1h0m-0 3.2h0m.1-4.1h0m-0 3.8h0m-0 1.4h0m-0 .9h0m-0 1.1h0m.1-15.3h0m-0 4.5h0m-0 3.4h0m-0 2.5h0m-0 3.7h0m-0 .8h0m.1-1.5h0m-0 .5h0m-0 .6h0" stroke="#8cc6ec" stroke-width="1.55" stroke-linecap="round" fill="none"/>
<path d="M611.1 353.8h0m.2 3.7h0m.2-8.7h0m.6 9.6h0m.1-4.3h0m-0 2.5h0m.2-1.8h0m.2 3.9h0m.1 .9h0m.2-6.6h0" stroke="#f6a6b0" stroke-width="1.55" stroke-linecap="round" fill="none"/>
<path d="M613.3 350.3h0m0 6.6h0m0 1.4h0m0 0h0m.1-27.3h0m0 10h0m0 5.5h0m0 6.5h0m0 4.6h0m0 .3h0m0 .5h0m.1-34.8h0m0 12.3h0m0 .3h0m0 4.1h0m0 1.8h0m0 .7h0m0 6.1h0m0 7.7h0m0 3h0m.1-45.4h0m0 18.3h0m0 8.7h0m0 10.4h0m0 4.2h0m0 .7h0m.1-23.1h0m0 9h0m0 .1h0m0 9.2h0m0 .4h0m0 1h0m0 2.3h0m0 3h0m.1-47.1h0m-0 38.8h0m-0 2.2h0m-0 3.7h0m-0 .8h0m-0 .5h0m.1-25.5h0m-0 4.2h0m-0 5.2h0m-0 .7h0m-0 11.9h0m-0 1.3h0m-0 1.7h0m.1-25.5h0m-0 2.3h0m-0 11.4h0m-0 5.1h0m.1-26.8h0m-0 6.9h0m-0 10.9h0m-0 14.2h0m-0 3.8h0m.1-23.8h0m-0 15.8h0m-0 5.7h0m-0 1.9h0m-0 1.1h0m-0 .3h0m.1-18.7h0m-0 1.6h0m-0 .4h0m-0 6.8h0m-0 1.6h0m-0 1.7h0m-0 .2h0m-0 2.6h0m-0 3.3h0m.1-16.4h0m-0 3.6h0m-0 5h0m-0 1.2h0m-0 1.4h0m.1-74.4h0m-0 35.9h0m-0 2.5h0m-0 7.1h0m-0 4.3h0m-0 8.8h0m-0 5.2h0m-0 2.9h0m-0 4.6h0m-0 1.6h0m-0 4.3h0m-0 .7h0m-0 1h0m.1-70.6h0m-0 12.1h0m-0 23.6h0m-0 21.9h0m-0 4.5h0m-0 .4h0m-0 .7h0m-0 .1h0m-0 4.5h0m-0 .1h0m-0 1.7h0m.1-36.1h0m-0 13.1h0m-0 6.3h0m-0 6.5h0m-0 .9h0m-0 1.2h0m-0 4.6h0m-0 2h0m-0 .5h0m-0 2.4h0m-0 .3h0m.1-19.6h0m-0 14.6h0m-0 1.2h0m-0 1.6h0m-0 2.1h0m-0 .9h0m.1-76h0m-0 39h0m-0 2.5h0m-0 25.5h0m-0 .9h0m-0 .6h0m-0 5.8h0m-0-0h0m-0 1.3h0m.1-27.5h0m-0 .4h0m-0 2.9h0m-0 1.1h0m-0 1h0m-0 11.6h0m-0 5.4h0m-0 4.9h0m.1-22.2h0m-0 4.7h0m-0 4.6h0m-0 2.2h0m-0 4.7h0m-0 2.6h0m-0 1.3h0m.1-27.6h0m-0 6.5h0m-0 14.6h0m-0 .4h0m-0 1.5h0m-0 2.6h0m-0 1.4h0m-0 .2h0m-0 1.8h0m.1-22.2h0m-0 6.8h0m-0 2.9h0m-0 1.9h0m-0 .8h0m-0 7.6h0m-0 1.8h0m-0 .4h0m.1-20.5h0m-0 .7h0m-0 14.8h0m-0 4.4h0m.1-14.6h0m-0 3.1h0m-0 .9h0m-0 8.2h0m.1-39.5h0m-0 37.6h0m-0 6.2h0m.1-33.5h0m-0 18.5h0m-0 2.1h0m-0 .7h0m-0 .8h0m-0 10.1h0m.1-54h0m-0 20.1h0m-0 18.3h0m-0 1h0m-0 2.4h0m-0 6.6h0m.1-26.7h0m-0 .4h0m-0 17.7h0m-0 5.2h0m-0 4.8h0m-0 1.1h0m-0 4.2h0m.1-32h0m-0 6.5h0m-0 7.9h0m-0 2.9h0m-0 2.8h0m-0 .6h0m-0 4.7h0m-0 .6h0m.1-13.8h0m-0 6.2h0m-0 12.1h0m.1-43.8h0m-0 20.7h0m-0 20.1h0m-0 3.9h0m.1-14.8h0m-0 11.3h0m.1-32.9h0m-0 14.4h0m-0 19.7h0m-0 3h0m.1-32h0m-0 14.5h0m-0 4.6h0m-0 10.9h0m.1-.5h0m-0 .3h0m-0-0h0m.1-37.8h0m-0 19.6h0m-0 6.6h0m-0 9.6h0m.1-27.2h0m-0 26.7h0m-0 .2h0m-0 .4h0m-0 2.1h0m-0 1.8h0m.1-38.2h0m-0 16.1h0m-0 4.5h0m-0 5.8h0m-0 10h0m.1-33h0m-0 18.1h0m-0 13.1h0m.1-26.5h0m-0 15.4h0m-0 3h0m.1-20h0m-0 9.5h0m-0 19.8h0m-0 1.3h0m.1-17.9h0m-0 4.2h0m-0 2.6h0m-0 5.8h0m-0 2.7h0m-0 3.1h0m.1-8.7h0m-0 5.2h0m.1-6.4h0m-0 2.7h0m-0 3.6h0m-0 1.1h0m-0 .4h0m-0 .5h0m-0 1.5h0m.1-43.5h0m-0 35.1h0m.1-74.5h0m-0 72.7h0m-0 9.5h0m.1-23.5h0m-0 23.4h0m.2-13.2h0m-0 7.9h0m-0 1.5h0m-0 3.6h0m.1-37.3h0m-0 36.1h0m.1-74.2h0m-0 67.1h0m.2-35.4h0m-0 40.4h0m.1 2.8h0m.1-14.2h0m-0 16.2h0m.1-9.9h0m-0 4.1h0m.1-15.6h0m.1 15.5h0m-0 .5h0m.1 3.9h0m.1-5.1h0m.1-63.7h0m-0 65.9h0m-0 1.8h0m.1-26.3h0m.1 19.3h0m.1 6.2h0m.1-27.8h0m.1 6.9h0m-0 17.9h0m-0 .2h0m-0 .7h0m.1-13.8h0m-0 4.8h0m-0 12.2h0m.5-89h0m.1 38.2h0m.2 24.8h0m.2-93.2h0m.1 111.7h0m.2-6h0m.1-2.8h0m-0 11h0m1.1-5.7h0m1-35.2h0m.6-8.7h0m.4 51.3h0m-0 6.1h0m.4-33.1h0m.4 31.1h0m.6-9.4h0m.1-8.1h0m.2 13.9h0m1.5-42.6h0m.3 25.6h0m.3 13.1h0m1.1 1.7h0m-0 4.7h0m.1 1.2h0m.3 .6h0m1.3 1.1h0m.4-1.7h0m.6-6.9h0m1.4-4.3h0m.9-6.2h0m.2-11.3h0m.3 13.3h0m1.2 12.2h0m.1-7h0m.3 .4h0m.4 9.8h0m9.8-12.7h0m1.8 14.4h0m1.7-1.7h0m1.4-9h0m1.8-4.5h0m.4 10.3h0m-0 3.2h0m2.1-4h0m1 4.9h0m.1-.2h0m2-6.6h0m1.9 7.2h0m.4-3.8h0m3.9-9.7h0" stroke="#f4443b" stroke-width="1.55" stroke-linecap="round" fill="none"/>
<rect x="538.0" y="232.4" width="145.39999999999998" height="152.1" fill="none" stroke="#7a7a7a" stroke-width="1"/>
<line x1="536.8" y1="377.5" x2="538.0" y2="377.5" stroke="#7a7a7a" stroke-width="0.8"/>
<text x="536.60" y="380.20" font-size="7.5" text-anchor="end" fill="#222">0.0</text>
<line x1="536.8" y1="344.7" x2="538.0" y2="344.7" stroke="#7a7a7a" stroke-width="0.8"/>
<text x="536.60" y="347.40" font-size="7.5" text-anchor="end" fill="#222">2.5</text>
<line x1="536.8" y1="311.9" x2="538.0" y2="311.9" stroke="#7a7a7a" stroke-width="0.8"/>
<text x="536.60" y="314.60" font-size="7.5" text-anchor="end" fill="#222">5</text>
<line x1="536.8" y1="279.1" x2="538.0" y2="279.1" stroke="#7a7a7a" stroke-width="0.8"/>
<text x="536.60" y="281.80" font-size="7.5" text-anchor="end" fill="#222">7.5</text>
<line x1="536.8" y1="246.3" x2="538.0" y2="246.3" stroke="#7a7a7a" stroke-width="0.8"/>
<text x="536.60" y="249.00" font-size="7.5" text-anchor="end" fill="#222">10.0</text>
<line x1="559.5" y1="384.5" x2="559.5" y2="385.9" stroke="#7a7a7a" stroke-width="0.8"/>
<text x="559.55" y="393.10" font-size="7.5" text-anchor="middle" fill="#222">-10</text>
<line x1="611.0" y1="384.5" x2="611.0" y2="385.9" stroke="#7a7a7a" stroke-width="0.8"/>
<text x="611.00" y="393.10" font-size="7.5" text-anchor="middle" fill="#222">0</text>
<line x1="662.5" y1="384.5" x2="662.5" y2="385.9" stroke="#7a7a7a" stroke-width="0.8"/>
<text x="662.45" y="393.10" font-size="7.5" text-anchor="middle" fill="#222">10</text>
<text x="610.70" y="401.60" font-size="10" text-anchor="middle" fill="#222">log2FC</text>
<text x="517.60" y="308.45" font-size="10.2" text-anchor="middle" fill="#222" transform="rotate(-90 517.60 308.45)">-log10p-value</text>
<text x="541.20" y="243.80" font-size="10" text-anchor="start" fill="#4a86c6">Down 1420</text>
<text x="680.60" y="243.80" font-size="10" text-anchor="end" fill="#f43c3c">Up 302</text>
<text x="0.00" y="428.20" font-size="15" text-anchor="start" fill="#000" font-weight="bold">F</text>
<line x1="124.3" y1="439.2" x2="124.3" y2="532.8" stroke="#333" stroke-width="1"/>
<line x1="120.1" y1="532.4" x2="124.3" y2="532.4" stroke="#333" stroke-width="0.9"/>
<text x="118.30" y="535.10" font-size="7.5" text-anchor="end" fill="#222">0</text>
<line x1="120.1" y1="515.6" x2="124.3" y2="515.6" stroke="#333" stroke-width="0.9"/>
<text x="118.30" y="518.26" font-size="7.5" text-anchor="end" fill="#222">200</text>
<line x1="120.1" y1="498.7" x2="124.3" y2="498.7" stroke="#333" stroke-width="0.9"/>
<text x="118.30" y="501.42" font-size="7.5" text-anchor="end" fill="#222">400</text>
<line x1="120.1" y1="481.9" x2="124.3" y2="481.9" stroke="#333" stroke-width="0.9"/>
<text x="118.30" y="484.58" font-size="7.5" text-anchor="end" fill="#222">600</text>
<line x1="120.1" y1="465.0" x2="124.3" y2="465.0" stroke="#333" stroke-width="0.9"/>
<text x="118.30" y="467.74" font-size="7.5" text-anchor="end" fill="#222">800</text>
<line x1="120.1" y1="448.2" x2="124.3" y2="448.2" stroke="#333" stroke-width="0.9"/>
<text x="118.30" y="450.90" font-size="7.5" text-anchor="end" fill="#222">1000</text>
<text x="96.00" y="489.40" font-size="7.5" text-anchor="middle" fill="#222" transform="rotate(-90 96.00 489.40)">Intersection size</text>
<rect x="127.2" y="470.2" width="8.6" height="62.2" fill="#000"/>
<text x="131.50" y="468.18" font-size="7.7" text-anchor="middle" fill="#111">739</text>
<rect x="142.5" y="501.2" width="8.6" height="31.2" fill="#000"/>
<text x="146.80" y="499.25" font-size="7.7" text-anchor="middle" fill="#111">370</text>
<rect x="157.4" y="518.9" width="8.6" height="13.5" fill="#000"/>
<text x="161.70" y="516.93" font-size="7.7" text-anchor="middle" fill="#111">160</text>
<rect x="172.7" y="521.6" width="8.6" height="10.8" fill="#000"/>
<text x="177.00" y="519.62" font-size="7.7" text-anchor="middle" fill="#111">128</text>
<rect x="187.9" y="444.0" width="8.6" height="88.4" fill="#000"/>
<text x="192.20" y="441.99" font-size="7.7" text-anchor="middle" fill="#111">1050</text>
<rect x="203.0" y="517.7" width="8.6" height="14.7" fill="#000"/>
<text x="207.30" y="515.75" font-size="7.7" text-anchor="middle" fill="#111">174</text>
<rect x="56" y="552.6" width="161" height="11" fill="#efefef"/>
<rect x="56" y="581.0" width="161" height="11" fill="#efefef"/>
<text x="119.40" y="546.70" font-size="7.6" text-anchor="end" fill="#222">Treated_Up</text>
<text x="119.40" y="560.70" font-size="7.6" text-anchor="end" fill="#222">Untreated_Down</text>
<text x="119.40" y="574.90" font-size="7.6" text-anchor="end" fill="#222">Treated_Down</text>
<text x="119.40" y="589.10" font-size="7.6" text-anchor="end" fill="#222">Untreated_Up</text>
<circle cx="131.5" cy="544.0" r="3.4" fill="#d4d4d4"/>
<circle cx="131.5" cy="558.0" r="3.4" fill="#c6c6c6"/>
<circle cx="131.5" cy="572.2" r="3.4" fill="#d4d4d4"/>
<circle cx="131.5" cy="586.4" r="4.0" fill="#000"/>
<circle cx="146.8" cy="544.0" r="3.4" fill="#d4d4d4"/>
<circle cx="146.8" cy="558.0" r="3.4" fill="#c6c6c6"/>
<circle cx="146.8" cy="586.4" r="3.4" fill="#c6c6c6"/>
<circle cx="146.8" cy="572.2" r="4.0" fill="#000"/>
<circle cx="161.7" cy="544.0" r="3.4" fill="#d4d4d4"/>
<circle cx="161.7" cy="572.2" r="3.4" fill="#d4d4d4"/>
<circle cx="161.7" cy="586.4" r="3.4" fill="#c6c6c6"/>
<circle cx="161.7" cy="558.0" r="4.0" fill="#000"/>
<circle cx="177.0" cy="558.0" r="3.4" fill="#c6c6c6"/>
<circle cx="177.0" cy="572.2" r="3.4" fill="#d4d4d4"/>
<circle cx="177.0" cy="586.4" r="3.4" fill="#c6c6c6"/>
<circle cx="177.0" cy="544.0" r="4.0" fill="#000"/>
<circle cx="192.2" cy="544.0" r="3.4" fill="#d4d4d4"/>
<circle cx="192.2" cy="558.0" r="3.4" fill="#c6c6c6"/>
<line x1="192.2" y1="572.2" x2="192.2" y2="586.4" stroke="#000" stroke-width="1.4"/>
<circle cx="192.2" cy="572.2" r="4.0" fill="#000"/>
<circle cx="192.2" cy="586.4" r="4.0" fill="#000"/>
<circle cx="207.3" cy="572.2" r="3.4" fill="#d4d4d4"/>
<circle cx="207.3" cy="586.4" r="3.4" fill="#c6c6c6"/>
<line x1="207.3" y1="544.0" x2="207.3" y2="558.0" stroke="#000" stroke-width="1.4"/>
<circle cx="207.3" cy="544.0" r="4.0" fill="#000"/>
<circle cx="207.3" cy="558.0" r="4.0" fill="#000"/>
<rect x="48.7" y="540.2" width="6.1" height="7.6" fill="#c62828"/>
<text x="47.20" y="546.60" font-size="7.4" text-anchor="end" fill="#222">302</text>
<rect x="48.7" y="554.2" width="6.1" height="7.6" fill="#a9cfea"/>
<text x="47.20" y="560.60" font-size="7.4" text-anchor="end" fill="#222">334</text>
<rect x="28.9" y="568.4" width="25.9" height="7.6" fill="#3a6aa5"/>
<text x="27.40" y="574.80" font-size="7.4" text-anchor="end" fill="#222">1420</text>
<rect x="25.0" y="582.6" width="29.8" height="7.6" fill="#ef7580"/>
<text x="23.50" y="589.00" font-size="7.4" text-anchor="end" fill="#222">1789</text>
<path d="M20.1 594.4 H55.5 M23.6 594.4 V596.6 M55.0 594.4 V596.6" stroke="#222" stroke-width="0.9" fill="none"/>
<text x="23.70" y="605.00" font-size="7.7" text-anchor="middle" fill="#222">2000</text>
<text x="54.80" y="605.00" font-size="7.7" text-anchor="middle" fill="#222">0</text>
<text x="253.30" y="428.20" font-size="15" text-anchor="start" fill="#000" font-weight="bold">G</text>
<rect x="306.1" y="477.1" width="8.7" height="66.7" fill="#7aaadb"/>
<rect x="323.9" y="477.1" width="8.7" height="66.7" fill="#7aaadb"/>
<rect x="342.2" y="469.1" width="8.7" height="74.7" fill="#7aaadb"/>
<rect x="360.2" y="469.1" width="8.7" height="74.7" fill="#7aaadb"/>
<rect x="378.5" y="469.1" width="8.7" height="74.7" fill="#7aaadb"/>
<rect x="396.5" y="468.3" width="8.7" height="75.5" fill="#7aaadb"/>
<rect x="414.8" y="461.0" width="8.7" height="82.8" fill="#7aaadb"/>
<rect x="433.1" y="448.0" width="8.7" height="95.8" fill="#7aaadb"/>
<rect x="451.5" y="443.0" width="8.7" height="100.8" fill="#7aaadb"/>
<rect x="469.8" y="441.9" width="8.7" height="101.9" fill="#7aaadb"/>
<rect x="482.2" y="499.0" width="8.8" height="44.8" fill="#e98290"/>
<rect x="500.2" y="498.0" width="8.8" height="45.8" fill="#e98290"/>
<rect x="518.7" y="493.0" width="8.8" height="50.8" fill="#e98290"/>
<rect x="536.6" y="489.0" width="8.8" height="54.8" fill="#e98290"/>
<rect x="555.2" y="484.0" width="8.8" height="59.8" fill="#e98290"/>
<rect x="573.0" y="483.0" width="8.8" height="60.8" fill="#e98290"/>
<rect x="591.6" y="466.9" width="8.8" height="76.9" fill="#e98290"/>
<rect x="609.5" y="463.0" width="8.8" height="80.8" fill="#e98290"/>
<rect x="628.1" y="462.2" width="8.8" height="81.6" fill="#e98290"/>
<rect x="646.4" y="455.0" width="8.8" height="88.8" fill="#e98290"/>
<path d="M305.5 431.4 H478.4" stroke="#c6dcf0" stroke-width="0.9"/>
<path d="M305.5 432.4 V544 H478.4 V432.4 Z" stroke="#222" stroke-width="0.9" fill="none"/>
<path d="M482.4 431.4 H654.8" stroke="#f4c4cb" stroke-width="0.9"/>
<path d="M482.4 432.4 V544 H654.8 V432.4 Z" stroke="#222" stroke-width="0.9" fill="none"/>
<text x="398.40" y="429.70" font-size="7.6" text-anchor="middle" fill="#111">BP</text>
<text x="568.30" y="429.70" font-size="7.6" text-anchor="middle" fill="#111">CC</text>
<line x1="654.8" y1="543.8" x2="656.8" y2="543.8" stroke="#111" stroke-width="0.8"/>
<text x="658.20" y="546.30" font-size="7.2" text-anchor="start" fill="#111">0</text>
<line x1="654.8" y1="515.9" x2="656.8" y2="515.9" stroke="#111" stroke-width="0.8"/>
<text x="658.20" y="518.40" font-size="7.2" text-anchor="start" fill="#111">3</text>
<line x1="654.8" y1="488.0" x2="656.8" y2="488.0" stroke="#111" stroke-width="0.8"/>
<text x="658.20" y="490.50" font-size="7.2" text-anchor="start" fill="#111">6</text>
<line x1="654.8" y1="460.1" x2="656.8" y2="460.1" stroke="#111" stroke-width="0.8"/>
<text x="658.20" y="462.60" font-size="7.2" text-anchor="start" fill="#111">9</text>
<line x1="654.8" y1="432.2" x2="656.8" y2="432.2" stroke="#111" stroke-width="0.8"/>
<text x="658.20" y="434.70" font-size="7.2" text-anchor="start" fill="#111">12</text>
<text x="678.50" y="487.50" font-size="9.8" text-anchor="middle" fill="#111" transform="rotate(-90 678.50 487.50)">-log10P-value</text>
<line x1="310.5" y1="544" x2="310.5" y2="545.6" stroke="#333" stroke-width="0.7"/>
<text x="309.00" y="550.20" font-size="7.8" text-anchor="end" fill="#222" transform="rotate(-44 309.00 550.20)">Regulation of synaptic transmission</text>
<line x1="328.2" y1="544" x2="328.2" y2="545.6" stroke="#333" stroke-width="0.7"/>
<text x="326.80" y="550.20" font-size="7.8" text-anchor="end" fill="#222" transform="rotate(-44 326.80 550.20)">Neuropeptide signaling pathway</text>
<line x1="346.6" y1="544" x2="346.6" y2="545.6" stroke="#333" stroke-width="0.7"/>
<text x="345.10" y="550.20" font-size="7.8" text-anchor="end" fill="#222" transform="rotate(-44 345.10 550.20)">Regulation of trans-synaptic signaling</text>
<line x1="364.6" y1="544" x2="364.6" y2="545.6" stroke="#333" stroke-width="0.7"/>
<text x="363.10" y="550.20" font-size="7.8" text-anchor="end" fill="#222" transform="rotate(-44 363.10 550.20)">Cellular response to dopamine</text>
<line x1="382.9" y1="544" x2="382.9" y2="545.6" stroke="#333" stroke-width="0.7"/>
<text x="381.40" y="550.20" font-size="7.8" text-anchor="end" fill="#222" transform="rotate(-44 381.40 550.20)">Modulation of chemical synaptic transmission</text>
<line x1="400.9" y1="544" x2="400.9" y2="545.6" stroke="#333" stroke-width="0.7"/>
<text x="399.40" y="550.20" font-size="7.8" text-anchor="end" fill="#222" transform="rotate(-44 399.40 550.20)">Synaptic transmission,glutamatergic</text>
<line x1="419.2" y1="544" x2="419.2" y2="545.6" stroke="#333" stroke-width="0.7"/>
<text x="417.70" y="550.20" font-size="7.8" text-anchor="end" fill="#222" transform="rotate(-44 417.70 550.20)">Locomotory behavior</text>
<line x1="437.5" y1="544" x2="437.5" y2="545.6" stroke="#333" stroke-width="0.7"/>
<text x="436.00" y="550.20" font-size="7.8" text-anchor="end" fill="#222" transform="rotate(-44 436.00 550.20)">synaptic signaling</text>
<line x1="455.9" y1="544" x2="455.9" y2="545.6" stroke="#333" stroke-width="0.7"/>
<text x="454.40" y="550.20" font-size="7.8" text-anchor="end" fill="#222" transform="rotate(-44 454.40 550.20)">Trans-synaptic signaling</text>
<line x1="474.2" y1="544" x2="474.2" y2="545.6" stroke="#333" stroke-width="0.7"/>
<text x="472.70" y="550.20" font-size="7.8" text-anchor="end" fill="#222" transform="rotate(-44 472.70 550.20)">chemical synaptic transmission</text>
<line x1="486.6" y1="544" x2="486.6" y2="545.6" stroke="#333" stroke-width="0.7"/>
<text x="490.90" y="549.80" font-size="7.8" text-anchor="end" fill="#222" transform="rotate(-44 490.90 549.80)">neuronal dense core vesicle</text>
<line x1="504.6" y1="544" x2="504.6" y2="545.6" stroke="#333" stroke-width="0.7"/>
<text x="508.90" y="549.80" font-size="7.8" text-anchor="end" fill="#222" transform="rotate(-44 508.90 549.80)">postsynaptic membrane</text>
<line x1="523.1" y1="544" x2="523.1" y2="545.6" stroke="#333" stroke-width="0.7"/>
<text x="527.40" y="549.80" font-size="7.8" text-anchor="end" fill="#222" transform="rotate(-44 527.40 549.80)">distal axon</text>
<line x1="541.0" y1="544" x2="541.0" y2="545.6" stroke="#333" stroke-width="0.7"/>
<text x="545.30" y="549.80" font-size="7.8" text-anchor="end" fill="#222" transform="rotate(-44 545.30 549.80)">presynapse</text>
<line x1="559.6" y1="544" x2="559.6" y2="545.6" stroke="#333" stroke-width="0.7"/>
<text x="563.90" y="549.80" font-size="7.8" text-anchor="end" fill="#222" transform="rotate(-44 563.90 549.80)">somatodendritic compartment</text>
<line x1="577.4" y1="544" x2="577.4" y2="545.6" stroke="#333" stroke-width="0.7"/>
<text x="581.70" y="549.80" font-size="7.8" text-anchor="end" fill="#222" transform="rotate(-44 581.70 549.80)">axon</text>
<line x1="596.0" y1="544" x2="596.0" y2="545.6" stroke="#333" stroke-width="0.7"/>
<text x="600.30" y="549.80" font-size="7.8" text-anchor="end" fill="#222" transform="rotate(-44 600.30 549.80)">neuron projection terminus</text>
<line x1="613.9" y1="544" x2="613.9" y2="545.6" stroke="#333" stroke-width="0.7"/>
<text x="618.20" y="549.80" font-size="7.8" text-anchor="end" fill="#222" transform="rotate(-44 618.20 549.80)">neuron projection</text>
<line x1="632.5" y1="544" x2="632.5" y2="545.6" stroke="#333" stroke-width="0.7"/>
<text x="636.80" y="549.80" font-size="7.8" text-anchor="end" fill="#222" transform="rotate(-44 636.80 549.80)">axon terminus</text>
<line x1="650.8" y1="544" x2="650.8" y2="545.6" stroke="#333" stroke-width="0.7"/>
<text x="655.10" y="549.80" font-size="7.8" text-anchor="end" fill="#222" transform="rotate(-44 655.10 549.80)">synapse</text>
<text x="1.30" y="667.40" font-size="15" text-anchor="start" fill="#000" font-weight="bold">H</text>
<line x1="137.5" y1="668.6" x2="137.5" y2="937.0" stroke="#ebebeb" stroke-width="0.6"/>
<line x1="150.6" y1="668.6" x2="150.6" y2="937.0" stroke="#ebebeb" stroke-width="0.6"/>
<line x1="163.6" y1="668.6" x2="163.6" y2="937.0" stroke="#ebebeb" stroke-width="0.6"/>
<line x1="176.7" y1="668.6" x2="176.7" y2="937.0" stroke="#ebebeb" stroke-width="0.6"/>
<line x1="189.7" y1="668.6" x2="189.7" y2="937.0" stroke="#ebebeb" stroke-width="0.6"/>
<line x1="202.8" y1="668.6" x2="202.8" y2="937.0" stroke="#ebebeb" stroke-width="0.6"/>
<line x1="215.8" y1="668.6" x2="215.8" y2="937.0" stroke="#ebebeb" stroke-width="0.6"/>
<line x1="228.9" y1="668.6" x2="228.9" y2="937.0" stroke="#ebebeb" stroke-width="0.6"/>
<line x1="241.9" y1="668.6" x2="241.9" y2="937.0" stroke="#ebebeb" stroke-width="0.6"/>
<line x1="254.9" y1="668.6" x2="254.9" y2="937.0" stroke="#ebebeb" stroke-width="0.6"/>
<line x1="124.3" y1="681.8" x2="267.2" y2="681.8" stroke="#e8e8e8" stroke-width="0.7"/>
<line x1="124.3" y1="698.9" x2="267.2" y2="698.9" stroke="#e8e8e8" stroke-width="0.7"/>
<line x1="124.3" y1="716.2" x2="267.2" y2="716.2" stroke="#e8e8e8" stroke-width="0.7"/>
<line x1="124.3" y1="733.8" x2="267.2" y2="733.8" stroke="#e8e8e8" stroke-width="0.7"/>
<line x1="124.3" y1="751.1" x2="267.2" y2="751.1" stroke="#e8e8e8" stroke-width="0.7"/>
<line x1="124.3" y1="768.2" x2="267.2" y2="768.2" stroke="#e8e8e8" stroke-width="0.7"/>
<line x1="124.3" y1="785.6" x2="267.2" y2="785.6" stroke="#e8e8e8" stroke-width="0.7"/>
<line x1="124.3" y1="803.1" x2="267.2" y2="803.1" stroke="#e8e8e8" stroke-width="0.7"/>
<line x1="124.3" y1="820.7" x2="267.2" y2="820.7" stroke="#e8e8e8" stroke-width="0.7"/>
<line x1="124.3" y1="837.8" x2="267.2" y2="837.8" stroke="#e8e8e8" stroke-width="0.7"/>
<line x1="124.3" y1="855.2" x2="267.2" y2="855.2" stroke="#e8e8e8" stroke-width="0.7"/>
<line x1="124.3" y1="872.8" x2="267.2" y2="872.8" stroke="#e8e8e8" stroke-width="0.7"/>
<line x1="124.3" y1="889.8" x2="267.2" y2="889.8" stroke="#e8e8e8" stroke-width="0.7"/>
<line x1="124.3" y1="907.2" x2="267.2" y2="907.2" stroke="#e8e8e8" stroke-width="0.7"/>
<line x1="124.3" y1="924.9" x2="267.2" y2="924.9" stroke="#e8e8e8" stroke-width="0.7"/>
<path d="M124.3 668.6 V937.0 H267.2 V668.6 Z" stroke="#666" stroke-width="1" fill="none"/>
<line x1="122.5" y1="681.8" x2="124.3" y2="681.8" stroke="#666" stroke-width="0.7"/>
<text x="119.10" y="684.40" font-size="7.6" text-anchor="end" fill="#222">Axon ensheathment</text>
<path d="M152.1 679.8L154.0 683.2L150.2 683.2Z" fill="#b00b26"/>
<circle cx="216.3" cy="681.8" r="2.18" fill="#b00b26"/>
<line x1="122.5" y1="698.9" x2="124.3" y2="698.9" stroke="#666" stroke-width="0.7"/>
<text x="119.10" y="701.50" font-size="7.6" text-anchor="end" fill="#222">Neuron differentiation</text>
<path d="M141.5 696.9L143.4 700.3L139.6 700.3Z" fill="#384ba0"/>
<circle cx="190.0" cy="698.9" r="3.45" fill="#b00b26"/>
<line x1="122.5" y1="716.2" x2="124.3" y2="716.2" stroke="#666" stroke-width="0.7"/>
<text x="119.10" y="718.80" font-size="7.6" text-anchor="end" fill="#222">Neuron development</text>
<path d="M141.5 714.2L143.4 717.6L139.6 717.6Z" fill="#5b90c2"/>
<circle cx="191.0" cy="716.2" r="3.45" fill="#b00b26"/>
<line x1="122.5" y1="733.8" x2="124.3" y2="733.8" stroke="#666" stroke-width="0.7"/>
<text x="119.10" y="736.40" font-size="7.6" text-anchor="end" fill="#222">Synapse assembly</text>
<path d="M141.5 731.8L143.4 735.2L139.6 735.2Z" fill="#96c8e0"/>
<circle cx="202.2" cy="733.8" r="2.53" fill="#b00b26"/>
<line x1="122.5" y1="751.1" x2="124.3" y2="751.1" stroke="#666" stroke-width="0.7"/>
<text x="119.10" y="753.70" font-size="7.6" text-anchor="end" fill="#222">Neuron apoptotic process</text>
<path d="M141.5 749.1L143.4 752.5L139.6 752.5Z" fill="#a8d7e8"/>
<circle cx="197.0" cy="751.1" r="2.42" fill="#b00b26"/>
<line x1="122.5" y1="768.2" x2="124.3" y2="768.2" stroke="#666" stroke-width="0.7"/>
<text x="119.10" y="770.80" font-size="7.6" text-anchor="end" fill="#222">Neuron projection development</text>
<path d="M141.5 766.2L143.4 769.6L139.6 769.6Z" fill="#4b7db8"/>
<circle cx="188.7" cy="768.2" r="3.33" fill="#b00b26"/>
<line x1="122.5" y1="785.6" x2="124.3" y2="785.6" stroke="#666" stroke-width="0.7"/>
<text x="119.10" y="788.20" font-size="7.6" text-anchor="end" fill="#222">Neuron migration</text>
<path d="M143.0 783.6L144.9 787.0L141.1 787.0Z" fill="#f4fbd2"/>
<circle cx="203.5" cy="785.6" r="2.18" fill="#b00b26"/>
<line x1="122.5" y1="803.1" x2="124.3" y2="803.1" stroke="#666" stroke-width="0.7"/>
<text x="119.10" y="805.70" font-size="7.6" text-anchor="end" fill="#222">Neuronal action potential</text>
<path d="M152.5 801.1L154.4 804.5L150.6 804.5Z" fill="#f47044"/>
<circle cx="226.0" cy="803.1" r="2.07" fill="#b00b26"/>
<line x1="122.5" y1="820.7" x2="124.3" y2="820.7" stroke="#666" stroke-width="0.7"/>
<text x="119.10" y="823.30" font-size="7.6" text-anchor="end" fill="#222">Synapse organization</text>
<path d="M141.0 818.7L142.9 822.1L139.1 822.1Z" fill="#36449c"/>
<circle cx="192.2" cy="820.7" r="3.33" fill="#b61026"/>
<line x1="122.5" y1="837.8" x2="124.3" y2="837.8" stroke="#666" stroke-width="0.7"/>
<text x="119.10" y="840.40" font-size="7.6" text-anchor="end" fill="#222">Neurotransmitter transport</text>
<path d="M143.4 835.8L145.3 839.2L141.5 839.2Z" fill="#fedf8f"/>
<circle cx="200.0" cy="837.8" r="2.53" fill="#b61026"/>
<line x1="122.5" y1="855.2" x2="124.3" y2="855.2" stroke="#666" stroke-width="0.7"/>
<text x="119.10" y="857.80" font-size="7.6" text-anchor="end" fill="#222">Neuron projection morphogenesis</text>
<path d="M141.9 853.2L143.8 856.6L140.0 856.6Z" fill="#96c8e0"/>
<circle cx="189.3" cy="855.2" r="3.22" fill="#bc1626"/>
<line x1="122.5" y1="872.8" x2="124.3" y2="872.8" stroke="#666" stroke-width="0.7"/>
<text x="119.10" y="875.40" font-size="7.6" text-anchor="end" fill="#222">Axon development</text>
<path d="M141.7 870.8L143.6 874.2L139.8 874.2Z" fill="#8fc3dd"/>
<circle cx="190.3" cy="872.8" r="3.22" fill="#c11b27"/>
<line x1="122.5" y1="889.8" x2="124.3" y2="889.8" stroke="#666" stroke-width="0.7"/>
<text x="119.10" y="892.40" font-size="7.6" text-anchor="end" fill="#222">Dendrite morphogenesis</text>
<path d="M140.0 887.8L141.9 891.2L138.1 891.2Z" fill="#36449c"/>
<circle cx="191.0" cy="889.8" r="2.30" fill="#e85438"/>
<line x1="122.5" y1="907.2" x2="124.3" y2="907.2" stroke="#666" stroke-width="0.7"/>
<text x="119.10" y="909.80" font-size="7.6" text-anchor="end" fill="#222">Neuron projection organization</text>
<path d="M140.8 905.2L142.7 908.6L138.9 908.6Z" fill="#77afd2"/>
<circle cx="194.5" cy="907.2" r="2.18" fill="#ef623e"/>
<line x1="122.5" y1="924.9" x2="124.3" y2="924.9" stroke="#666" stroke-width="0.7"/>
<text x="119.10" y="927.50" font-size="7.6" text-anchor="end" fill="#222">Neuron projection extension</text>
<path d="M139.4 922.9L141.3 926.3L137.5 926.3Z" fill="#36449c"/>
<circle cx="190.2" cy="924.9" r="2.18" fill="#ef623e"/>
<text x="136.60" y="945.80" font-size="7.3" text-anchor="middle" fill="#222">0.00</text>
<text x="162.50" y="945.80" font-size="7.3" text-anchor="middle" fill="#222">0.06</text>
<text x="188.60" y="945.80" font-size="7.3" text-anchor="middle" fill="#222">0.12</text>
<text x="214.70" y="945.80" font-size="7.3" text-anchor="middle" fill="#222">0.18</text>
<text x="240.80" y="945.80" font-size="7.3" text-anchor="middle" fill="#222">0.24</text>
<text x="266.70" y="945.80" font-size="7.3" text-anchor="middle" fill="#222">0.30</text>
<line x1="137.5" y1="937.0" x2="137.5" y2="938.6" stroke="#666" stroke-width="0.7"/>
<line x1="163.6" y1="937.0" x2="163.6" y2="938.6" stroke="#666" stroke-width="0.7"/>
<line x1="189.7" y1="937.0" x2="189.7" y2="938.6" stroke="#666" stroke-width="0.7"/>
<line x1="215.8" y1="937.0" x2="215.8" y2="938.6" stroke="#666" stroke-width="0.7"/>
<line x1="241.9" y1="937.0" x2="241.9" y2="938.6" stroke="#666" stroke-width="0.7"/>
<text x="197.50" y="956.60" font-size="7.6" text-anchor="middle" fill="#222">Percent of genes</text>
<text x="273.20" y="680.30" font-size="7.6" text-anchor="start" fill="#222">Gene Number</text>
<circle cx="284.0" cy="693.6" r="1.2" fill="#000"/>
<text x="291.30" y="696.20" font-size="7.6" text-anchor="start" fill="#222">1</text>
<circle cx="284.0" cy="721.9" r="1.5" fill="#000"/>
<text x="291.30" y="724.50" font-size="7.6" text-anchor="start" fill="#222">19</text>
<circle cx="284.0" cy="750.5" r="2.7" fill="#000"/>
<text x="291.30" y="753.10" font-size="7.6" text-anchor="start" fill="#222">190</text>
<text x="273.20" y="775.00" font-size="7.6" text-anchor="start" fill="#222">p-value</text>
<defs><linearGradient id="cbH" x1="0" y1="0" x2="0" y2="1"><stop offset="0.000" stop-color="#313695"/><stop offset="0.091" stop-color="#436fb1"/><stop offset="0.205" stop-color="#77afd2"/><stop offset="0.318" stop-color="#b5deec"/><stop offset="0.432" stop-color="#eaf7e6"/><stop offset="0.545" stop-color="#fff1aa"/><stop offset="0.659" stop-color="#fdc274"/><stop offset="0.773" stop-color="#f67f4b"/><stop offset="0.886" stop-color="#db382b"/><stop offset="1.000" stop-color="#a50026"/></linearGradient></defs>
<rect x="276.7" y="784.1" width="14" height="75.0" fill="url(#cbH)"/>
<text x="291.90" y="791.10" font-size="7.6" text-anchor="start" fill="#222">0.8</text>
<text x="291.90" y="808.60" font-size="7.6" text-anchor="start" fill="#222">0.6</text>
<text x="291.90" y="826.10" font-size="7.6" text-anchor="start" fill="#222">0.4</text>
<text x="291.90" y="843.60" font-size="7.6" text-anchor="start" fill="#222">0.2</text>
<text x="291.90" y="861.10" font-size="7.6" text-anchor="start" fill="#222">0</text>
<text x="276.00" y="876.60" font-size="7.6" text-anchor="start" fill="#222">Group</text>
<circle cx="273.59999999999997" cy="887.5" r="2.3" fill="#000"/>
<text x="282.60" y="889.70" font-size="7.6" text-anchor="start" fill="#222">Untreated NIID</text>
<text x="282.60" y="898.40" font-size="7.6" text-anchor="start" fill="#222">vs Control</text>
<path d="M273.7 906.3L276.2 910.7L271.2 910.7Z" fill="#000"/>
<text x="282.60" y="911.20" font-size="7.6" text-anchor="start" fill="#222">Treated NIID</text>
<text x="282.60" y="919.90" font-size="7.6" text-anchor="start" fill="#222">vs Control</text>
<text x="362.00" y="666.90" font-size="15" text-anchor="start" fill="#000" font-weight="bold">I</text>
<line x1="490.4" y1="667.8" x2="490.4" y2="936.4" stroke="#ebebeb" stroke-width="0.6"/>
<line x1="501.9" y1="667.8" x2="501.9" y2="936.4" stroke="#ebebeb" stroke-width="0.6"/>
<line x1="513.5" y1="667.8" x2="513.5" y2="936.4" stroke="#ebebeb" stroke-width="0.6"/>
<line x1="525.0" y1="667.8" x2="525.0" y2="936.4" stroke="#ebebeb" stroke-width="0.6"/>
<line x1="536.5" y1="667.8" x2="536.5" y2="936.4" stroke="#ebebeb" stroke-width="0.6"/>
<line x1="548.1" y1="667.8" x2="548.1" y2="936.4" stroke="#ebebeb" stroke-width="0.6"/>
<line x1="559.6" y1="667.8" x2="559.6" y2="936.4" stroke="#ebebeb" stroke-width="0.6"/>
<line x1="571.2" y1="667.8" x2="571.2" y2="936.4" stroke="#ebebeb" stroke-width="0.6"/>
<line x1="582.8" y1="667.8" x2="582.8" y2="936.4" stroke="#ebebeb" stroke-width="0.6"/>
<line x1="594.3" y1="667.8" x2="594.3" y2="936.4" stroke="#ebebeb" stroke-width="0.6"/>
<line x1="478.8" y1="680.2" x2="604.8" y2="680.2" stroke="#e8e8e8" stroke-width="0.7"/>
<line x1="478.8" y1="697.7" x2="604.8" y2="697.7" stroke="#e8e8e8" stroke-width="0.7"/>
<line x1="478.8" y1="715.2" x2="604.8" y2="715.2" stroke="#e8e8e8" stroke-width="0.7"/>
<line x1="478.8" y1="732.7" x2="604.8" y2="732.7" stroke="#e8e8e8" stroke-width="0.7"/>
<line x1="478.8" y1="750.1" x2="604.8" y2="750.1" stroke="#e8e8e8" stroke-width="0.7"/>
<line x1="478.8" y1="767.6" x2="604.8" y2="767.6" stroke="#e8e8e8" stroke-width="0.7"/>
<line x1="478.8" y1="785.4" x2="604.8" y2="785.4" stroke="#e8e8e8" stroke-width="0.7"/>
<line x1="478.8" y1="802.9" x2="604.8" y2="802.9" stroke="#e8e8e8" stroke-width="0.7"/>
<line x1="478.8" y1="820.3" x2="604.8" y2="820.3" stroke="#e8e8e8" stroke-width="0.7"/>
<line x1="478.8" y1="837.8" x2="604.8" y2="837.8" stroke="#e8e8e8" stroke-width="0.7"/>
<line x1="478.8" y1="855.3" x2="604.8" y2="855.3" stroke="#e8e8e8" stroke-width="0.7"/>
<line x1="478.8" y1="872.8" x2="604.8" y2="872.8" stroke="#e8e8e8" stroke-width="0.7"/>
<line x1="478.8" y1="890.2" x2="604.8" y2="890.2" stroke="#e8e8e8" stroke-width="0.7"/>
<line x1="478.8" y1="907.7" x2="604.8" y2="907.7" stroke="#e8e8e8" stroke-width="0.7"/>
<line x1="478.8" y1="925.3" x2="604.8" y2="925.3" stroke="#e8e8e8" stroke-width="0.7"/>
<path d="M478.8 667.8 V936.4 H604.8 V667.8 Z" stroke="#666" stroke-width="1" fill="none"/>
<line x1="477.0" y1="680.2" x2="478.8" y2="680.2" stroke="#666" stroke-width="0.7"/>
<text x="475.00" y="682.80" font-size="7.6" text-anchor="end" fill="#222">Immune system process</text>
<path d="M496.5 678.2L498.4 681.6L494.6 681.6Z" fill="#a50026"/>
<circle cx="536.9" cy="680.2" r="3.00" fill="#a50026"/>
<line x1="477.0" y1="697.7" x2="478.8" y2="697.7" stroke="#666" stroke-width="0.7"/>
<text x="475.00" y="700.30" font-size="7.6" text-anchor="end" fill="#222">Immune response</text>
<path d="M497.0 695.7L498.9 699.1L495.1 699.1Z" fill="#c11b27"/>
<circle cx="536.3" cy="697.7" r="2.80" fill="#a50026"/>
<line x1="477.0" y1="715.2" x2="478.8" y2="715.2" stroke="#666" stroke-width="0.7"/>
<text x="475.00" y="717.80" font-size="7.6" text-anchor="end" fill="#222">Inflammatory response</text>
<path d="M498.3 713.2L500.2 716.6L496.4 716.6Z" fill="#d22c27"/>
<circle cx="548.0" cy="715.2" r="2.20" fill="#ab0526"/>
<line x1="477.0" y1="732.7" x2="478.8" y2="732.7" stroke="#666" stroke-width="0.7"/>
<text x="475.00" y="735.30" font-size="7.6" text-anchor="end" fill="#222">Immune effector process</text>
<path d="M497.0 730.7L498.9 734.1L495.1 734.1Z" fill="#f88e52"/>
<circle cx="538.5" cy="732.7" r="2.10" fill="#ab0526"/>
<line x1="477.0" y1="750.1" x2="478.8" y2="750.1" stroke="#666" stroke-width="0.7"/>
<text x="475.00" y="746.40" font-size="7.6" text-anchor="end" fill="#222">Immune response-regulating</text>
<text x="475.00" y="755.40" font-size="7.6" text-anchor="end" fill="#222">signaling pathway</text>
<path d="M495.2 748.1L497.1 751.5L493.3 751.5Z" fill="#f4fbd2"/>
<circle cx="544.3" cy="750.1" r="2.00" fill="#ab0526"/>
<line x1="477.0" y1="767.6" x2="478.8" y2="767.6" stroke="#666" stroke-width="0.7"/>
<text x="475.00" y="765.00" font-size="7.6" text-anchor="end" fill="#222">Immune response-activating</text>
<text x="475.00" y="774.10" font-size="7.6" text-anchor="end" fill="#222">signaling pathway</text>
<path d="M494.6 765.6L496.5 769.0L492.7 769.0Z" fill="#b5deec"/>
<circle cx="542.1" cy="767.6" r="1.90" fill="#ab0526"/>
<line x1="477.0" y1="785.4" x2="478.8" y2="785.4" stroke="#666" stroke-width="0.7"/>
<text x="475.00" y="783.30" font-size="7.6" text-anchor="end" fill="#222">Immune response-regulating cell</text>
<text x="475.00" y="792.30" font-size="7.6" text-anchor="end" fill="#222">surface receptor signaling pathway</text>
<path d="M494.3 783.4L496.2 786.8L492.4 786.8Z" fill="#6ba3cc"/>
<circle cx="542.4" cy="785.4" r="1.70" fill="#ab0526"/>
<line x1="477.0" y1="802.9" x2="478.8" y2="802.9" stroke="#666" stroke-width="0.7"/>
<text x="475.00" y="801.50" font-size="7.6" text-anchor="end" fill="#222">Immune response-activating cell</text>
<text x="475.00" y="810.90" font-size="7.6" text-anchor="end" fill="#222">surface receptor signaling pathway</text>
<path d="M493.4 800.9L495.3 804.3L491.5 804.3Z" fill="#3f61aa"/>
<circle cx="541.8" cy="802.9" r="1.80" fill="#ab0526"/>
<line x1="477.0" y1="820.3" x2="478.8" y2="820.3" stroke="#666" stroke-width="0.7"/>
<text x="475.00" y="822.90" font-size="7.6" text-anchor="end" fill="#222">Immune receptor activity</text>
<path d="M501.4 818.3L503.3 821.7L499.5 821.7Z" fill="#f67f4b"/>
<circle cx="554.7" cy="820.3" r="1.80" fill="#ab0526"/>
<line x1="477.0" y1="837.8" x2="478.8" y2="837.8" stroke="#666" stroke-width="0.7"/>
<text x="475.00" y="840.40" font-size="7.6" text-anchor="end" fill="#222">Viral process</text>
<path d="M494.9 835.8L496.8 839.2L493.0 839.2Z" fill="#d3ecf4"/>
<circle cx="535.7" cy="837.8" r="1.90" fill="#ab0526"/>
<line x1="477.0" y1="855.3" x2="478.8" y2="855.3" stroke="#666" stroke-width="0.7"/>
<text x="475.00" y="857.90" font-size="7.6" text-anchor="end" fill="#222">Viral transcription</text>
<circle cx="564.8" cy="855.3" r="1.50" fill="#ab0526"/>
<line x1="477.0" y1="872.8" x2="478.8" y2="872.8" stroke="#666" stroke-width="0.7"/>
<text x="475.00" y="875.40" font-size="7.6" text-anchor="end" fill="#222">Immune system development</text>
<path d="M492.8 870.8L494.7 874.2L490.9 874.2Z" fill="#36449c"/>
<circle cx="537.5" cy="872.8" r="1.90" fill="#ab0526"/>
<line x1="477.0" y1="890.2" x2="478.8" y2="890.2" stroke="#666" stroke-width="0.7"/>
<text x="475.00" y="892.80" font-size="7.6" text-anchor="end" fill="#222">Viral life cycle</text>
<path d="M496.5 888.2L498.4 891.6L494.6 891.6Z" fill="#fbfec5"/>
<circle cx="532.0" cy="890.2" r="1.80" fill="#b00b26"/>
<line x1="477.0" y1="907.7" x2="478.8" y2="907.7" stroke="#666" stroke-width="0.7"/>
<text x="475.00" y="905.30" font-size="7.6" text-anchor="end" fill="#222">Inflammatory response to</text>
<text x="475.00" y="914.20" font-size="7.6" text-anchor="end" fill="#222">antigenic stimulus</text>
<path d="M506.6 905.7L508.5 909.1L504.7 909.1Z" fill="#f67f4b"/>
<circle cx="535.1" cy="907.7" r="1.70" fill="#f67f4b"/>
<line x1="477.0" y1="925.3" x2="478.8" y2="925.3" stroke="#666" stroke-width="0.7"/>
<text x="475.00" y="927.90" font-size="7.6" text-anchor="end" fill="#222">Viral genome replication</text>
<path d="M498.2 923.3L500.1 926.7L496.3 926.7Z" fill="#fff8b4"/>
<circle cx="527.8" cy="925.3" r="1.70" fill="#fedf8f"/>
<text x="476.60" y="945.20" font-size="7.3" text-anchor="middle" fill="#222">0.00</text>
<text x="502.60" y="945.20" font-size="7.3" text-anchor="middle" fill="#222">0.08</text>
<text x="528.40" y="945.20" font-size="7.3" text-anchor="middle" fill="#222">0.16</text>
<text x="553.90" y="945.20" font-size="7.3" text-anchor="middle" fill="#222">0.24</text>
<text x="579.50" y="945.20" font-size="7.3" text-anchor="middle" fill="#222">0.32</text>
<text x="605.30" y="945.20" font-size="7.3" text-anchor="middle" fill="#222">0.40</text>
<line x1="490.4" y1="936.4" x2="490.4" y2="938.0" stroke="#666" stroke-width="0.7"/>
<line x1="513.4" y1="936.4" x2="513.4" y2="938.0" stroke="#666" stroke-width="0.7"/>
<line x1="536.4" y1="936.4" x2="536.4" y2="938.0" stroke="#666" stroke-width="0.7"/>
<line x1="559.4" y1="936.4" x2="559.4" y2="938.0" stroke="#666" stroke-width="0.7"/>
<line x1="582.4" y1="936.4" x2="582.4" y2="938.0" stroke="#666" stroke-width="0.7"/>
<text x="538.90" y="956.00" font-size="7.6" text-anchor="middle" fill="#222">Percent of genes</text>
<text x="610.80" y="680.30" font-size="7.6" text-anchor="start" fill="#222">Gene Number</text>
<circle cx="616.6999999999999" cy="692.3" r="1.2" fill="#000"/>
<text x="623.10" y="694.90" font-size="7.6" text-anchor="start" fill="#222">1</text>
<circle cx="616.6999999999999" cy="720.5" r="1.5" fill="#000"/>
<text x="623.10" y="723.10" font-size="7.6" text-anchor="start" fill="#222">25</text>
<circle cx="616.6999999999999" cy="749.0" r="3.2" fill="#000"/>
<text x="623.10" y="751.60" font-size="7.6" text-anchor="start" fill="#222">455</text>
<text x="610.80" y="770.50" font-size="7.6" text-anchor="start" fill="#222">p-value</text>
<defs><linearGradient id="cbI" x1="0" y1="0" x2="0" y2="1"><stop offset="0.000" stop-color="#313695"/><stop offset="0.091" stop-color="#436fb1"/><stop offset="0.205" stop-color="#77afd2"/><stop offset="0.318" stop-color="#b5deec"/><stop offset="0.432" stop-color="#eaf7e6"/><stop offset="0.545" stop-color="#fff1aa"/><stop offset="0.659" stop-color="#fdc274"/><stop offset="0.773" stop-color="#f67f4b"/><stop offset="0.886" stop-color="#db382b"/><stop offset="1.000" stop-color="#a50026"/></linearGradient></defs>
<rect x="615.0" y="782.0" width="14" height="74.20000000000005" fill="url(#cbI)"/>
<text x="631.20" y="789.20" font-size="7.6" text-anchor="start" fill="#222">0.8</text>
<text x="631.20" y="806.40" font-size="7.6" text-anchor="start" fill="#222">0.6</text>
<text x="631.20" y="823.90" font-size="7.6" text-anchor="start" fill="#222">0.4</text>
<text x="631.20" y="841.00" font-size="7.6" text-anchor="start" fill="#222">0.2</text>
<text x="631.20" y="857.90" font-size="7.6" text-anchor="start" fill="#222">0</text>
<text x="615.90" y="873.10" font-size="7.6" text-anchor="start" fill="#222">Group</text>
<circle cx="612.9999999999999" cy="882.7" r="2.3" fill="#000"/>
<text x="622.00" y="884.90" font-size="7.6" text-anchor="start" fill="#222">Untreated NIID</text>
<text x="622.00" y="893.60" font-size="7.6" text-anchor="start" fill="#222">vs Control</text>
<path d="M613.1 901.5L615.6 905.9L610.6 905.9Z" fill="#000"/>
<text x="622.00" y="906.40" font-size="7.6" text-anchor="start" fill="#222">Treated NIID</text>
<text x="622.00" y="915.10" font-size="7.6" text-anchor="start" fill="#222">vs Control</text>
</svg>
</body></html>
